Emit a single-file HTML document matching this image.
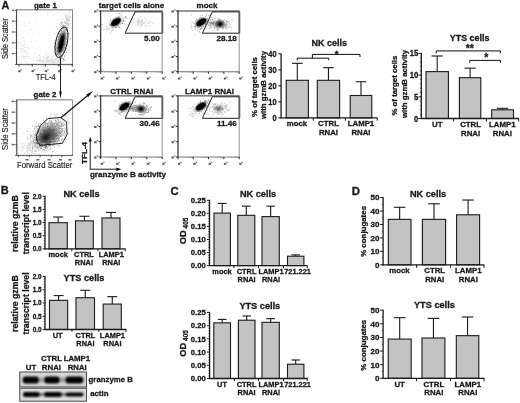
<!DOCTYPE html>
<html><head><meta charset="utf-8"><title>Figure</title>
<style>html,body{margin:0;padding:0;background:#fff;}svg{display:block;font-family:"Liberation Sans", sans-serif;}text{font-family:"Liberation Sans",sans-serif;}</style></head><body>
<svg width="520" height="403" viewBox="0 0 520 403">
<defs><radialGradient id="gb"><stop offset="0" stop-color="#000" stop-opacity="1"/><stop offset="0.45" stop-color="#111" stop-opacity="0.9"/><stop offset="0.8" stop-color="#333" stop-opacity="0.4"/><stop offset="1" stop-color="#555" stop-opacity="0"/></radialGradient><radialGradient id="gl"><stop offset="0" stop-color="#222" stop-opacity="0.75"/><stop offset="0.6" stop-color="#444" stop-opacity="0.35"/><stop offset="1" stop-color="#666" stop-opacity="0"/></radialGradient><filter id="bl" x="-20%" y="-20%" width="140%" height="140%"><feGaussianBlur stdDeviation="0.8"/></filter><filter id="bl5" x="-30%" y="-30%" width="160%" height="160%"><feGaussianBlur stdDeviation="0.7"/></filter><filter id="bl10" x="-30%" y="-30%" width="160%" height="160%"><feGaussianBlur stdDeviation="1.3"/></filter><filter id="soft" x="-5%" y="-5%" width="110%" height="110%"><feGaussianBlur stdDeviation="0.42"/></filter></defs>
<rect width="520" height="403" fill="#fff"/>
<g filter="url(#soft)">
<text transform="translate(1.4 9.2)" font-size="10.8" font-weight="bold" text-anchor="start" fill="#1a1a1a" stroke="#1a1a1a" stroke-width="0.3">A</text>
<text transform="translate(45.4 7.6)" font-size="7.9" font-weight="bold" text-anchor="middle" fill="#1a1a1a" stroke="#1a1a1a" stroke-width="0.3">gate 1</text>
<text transform="translate(8.3 38.7) rotate(-90) scale(0.87 1)" font-size="8.6" font-weight="normal" text-anchor="middle" fill="#1a1a1a" stroke="#1a1a1a" stroke-width="0.15">Side Scatter</text>
<text transform="translate(45.7 80.3) scale(0.82 1)" font-size="9.2" font-weight="normal" text-anchor="middle" fill="#1a1a1a" stroke="#1a1a1a" stroke-width="0.15">TFL-4</text>
<path d="M35.1 18.7h0.8v0.8h-0.8zM52.7 14.6h0.8v0.8h-0.8zM46.5 30.0h0.8v0.8h-0.8zM20.7 37.5h0.8v0.8h-0.8zM19.6 33.6h0.8v0.8h-0.8zM21.4 15.6h0.8v0.8h-0.8zM40.5 54.3h0.8v0.8h-0.8zM24.3 22.5h0.8v0.8h-0.8zM51.4 60.6h0.8v0.8h-0.8zM48.7 31.7h0.8v0.8h-0.8zM70.2 13.3h0.8v0.8h-0.8zM63.9 26.0h0.8v0.8h-0.8zM25.4 17.0h0.8v0.8h-0.8zM34.2 53.7h0.8v0.8h-0.8zM27.3 41.4h0.8v0.8h-0.8zM52.0 30.4h0.8v0.8h-0.8zM47.1 14.1h0.8v0.8h-0.8zM20.8 21.6h0.8v0.8h-0.8zM54.3 33.3h0.8v0.8h-0.8zM34.5 41.6h0.8v0.8h-0.8zM42.0 26.6h0.8v0.8h-0.8zM60.4 47.6h0.8v0.8h-0.8zM30.8 41.0h0.8v0.8h-0.8zM45.9 56.8h0.8v0.8h-0.8zM56.9 25.9h0.8v0.8h-0.8zM70.4 17.0h0.8v0.8h-0.8zM40.1 50.6h0.8v0.8h-0.8zM25.8 36.5h0.8v0.8h-0.8zM19.7 45.9h0.8v0.8h-0.8zM58.8 40.9h0.8v0.8h-0.8zM64.8 27.3h0.8v0.8h-0.8zM55.1 42.1h0.8v0.8h-0.8zM48.9 34.8h0.8v0.8h-0.8zM62.9 60.5h0.8v0.8h-0.8zM43.2 45.7h0.8v0.8h-0.8zM20.9 47.7h0.8v0.8h-0.8zM52.5 63.0h0.8v0.8h-0.8zM61.9 25.8h0.8v0.8h-0.8zM38.4 46.0h0.8v0.8h-0.8zM18.8 35.1h0.8v0.8h-0.8zM26.7 17.0h0.8v0.8h-0.8zM20.8 51.2h0.8v0.8h-0.8zM24.6 23.8h0.8v0.8h-0.8zM38.7 56.6h0.8v0.8h-0.8zM21.9 34.4h0.8v0.8h-0.8zM47.2 57.3h0.8v0.8h-0.8zM61.8 56.2h0.8v0.8h-0.8zM32.6 32.6h0.8v0.8h-0.8zM36.9 57.3h0.8v0.8h-0.8zM69.2 18.7h0.8v0.8h-0.8zM27.1 23.0h0.8v0.8h-0.8zM30.2 36.3h0.8v0.8h-0.8zM49.4 24.6h0.8v0.8h-0.8zM17.8 32.8h0.8v0.8h-0.8zM37.5 40.6h0.8v0.8h-0.8zM69.0 47.1h0.8v0.8h-0.8zM45.4 43.3h0.8v0.8h-0.8zM54.0 13.6h0.8v0.8h-0.8zM66.1 51.8h0.8v0.8h-0.8zM64.7 52.8h0.8v0.8h-0.8zM38.7 31.8h0.8v0.8h-0.8zM23.2 44.2h0.8v0.8h-0.8zM21.0 14.3h0.8v0.8h-0.8zM28.9 19.3h0.8v0.8h-0.8zM35.9 13.6h0.8v0.8h-0.8zM17.6 18.8h0.8v0.8h-0.8zM23.1 29.9h0.8v0.8h-0.8zM19.0 56.8h0.8v0.8h-0.8zM50.7 18.6h0.8v0.8h-0.8zM31.2 29.1h0.8v0.8h-0.8zM37.2 17.3h0.8v0.8h-0.8zM63.4 63.0h0.8v0.8h-0.8zM42.7 36.2h0.8v0.8h-0.8zM22.2 16.2h0.8v0.8h-0.8zM36.1 24.7h0.8v0.8h-0.8zM62.3 19.3h0.8v0.8h-0.8zM18.8 60.8h0.8v0.8h-0.8zM46.1 18.5h0.8v0.8h-0.8zM46.9 12.2h0.8v0.8h-0.8zM46.1 62.3h0.8v0.8h-0.8zM64.1 47.4h0.8v0.8h-0.8zM31.7 30.1h0.8v0.8h-0.8zM26.6 51.4h0.8v0.8h-0.8zM46.3 51.8h0.8v0.8h-0.8zM35.4 22.5h0.8v0.8h-0.8zM61.3 62.6h0.8v0.8h-0.8zM63.6 53.2h0.8v0.8h-0.8zM61.7 49.7h0.8v0.8h-0.8zM29.8 38.0h0.8v0.8h-0.8zM36.8 12.3h0.8v0.8h-0.8zM19.1 25.5h0.8v0.8h-0.8zM31.6 47.2h0.8v0.8h-0.8zM69.2 34.3h0.8v0.8h-0.8zM68.1 62.8h0.8v0.8h-0.8zM69.1 30.0h0.8v0.8h-0.8zM29.5 22.7h0.8v0.8h-0.8zM28.2 21.6h0.8v0.8h-0.8zM51.2 58.2h0.8v0.8h-0.8zM62.9 36.0h0.8v0.8h-0.8zM52.8 52.9h0.8v0.8h-0.8zM22.2 45.5h0.8v0.8h-0.8zM66.6 51.9h0.8v0.8h-0.8zM58.0 35.9h0.8v0.8h-0.8zM27.2 52.3h0.8v0.8h-0.8zM35.5 52.9h0.8v0.8h-0.8zM70.0 31.6h0.8v0.8h-0.8zM39.2 60.6h0.8v0.8h-0.8zM56.7 19.7h0.8v0.8h-0.8zM24.4 18.8h0.8v0.8h-0.8zM66.4 53.2h0.8v0.8h-0.8z" fill="#222" fill-opacity="0.13"/>
<path d="M26.3 62.4h0.9v0.9h-0.9zM27.1 47.4h0.9v0.9h-0.9zM21.6 58.2h0.9v0.9h-0.9zM23.8 50.1h0.9v0.9h-0.9zM27.1 46.6h0.9v0.9h-0.9zM17.8 45.5h0.9v0.9h-0.9zM18.9 56.4h0.9v0.9h-0.9zM24.3 43.5h0.9v0.9h-0.9zM23.5 56.5h0.9v0.9h-0.9zM23.7 60.9h0.9v0.9h-0.9zM23.3 58.4h0.9v0.9h-0.9zM27.2 63.5h0.9v0.9h-0.9zM21.8 56.9h0.9v0.9h-0.9zM18.8 39.2h0.9v0.9h-0.9zM18.6 58.6h0.9v0.9h-0.9zM20.4 48.9h0.9v0.9h-0.9zM23.0 48.7h0.9v0.9h-0.9zM22.0 51.1h0.9v0.9h-0.9zM28.0 49.4h0.9v0.9h-0.9zM24.8 58.0h0.9v0.9h-0.9zM23.0 37.7h0.9v0.9h-0.9zM22.1 58.7h0.9v0.9h-0.9zM19.4 43.6h0.9v0.9h-0.9zM26.0 56.1h0.9v0.9h-0.9zM23.5 56.2h0.9v0.9h-0.9zM23.9 38.4h0.9v0.9h-0.9zM19.6 43.2h0.9v0.9h-0.9zM25.8 43.9h0.9v0.9h-0.9zM21.2 42.1h0.9v0.9h-0.9zM19.7 47.9h0.9v0.9h-0.9zM20.6 52.3h0.9v0.9h-0.9zM17.6 52.0h0.9v0.9h-0.9zM21.9 31.5h0.9v0.9h-0.9zM25.3 46.5h0.9v0.9h-0.9zM17.9 41.1h0.9v0.9h-0.9zM24.2 44.9h0.9v0.9h-0.9zM25.4 55.7h0.9v0.9h-0.9zM25.2 51.9h0.9v0.9h-0.9zM26.8 54.9h0.9v0.9h-0.9zM24.6 30.2h0.9v0.9h-0.9zM25.7 60.8h0.9v0.9h-0.9zM22.8 44.8h0.9v0.9h-0.9zM28.4 33.2h0.9v0.9h-0.9zM21.2 55.2h0.9v0.9h-0.9zM28.2 47.9h0.9v0.9h-0.9zM24.9 57.1h0.9v0.9h-0.9zM21.2 48.2h0.9v0.9h-0.9zM24.2 56.4h0.9v0.9h-0.9zM23.4 47.2h0.9v0.9h-0.9zM21.0 45.8h0.9v0.9h-0.9zM25.7 49.9h0.9v0.9h-0.9zM21.4 41.4h0.9v0.9h-0.9zM30.2 59.3h0.9v0.9h-0.9zM25.1 25.7h0.9v0.9h-0.9zM25.1 53.3h0.9v0.9h-0.9zM27.7 52.8h0.9v0.9h-0.9zM23.3 53.7h0.9v0.9h-0.9zM18.6 58.3h0.9v0.9h-0.9zM24.3 42.7h0.9v0.9h-0.9zM20.0 43.0h0.9v0.9h-0.9zM24.2 50.7h0.9v0.9h-0.9zM22.5 40.2h0.9v0.9h-0.9zM28.8 58.3h0.9v0.9h-0.9zM20.5 36.9h0.9v0.9h-0.9zM27.8 57.9h0.9v0.9h-0.9zM28.1 56.3h0.9v0.9h-0.9zM21.3 51.3h0.9v0.9h-0.9zM18.1 42.3h0.9v0.9h-0.9zM23.4 53.7h0.9v0.9h-0.9zM21.7 47.9h0.9v0.9h-0.9zM24.6 52.4h0.9v0.9h-0.9zM25.1 50.9h0.9v0.9h-0.9zM22.7 56.1h0.9v0.9h-0.9zM23.6 41.6h0.9v0.9h-0.9zM21.9 49.0h0.9v0.9h-0.9zM23.2 50.4h0.9v0.9h-0.9zM23.5 50.6h0.9v0.9h-0.9zM23.2 37.7h0.9v0.9h-0.9zM24.6 58.5h0.9v0.9h-0.9zM24.6 47.3h0.9v0.9h-0.9zM24.6 40.3h0.9v0.9h-0.9zM18.8 49.5h0.9v0.9h-0.9zM21.2 55.7h0.9v0.9h-0.9zM20.8 25.3h0.9v0.9h-0.9zM20.9 63.2h0.9v0.9h-0.9zM22.5 36.7h0.9v0.9h-0.9zM21.6 53.7h0.9v0.9h-0.9zM24.7 50.6h0.9v0.9h-0.9z" fill="#222" fill-opacity="0.14"/>
<path d="M59.9 61.8h0.9v0.9h-0.9zM47.8 61.5h0.9v0.9h-0.9zM61.2 62.4h0.9v0.9h-0.9zM56.2 57.3h0.9v0.9h-0.9zM46.8 61.8h0.9v0.9h-0.9zM45.6 62.7h0.9v0.9h-0.9zM52.8 62.3h0.9v0.9h-0.9zM57.9 59.5h0.9v0.9h-0.9zM45.3 62.2h0.9v0.9h-0.9zM55.8 60.0h0.9v0.9h-0.9zM38.7 60.5h0.9v0.9h-0.9zM50.9 62.8h0.9v0.9h-0.9zM54.3 60.1h0.9v0.9h-0.9zM54.8 61.3h0.9v0.9h-0.9zM49.6 60.1h0.9v0.9h-0.9zM46.1 61.7h0.9v0.9h-0.9zM39.6 58.4h0.9v0.9h-0.9zM48.0 56.3h0.9v0.9h-0.9zM44.5 55.0h0.9v0.9h-0.9zM42.5 61.4h0.9v0.9h-0.9zM52.5 59.9h0.9v0.9h-0.9zM46.1 56.5h0.9v0.9h-0.9zM62.6 61.3h0.9v0.9h-0.9zM56.7 57.8h0.9v0.9h-0.9zM46.5 55.5h0.9v0.9h-0.9zM54.2 62.3h0.9v0.9h-0.9zM32.8 59.9h0.9v0.9h-0.9zM53.0 55.6h0.9v0.9h-0.9zM33.4 57.3h0.9v0.9h-0.9zM43.0 56.5h0.9v0.9h-0.9zM48.3 60.6h0.9v0.9h-0.9zM53.1 61.8h0.9v0.9h-0.9zM60.0 62.9h0.9v0.9h-0.9zM37.5 58.7h0.9v0.9h-0.9zM39.5 57.3h0.9v0.9h-0.9zM47.3 60.0h0.9v0.9h-0.9zM51.9 56.0h0.9v0.9h-0.9zM38.1 59.9h0.9v0.9h-0.9zM46.4 59.2h0.9v0.9h-0.9zM47.5 58.1h0.9v0.9h-0.9zM53.6 60.9h0.9v0.9h-0.9zM47.3 58.3h0.9v0.9h-0.9zM46.6 53.2h0.9v0.9h-0.9zM40.1 60.1h0.9v0.9h-0.9zM36.0 60.5h0.9v0.9h-0.9zM49.2 56.6h0.9v0.9h-0.9zM46.0 59.2h0.9v0.9h-0.9zM51.7 61.5h0.9v0.9h-0.9zM47.7 57.9h0.9v0.9h-0.9zM46.8 59.8h0.9v0.9h-0.9zM53.9 60.7h0.9v0.9h-0.9zM42.2 56.6h0.9v0.9h-0.9zM45.0 58.1h0.9v0.9h-0.9zM39.1 59.7h0.9v0.9h-0.9zM44.1 60.3h0.9v0.9h-0.9zM52.2 59.0h0.9v0.9h-0.9zM66.6 59.2h0.9v0.9h-0.9zM56.8 60.3h0.9v0.9h-0.9zM56.9 54.1h0.9v0.9h-0.9zM42.0 60.6h0.9v0.9h-0.9zM50.6 63.2h0.9v0.9h-0.9zM54.1 62.4h0.9v0.9h-0.9zM52.1 59.6h0.9v0.9h-0.9zM52.1 57.3h0.9v0.9h-0.9zM57.5 57.5h0.9v0.9h-0.9zM46.2 60.0h0.9v0.9h-0.9zM57.3 60.1h0.9v0.9h-0.9zM41.5 60.6h0.9v0.9h-0.9zM52.7 61.8h0.9v0.9h-0.9zM41.8 64.4h0.9v0.9h-0.9zM61.3 60.0h0.9v0.9h-0.9zM50.1 58.9h0.9v0.9h-0.9zM59.3 58.2h0.9v0.9h-0.9zM53.4 58.8h0.9v0.9h-0.9zM42.4 61.8h0.9v0.9h-0.9zM58.7 60.0h0.9v0.9h-0.9zM42.6 62.0h0.9v0.9h-0.9zM47.6 60.8h0.9v0.9h-0.9zM60.2 62.8h0.9v0.9h-0.9zM48.0 62.0h0.9v0.9h-0.9zM42.8 59.9h0.9v0.9h-0.9zM58.9 57.0h0.9v0.9h-0.9zM36.0 55.9h0.9v0.9h-0.9zM57.4 58.9h0.9v0.9h-0.9zM47.5 59.2h0.9v0.9h-0.9zM47.0 57.3h0.9v0.9h-0.9zM48.2 56.4h0.9v0.9h-0.9zM47.4 60.8h0.9v0.9h-0.9zM51.7 59.4h0.9v0.9h-0.9zM40.8 60.4h0.9v0.9h-0.9zM44.1 63.9h0.9v0.9h-0.9zM54.1 59.7h0.9v0.9h-0.9zM44.2 58.2h0.9v0.9h-0.9zM40.5 59.1h0.9v0.9h-0.9zM50.4 61.3h0.9v0.9h-0.9zM42.4 60.0h0.9v0.9h-0.9zM70.4 55.3h0.9v0.9h-0.9zM43.8 60.4h0.9v0.9h-0.9zM49.2 61.0h0.9v0.9h-0.9zM46.1 60.9h0.9v0.9h-0.9zM48.4 61.9h0.9v0.9h-0.9zM32.9 57.8h0.9v0.9h-0.9zM48.0 57.4h0.9v0.9h-0.9zM39.6 61.6h0.9v0.9h-0.9zM42.8 61.6h0.9v0.9h-0.9zM54.0 60.8h0.9v0.9h-0.9zM52.1 59.7h0.9v0.9h-0.9zM36.7 59.9h0.9v0.9h-0.9zM51.6 58.7h0.9v0.9h-0.9zM47.2 61.9h0.9v0.9h-0.9zM41.0 61.6h0.9v0.9h-0.9zM62.9 58.6h0.9v0.9h-0.9zM49.2 59.6h0.9v0.9h-0.9zM60.3 60.8h0.9v0.9h-0.9zM55.2 58.3h0.9v0.9h-0.9zM47.9 60.0h0.9v0.9h-0.9zM33.8 63.6h0.9v0.9h-0.9zM55.2 55.6h0.9v0.9h-0.9zM54.0 59.7h0.9v0.9h-0.9zM51.6 60.9h0.9v0.9h-0.9zM36.0 59.5h0.9v0.9h-0.9zM59.9 58.6h0.9v0.9h-0.9zM39.8 56.6h0.9v0.9h-0.9zM38.2 60.8h0.9v0.9h-0.9zM61.5 61.1h0.9v0.9h-0.9zM43.8 58.3h0.9v0.9h-0.9zM52.2 61.4h0.9v0.9h-0.9zM39.9 57.1h0.9v0.9h-0.9zM50.3 60.6h0.9v0.9h-0.9zM37.5 59.5h0.9v0.9h-0.9zM43.7 61.2h0.9v0.9h-0.9zM47.1 59.8h0.9v0.9h-0.9zM45.2 62.6h0.9v0.9h-0.9zM59.1 59.1h0.9v0.9h-0.9zM54.8 58.1h0.9v0.9h-0.9zM48.6 61.9h0.9v0.9h-0.9zM60.1 59.0h0.9v0.9h-0.9zM47.4 60.5h0.9v0.9h-0.9zM36.0 60.0h0.9v0.9h-0.9zM42.6 60.9h0.9v0.9h-0.9zM39.0 55.1h0.9v0.9h-0.9zM48.3 60.7h0.9v0.9h-0.9zM43.6 62.2h0.9v0.9h-0.9zM45.8 58.5h0.9v0.9h-0.9zM51.8 56.1h0.9v0.9h-0.9zM42.6 59.9h0.9v0.9h-0.9zM54.8 59.6h0.9v0.9h-0.9zM50.5 58.4h0.9v0.9h-0.9zM50.4 64.2h0.9v0.9h-0.9zM42.8 60.0h0.9v0.9h-0.9zM49.4 62.6h0.9v0.9h-0.9zM38.1 54.7h0.9v0.9h-0.9zM52.8 62.0h0.9v0.9h-0.9zM49.6 60.6h0.9v0.9h-0.9zM55.4 60.9h0.9v0.9h-0.9zM61.3 56.9h0.9v0.9h-0.9zM45.0 51.4h0.9v0.9h-0.9zM54.5 59.1h0.9v0.9h-0.9zM48.0 59.4h0.9v0.9h-0.9z" fill="#222" fill-opacity="0.14"/>
<path d="M66.3 15.2h0.9v0.9h-0.9zM63.6 26.7h0.9v0.9h-0.9zM66.0 22.5h0.9v0.9h-0.9zM64.2 29.1h0.9v0.9h-0.9zM67.3 21.1h0.9v0.9h-0.9zM67.7 21.1h0.9v0.9h-0.9zM61.2 32.9h0.9v0.9h-0.9zM68.5 14.7h0.9v0.9h-0.9zM67.8 25.2h0.9v0.9h-0.9zM60.1 33.9h0.9v0.9h-0.9zM65.3 29.1h0.9v0.9h-0.9zM66.7 20.9h0.9v0.9h-0.9zM61.1 28.9h0.9v0.9h-0.9zM66.5 19.8h0.9v0.9h-0.9zM66.6 22.8h0.9v0.9h-0.9zM68.0 19.4h0.9v0.9h-0.9zM64.0 27.1h0.9v0.9h-0.9zM69.5 19.7h0.9v0.9h-0.9zM63.2 34.4h0.9v0.9h-0.9zM64.1 27.6h0.9v0.9h-0.9zM69.6 23.0h0.9v0.9h-0.9zM69.8 17.0h0.9v0.9h-0.9zM66.6 21.5h0.9v0.9h-0.9zM64.5 30.9h0.9v0.9h-0.9zM72.2 17.8h0.9v0.9h-0.9zM64.0 25.6h0.9v0.9h-0.9zM62.9 25.4h0.9v0.9h-0.9zM67.7 20.1h0.9v0.9h-0.9zM69.6 10.1h0.9v0.9h-0.9zM70.1 10.2h0.9v0.9h-0.9zM65.4 17.3h0.9v0.9h-0.9zM63.8 28.6h0.9v0.9h-0.9zM66.8 18.9h0.9v0.9h-0.9zM64.7 34.6h0.9v0.9h-0.9zM65.4 24.9h0.9v0.9h-0.9zM68.2 24.6h0.9v0.9h-0.9zM59.3 41.0h0.9v0.9h-0.9zM65.3 25.3h0.9v0.9h-0.9zM67.0 27.7h0.9v0.9h-0.9zM67.1 13.6h0.9v0.9h-0.9zM64.6 30.1h0.9v0.9h-0.9zM65.3 13.5h0.9v0.9h-0.9zM66.1 18.5h0.9v0.9h-0.9zM68.1 16.7h0.9v0.9h-0.9zM64.7 18.5h0.9v0.9h-0.9zM66.9 16.8h0.9v0.9h-0.9zM64.8 27.9h0.9v0.9h-0.9zM65.8 35.9h0.9v0.9h-0.9zM65.0 18.4h0.9v0.9h-0.9zM57.6 35.8h0.9v0.9h-0.9zM64.5 21.4h0.9v0.9h-0.9zM69.3 11.6h0.9v0.9h-0.9zM67.0 22.0h0.9v0.9h-0.9zM61.6 23.5h0.9v0.9h-0.9zM67.4 24.0h0.9v0.9h-0.9zM66.3 25.7h0.9v0.9h-0.9zM69.2 20.8h0.9v0.9h-0.9zM68.5 19.2h0.9v0.9h-0.9zM68.9 15.9h0.9v0.9h-0.9zM63.0 35.5h0.9v0.9h-0.9zM67.2 21.0h0.9v0.9h-0.9zM64.8 15.3h0.9v0.9h-0.9zM64.9 29.5h0.9v0.9h-0.9zM66.1 26.3h0.9v0.9h-0.9zM63.8 32.6h0.9v0.9h-0.9zM66.0 17.5h0.9v0.9h-0.9zM67.8 22.9h0.9v0.9h-0.9zM66.3 17.4h0.9v0.9h-0.9zM64.5 26.8h0.9v0.9h-0.9zM68.7 12.7h0.9v0.9h-0.9zM66.6 23.6h0.9v0.9h-0.9zM62.6 27.6h0.9v0.9h-0.9zM65.9 19.2h0.9v0.9h-0.9zM65.6 32.7h0.9v0.9h-0.9zM63.8 25.1h0.9v0.9h-0.9zM60.4 39.8h0.9v0.9h-0.9zM63.0 31.2h0.9v0.9h-0.9zM63.3 28.1h0.9v0.9h-0.9zM64.3 25.7h0.9v0.9h-0.9zM66.9 16.7h0.9v0.9h-0.9zM70.5 23.6h0.9v0.9h-0.9zM61.1 28.0h0.9v0.9h-0.9zM60.5 30.3h0.9v0.9h-0.9zM64.5 22.9h0.9v0.9h-0.9zM68.5 23.5h0.9v0.9h-0.9zM67.4 28.3h0.9v0.9h-0.9zM62.9 28.4h0.9v0.9h-0.9zM66.0 27.3h0.9v0.9h-0.9zM61.6 18.6h0.9v0.9h-0.9zM66.8 28.1h0.9v0.9h-0.9zM65.6 25.9h0.9v0.9h-0.9zM65.2 22.1h0.9v0.9h-0.9zM68.6 18.9h0.9v0.9h-0.9zM69.7 16.3h0.9v0.9h-0.9zM67.4 18.0h0.9v0.9h-0.9zM67.4 16.7h0.9v0.9h-0.9zM60.8 29.9h0.9v0.9h-0.9zM67.5 17.8h0.9v0.9h-0.9zM64.9 29.9h0.9v0.9h-0.9zM64.1 20.7h0.9v0.9h-0.9zM66.3 26.4h0.9v0.9h-0.9zM68.2 25.1h0.9v0.9h-0.9zM66.5 19.8h0.9v0.9h-0.9zM67.2 18.8h0.9v0.9h-0.9zM65.0 15.8h0.9v0.9h-0.9zM65.7 16.9h0.9v0.9h-0.9zM62.5 26.5h0.9v0.9h-0.9zM62.1 26.6h0.9v0.9h-0.9zM63.3 24.3h0.9v0.9h-0.9zM68.6 24.2h0.9v0.9h-0.9zM64.3 22.1h0.9v0.9h-0.9zM64.4 23.0h0.9v0.9h-0.9zM64.9 22.4h0.9v0.9h-0.9zM66.4 28.3h0.9v0.9h-0.9zM67.0 27.0h0.9v0.9h-0.9zM65.4 21.7h0.9v0.9h-0.9zM65.9 19.4h0.9v0.9h-0.9zM65.3 21.7h0.9v0.9h-0.9zM63.9 21.4h0.9v0.9h-0.9zM67.4 20.9h0.9v0.9h-0.9zM63.9 43.2h0.9v0.9h-0.9zM60.4 21.9h0.9v0.9h-0.9zM67.6 19.9h0.9v0.9h-0.9zM67.2 25.3h0.9v0.9h-0.9zM67.0 17.4h0.9v0.9h-0.9zM68.1 18.5h0.9v0.9h-0.9zM67.3 18.1h0.9v0.9h-0.9zM61.2 20.8h0.9v0.9h-0.9zM65.2 28.0h0.9v0.9h-0.9zM64.2 21.4h0.9v0.9h-0.9zM67.1 23.4h0.9v0.9h-0.9zM65.5 38.2h0.9v0.9h-0.9zM65.4 34.4h0.9v0.9h-0.9zM66.7 28.8h0.9v0.9h-0.9zM65.8 16.1h0.9v0.9h-0.9z" fill="#222" fill-opacity="0.2"/>
<path d="M65.1 35.4h0.9v0.9h-0.9zM58.4 33.3h0.9v0.9h-0.9zM64.4 59.8h0.9v0.9h-0.9zM60.8 36.1h0.9v0.9h-0.9zM63.2 36.4h0.9v0.9h-0.9zM64.8 42.5h0.9v0.9h-0.9zM56.3 52.8h0.9v0.9h-0.9zM59.4 44.0h0.9v0.9h-0.9zM61.8 39.9h0.9v0.9h-0.9zM63.3 36.9h0.9v0.9h-0.9zM60.3 23.2h0.9v0.9h-0.9zM59.4 35.5h0.9v0.9h-0.9zM61.1 42.9h0.9v0.9h-0.9zM62.5 43.8h0.9v0.9h-0.9zM60.5 36.2h0.9v0.9h-0.9zM56.2 40.0h0.9v0.9h-0.9zM61.6 47.2h0.9v0.9h-0.9zM61.3 41.0h0.9v0.9h-0.9zM63.7 43.1h0.9v0.9h-0.9zM62.2 47.7h0.9v0.9h-0.9zM59.6 53.5h0.9v0.9h-0.9zM60.4 39.2h0.9v0.9h-0.9zM60.6 35.4h0.9v0.9h-0.9zM62.3 58.0h0.9v0.9h-0.9zM60.4 47.2h0.9v0.9h-0.9zM62.9 49.8h0.9v0.9h-0.9zM66.5 32.6h0.9v0.9h-0.9zM58.9 45.9h0.9v0.9h-0.9zM64.8 44.1h0.9v0.9h-0.9zM59.7 39.1h0.9v0.9h-0.9zM61.1 35.0h0.9v0.9h-0.9zM66.2 38.1h0.9v0.9h-0.9zM57.7 60.5h0.9v0.9h-0.9zM63.8 45.9h0.9v0.9h-0.9zM59.0 45.6h0.9v0.9h-0.9zM64.4 48.5h0.9v0.9h-0.9zM64.3 44.0h0.9v0.9h-0.9zM63.0 41.1h0.9v0.9h-0.9zM60.2 53.6h0.9v0.9h-0.9zM57.8 41.2h0.9v0.9h-0.9zM62.9 37.9h0.9v0.9h-0.9zM59.2 48.9h0.9v0.9h-0.9zM65.3 48.8h0.9v0.9h-0.9zM64.8 29.7h0.9v0.9h-0.9zM66.1 44.1h0.9v0.9h-0.9zM63.1 33.2h0.9v0.9h-0.9zM63.0 33.3h0.9v0.9h-0.9zM60.7 46.4h0.9v0.9h-0.9zM60.9 44.8h0.9v0.9h-0.9zM56.7 54.0h0.9v0.9h-0.9zM62.7 27.0h0.9v0.9h-0.9zM62.1 36.0h0.9v0.9h-0.9zM59.3 39.0h0.9v0.9h-0.9zM64.0 32.8h0.9v0.9h-0.9zM58.5 54.3h0.9v0.9h-0.9zM63.3 41.6h0.9v0.9h-0.9zM61.8 41.6h0.9v0.9h-0.9zM59.9 48.6h0.9v0.9h-0.9zM65.1 22.4h0.9v0.9h-0.9zM62.7 35.1h0.9v0.9h-0.9zM64.0 37.8h0.9v0.9h-0.9zM58.0 60.7h0.9v0.9h-0.9zM60.5 32.6h0.9v0.9h-0.9zM61.7 21.8h0.9v0.9h-0.9zM55.9 44.6h0.9v0.9h-0.9zM62.8 26.6h0.9v0.9h-0.9zM56.5 46.9h0.9v0.9h-0.9zM59.9 39.0h0.9v0.9h-0.9zM59.9 54.0h0.9v0.9h-0.9zM64.5 52.1h0.9v0.9h-0.9zM61.4 44.1h0.9v0.9h-0.9zM63.5 55.3h0.9v0.9h-0.9zM59.7 46.2h0.9v0.9h-0.9zM61.9 43.1h0.9v0.9h-0.9zM62.3 31.2h0.9v0.9h-0.9zM62.5 29.4h0.9v0.9h-0.9zM63.5 47.6h0.9v0.9h-0.9zM55.9 53.5h0.9v0.9h-0.9zM66.8 27.1h0.9v0.9h-0.9zM64.6 50.2h0.9v0.9h-0.9zM68.6 33.3h0.9v0.9h-0.9zM61.9 46.3h0.9v0.9h-0.9zM61.5 44.0h0.9v0.9h-0.9zM66.5 30.6h0.9v0.9h-0.9zM60.5 30.2h0.9v0.9h-0.9zM60.9 37.2h0.9v0.9h-0.9zM61.8 44.9h0.9v0.9h-0.9zM62.5 36.9h0.9v0.9h-0.9zM58.6 50.2h0.9v0.9h-0.9zM63.1 43.7h0.9v0.9h-0.9zM57.9 55.3h0.9v0.9h-0.9zM58.7 47.6h0.9v0.9h-0.9zM64.7 40.9h0.9v0.9h-0.9zM65.3 33.6h0.9v0.9h-0.9zM63.5 44.7h0.9v0.9h-0.9zM56.1 47.3h0.9v0.9h-0.9zM56.9 52.7h0.9v0.9h-0.9zM59.8 40.8h0.9v0.9h-0.9zM62.6 39.9h0.9v0.9h-0.9zM62.9 38.0h0.9v0.9h-0.9zM63.0 42.9h0.9v0.9h-0.9zM66.5 19.7h0.9v0.9h-0.9zM64.2 43.4h0.9v0.9h-0.9zM56.6 42.4h0.9v0.9h-0.9zM60.7 51.7h0.9v0.9h-0.9zM55.9 54.8h0.9v0.9h-0.9zM56.8 62.4h0.9v0.9h-0.9zM59.8 48.1h0.9v0.9h-0.9zM62.3 33.0h0.9v0.9h-0.9zM62.6 50.6h0.9v0.9h-0.9zM63.8 50.4h0.9v0.9h-0.9zM62.6 28.4h0.9v0.9h-0.9zM60.8 36.5h0.9v0.9h-0.9zM58.2 46.9h0.9v0.9h-0.9zM62.6 40.4h0.9v0.9h-0.9zM62.0 41.4h0.9v0.9h-0.9zM60.6 48.9h0.9v0.9h-0.9zM64.9 37.3h0.9v0.9h-0.9zM55.0 53.6h0.9v0.9h-0.9zM59.7 51.8h0.9v0.9h-0.9zM57.7 38.9h0.9v0.9h-0.9zM63.8 30.5h0.9v0.9h-0.9zM58.8 48.3h0.9v0.9h-0.9zM61.4 56.3h0.9v0.9h-0.9zM61.5 30.4h0.9v0.9h-0.9zM61.0 50.6h0.9v0.9h-0.9zM64.0 31.8h0.9v0.9h-0.9zM62.0 49.5h0.9v0.9h-0.9zM63.5 38.7h0.9v0.9h-0.9zM60.7 49.2h0.9v0.9h-0.9zM63.0 26.9h0.9v0.9h-0.9zM61.3 46.7h0.9v0.9h-0.9zM59.8 49.9h0.9v0.9h-0.9zM59.9 41.5h0.9v0.9h-0.9zM59.6 47.1h0.9v0.9h-0.9zM65.8 41.2h0.9v0.9h-0.9zM64.0 56.3h0.9v0.9h-0.9zM62.3 47.8h0.9v0.9h-0.9zM66.1 41.9h0.9v0.9h-0.9zM62.8 33.6h0.9v0.9h-0.9zM60.2 53.9h0.9v0.9h-0.9zM61.9 46.3h0.9v0.9h-0.9zM60.5 43.8h0.9v0.9h-0.9zM55.9 50.5h0.9v0.9h-0.9zM62.1 33.1h0.9v0.9h-0.9zM60.8 35.2h0.9v0.9h-0.9zM61.7 51.8h0.9v0.9h-0.9zM56.3 49.5h0.9v0.9h-0.9zM64.5 38.1h0.9v0.9h-0.9zM58.8 35.5h0.9v0.9h-0.9zM59.1 45.0h0.9v0.9h-0.9zM63.8 25.4h0.9v0.9h-0.9zM64.5 29.8h0.9v0.9h-0.9zM65.6 32.9h0.9v0.9h-0.9zM61.0 35.0h0.9v0.9h-0.9zM57.7 53.0h0.9v0.9h-0.9zM62.5 48.0h0.9v0.9h-0.9zM64.7 29.8h0.9v0.9h-0.9zM60.9 37.6h0.9v0.9h-0.9zM57.9 46.2h0.9v0.9h-0.9zM60.6 36.2h0.9v0.9h-0.9zM62.1 24.8h0.9v0.9h-0.9zM60.6 53.9h0.9v0.9h-0.9zM63.4 34.5h0.9v0.9h-0.9zM54.1 42.5h0.9v0.9h-0.9zM63.9 45.6h0.9v0.9h-0.9zM61.2 55.3h0.9v0.9h-0.9zM64.9 39.4h0.9v0.9h-0.9zM62.7 49.5h0.9v0.9h-0.9zM58.1 38.3h0.9v0.9h-0.9zM57.9 40.9h0.9v0.9h-0.9zM64.6 33.9h0.9v0.9h-0.9zM53.9 52.3h0.9v0.9h-0.9zM59.8 55.0h0.9v0.9h-0.9zM56.1 50.7h0.9v0.9h-0.9zM63.2 60.3h0.9v0.9h-0.9zM60.3 44.6h0.9v0.9h-0.9zM59.2 50.7h0.9v0.9h-0.9zM63.8 43.8h0.9v0.9h-0.9zM56.6 48.0h0.9v0.9h-0.9zM59.0 47.5h0.9v0.9h-0.9zM59.2 56.2h0.9v0.9h-0.9zM65.0 39.3h0.9v0.9h-0.9zM59.2 57.4h0.9v0.9h-0.9zM59.2 45.8h0.9v0.9h-0.9zM62.2 53.6h0.9v0.9h-0.9zM64.9 31.8h0.9v0.9h-0.9zM57.7 43.9h0.9v0.9h-0.9zM58.0 63.9h0.9v0.9h-0.9zM57.2 51.5h0.9v0.9h-0.9zM66.1 29.0h0.9v0.9h-0.9zM58.9 43.5h0.9v0.9h-0.9zM60.3 41.0h0.9v0.9h-0.9zM63.9 36.0h0.9v0.9h-0.9zM63.6 37.4h0.9v0.9h-0.9zM59.0 46.7h0.9v0.9h-0.9zM59.4 44.6h0.9v0.9h-0.9zM65.3 43.6h0.9v0.9h-0.9zM59.7 48.5h0.9v0.9h-0.9zM58.5 51.3h0.9v0.9h-0.9zM57.0 47.0h0.9v0.9h-0.9zM61.3 35.6h0.9v0.9h-0.9zM67.2 36.3h0.9v0.9h-0.9zM64.7 48.9h0.9v0.9h-0.9zM66.7 35.1h0.9v0.9h-0.9zM61.9 55.3h0.9v0.9h-0.9zM61.2 41.4h0.9v0.9h-0.9zM67.3 45.2h0.9v0.9h-0.9zM61.3 37.0h0.9v0.9h-0.9zM61.9 45.5h0.9v0.9h-0.9zM58.8 56.9h0.9v0.9h-0.9zM59.7 46.3h0.9v0.9h-0.9zM66.7 34.9h0.9v0.9h-0.9zM60.9 58.3h0.9v0.9h-0.9zM59.7 32.7h0.9v0.9h-0.9zM61.8 26.6h0.9v0.9h-0.9zM65.6 27.3h0.9v0.9h-0.9zM60.1 54.9h0.9v0.9h-0.9zM57.7 39.0h0.9v0.9h-0.9zM55.1 48.0h0.9v0.9h-0.9zM59.9 39.9h0.9v0.9h-0.9zM60.5 47.1h0.9v0.9h-0.9zM60.4 42.4h0.9v0.9h-0.9zM59.7 43.2h0.9v0.9h-0.9zM58.2 42.4h0.9v0.9h-0.9zM57.2 37.4h0.9v0.9h-0.9zM66.0 44.2h0.9v0.9h-0.9zM57.7 44.0h0.9v0.9h-0.9zM61.6 28.2h0.9v0.9h-0.9zM58.2 48.3h0.9v0.9h-0.9zM62.4 41.9h0.9v0.9h-0.9zM60.8 33.0h0.9v0.9h-0.9zM64.3 45.2h0.9v0.9h-0.9zM62.4 24.4h0.9v0.9h-0.9zM53.6 62.4h0.9v0.9h-0.9zM58.5 41.3h0.9v0.9h-0.9zM62.1 41.3h0.9v0.9h-0.9zM62.9 30.9h0.9v0.9h-0.9zM55.8 56.0h0.9v0.9h-0.9zM57.9 49.2h0.9v0.9h-0.9zM57.4 39.3h0.9v0.9h-0.9zM60.2 51.3h0.9v0.9h-0.9zM57.4 46.9h0.9v0.9h-0.9zM63.5 36.6h0.9v0.9h-0.9zM64.0 35.3h0.9v0.9h-0.9zM59.3 41.9h0.9v0.9h-0.9zM54.6 40.2h0.9v0.9h-0.9zM61.2 29.8h0.9v0.9h-0.9zM58.9 48.6h0.9v0.9h-0.9zM58.1 52.8h0.9v0.9h-0.9zM60.6 31.0h0.9v0.9h-0.9zM64.6 46.6h0.9v0.9h-0.9zM65.1 36.1h0.9v0.9h-0.9zM62.9 45.1h0.9v0.9h-0.9zM62.9 43.0h0.9v0.9h-0.9zM65.5 37.7h0.9v0.9h-0.9zM61.3 29.7h0.9v0.9h-0.9zM65.5 36.9h0.9v0.9h-0.9zM60.2 34.1h0.9v0.9h-0.9zM62.3 31.7h0.9v0.9h-0.9zM61.6 37.1h0.9v0.9h-0.9zM61.5 34.2h0.9v0.9h-0.9zM62.2 38.7h0.9v0.9h-0.9zM61.2 44.6h0.9v0.9h-0.9zM65.9 24.4h0.9v0.9h-0.9zM61.3 35.6h0.9v0.9h-0.9zM65.9 29.8h0.9v0.9h-0.9zM60.0 39.7h0.9v0.9h-0.9zM58.8 50.6h0.9v0.9h-0.9zM58.5 50.3h0.9v0.9h-0.9zM60.6 26.6h0.9v0.9h-0.9zM63.7 46.8h0.9v0.9h-0.9zM62.3 43.8h0.9v0.9h-0.9zM64.6 32.6h0.9v0.9h-0.9zM64.6 38.6h0.9v0.9h-0.9zM63.7 43.7h0.9v0.9h-0.9zM58.4 30.8h0.9v0.9h-0.9zM64.4 41.9h0.9v0.9h-0.9zM59.9 44.3h0.9v0.9h-0.9zM61.1 37.7h0.9v0.9h-0.9zM61.3 43.8h0.9v0.9h-0.9zM65.1 43.7h0.9v0.9h-0.9zM63.0 58.5h0.9v0.9h-0.9zM63.9 52.2h0.9v0.9h-0.9zM61.4 43.7h0.9v0.9h-0.9zM62.2 36.3h0.9v0.9h-0.9zM62.2 37.1h0.9v0.9h-0.9zM64.6 47.8h0.9v0.9h-0.9zM63.4 26.3h0.9v0.9h-0.9zM61.9 39.0h0.9v0.9h-0.9zM60.5 32.5h0.9v0.9h-0.9zM54.6 46.1h0.9v0.9h-0.9zM56.8 64.0h0.9v0.9h-0.9zM61.5 41.2h0.9v0.9h-0.9zM64.8 44.4h0.9v0.9h-0.9zM62.4 39.5h0.9v0.9h-0.9zM57.2 54.7h0.9v0.9h-0.9zM61.0 57.3h0.9v0.9h-0.9zM60.4 42.6h0.9v0.9h-0.9zM57.4 50.1h0.9v0.9h-0.9zM56.8 46.5h0.9v0.9h-0.9zM61.7 54.8h0.9v0.9h-0.9zM57.1 51.1h0.9v0.9h-0.9zM60.8 35.8h0.9v0.9h-0.9zM56.0 51.4h0.9v0.9h-0.9zM66.5 38.4h0.9v0.9h-0.9zM59.9 39.3h0.9v0.9h-0.9zM66.0 52.2h0.9v0.9h-0.9zM62.9 27.3h0.9v0.9h-0.9zM57.6 52.0h0.9v0.9h-0.9zM66.5 41.2h0.9v0.9h-0.9zM60.4 37.9h0.9v0.9h-0.9zM55.0 49.1h0.9v0.9h-0.9zM56.7 50.8h0.9v0.9h-0.9zM59.1 31.0h0.9v0.9h-0.9zM63.3 36.3h0.9v0.9h-0.9zM63.3 43.0h0.9v0.9h-0.9zM57.3 47.1h0.9v0.9h-0.9zM66.7 27.0h0.9v0.9h-0.9zM65.1 47.6h0.9v0.9h-0.9zM66.4 27.4h0.9v0.9h-0.9zM60.1 39.2h0.9v0.9h-0.9zM66.5 30.9h0.9v0.9h-0.9zM62.5 25.1h0.9v0.9h-0.9zM60.1 45.3h0.9v0.9h-0.9zM58.0 36.7h0.9v0.9h-0.9zM59.9 56.0h0.9v0.9h-0.9zM63.5 40.3h0.9v0.9h-0.9zM59.9 34.1h0.9v0.9h-0.9zM59.4 43.4h0.9v0.9h-0.9zM58.4 56.4h0.9v0.9h-0.9zM63.8 33.7h0.9v0.9h-0.9zM63.6 51.2h0.9v0.9h-0.9zM62.8 36.5h0.9v0.9h-0.9zM58.3 33.0h0.9v0.9h-0.9zM65.0 36.3h0.9v0.9h-0.9zM57.6 43.4h0.9v0.9h-0.9zM60.9 47.7h0.9v0.9h-0.9zM60.6 54.6h0.9v0.9h-0.9zM57.5 50.2h0.9v0.9h-0.9zM57.6 47.8h0.9v0.9h-0.9zM61.3 44.6h0.9v0.9h-0.9zM63.8 42.9h0.9v0.9h-0.9zM62.7 50.4h0.9v0.9h-0.9zM62.6 37.8h0.9v0.9h-0.9zM60.3 37.7h0.9v0.9h-0.9zM60.8 42.2h0.9v0.9h-0.9zM67.8 49.4h0.9v0.9h-0.9zM64.7 35.7h0.9v0.9h-0.9zM60.0 39.5h0.9v0.9h-0.9zM63.5 34.0h0.9v0.9h-0.9zM66.4 38.6h0.9v0.9h-0.9zM68.0 23.6h0.9v0.9h-0.9zM60.8 44.8h0.9v0.9h-0.9zM60.8 47.6h0.9v0.9h-0.9zM61.7 44.0h0.9v0.9h-0.9zM57.7 35.6h0.9v0.9h-0.9zM54.3 46.5h0.9v0.9h-0.9zM62.4 41.0h0.9v0.9h-0.9zM60.2 37.2h0.9v0.9h-0.9zM63.1 57.9h0.9v0.9h-0.9zM59.0 53.2h0.9v0.9h-0.9zM60.5 25.6h0.9v0.9h-0.9zM61.5 35.0h0.9v0.9h-0.9zM59.6 43.8h0.9v0.9h-0.9zM70.1 38.6h0.9v0.9h-0.9zM61.0 44.8h0.9v0.9h-0.9zM59.6 50.2h0.9v0.9h-0.9zM67.9 33.1h0.9v0.9h-0.9zM62.2 40.4h0.9v0.9h-0.9zM64.8 29.9h0.9v0.9h-0.9zM60.7 22.3h0.9v0.9h-0.9zM62.3 44.4h0.9v0.9h-0.9zM65.5 22.8h0.9v0.9h-0.9zM61.6 36.0h0.9v0.9h-0.9zM59.2 34.1h0.9v0.9h-0.9zM62.2 47.4h0.9v0.9h-0.9zM60.4 46.8h0.9v0.9h-0.9zM59.6 42.8h0.9v0.9h-0.9zM60.5 47.1h0.9v0.9h-0.9zM61.4 41.3h0.9v0.9h-0.9zM62.0 37.1h0.9v0.9h-0.9zM66.1 47.9h0.9v0.9h-0.9zM58.5 61.8h0.9v0.9h-0.9zM67.5 30.3h0.9v0.9h-0.9zM61.7 49.8h0.9v0.9h-0.9zM63.9 54.4h0.9v0.9h-0.9zM65.3 33.1h0.9v0.9h-0.9zM58.6 44.3h0.9v0.9h-0.9zM64.3 34.3h0.9v0.9h-0.9zM61.0 39.0h0.9v0.9h-0.9zM60.9 45.3h0.9v0.9h-0.9zM62.7 32.0h0.9v0.9h-0.9zM61.8 56.4h0.9v0.9h-0.9zM59.3 51.0h0.9v0.9h-0.9zM61.3 48.2h0.9v0.9h-0.9zM63.8 36.4h0.9v0.9h-0.9zM61.1 51.2h0.9v0.9h-0.9zM55.7 58.4h0.9v0.9h-0.9zM63.5 58.8h0.9v0.9h-0.9zM65.1 49.7h0.9v0.9h-0.9zM61.5 37.3h0.9v0.9h-0.9zM59.0 43.0h0.9v0.9h-0.9zM60.1 48.1h0.9v0.9h-0.9zM52.2 60.7h0.9v0.9h-0.9zM67.1 43.4h0.9v0.9h-0.9zM62.2 46.8h0.9v0.9h-0.9zM62.3 40.9h0.9v0.9h-0.9zM62.4 35.6h0.9v0.9h-0.9zM61.8 42.4h0.9v0.9h-0.9zM63.6 35.5h0.9v0.9h-0.9zM61.3 42.9h0.9v0.9h-0.9zM64.6 34.0h0.9v0.9h-0.9zM60.7 50.9h0.9v0.9h-0.9zM63.4 39.7h0.9v0.9h-0.9zM60.4 40.3h0.9v0.9h-0.9zM60.5 55.8h0.9v0.9h-0.9zM62.0 37.1h0.9v0.9h-0.9zM61.9 44.4h0.9v0.9h-0.9zM60.2 35.9h0.9v0.9h-0.9z" fill="#222" fill-opacity="0.4"/>
<ellipse cx="61.4" cy="42.6" rx="5.0" ry="15" fill="url(#gl)" fill-opacity="0.85" transform="rotate(12 61.4 42.6)"/>
<ellipse cx="61.3" cy="43.2" rx="2.6" ry="10.5" fill="#000" fill-opacity="0.9" filter="url(#bl10)" transform="rotate(12 61.3 43.2)"/>
<ellipse cx="61.2" cy="44.0" rx="1.7" ry="8.5" fill="#000" fill-opacity="1.0" filter="url(#bl5)" transform="rotate(12 61.2 44.0)"/>
<line x1="72.5" y1="9.8" x2="72.5" y2="64.4" stroke="#666" stroke-width="0.8"/>
<line x1="16.6" y1="9.8" x2="72.5" y2="9.8" stroke="#555" stroke-width="0.8"/>
<line x1="16.6" y1="9.4" x2="16.6" y2="64.80000000000001" stroke="#333" stroke-width="1.0"/>
<line x1="16.6" y1="64.4" x2="72.9" y2="64.4" stroke="#444" stroke-width="0.9"/>
<line x1="15.000000000000002" y1="10.4" x2="16.6" y2="10.4" stroke="#333" stroke-width="0.8"/>
<rect x="11.8" y="9.700000000000001" width="2.6" height="1.4" fill="#444" fill-opacity="0.8"/>
<line x1="15.600000000000001" y1="12.56" x2="16.6" y2="12.56" stroke="#555" stroke-width="0.4"/>
<line x1="15.600000000000001" y1="14.72" x2="16.6" y2="14.72" stroke="#555" stroke-width="0.4"/>
<line x1="15.600000000000001" y1="16.880000000000003" x2="16.6" y2="16.880000000000003" stroke="#555" stroke-width="0.4"/>
<line x1="15.600000000000001" y1="19.04" x2="16.6" y2="19.04" stroke="#555" stroke-width="0.4"/>
<line x1="15.000000000000002" y1="21.200000000000003" x2="16.6" y2="21.200000000000003" stroke="#333" stroke-width="0.8"/>
<rect x="11.8" y="20.500000000000004" width="2.6" height="1.4" fill="#444" fill-opacity="0.8"/>
<line x1="15.600000000000001" y1="23.360000000000003" x2="16.6" y2="23.360000000000003" stroke="#555" stroke-width="0.4"/>
<line x1="15.600000000000001" y1="25.520000000000003" x2="16.6" y2="25.520000000000003" stroke="#555" stroke-width="0.4"/>
<line x1="15.600000000000001" y1="27.680000000000003" x2="16.6" y2="27.680000000000003" stroke="#555" stroke-width="0.4"/>
<line x1="15.600000000000001" y1="29.840000000000003" x2="16.6" y2="29.840000000000003" stroke="#555" stroke-width="0.4"/>
<line x1="15.000000000000002" y1="32.0" x2="16.6" y2="32.0" stroke="#333" stroke-width="0.8"/>
<rect x="11.8" y="31.3" width="2.6" height="1.4" fill="#444" fill-opacity="0.8"/>
<line x1="15.600000000000001" y1="34.16" x2="16.6" y2="34.16" stroke="#555" stroke-width="0.4"/>
<line x1="15.600000000000001" y1="36.32" x2="16.6" y2="36.32" stroke="#555" stroke-width="0.4"/>
<line x1="15.600000000000001" y1="38.480000000000004" x2="16.6" y2="38.480000000000004" stroke="#555" stroke-width="0.4"/>
<line x1="15.600000000000001" y1="40.64" x2="16.6" y2="40.64" stroke="#555" stroke-width="0.4"/>
<line x1="15.000000000000002" y1="42.800000000000004" x2="16.6" y2="42.800000000000004" stroke="#333" stroke-width="0.8"/>
<rect x="11.8" y="42.1" width="2.6" height="1.4" fill="#444" fill-opacity="0.8"/>
<line x1="15.600000000000001" y1="44.96000000000001" x2="16.6" y2="44.96000000000001" stroke="#555" stroke-width="0.4"/>
<line x1="15.600000000000001" y1="47.120000000000005" x2="16.6" y2="47.120000000000005" stroke="#555" stroke-width="0.4"/>
<line x1="15.600000000000001" y1="49.28" x2="16.6" y2="49.28" stroke="#555" stroke-width="0.4"/>
<line x1="15.600000000000001" y1="51.440000000000005" x2="16.6" y2="51.440000000000005" stroke="#555" stroke-width="0.4"/>
<line x1="15.000000000000002" y1="53.6" x2="16.6" y2="53.6" stroke="#333" stroke-width="0.8"/>
<rect x="11.8" y="52.9" width="2.6" height="1.4" fill="#444" fill-opacity="0.8"/>
<line x1="15.600000000000001" y1="55.760000000000005" x2="16.6" y2="55.760000000000005" stroke="#555" stroke-width="0.4"/>
<line x1="15.600000000000001" y1="57.92" x2="16.6" y2="57.92" stroke="#555" stroke-width="0.4"/>
<line x1="15.600000000000001" y1="60.08" x2="16.6" y2="60.08" stroke="#555" stroke-width="0.4"/>
<line x1="15.600000000000001" y1="62.24" x2="16.6" y2="62.24" stroke="#555" stroke-width="0.4"/>
<line x1="15.000000000000002" y1="64.4" x2="16.6" y2="64.4" stroke="#333" stroke-width="0.8"/>
<line x1="19.0" y1="64.4" x2="19.0" y2="66.60000000000001" stroke="#1a1a1a" stroke-width="0.9"/>
<line x1="22.9975" y1="64.4" x2="22.9975" y2="65.4" stroke="#555" stroke-width="0.4"/>
<line x1="25.396" y1="64.4" x2="25.396" y2="65.4" stroke="#555" stroke-width="0.4"/>
<line x1="26.994999999999997" y1="64.4" x2="26.994999999999997" y2="65.4" stroke="#555" stroke-width="0.4"/>
<line x1="28.3275" y1="64.4" x2="28.3275" y2="65.4" stroke="#555" stroke-width="0.4"/>
<line x1="29.3935" y1="64.4" x2="29.3935" y2="65.4" stroke="#555" stroke-width="0.4"/>
<line x1="30.32625" y1="64.4" x2="30.32625" y2="65.4" stroke="#555" stroke-width="0.4"/>
<line x1="30.9925" y1="64.4" x2="30.9925" y2="65.4" stroke="#555" stroke-width="0.4"/>
<line x1="31.658749999999998" y1="64.4" x2="31.658749999999998" y2="65.4" stroke="#555" stroke-width="0.4"/>
<line x1="32.325" y1="64.4" x2="32.325" y2="66.60000000000001" stroke="#1a1a1a" stroke-width="0.9"/>
<line x1="36.322500000000005" y1="64.4" x2="36.322500000000005" y2="65.4" stroke="#555" stroke-width="0.4"/>
<line x1="38.721000000000004" y1="64.4" x2="38.721000000000004" y2="65.4" stroke="#555" stroke-width="0.4"/>
<line x1="40.32" y1="64.4" x2="40.32" y2="65.4" stroke="#555" stroke-width="0.4"/>
<line x1="41.6525" y1="64.4" x2="41.6525" y2="65.4" stroke="#555" stroke-width="0.4"/>
<line x1="42.718500000000006" y1="64.4" x2="42.718500000000006" y2="65.4" stroke="#555" stroke-width="0.4"/>
<line x1="43.651250000000005" y1="64.4" x2="43.651250000000005" y2="65.4" stroke="#555" stroke-width="0.4"/>
<line x1="44.3175" y1="64.4" x2="44.3175" y2="65.4" stroke="#555" stroke-width="0.4"/>
<line x1="44.98375" y1="64.4" x2="44.98375" y2="65.4" stroke="#555" stroke-width="0.4"/>
<line x1="45.65" y1="64.4" x2="45.65" y2="66.60000000000001" stroke="#1a1a1a" stroke-width="0.9"/>
<line x1="49.6475" y1="64.4" x2="49.6475" y2="65.4" stroke="#555" stroke-width="0.4"/>
<line x1="52.046" y1="64.4" x2="52.046" y2="65.4" stroke="#555" stroke-width="0.4"/>
<line x1="53.644999999999996" y1="64.4" x2="53.644999999999996" y2="65.4" stroke="#555" stroke-width="0.4"/>
<line x1="54.9775" y1="64.4" x2="54.9775" y2="65.4" stroke="#555" stroke-width="0.4"/>
<line x1="56.043499999999995" y1="64.4" x2="56.043499999999995" y2="65.4" stroke="#555" stroke-width="0.4"/>
<line x1="56.97625" y1="64.4" x2="56.97625" y2="65.4" stroke="#555" stroke-width="0.4"/>
<line x1="57.6425" y1="64.4" x2="57.6425" y2="65.4" stroke="#555" stroke-width="0.4"/>
<line x1="58.308749999999996" y1="64.4" x2="58.308749999999996" y2="65.4" stroke="#555" stroke-width="0.4"/>
<line x1="58.974999999999994" y1="64.4" x2="58.974999999999994" y2="66.60000000000001" stroke="#1a1a1a" stroke-width="0.9"/>
<line x1="62.9725" y1="64.4" x2="62.9725" y2="65.4" stroke="#555" stroke-width="0.4"/>
<line x1="65.371" y1="64.4" x2="65.371" y2="65.4" stroke="#555" stroke-width="0.4"/>
<line x1="66.97" y1="64.4" x2="66.97" y2="65.4" stroke="#555" stroke-width="0.4"/>
<line x1="68.3025" y1="64.4" x2="68.3025" y2="65.4" stroke="#555" stroke-width="0.4"/>
<line x1="69.3685" y1="64.4" x2="69.3685" y2="65.4" stroke="#555" stroke-width="0.4"/>
<line x1="70.30125" y1="64.4" x2="70.30125" y2="65.4" stroke="#555" stroke-width="0.4"/>
<line x1="70.9675" y1="64.4" x2="70.9675" y2="65.4" stroke="#555" stroke-width="0.4"/>
<line x1="71.63374999999999" y1="64.4" x2="71.63374999999999" y2="65.4" stroke="#555" stroke-width="0.4"/>
<line x1="72.3" y1="64.4" x2="72.3" y2="66.60000000000001" stroke="#1a1a1a" stroke-width="0.9"/>
<rect x="18.2" y="70.2" width="2.4" height="2.0" fill="#333" fill-opacity="0.8"/>
<rect x="20.7" y="69.10000000000001" width="1.2" height="1.3" fill="#333" fill-opacity="0.7"/>
<rect x="31.525" y="70.2" width="2.4" height="2.0" fill="#333" fill-opacity="0.8"/>
<rect x="34.025" y="69.10000000000001" width="1.2" height="1.3" fill="#333" fill-opacity="0.7"/>
<rect x="44.849999999999994" y="70.2" width="2.4" height="2.0" fill="#333" fill-opacity="0.8"/>
<rect x="47.349999999999994" y="69.10000000000001" width="1.2" height="1.3" fill="#333" fill-opacity="0.7"/>
<rect x="58.175" y="70.2" width="2.4" height="2.0" fill="#333" fill-opacity="0.8"/>
<rect x="60.675" y="69.10000000000001" width="1.2" height="1.3" fill="#333" fill-opacity="0.7"/>
<rect x="71.5" y="70.2" width="2.4" height="2.0" fill="#333" fill-opacity="0.8"/>
<rect x="74.0" y="69.10000000000001" width="1.2" height="1.3" fill="#333" fill-opacity="0.7"/>
<ellipse cx="61.5" cy="42.3" rx="5.8" ry="15.6" fill="none" stroke="#111" stroke-width="0.9" transform="rotate(12 61.5 42.3)"/>
<line x1="60.5" y1="57.5" x2="60.5" y2="94" stroke="#1a1a1a" stroke-width="1.0"/>
<path d="M60.5 98.6 L59.2 91.4 L61.8 91.4 Z" fill="#111"/>
<text transform="translate(45.0 97.3)" font-size="7.9" font-weight="bold" text-anchor="middle" fill="#1a1a1a" stroke="#1a1a1a" stroke-width="0.3">gate 2</text>
<text transform="translate(8.1 129.0) rotate(-90) scale(0.855 1)" font-size="9.0" font-weight="normal" text-anchor="middle" fill="#1a1a1a" stroke="#1a1a1a" stroke-width="0.15">Side Scatter</text>
<text transform="translate(44.6 168.2) scale(0.83 1)" font-size="9.4" font-weight="normal" text-anchor="middle" fill="#1a1a1a" stroke="#1a1a1a" stroke-width="0.15">Forward Scatter</text>
<path d="M30.1 130.9h0.8v0.8h-0.8zM45.2 145.7h0.8v0.8h-0.8zM54.2 142.1h0.8v0.8h-0.8zM26.9 126.7h0.8v0.8h-0.8zM50.6 136.9h0.8v0.8h-0.8zM50.1 126.4h0.8v0.8h-0.8zM54.1 134.7h0.8v0.8h-0.8zM55.5 150.4h0.8v0.8h-0.8zM39.9 125.3h0.8v0.8h-0.8zM58.6 138.9h0.8v0.8h-0.8zM56.9 132.7h0.8v0.8h-0.8zM26.1 149.4h0.8v0.8h-0.8zM34.2 129.6h0.8v0.8h-0.8zM34.4 142.4h0.8v0.8h-0.8zM18.0 140.2h0.8v0.8h-0.8zM37.8 140.1h0.8v0.8h-0.8zM23.2 146.0h0.8v0.8h-0.8zM54.4 150.4h0.8v0.8h-0.8zM32.2 145.9h0.8v0.8h-0.8zM34.9 147.0h0.8v0.8h-0.8zM20.5 150.6h0.8v0.8h-0.8zM60.5 139.4h0.8v0.8h-0.8zM40.8 140.5h0.8v0.8h-0.8zM41.9 125.4h0.8v0.8h-0.8zM61.1 131.4h0.8v0.8h-0.8zM26.0 127.8h0.8v0.8h-0.8zM29.0 149.0h0.8v0.8h-0.8zM19.1 127.7h0.8v0.8h-0.8zM49.1 130.6h0.8v0.8h-0.8zM18.6 142.5h0.8v0.8h-0.8zM43.6 140.3h0.8v0.8h-0.8zM49.3 127.8h0.8v0.8h-0.8zM56.8 146.0h0.8v0.8h-0.8zM19.8 128.4h0.8v0.8h-0.8zM39.9 139.6h0.8v0.8h-0.8zM30.3 128.4h0.8v0.8h-0.8zM36.0 128.9h0.8v0.8h-0.8zM44.3 150.3h0.8v0.8h-0.8zM24.4 141.8h0.8v0.8h-0.8zM51.2 129.7h0.8v0.8h-0.8zM54.8 152.6h0.8v0.8h-0.8zM35.2 137.2h0.8v0.8h-0.8zM55.4 140.4h0.8v0.8h-0.8zM35.5 152.7h0.8v0.8h-0.8zM52.6 134.8h0.8v0.8h-0.8zM28.6 134.7h0.8v0.8h-0.8zM37.3 153.8h0.8v0.8h-0.8zM53.8 151.8h0.8v0.8h-0.8zM54.3 149.9h0.8v0.8h-0.8zM20.2 140.1h0.8v0.8h-0.8z" fill="#222" fill-opacity="0.13"/>
<path d="M51.5 130.9h0.9v0.9h-0.9zM38.3 146.6h0.9v0.9h-0.9zM29.7 142.3h0.9v0.9h-0.9zM33.1 143.7h0.9v0.9h-0.9zM29.0 148.8h0.9v0.9h-0.9zM40.2 140.6h0.9v0.9h-0.9zM48.0 134.3h0.9v0.9h-0.9zM44.6 135.0h0.9v0.9h-0.9zM37.5 131.8h0.9v0.9h-0.9zM37.1 141.0h0.9v0.9h-0.9zM31.0 142.1h0.9v0.9h-0.9zM31.9 141.1h0.9v0.9h-0.9zM18.4 149.1h0.9v0.9h-0.9zM30.8 142.7h0.9v0.9h-0.9zM27.8 146.3h0.9v0.9h-0.9zM41.3 138.3h0.9v0.9h-0.9zM35.3 149.9h0.9v0.9h-0.9zM45.3 142.2h0.9v0.9h-0.9zM43.9 136.5h0.9v0.9h-0.9zM37.4 147.4h0.9v0.9h-0.9zM31.6 144.3h0.9v0.9h-0.9zM39.6 142.4h0.9v0.9h-0.9zM36.1 147.5h0.9v0.9h-0.9zM36.2 146.1h0.9v0.9h-0.9zM45.4 140.7h0.9v0.9h-0.9zM39.0 134.9h0.9v0.9h-0.9zM24.9 145.4h0.9v0.9h-0.9zM42.8 146.5h0.9v0.9h-0.9zM27.5 148.7h0.9v0.9h-0.9zM28.0 143.1h0.9v0.9h-0.9zM35.4 146.4h0.9v0.9h-0.9zM40.1 146.3h0.9v0.9h-0.9zM30.6 150.0h0.9v0.9h-0.9zM43.1 139.0h0.9v0.9h-0.9zM38.3 138.3h0.9v0.9h-0.9zM27.0 145.3h0.9v0.9h-0.9zM35.9 151.0h0.9v0.9h-0.9zM38.2 142.9h0.9v0.9h-0.9zM39.9 136.4h0.9v0.9h-0.9zM43.6 140.3h0.9v0.9h-0.9zM26.0 151.1h0.9v0.9h-0.9zM41.1 142.0h0.9v0.9h-0.9zM46.9 134.4h0.9v0.9h-0.9zM41.4 143.4h0.9v0.9h-0.9zM31.9 150.9h0.9v0.9h-0.9zM22.4 143.3h0.9v0.9h-0.9zM37.5 136.1h0.9v0.9h-0.9zM31.6 136.5h0.9v0.9h-0.9zM34.1 137.7h0.9v0.9h-0.9zM35.2 135.1h0.9v0.9h-0.9zM38.8 139.6h0.9v0.9h-0.9zM36.3 142.0h0.9v0.9h-0.9zM34.1 136.7h0.9v0.9h-0.9zM16.9 153.1h0.9v0.9h-0.9zM28.0 144.5h0.9v0.9h-0.9zM34.9 132.9h0.9v0.9h-0.9zM29.0 143.2h0.9v0.9h-0.9zM28.8 148.1h0.9v0.9h-0.9zM33.2 139.8h0.9v0.9h-0.9zM30.4 149.7h0.9v0.9h-0.9zM32.3 147.5h0.9v0.9h-0.9zM35.3 133.2h0.9v0.9h-0.9zM27.9 146.9h0.9v0.9h-0.9zM40.2 144.2h0.9v0.9h-0.9zM44.2 143.3h0.9v0.9h-0.9zM32.8 143.2h0.9v0.9h-0.9zM40.9 137.7h0.9v0.9h-0.9zM40.5 131.9h0.9v0.9h-0.9zM40.5 139.2h0.9v0.9h-0.9zM23.4 154.4h0.9v0.9h-0.9zM38.4 141.3h0.9v0.9h-0.9zM27.0 145.0h0.9v0.9h-0.9zM45.5 133.1h0.9v0.9h-0.9zM26.8 146.9h0.9v0.9h-0.9zM31.1 140.5h0.9v0.9h-0.9zM32.0 150.1h0.9v0.9h-0.9zM29.6 140.4h0.9v0.9h-0.9zM43.1 141.5h0.9v0.9h-0.9zM29.8 149.7h0.9v0.9h-0.9zM20.3 146.3h0.9v0.9h-0.9zM43.8 136.9h0.9v0.9h-0.9zM27.4 149.8h0.9v0.9h-0.9zM42.8 138.7h0.9v0.9h-0.9zM21.8 148.5h0.9v0.9h-0.9zM40.8 143.8h0.9v0.9h-0.9zM49.3 134.0h0.9v0.9h-0.9zM32.3 144.3h0.9v0.9h-0.9zM43.0 133.9h0.9v0.9h-0.9zM39.8 126.3h0.9v0.9h-0.9zM40.5 136.6h0.9v0.9h-0.9zM40.9 143.3h0.9v0.9h-0.9zM27.0 147.0h0.9v0.9h-0.9zM39.1 143.8h0.9v0.9h-0.9zM26.9 142.4h0.9v0.9h-0.9zM34.1 142.4h0.9v0.9h-0.9zM26.9 152.3h0.9v0.9h-0.9zM35.1 150.3h0.9v0.9h-0.9zM42.4 139.1h0.9v0.9h-0.9zM39.0 135.1h0.9v0.9h-0.9zM32.3 141.6h0.9v0.9h-0.9zM26.6 147.7h0.9v0.9h-0.9zM38.0 148.8h0.9v0.9h-0.9zM28.1 144.4h0.9v0.9h-0.9zM40.0 142.4h0.9v0.9h-0.9zM35.2 140.5h0.9v0.9h-0.9zM40.5 141.9h0.9v0.9h-0.9zM21.7 149.0h0.9v0.9h-0.9zM23.2 143.4h0.9v0.9h-0.9zM37.2 142.1h0.9v0.9h-0.9zM35.0 138.6h0.9v0.9h-0.9zM32.5 139.7h0.9v0.9h-0.9zM40.3 143.7h0.9v0.9h-0.9zM51.8 140.3h0.9v0.9h-0.9zM29.0 144.0h0.9v0.9h-0.9zM29.7 147.5h0.9v0.9h-0.9zM52.3 137.2h0.9v0.9h-0.9zM16.9 146.5h0.9v0.9h-0.9zM27.5 149.8h0.9v0.9h-0.9zM36.7 143.7h0.9v0.9h-0.9zM47.5 132.0h0.9v0.9h-0.9zM33.9 153.7h0.9v0.9h-0.9zM36.9 138.0h0.9v0.9h-0.9zM17.6 144.7h0.9v0.9h-0.9zM17.9 152.7h0.9v0.9h-0.9zM38.5 146.2h0.9v0.9h-0.9zM33.5 140.3h0.9v0.9h-0.9zM34.6 153.0h0.9v0.9h-0.9zM23.2 150.4h0.9v0.9h-0.9zM37.5 144.8h0.9v0.9h-0.9zM34.1 146.1h0.9v0.9h-0.9zM41.8 138.6h0.9v0.9h-0.9zM32.2 143.6h0.9v0.9h-0.9zM28.4 145.6h0.9v0.9h-0.9zM34.2 144.6h0.9v0.9h-0.9zM48.8 142.2h0.9v0.9h-0.9zM34.0 146.7h0.9v0.9h-0.9zM39.8 144.3h0.9v0.9h-0.9zM36.7 143.5h0.9v0.9h-0.9zM30.8 141.3h0.9v0.9h-0.9zM45.3 144.1h0.9v0.9h-0.9zM41.9 141.5h0.9v0.9h-0.9zM37.0 139.6h0.9v0.9h-0.9zM24.1 152.4h0.9v0.9h-0.9zM36.3 139.5h0.9v0.9h-0.9zM31.6 151.5h0.9v0.9h-0.9zM45.9 149.3h0.9v0.9h-0.9zM30.6 145.3h0.9v0.9h-0.9zM32.6 145.2h0.9v0.9h-0.9zM32.8 140.4h0.9v0.9h-0.9zM42.3 135.0h0.9v0.9h-0.9zM33.4 146.8h0.9v0.9h-0.9zM31.1 143.0h0.9v0.9h-0.9zM37.9 139.6h0.9v0.9h-0.9zM26.5 147.2h0.9v0.9h-0.9zM38.0 150.1h0.9v0.9h-0.9zM29.9 150.8h0.9v0.9h-0.9zM29.4 144.3h0.9v0.9h-0.9zM34.1 144.9h0.9v0.9h-0.9zM46.2 145.9h0.9v0.9h-0.9zM34.1 150.3h0.9v0.9h-0.9zM45.2 141.7h0.9v0.9h-0.9zM32.3 149.2h0.9v0.9h-0.9zM36.0 144.3h0.9v0.9h-0.9zM35.4 146.2h0.9v0.9h-0.9zM46.8 142.4h0.9v0.9h-0.9zM36.6 147.3h0.9v0.9h-0.9zM44.8 132.9h0.9v0.9h-0.9zM44.1 131.2h0.9v0.9h-0.9zM41.3 142.6h0.9v0.9h-0.9zM47.7 137.6h0.9v0.9h-0.9zM30.7 141.3h0.9v0.9h-0.9zM28.3 150.6h0.9v0.9h-0.9zM32.7 140.6h0.9v0.9h-0.9zM38.3 137.3h0.9v0.9h-0.9zM31.8 142.5h0.9v0.9h-0.9zM51.5 141.5h0.9v0.9h-0.9zM31.4 136.9h0.9v0.9h-0.9zM38.2 141.7h0.9v0.9h-0.9zM39.8 143.3h0.9v0.9h-0.9zM35.6 147.5h0.9v0.9h-0.9zM42.7 139.9h0.9v0.9h-0.9zM31.9 142.3h0.9v0.9h-0.9zM38.8 135.3h0.9v0.9h-0.9zM33.2 140.2h0.9v0.9h-0.9zM26.9 150.6h0.9v0.9h-0.9zM35.9 142.7h0.9v0.9h-0.9zM39.3 133.0h0.9v0.9h-0.9zM36.1 143.9h0.9v0.9h-0.9zM39.9 134.8h0.9v0.9h-0.9zM41.8 140.4h0.9v0.9h-0.9zM48.6 141.5h0.9v0.9h-0.9zM44.7 148.7h0.9v0.9h-0.9zM35.1 140.8h0.9v0.9h-0.9zM31.4 140.2h0.9v0.9h-0.9zM31.7 135.2h0.9v0.9h-0.9zM36.3 144.5h0.9v0.9h-0.9zM42.6 137.1h0.9v0.9h-0.9zM45.0 134.3h0.9v0.9h-0.9zM30.9 135.6h0.9v0.9h-0.9zM28.6 142.5h0.9v0.9h-0.9zM48.0 138.6h0.9v0.9h-0.9zM29.1 149.0h0.9v0.9h-0.9zM39.0 139.7h0.9v0.9h-0.9zM35.5 141.2h0.9v0.9h-0.9zM28.3 137.8h0.9v0.9h-0.9zM38.0 147.8h0.9v0.9h-0.9zM45.8 135.7h0.9v0.9h-0.9zM30.1 144.7h0.9v0.9h-0.9zM43.3 140.3h0.9v0.9h-0.9zM32.5 146.2h0.9v0.9h-0.9zM35.6 145.3h0.9v0.9h-0.9zM29.9 138.5h0.9v0.9h-0.9zM38.0 145.2h0.9v0.9h-0.9zM27.7 146.5h0.9v0.9h-0.9zM41.6 137.6h0.9v0.9h-0.9zM35.5 152.9h0.9v0.9h-0.9zM44.2 143.2h0.9v0.9h-0.9zM32.6 152.5h0.9v0.9h-0.9zM22.9 147.1h0.9v0.9h-0.9zM44.2 144.7h0.9v0.9h-0.9zM27.9 143.6h0.9v0.9h-0.9zM33.4 134.3h0.9v0.9h-0.9zM41.8 142.1h0.9v0.9h-0.9zM33.9 146.3h0.9v0.9h-0.9zM42.3 140.6h0.9v0.9h-0.9zM43.0 146.2h0.9v0.9h-0.9zM32.9 145.0h0.9v0.9h-0.9zM34.4 148.5h0.9v0.9h-0.9zM34.0 145.9h0.9v0.9h-0.9zM37.1 142.2h0.9v0.9h-0.9zM48.2 135.4h0.9v0.9h-0.9zM48.0 140.1h0.9v0.9h-0.9zM45.2 136.7h0.9v0.9h-0.9zM44.3 141.7h0.9v0.9h-0.9zM32.1 146.0h0.9v0.9h-0.9zM35.0 142.9h0.9v0.9h-0.9zM43.9 134.6h0.9v0.9h-0.9zM20.2 142.5h0.9v0.9h-0.9zM31.4 141.8h0.9v0.9h-0.9zM37.3 144.6h0.9v0.9h-0.9zM49.3 136.8h0.9v0.9h-0.9zM37.8 137.9h0.9v0.9h-0.9zM43.0 145.4h0.9v0.9h-0.9zM41.6 129.8h0.9v0.9h-0.9zM45.7 145.0h0.9v0.9h-0.9zM38.8 133.6h0.9v0.9h-0.9zM35.0 145.9h0.9v0.9h-0.9zM37.3 137.8h0.9v0.9h-0.9zM31.6 149.7h0.9v0.9h-0.9zM29.4 153.2h0.9v0.9h-0.9zM36.8 143.6h0.9v0.9h-0.9zM25.2 145.5h0.9v0.9h-0.9zM37.9 134.2h0.9v0.9h-0.9zM48.0 129.0h0.9v0.9h-0.9zM27.3 147.5h0.9v0.9h-0.9zM41.0 143.4h0.9v0.9h-0.9zM32.9 143.2h0.9v0.9h-0.9zM33.1 141.2h0.9v0.9h-0.9zM38.1 142.1h0.9v0.9h-0.9zM32.0 145.9h0.9v0.9h-0.9zM35.7 142.3h0.9v0.9h-0.9zM40.4 131.6h0.9v0.9h-0.9zM35.6 137.5h0.9v0.9h-0.9zM36.8 149.4h0.9v0.9h-0.9zM28.0 146.4h0.9v0.9h-0.9zM33.7 148.4h0.9v0.9h-0.9zM25.5 140.0h0.9v0.9h-0.9zM38.9 139.1h0.9v0.9h-0.9zM36.0 147.8h0.9v0.9h-0.9zM28.9 144.6h0.9v0.9h-0.9zM37.9 143.5h0.9v0.9h-0.9zM34.4 148.4h0.9v0.9h-0.9zM51.2 132.2h0.9v0.9h-0.9zM45.0 127.2h0.9v0.9h-0.9zM45.4 135.7h0.9v0.9h-0.9zM36.3 140.7h0.9v0.9h-0.9zM28.8 140.1h0.9v0.9h-0.9zM35.9 149.0h0.9v0.9h-0.9zM43.4 136.7h0.9v0.9h-0.9zM30.8 141.9h0.9v0.9h-0.9zM31.1 154.0h0.9v0.9h-0.9zM41.0 140.3h0.9v0.9h-0.9zM30.4 140.5h0.9v0.9h-0.9zM47.0 140.3h0.9v0.9h-0.9zM31.2 150.0h0.9v0.9h-0.9zM29.4 149.3h0.9v0.9h-0.9zM28.3 144.7h0.9v0.9h-0.9zM40.4 142.2h0.9v0.9h-0.9zM41.5 135.4h0.9v0.9h-0.9zM50.1 141.4h0.9v0.9h-0.9zM36.9 144.3h0.9v0.9h-0.9zM30.1 145.0h0.9v0.9h-0.9zM26.7 148.0h0.9v0.9h-0.9zM40.2 146.8h0.9v0.9h-0.9zM44.5 141.9h0.9v0.9h-0.9zM32.9 143.1h0.9v0.9h-0.9zM34.0 144.7h0.9v0.9h-0.9zM23.8 153.0h0.9v0.9h-0.9zM23.7 146.7h0.9v0.9h-0.9zM35.1 140.5h0.9v0.9h-0.9zM47.7 135.6h0.9v0.9h-0.9zM49.7 140.8h0.9v0.9h-0.9zM33.3 146.0h0.9v0.9h-0.9zM44.6 136.2h0.9v0.9h-0.9zM35.5 140.0h0.9v0.9h-0.9zM35.7 140.9h0.9v0.9h-0.9zM38.7 146.0h0.9v0.9h-0.9zM46.3 137.6h0.9v0.9h-0.9zM39.2 145.0h0.9v0.9h-0.9zM31.7 139.6h0.9v0.9h-0.9zM42.0 134.6h0.9v0.9h-0.9zM40.7 135.2h0.9v0.9h-0.9zM46.9 131.4h0.9v0.9h-0.9zM45.2 144.9h0.9v0.9h-0.9zM32.2 151.9h0.9v0.9h-0.9zM26.5 139.0h0.9v0.9h-0.9zM42.6 142.3h0.9v0.9h-0.9zM29.3 133.7h0.9v0.9h-0.9zM35.0 141.6h0.9v0.9h-0.9zM32.7 142.9h0.9v0.9h-0.9zM22.0 147.4h0.9v0.9h-0.9zM52.1 141.3h0.9v0.9h-0.9zM31.9 141.2h0.9v0.9h-0.9zM41.0 145.0h0.9v0.9h-0.9zM38.8 135.2h0.9v0.9h-0.9zM37.5 142.4h0.9v0.9h-0.9zM48.8 141.4h0.9v0.9h-0.9zM42.3 145.1h0.9v0.9h-0.9zM36.4 149.9h0.9v0.9h-0.9zM33.8 145.7h0.9v0.9h-0.9zM40.7 135.4h0.9v0.9h-0.9zM27.3 138.6h0.9v0.9h-0.9zM37.1 141.6h0.9v0.9h-0.9zM34.7 145.7h0.9v0.9h-0.9zM20.8 150.7h0.9v0.9h-0.9zM36.1 141.2h0.9v0.9h-0.9zM45.3 146.0h0.9v0.9h-0.9zM30.9 140.7h0.9v0.9h-0.9zM31.9 145.2h0.9v0.9h-0.9zM38.4 136.9h0.9v0.9h-0.9zM41.0 134.7h0.9v0.9h-0.9zM42.8 140.9h0.9v0.9h-0.9zM43.8 148.9h0.9v0.9h-0.9zM33.8 142.9h0.9v0.9h-0.9zM41.2 143.9h0.9v0.9h-0.9zM27.0 148.8h0.9v0.9h-0.9zM32.0 147.8h0.9v0.9h-0.9zM45.9 137.3h0.9v0.9h-0.9zM35.6 143.6h0.9v0.9h-0.9zM40.4 140.9h0.9v0.9h-0.9zM31.7 141.3h0.9v0.9h-0.9zM37.2 147.8h0.9v0.9h-0.9zM38.1 148.0h0.9v0.9h-0.9zM37.9 141.4h0.9v0.9h-0.9zM22.7 146.5h0.9v0.9h-0.9zM42.3 132.7h0.9v0.9h-0.9zM26.6 142.2h0.9v0.9h-0.9zM33.4 147.1h0.9v0.9h-0.9zM36.1 132.5h0.9v0.9h-0.9zM45.2 134.5h0.9v0.9h-0.9zM35.2 151.1h0.9v0.9h-0.9zM32.8 138.1h0.9v0.9h-0.9zM29.9 142.2h0.9v0.9h-0.9zM28.1 145.2h0.9v0.9h-0.9zM43.0 140.4h0.9v0.9h-0.9zM29.2 146.8h0.9v0.9h-0.9zM37.8 145.3h0.9v0.9h-0.9zM34.6 145.5h0.9v0.9h-0.9zM51.3 134.6h0.9v0.9h-0.9zM28.9 148.0h0.9v0.9h-0.9zM29.5 144.2h0.9v0.9h-0.9zM38.0 143.0h0.9v0.9h-0.9zM35.7 146.8h0.9v0.9h-0.9zM31.9 138.3h0.9v0.9h-0.9zM41.5 137.7h0.9v0.9h-0.9zM43.3 135.3h0.9v0.9h-0.9zM40.8 141.5h0.9v0.9h-0.9zM30.9 152.2h0.9v0.9h-0.9zM24.4 153.4h0.9v0.9h-0.9zM44.8 140.1h0.9v0.9h-0.9zM39.8 138.0h0.9v0.9h-0.9zM36.4 143.4h0.9v0.9h-0.9zM40.5 143.5h0.9v0.9h-0.9zM33.1 140.6h0.9v0.9h-0.9zM32.8 146.3h0.9v0.9h-0.9zM21.5 144.2h0.9v0.9h-0.9zM31.9 142.0h0.9v0.9h-0.9zM28.5 133.5h0.9v0.9h-0.9zM33.0 142.9h0.9v0.9h-0.9zM37.5 132.0h0.9v0.9h-0.9zM34.8 145.5h0.9v0.9h-0.9zM42.0 145.1h0.9v0.9h-0.9zM41.4 134.4h0.9v0.9h-0.9zM39.9 138.7h0.9v0.9h-0.9zM33.4 151.5h0.9v0.9h-0.9zM29.7 141.7h0.9v0.9h-0.9zM31.3 140.9h0.9v0.9h-0.9zM44.0 140.0h0.9v0.9h-0.9zM46.9 138.6h0.9v0.9h-0.9zM33.8 148.9h0.9v0.9h-0.9zM30.3 143.3h0.9v0.9h-0.9zM34.9 143.3h0.9v0.9h-0.9zM43.3 135.5h0.9v0.9h-0.9zM38.5 141.0h0.9v0.9h-0.9zM24.7 143.3h0.9v0.9h-0.9zM35.3 144.9h0.9v0.9h-0.9zM39.3 143.1h0.9v0.9h-0.9zM35.4 140.6h0.9v0.9h-0.9zM37.0 137.0h0.9v0.9h-0.9z" fill="#222" fill-opacity="0.18"/>
<path d="M39.9 137.3h0.9v0.9h-0.9zM38.9 136.8h0.9v0.9h-0.9zM42.8 133.9h0.9v0.9h-0.9zM46.2 130.0h0.9v0.9h-0.9zM41.3 127.7h0.9v0.9h-0.9zM47.1 128.9h0.9v0.9h-0.9zM42.9 119.5h0.9v0.9h-0.9zM44.8 137.6h0.9v0.9h-0.9zM33.4 141.6h0.9v0.9h-0.9zM49.7 133.4h0.9v0.9h-0.9zM40.7 140.3h0.9v0.9h-0.9zM46.8 128.5h0.9v0.9h-0.9zM53.0 130.1h0.9v0.9h-0.9zM47.6 131.3h0.9v0.9h-0.9zM52.3 131.5h0.9v0.9h-0.9zM56.8 130.7h0.9v0.9h-0.9zM44.5 134.8h0.9v0.9h-0.9zM53.1 128.0h0.9v0.9h-0.9zM52.6 134.0h0.9v0.9h-0.9zM40.9 124.0h0.9v0.9h-0.9zM50.2 133.7h0.9v0.9h-0.9zM47.4 129.5h0.9v0.9h-0.9zM55.5 127.8h0.9v0.9h-0.9zM43.0 132.7h0.9v0.9h-0.9zM47.7 127.2h0.9v0.9h-0.9zM48.8 146.0h0.9v0.9h-0.9zM59.6 132.5h0.9v0.9h-0.9zM58.6 130.3h0.9v0.9h-0.9zM42.4 145.3h0.9v0.9h-0.9zM57.6 130.4h0.9v0.9h-0.9zM40.9 146.6h0.9v0.9h-0.9zM55.4 125.7h0.9v0.9h-0.9zM51.8 136.1h0.9v0.9h-0.9zM51.5 138.4h0.9v0.9h-0.9zM51.3 136.0h0.9v0.9h-0.9zM44.9 126.6h0.9v0.9h-0.9zM52.3 151.0h0.9v0.9h-0.9zM54.3 137.8h0.9v0.9h-0.9zM60.6 136.1h0.9v0.9h-0.9zM50.3 128.5h0.9v0.9h-0.9zM43.2 124.9h0.9v0.9h-0.9zM50.4 138.0h0.9v0.9h-0.9zM36.6 142.9h0.9v0.9h-0.9zM57.6 135.7h0.9v0.9h-0.9zM41.4 134.2h0.9v0.9h-0.9zM34.7 136.5h0.9v0.9h-0.9zM58.1 140.1h0.9v0.9h-0.9zM46.1 143.9h0.9v0.9h-0.9zM49.9 129.4h0.9v0.9h-0.9zM54.3 113.5h0.9v0.9h-0.9zM49.0 134.5h0.9v0.9h-0.9zM66.8 132.4h0.9v0.9h-0.9zM62.6 124.7h0.9v0.9h-0.9zM58.7 135.2h0.9v0.9h-0.9zM52.9 132.8h0.9v0.9h-0.9zM46.5 132.3h0.9v0.9h-0.9zM47.3 146.7h0.9v0.9h-0.9zM40.0 126.1h0.9v0.9h-0.9zM50.3 132.1h0.9v0.9h-0.9zM55.2 140.4h0.9v0.9h-0.9zM47.4 132.6h0.9v0.9h-0.9zM44.3 136.2h0.9v0.9h-0.9zM46.8 136.0h0.9v0.9h-0.9zM68.5 122.3h0.9v0.9h-0.9zM49.4 145.1h0.9v0.9h-0.9zM56.4 133.3h0.9v0.9h-0.9zM55.5 133.9h0.9v0.9h-0.9zM57.0 136.7h0.9v0.9h-0.9zM58.8 135.1h0.9v0.9h-0.9zM45.8 135.3h0.9v0.9h-0.9zM47.3 140.4h0.9v0.9h-0.9zM52.4 127.9h0.9v0.9h-0.9zM60.1 142.3h0.9v0.9h-0.9zM52.8 123.4h0.9v0.9h-0.9zM50.1 136.4h0.9v0.9h-0.9zM49.7 135.1h0.9v0.9h-0.9zM56.8 129.9h0.9v0.9h-0.9zM44.4 140.9h0.9v0.9h-0.9zM48.6 134.2h0.9v0.9h-0.9zM41.3 129.6h0.9v0.9h-0.9zM40.3 136.8h0.9v0.9h-0.9zM34.4 125.9h0.9v0.9h-0.9zM52.2 123.6h0.9v0.9h-0.9zM46.1 138.6h0.9v0.9h-0.9zM38.4 148.9h0.9v0.9h-0.9zM46.2 139.3h0.9v0.9h-0.9zM46.8 136.6h0.9v0.9h-0.9zM49.4 132.9h0.9v0.9h-0.9zM33.6 134.4h0.9v0.9h-0.9zM52.7 139.6h0.9v0.9h-0.9zM47.1 137.8h0.9v0.9h-0.9zM51.2 134.7h0.9v0.9h-0.9zM50.3 122.8h0.9v0.9h-0.9zM49.9 131.4h0.9v0.9h-0.9zM44.4 130.9h0.9v0.9h-0.9zM41.1 132.0h0.9v0.9h-0.9zM49.7 148.7h0.9v0.9h-0.9zM58.9 126.4h0.9v0.9h-0.9zM50.3 126.0h0.9v0.9h-0.9zM26.8 136.7h0.9v0.9h-0.9zM53.9 139.0h0.9v0.9h-0.9zM45.6 129.1h0.9v0.9h-0.9zM44.4 130.0h0.9v0.9h-0.9zM39.8 138.0h0.9v0.9h-0.9zM44.0 131.4h0.9v0.9h-0.9zM40.8 132.9h0.9v0.9h-0.9zM54.3 138.4h0.9v0.9h-0.9zM54.2 143.9h0.9v0.9h-0.9zM40.0 141.1h0.9v0.9h-0.9zM41.4 137.3h0.9v0.9h-0.9zM51.1 135.3h0.9v0.9h-0.9zM53.9 126.3h0.9v0.9h-0.9zM40.8 137.5h0.9v0.9h-0.9zM48.5 129.1h0.9v0.9h-0.9zM59.1 137.0h0.9v0.9h-0.9zM41.4 140.7h0.9v0.9h-0.9zM49.1 120.8h0.9v0.9h-0.9zM49.4 131.5h0.9v0.9h-0.9zM44.2 144.8h0.9v0.9h-0.9zM48.7 130.3h0.9v0.9h-0.9zM53.4 134.3h0.9v0.9h-0.9zM55.1 132.7h0.9v0.9h-0.9zM47.7 126.5h0.9v0.9h-0.9zM46.7 135.6h0.9v0.9h-0.9zM38.7 153.8h0.9v0.9h-0.9zM43.4 130.3h0.9v0.9h-0.9zM38.7 141.8h0.9v0.9h-0.9zM47.3 130.6h0.9v0.9h-0.9zM43.7 131.1h0.9v0.9h-0.9zM44.0 135.9h0.9v0.9h-0.9zM47.0 138.9h0.9v0.9h-0.9zM48.3 134.5h0.9v0.9h-0.9zM55.0 137.2h0.9v0.9h-0.9zM53.1 131.8h0.9v0.9h-0.9zM45.4 130.5h0.9v0.9h-0.9zM48.8 137.7h0.9v0.9h-0.9zM49.0 130.7h0.9v0.9h-0.9zM36.3 132.1h0.9v0.9h-0.9zM53.8 136.5h0.9v0.9h-0.9zM46.9 125.8h0.9v0.9h-0.9zM48.2 135.1h0.9v0.9h-0.9zM44.4 138.5h0.9v0.9h-0.9zM45.1 130.5h0.9v0.9h-0.9zM43.8 141.9h0.9v0.9h-0.9zM48.3 128.0h0.9v0.9h-0.9zM45.4 141.3h0.9v0.9h-0.9zM51.4 129.6h0.9v0.9h-0.9zM57.4 125.6h0.9v0.9h-0.9zM45.8 142.3h0.9v0.9h-0.9zM48.7 135.6h0.9v0.9h-0.9zM46.1 128.8h0.9v0.9h-0.9zM41.2 137.3h0.9v0.9h-0.9zM54.2 123.2h0.9v0.9h-0.9zM57.5 128.7h0.9v0.9h-0.9zM43.0 139.0h0.9v0.9h-0.9zM49.5 127.1h0.9v0.9h-0.9zM37.2 143.5h0.9v0.9h-0.9zM43.5 139.7h0.9v0.9h-0.9zM37.0 140.5h0.9v0.9h-0.9zM39.6 130.2h0.9v0.9h-0.9zM47.9 135.0h0.9v0.9h-0.9zM42.0 130.4h0.9v0.9h-0.9zM44.9 124.9h0.9v0.9h-0.9zM53.4 133.3h0.9v0.9h-0.9zM61.4 130.3h0.9v0.9h-0.9zM51.7 133.0h0.9v0.9h-0.9zM45.0 127.4h0.9v0.9h-0.9zM59.0 129.6h0.9v0.9h-0.9zM43.7 129.5h0.9v0.9h-0.9zM59.2 129.6h0.9v0.9h-0.9zM43.8 141.0h0.9v0.9h-0.9zM60.0 125.5h0.9v0.9h-0.9zM49.9 129.9h0.9v0.9h-0.9zM48.2 140.5h0.9v0.9h-0.9zM67.4 121.3h0.9v0.9h-0.9zM50.4 137.2h0.9v0.9h-0.9zM49.2 137.7h0.9v0.9h-0.9zM50.7 125.5h0.9v0.9h-0.9zM42.2 137.3h0.9v0.9h-0.9zM54.6 131.1h0.9v0.9h-0.9zM52.1 122.3h0.9v0.9h-0.9zM49.9 128.6h0.9v0.9h-0.9zM50.3 134.3h0.9v0.9h-0.9zM42.4 136.2h0.9v0.9h-0.9zM42.7 139.2h0.9v0.9h-0.9zM42.3 134.6h0.9v0.9h-0.9zM48.2 129.6h0.9v0.9h-0.9zM53.7 125.9h0.9v0.9h-0.9zM54.7 131.1h0.9v0.9h-0.9zM42.0 136.5h0.9v0.9h-0.9zM42.8 135.1h0.9v0.9h-0.9zM52.6 142.3h0.9v0.9h-0.9zM51.0 141.8h0.9v0.9h-0.9zM47.6 125.8h0.9v0.9h-0.9zM37.1 145.6h0.9v0.9h-0.9zM39.1 144.5h0.9v0.9h-0.9zM56.0 130.8h0.9v0.9h-0.9zM46.8 133.1h0.9v0.9h-0.9zM49.4 130.9h0.9v0.9h-0.9zM44.5 133.9h0.9v0.9h-0.9zM53.9 125.9h0.9v0.9h-0.9zM47.6 126.8h0.9v0.9h-0.9zM40.5 130.3h0.9v0.9h-0.9zM49.6 137.0h0.9v0.9h-0.9zM49.2 129.9h0.9v0.9h-0.9zM51.4 129.3h0.9v0.9h-0.9zM51.8 133.0h0.9v0.9h-0.9zM44.7 120.4h0.9v0.9h-0.9zM43.4 141.9h0.9v0.9h-0.9zM54.8 143.4h0.9v0.9h-0.9zM45.8 131.9h0.9v0.9h-0.9zM59.3 129.7h0.9v0.9h-0.9zM61.5 127.8h0.9v0.9h-0.9zM49.7 137.2h0.9v0.9h-0.9zM42.8 134.6h0.9v0.9h-0.9zM44.9 134.6h0.9v0.9h-0.9zM52.0 128.1h0.9v0.9h-0.9zM49.2 129.8h0.9v0.9h-0.9zM45.9 117.9h0.9v0.9h-0.9zM48.1 134.9h0.9v0.9h-0.9zM45.4 142.0h0.9v0.9h-0.9zM53.9 137.9h0.9v0.9h-0.9zM56.4 132.2h0.9v0.9h-0.9zM44.7 129.2h0.9v0.9h-0.9zM46.1 132.2h0.9v0.9h-0.9zM48.9 130.3h0.9v0.9h-0.9zM62.1 114.1h0.9v0.9h-0.9zM54.3 126.5h0.9v0.9h-0.9zM50.1 138.3h0.9v0.9h-0.9zM45.2 128.1h0.9v0.9h-0.9zM50.7 130.8h0.9v0.9h-0.9zM37.2 142.5h0.9v0.9h-0.9zM40.4 134.4h0.9v0.9h-0.9zM52.5 132.6h0.9v0.9h-0.9zM53.5 143.8h0.9v0.9h-0.9zM49.5 129.0h0.9v0.9h-0.9zM49.8 131.8h0.9v0.9h-0.9zM31.2 135.4h0.9v0.9h-0.9zM46.7 147.8h0.9v0.9h-0.9zM46.9 132.9h0.9v0.9h-0.9zM48.4 139.8h0.9v0.9h-0.9zM54.0 140.5h0.9v0.9h-0.9zM58.3 137.2h0.9v0.9h-0.9zM49.2 135.4h0.9v0.9h-0.9zM45.8 134.3h0.9v0.9h-0.9zM36.9 137.8h0.9v0.9h-0.9zM41.3 134.3h0.9v0.9h-0.9zM56.7 129.5h0.9v0.9h-0.9zM58.5 132.1h0.9v0.9h-0.9zM57.2 133.9h0.9v0.9h-0.9zM47.6 139.2h0.9v0.9h-0.9zM45.3 132.3h0.9v0.9h-0.9zM62.2 137.8h0.9v0.9h-0.9zM48.1 144.7h0.9v0.9h-0.9zM51.2 126.3h0.9v0.9h-0.9zM51.5 133.8h0.9v0.9h-0.9zM50.0 130.3h0.9v0.9h-0.9zM41.3 138.6h0.9v0.9h-0.9zM56.2 133.2h0.9v0.9h-0.9zM55.9 135.4h0.9v0.9h-0.9zM42.8 137.1h0.9v0.9h-0.9zM53.7 136.2h0.9v0.9h-0.9zM51.2 134.9h0.9v0.9h-0.9zM55.8 141.8h0.9v0.9h-0.9zM35.9 142.0h0.9v0.9h-0.9zM64.1 124.3h0.9v0.9h-0.9zM38.4 141.2h0.9v0.9h-0.9zM38.4 136.2h0.9v0.9h-0.9zM55.2 139.8h0.9v0.9h-0.9zM53.5 134.3h0.9v0.9h-0.9zM55.4 130.1h0.9v0.9h-0.9zM43.5 136.3h0.9v0.9h-0.9zM50.0 130.8h0.9v0.9h-0.9zM43.8 134.4h0.9v0.9h-0.9zM37.0 134.9h0.9v0.9h-0.9zM47.2 132.1h0.9v0.9h-0.9zM53.1 139.2h0.9v0.9h-0.9zM50.5 132.0h0.9v0.9h-0.9zM38.7 133.4h0.9v0.9h-0.9zM48.4 128.0h0.9v0.9h-0.9zM48.2 127.0h0.9v0.9h-0.9zM49.4 132.4h0.9v0.9h-0.9zM53.5 127.6h0.9v0.9h-0.9zM47.3 135.9h0.9v0.9h-0.9zM54.1 140.3h0.9v0.9h-0.9zM45.7 132.0h0.9v0.9h-0.9zM48.3 136.6h0.9v0.9h-0.9zM52.2 135.3h0.9v0.9h-0.9zM47.9 149.5h0.9v0.9h-0.9zM59.5 125.8h0.9v0.9h-0.9zM42.1 138.8h0.9v0.9h-0.9zM44.7 122.1h0.9v0.9h-0.9zM44.5 126.9h0.9v0.9h-0.9zM55.5 137.4h0.9v0.9h-0.9zM50.5 122.7h0.9v0.9h-0.9zM59.6 131.6h0.9v0.9h-0.9zM48.2 136.9h0.9v0.9h-0.9zM56.7 125.8h0.9v0.9h-0.9zM47.1 131.0h0.9v0.9h-0.9zM49.3 119.4h0.9v0.9h-0.9zM54.3 123.4h0.9v0.9h-0.9zM49.5 122.6h0.9v0.9h-0.9zM41.5 134.5h0.9v0.9h-0.9zM48.9 123.0h0.9v0.9h-0.9zM50.5 128.2h0.9v0.9h-0.9zM55.2 127.0h0.9v0.9h-0.9zM51.2 130.6h0.9v0.9h-0.9zM58.3 124.5h0.9v0.9h-0.9zM54.5 141.9h0.9v0.9h-0.9zM51.3 135.9h0.9v0.9h-0.9zM45.1 137.1h0.9v0.9h-0.9zM35.8 142.9h0.9v0.9h-0.9zM40.6 129.5h0.9v0.9h-0.9zM43.8 143.9h0.9v0.9h-0.9zM46.9 125.1h0.9v0.9h-0.9zM57.4 123.0h0.9v0.9h-0.9zM47.4 135.8h0.9v0.9h-0.9zM37.4 130.9h0.9v0.9h-0.9zM47.9 141.4h0.9v0.9h-0.9zM49.8 122.7h0.9v0.9h-0.9zM56.0 128.6h0.9v0.9h-0.9zM51.9 131.5h0.9v0.9h-0.9zM48.3 127.3h0.9v0.9h-0.9zM41.4 133.9h0.9v0.9h-0.9zM48.5 137.4h0.9v0.9h-0.9zM46.3 145.0h0.9v0.9h-0.9zM43.4 133.3h0.9v0.9h-0.9zM54.2 132.3h0.9v0.9h-0.9zM43.7 130.1h0.9v0.9h-0.9zM38.2 130.5h0.9v0.9h-0.9zM58.7 133.3h0.9v0.9h-0.9zM61.2 127.9h0.9v0.9h-0.9zM53.0 135.2h0.9v0.9h-0.9zM53.6 128.4h0.9v0.9h-0.9zM57.2 141.1h0.9v0.9h-0.9zM34.7 134.1h0.9v0.9h-0.9zM45.3 140.4h0.9v0.9h-0.9zM54.8 127.1h0.9v0.9h-0.9zM52.6 130.4h0.9v0.9h-0.9zM49.0 129.8h0.9v0.9h-0.9zM48.6 133.4h0.9v0.9h-0.9zM62.0 138.3h0.9v0.9h-0.9zM39.7 142.9h0.9v0.9h-0.9zM51.6 137.5h0.9v0.9h-0.9zM57.3 132.4h0.9v0.9h-0.9zM50.8 126.0h0.9v0.9h-0.9zM43.7 147.3h0.9v0.9h-0.9zM53.1 124.4h0.9v0.9h-0.9zM58.3 131.0h0.9v0.9h-0.9zM37.0 147.0h0.9v0.9h-0.9zM46.4 142.3h0.9v0.9h-0.9zM42.6 132.9h0.9v0.9h-0.9zM39.1 138.6h0.9v0.9h-0.9zM52.8 126.3h0.9v0.9h-0.9zM44.2 150.0h0.9v0.9h-0.9zM61.7 128.8h0.9v0.9h-0.9zM42.1 130.3h0.9v0.9h-0.9zM40.8 142.3h0.9v0.9h-0.9zM53.3 123.5h0.9v0.9h-0.9zM48.0 132.1h0.9v0.9h-0.9zM48.8 136.5h0.9v0.9h-0.9zM59.2 122.1h0.9v0.9h-0.9zM57.0 134.6h0.9v0.9h-0.9zM46.7 133.8h0.9v0.9h-0.9zM44.1 143.3h0.9v0.9h-0.9zM43.8 132.6h0.9v0.9h-0.9zM46.7 129.3h0.9v0.9h-0.9zM41.8 136.2h0.9v0.9h-0.9zM56.9 126.4h0.9v0.9h-0.9zM47.6 124.9h0.9v0.9h-0.9zM42.7 149.0h0.9v0.9h-0.9zM41.9 128.3h0.9v0.9h-0.9zM50.0 136.3h0.9v0.9h-0.9zM36.0 136.5h0.9v0.9h-0.9zM47.6 128.3h0.9v0.9h-0.9zM56.3 134.2h0.9v0.9h-0.9zM50.1 129.7h0.9v0.9h-0.9zM46.7 130.8h0.9v0.9h-0.9zM49.0 135.2h0.9v0.9h-0.9zM49.9 138.7h0.9v0.9h-0.9zM62.5 120.5h0.9v0.9h-0.9zM53.2 135.5h0.9v0.9h-0.9zM51.9 129.7h0.9v0.9h-0.9zM48.9 139.6h0.9v0.9h-0.9zM54.0 133.0h0.9v0.9h-0.9zM45.9 139.3h0.9v0.9h-0.9zM52.9 129.3h0.9v0.9h-0.9zM59.0 140.0h0.9v0.9h-0.9zM39.5 143.5h0.9v0.9h-0.9zM37.9 132.2h0.9v0.9h-0.9zM49.0 136.6h0.9v0.9h-0.9zM45.7 128.1h0.9v0.9h-0.9zM38.7 136.7h0.9v0.9h-0.9zM46.4 129.7h0.9v0.9h-0.9zM45.1 146.9h0.9v0.9h-0.9zM43.4 136.0h0.9v0.9h-0.9zM43.8 133.0h0.9v0.9h-0.9zM48.2 131.9h0.9v0.9h-0.9zM49.0 125.7h0.9v0.9h-0.9zM45.8 147.7h0.9v0.9h-0.9zM50.6 136.9h0.9v0.9h-0.9zM57.4 130.9h0.9v0.9h-0.9zM44.4 126.4h0.9v0.9h-0.9zM42.2 144.0h0.9v0.9h-0.9zM54.5 133.0h0.9v0.9h-0.9zM32.7 130.8h0.9v0.9h-0.9zM39.1 132.5h0.9v0.9h-0.9zM46.7 128.2h0.9v0.9h-0.9zM56.3 124.2h0.9v0.9h-0.9zM48.0 139.3h0.9v0.9h-0.9zM48.1 128.1h0.9v0.9h-0.9zM59.3 138.3h0.9v0.9h-0.9zM40.8 137.2h0.9v0.9h-0.9zM36.7 129.3h0.9v0.9h-0.9zM54.6 133.8h0.9v0.9h-0.9zM55.8 131.2h0.9v0.9h-0.9zM36.8 141.3h0.9v0.9h-0.9zM41.4 130.9h0.9v0.9h-0.9zM44.5 141.1h0.9v0.9h-0.9zM52.9 143.0h0.9v0.9h-0.9zM45.9 123.1h0.9v0.9h-0.9zM57.8 135.1h0.9v0.9h-0.9zM45.4 127.9h0.9v0.9h-0.9zM55.4 120.4h0.9v0.9h-0.9zM42.7 125.4h0.9v0.9h-0.9zM36.3 131.0h0.9v0.9h-0.9zM58.8 134.0h0.9v0.9h-0.9zM42.4 129.1h0.9v0.9h-0.9zM49.6 135.2h0.9v0.9h-0.9zM36.3 134.5h0.9v0.9h-0.9zM50.3 136.8h0.9v0.9h-0.9zM50.6 134.9h0.9v0.9h-0.9zM34.0 127.6h0.9v0.9h-0.9zM47.9 128.0h0.9v0.9h-0.9zM46.9 132.2h0.9v0.9h-0.9zM49.4 128.0h0.9v0.9h-0.9zM57.5 127.6h0.9v0.9h-0.9zM53.8 133.9h0.9v0.9h-0.9zM56.2 130.8h0.9v0.9h-0.9zM36.5 137.7h0.9v0.9h-0.9zM61.3 127.8h0.9v0.9h-0.9zM53.5 133.0h0.9v0.9h-0.9zM43.0 133.0h0.9v0.9h-0.9zM48.4 141.0h0.9v0.9h-0.9zM56.3 139.6h0.9v0.9h-0.9zM57.4 139.5h0.9v0.9h-0.9zM48.0 126.3h0.9v0.9h-0.9zM60.2 127.7h0.9v0.9h-0.9zM56.6 129.4h0.9v0.9h-0.9zM47.3 135.4h0.9v0.9h-0.9zM38.5 132.7h0.9v0.9h-0.9zM41.9 134.6h0.9v0.9h-0.9zM40.4 138.4h0.9v0.9h-0.9zM56.7 140.9h0.9v0.9h-0.9zM59.7 125.5h0.9v0.9h-0.9zM53.4 128.7h0.9v0.9h-0.9zM51.0 131.5h0.9v0.9h-0.9zM45.8 135.8h0.9v0.9h-0.9zM41.2 141.3h0.9v0.9h-0.9zM43.8 129.7h0.9v0.9h-0.9zM48.3 137.2h0.9v0.9h-0.9zM46.1 138.2h0.9v0.9h-0.9zM56.9 137.8h0.9v0.9h-0.9zM41.9 137.3h0.9v0.9h-0.9zM56.4 137.8h0.9v0.9h-0.9zM52.6 135.5h0.9v0.9h-0.9zM38.2 136.8h0.9v0.9h-0.9zM57.9 125.2h0.9v0.9h-0.9zM59.6 121.2h0.9v0.9h-0.9zM42.3 127.4h0.9v0.9h-0.9zM53.4 131.8h0.9v0.9h-0.9zM61.4 125.7h0.9v0.9h-0.9zM43.1 128.1h0.9v0.9h-0.9zM51.2 137.8h0.9v0.9h-0.9zM57.0 135.6h0.9v0.9h-0.9zM53.9 129.5h0.9v0.9h-0.9zM53.0 131.6h0.9v0.9h-0.9zM45.9 146.3h0.9v0.9h-0.9zM47.9 127.1h0.9v0.9h-0.9zM52.0 133.0h0.9v0.9h-0.9zM59.2 135.5h0.9v0.9h-0.9zM32.1 148.3h0.9v0.9h-0.9zM55.2 122.8h0.9v0.9h-0.9zM38.4 142.2h0.9v0.9h-0.9zM51.9 133.5h0.9v0.9h-0.9zM40.7 135.8h0.9v0.9h-0.9zM52.2 135.8h0.9v0.9h-0.9zM62.9 125.5h0.9v0.9h-0.9zM38.0 125.4h0.9v0.9h-0.9zM54.9 128.3h0.9v0.9h-0.9zM45.2 129.4h0.9v0.9h-0.9zM47.8 122.3h0.9v0.9h-0.9zM49.8 133.4h0.9v0.9h-0.9zM54.6 137.8h0.9v0.9h-0.9zM48.5 134.1h0.9v0.9h-0.9zM49.3 122.9h0.9v0.9h-0.9zM47.2 134.8h0.9v0.9h-0.9zM52.2 125.8h0.9v0.9h-0.9zM54.8 131.7h0.9v0.9h-0.9zM35.3 132.9h0.9v0.9h-0.9zM40.5 139.9h0.9v0.9h-0.9zM52.2 135.6h0.9v0.9h-0.9zM52.1 127.5h0.9v0.9h-0.9zM57.8 132.5h0.9v0.9h-0.9zM53.1 133.5h0.9v0.9h-0.9zM42.1 140.2h0.9v0.9h-0.9zM38.9 132.3h0.9v0.9h-0.9zM47.1 135.4h0.9v0.9h-0.9zM47.5 132.1h0.9v0.9h-0.9zM43.3 138.3h0.9v0.9h-0.9zM40.0 130.1h0.9v0.9h-0.9zM53.8 139.4h0.9v0.9h-0.9zM43.1 130.3h0.9v0.9h-0.9zM62.4 135.1h0.9v0.9h-0.9zM46.4 133.6h0.9v0.9h-0.9zM59.0 145.5h0.9v0.9h-0.9zM52.6 137.2h0.9v0.9h-0.9zM46.0 123.4h0.9v0.9h-0.9zM38.4 132.4h0.9v0.9h-0.9zM51.8 132.0h0.9v0.9h-0.9zM58.9 124.7h0.9v0.9h-0.9zM50.9 132.4h0.9v0.9h-0.9zM56.7 143.0h0.9v0.9h-0.9zM55.0 138.6h0.9v0.9h-0.9zM54.8 125.2h0.9v0.9h-0.9zM51.8 128.8h0.9v0.9h-0.9zM49.9 133.5h0.9v0.9h-0.9zM47.5 131.1h0.9v0.9h-0.9zM57.5 125.6h0.9v0.9h-0.9zM58.2 137.8h0.9v0.9h-0.9zM55.7 135.3h0.9v0.9h-0.9zM60.6 132.4h0.9v0.9h-0.9zM54.9 119.8h0.9v0.9h-0.9zM60.8 125.3h0.9v0.9h-0.9zM36.2 137.7h0.9v0.9h-0.9zM40.2 139.0h0.9v0.9h-0.9zM36.7 135.0h0.9v0.9h-0.9zM51.1 132.8h0.9v0.9h-0.9zM43.2 135.6h0.9v0.9h-0.9zM48.4 134.0h0.9v0.9h-0.9zM48.1 132.3h0.9v0.9h-0.9zM49.3 122.5h0.9v0.9h-0.9zM46.2 136.0h0.9v0.9h-0.9zM44.7 132.5h0.9v0.9h-0.9zM46.8 136.1h0.9v0.9h-0.9zM55.8 127.3h0.9v0.9h-0.9zM48.3 136.0h0.9v0.9h-0.9zM41.4 125.7h0.9v0.9h-0.9zM49.3 130.5h0.9v0.9h-0.9zM47.2 138.5h0.9v0.9h-0.9zM47.3 130.6h0.9v0.9h-0.9zM30.3 134.7h0.9v0.9h-0.9zM48.5 132.7h0.9v0.9h-0.9zM52.2 132.5h0.9v0.9h-0.9zM42.0 129.7h0.9v0.9h-0.9zM41.7 137.3h0.9v0.9h-0.9zM44.1 141.5h0.9v0.9h-0.9zM35.2 130.9h0.9v0.9h-0.9zM42.2 126.2h0.9v0.9h-0.9zM55.7 122.1h0.9v0.9h-0.9zM47.7 132.4h0.9v0.9h-0.9zM38.4 128.9h0.9v0.9h-0.9zM40.1 144.9h0.9v0.9h-0.9zM61.6 138.7h0.9v0.9h-0.9zM41.6 141.9h0.9v0.9h-0.9zM51.3 137.1h0.9v0.9h-0.9zM47.9 138.7h0.9v0.9h-0.9zM56.1 132.3h0.9v0.9h-0.9zM57.1 126.5h0.9v0.9h-0.9zM56.1 123.7h0.9v0.9h-0.9zM50.6 114.1h0.9v0.9h-0.9zM46.4 129.7h0.9v0.9h-0.9zM52.0 137.9h0.9v0.9h-0.9zM53.5 130.7h0.9v0.9h-0.9zM54.7 119.6h0.9v0.9h-0.9zM48.4 143.4h0.9v0.9h-0.9zM44.5 122.7h0.9v0.9h-0.9zM47.3 126.6h0.9v0.9h-0.9zM61.3 132.2h0.9v0.9h-0.9zM49.4 141.4h0.9v0.9h-0.9zM46.5 140.9h0.9v0.9h-0.9zM51.9 130.3h0.9v0.9h-0.9zM39.3 138.0h0.9v0.9h-0.9zM33.1 140.4h0.9v0.9h-0.9zM41.2 146.4h0.9v0.9h-0.9zM35.5 126.5h0.9v0.9h-0.9zM53.5 132.5h0.9v0.9h-0.9zM52.2 144.9h0.9v0.9h-0.9zM53.7 130.4h0.9v0.9h-0.9zM35.8 122.8h0.9v0.9h-0.9zM54.7 135.6h0.9v0.9h-0.9zM40.9 129.5h0.9v0.9h-0.9zM43.4 126.0h0.9v0.9h-0.9zM51.2 136.7h0.9v0.9h-0.9zM58.8 128.2h0.9v0.9h-0.9zM52.3 135.8h0.9v0.9h-0.9zM56.4 126.0h0.9v0.9h-0.9zM38.9 134.9h0.9v0.9h-0.9zM38.4 134.6h0.9v0.9h-0.9zM49.1 135.3h0.9v0.9h-0.9zM50.0 133.0h0.9v0.9h-0.9zM47.9 136.7h0.9v0.9h-0.9zM56.5 133.0h0.9v0.9h-0.9zM57.1 125.8h0.9v0.9h-0.9zM52.4 141.9h0.9v0.9h-0.9zM51.3 134.3h0.9v0.9h-0.9zM49.7 139.0h0.9v0.9h-0.9zM43.3 130.5h0.9v0.9h-0.9zM47.1 131.6h0.9v0.9h-0.9zM52.7 128.1h0.9v0.9h-0.9zM48.9 131.8h0.9v0.9h-0.9zM49.0 129.1h0.9v0.9h-0.9zM51.2 122.3h0.9v0.9h-0.9zM44.3 131.8h0.9v0.9h-0.9zM52.9 130.8h0.9v0.9h-0.9zM50.8 129.8h0.9v0.9h-0.9zM41.0 131.3h0.9v0.9h-0.9zM45.1 132.3h0.9v0.9h-0.9zM51.6 133.7h0.9v0.9h-0.9zM54.4 128.7h0.9v0.9h-0.9zM41.0 131.7h0.9v0.9h-0.9zM50.3 134.7h0.9v0.9h-0.9zM61.3 126.0h0.9v0.9h-0.9zM65.2 134.3h0.9v0.9h-0.9zM46.1 143.1h0.9v0.9h-0.9zM59.8 134.5h0.9v0.9h-0.9zM51.7 137.6h0.9v0.9h-0.9zM45.6 135.0h0.9v0.9h-0.9zM54.4 141.2h0.9v0.9h-0.9zM50.4 138.5h0.9v0.9h-0.9zM47.0 129.9h0.9v0.9h-0.9zM52.3 135.2h0.9v0.9h-0.9zM46.4 139.1h0.9v0.9h-0.9zM41.8 132.4h0.9v0.9h-0.9zM49.4 131.3h0.9v0.9h-0.9zM37.8 130.1h0.9v0.9h-0.9zM49.7 134.3h0.9v0.9h-0.9zM46.6 136.1h0.9v0.9h-0.9zM40.7 141.4h0.9v0.9h-0.9zM52.2 132.8h0.9v0.9h-0.9zM45.3 136.2h0.9v0.9h-0.9zM52.9 137.5h0.9v0.9h-0.9zM51.3 133.3h0.9v0.9h-0.9zM47.0 140.2h0.9v0.9h-0.9zM54.5 126.2h0.9v0.9h-0.9zM53.6 132.0h0.9v0.9h-0.9zM44.6 127.8h0.9v0.9h-0.9zM53.8 117.6h0.9v0.9h-0.9zM49.5 130.4h0.9v0.9h-0.9zM54.5 126.6h0.9v0.9h-0.9zM50.9 135.9h0.9v0.9h-0.9zM50.0 129.1h0.9v0.9h-0.9zM54.2 132.2h0.9v0.9h-0.9zM53.3 126.9h0.9v0.9h-0.9zM47.3 131.8h0.9v0.9h-0.9zM44.5 137.9h0.9v0.9h-0.9zM55.6 137.9h0.9v0.9h-0.9zM48.0 136.4h0.9v0.9h-0.9zM55.4 128.0h0.9v0.9h-0.9zM49.6 133.6h0.9v0.9h-0.9zM41.6 131.8h0.9v0.9h-0.9zM56.1 129.4h0.9v0.9h-0.9zM44.6 128.1h0.9v0.9h-0.9zM53.1 138.0h0.9v0.9h-0.9zM39.1 134.1h0.9v0.9h-0.9zM59.9 135.0h0.9v0.9h-0.9zM56.6 124.4h0.9v0.9h-0.9zM50.2 127.5h0.9v0.9h-0.9zM50.9 129.5h0.9v0.9h-0.9zM54.1 138.4h0.9v0.9h-0.9zM50.1 130.8h0.9v0.9h-0.9zM49.9 134.2h0.9v0.9h-0.9zM46.3 136.3h0.9v0.9h-0.9zM57.2 137.7h0.9v0.9h-0.9zM32.7 136.6h0.9v0.9h-0.9zM43.9 142.3h0.9v0.9h-0.9zM64.2 124.0h0.9v0.9h-0.9zM53.0 137.8h0.9v0.9h-0.9zM33.4 142.6h0.9v0.9h-0.9zM30.3 146.9h0.9v0.9h-0.9zM44.2 133.3h0.9v0.9h-0.9zM49.1 129.3h0.9v0.9h-0.9zM55.5 128.7h0.9v0.9h-0.9zM58.8 143.0h0.9v0.9h-0.9zM48.9 139.3h0.9v0.9h-0.9zM47.6 142.3h0.9v0.9h-0.9zM55.1 129.9h0.9v0.9h-0.9zM59.7 136.3h0.9v0.9h-0.9zM57.2 127.6h0.9v0.9h-0.9zM51.8 138.4h0.9v0.9h-0.9zM38.1 136.7h0.9v0.9h-0.9zM53.5 133.8h0.9v0.9h-0.9zM65.4 133.4h0.9v0.9h-0.9zM52.1 133.9h0.9v0.9h-0.9zM40.3 137.9h0.9v0.9h-0.9zM49.7 131.2h0.9v0.9h-0.9zM51.0 135.7h0.9v0.9h-0.9zM41.3 134.7h0.9v0.9h-0.9zM41.5 145.7h0.9v0.9h-0.9zM37.3 130.2h0.9v0.9h-0.9zM52.8 129.2h0.9v0.9h-0.9zM53.5 127.7h0.9v0.9h-0.9zM63.8 127.7h0.9v0.9h-0.9zM50.1 133.2h0.9v0.9h-0.9zM50.0 137.7h0.9v0.9h-0.9zM59.6 123.2h0.9v0.9h-0.9zM44.0 140.4h0.9v0.9h-0.9zM50.7 122.3h0.9v0.9h-0.9zM41.6 131.8h0.9v0.9h-0.9zM53.7 133.2h0.9v0.9h-0.9zM41.0 131.4h0.9v0.9h-0.9zM46.7 121.4h0.9v0.9h-0.9zM52.2 130.0h0.9v0.9h-0.9zM63.4 129.8h0.9v0.9h-0.9zM44.5 134.5h0.9v0.9h-0.9zM44.9 131.2h0.9v0.9h-0.9zM52.2 137.2h0.9v0.9h-0.9zM39.0 138.5h0.9v0.9h-0.9zM60.0 130.4h0.9v0.9h-0.9zM41.5 133.1h0.9v0.9h-0.9zM38.8 129.8h0.9v0.9h-0.9zM55.9 128.9h0.9v0.9h-0.9zM40.3 129.9h0.9v0.9h-0.9zM45.0 132.6h0.9v0.9h-0.9zM57.8 124.2h0.9v0.9h-0.9zM52.7 137.5h0.9v0.9h-0.9zM52.3 129.8h0.9v0.9h-0.9zM39.9 148.4h0.9v0.9h-0.9zM51.1 128.9h0.9v0.9h-0.9zM45.4 129.5h0.9v0.9h-0.9zM38.9 130.5h0.9v0.9h-0.9zM53.4 133.5h0.9v0.9h-0.9zM52.2 136.0h0.9v0.9h-0.9zM52.4 131.6h0.9v0.9h-0.9zM45.3 139.5h0.9v0.9h-0.9zM57.8 131.2h0.9v0.9h-0.9zM54.9 126.1h0.9v0.9h-0.9zM46.7 142.8h0.9v0.9h-0.9zM46.0 136.8h0.9v0.9h-0.9zM47.7 134.2h0.9v0.9h-0.9zM45.6 132.1h0.9v0.9h-0.9zM43.8 149.0h0.9v0.9h-0.9zM44.3 124.0h0.9v0.9h-0.9zM40.0 132.1h0.9v0.9h-0.9zM36.7 125.2h0.9v0.9h-0.9zM57.2 138.1h0.9v0.9h-0.9zM49.6 137.6h0.9v0.9h-0.9zM48.7 125.4h0.9v0.9h-0.9zM51.1 120.9h0.9v0.9h-0.9zM44.3 134.1h0.9v0.9h-0.9zM56.7 128.7h0.9v0.9h-0.9zM45.7 130.3h0.9v0.9h-0.9zM49.5 133.1h0.9v0.9h-0.9zM57.3 136.4h0.9v0.9h-0.9zM53.3 130.4h0.9v0.9h-0.9zM52.7 140.9h0.9v0.9h-0.9zM50.0 132.4h0.9v0.9h-0.9zM64.2 132.8h0.9v0.9h-0.9zM51.9 130.5h0.9v0.9h-0.9zM48.2 140.6h0.9v0.9h-0.9zM49.0 139.3h0.9v0.9h-0.9zM44.4 137.0h0.9v0.9h-0.9zM51.6 132.3h0.9v0.9h-0.9zM51.3 134.0h0.9v0.9h-0.9zM38.8 133.1h0.9v0.9h-0.9zM53.3 141.8h0.9v0.9h-0.9zM45.3 129.8h0.9v0.9h-0.9zM45.0 136.1h0.9v0.9h-0.9zM54.2 126.0h0.9v0.9h-0.9zM52.7 131.8h0.9v0.9h-0.9zM43.9 130.6h0.9v0.9h-0.9zM45.7 130.8h0.9v0.9h-0.9zM46.8 123.4h0.9v0.9h-0.9zM57.8 132.0h0.9v0.9h-0.9zM56.7 137.5h0.9v0.9h-0.9zM47.3 123.4h0.9v0.9h-0.9zM50.5 135.0h0.9v0.9h-0.9zM41.4 131.2h0.9v0.9h-0.9zM52.9 133.8h0.9v0.9h-0.9zM45.5 134.0h0.9v0.9h-0.9zM44.1 132.9h0.9v0.9h-0.9zM51.7 138.2h0.9v0.9h-0.9zM38.2 138.4h0.9v0.9h-0.9zM59.4 128.1h0.9v0.9h-0.9zM52.2 136.3h0.9v0.9h-0.9zM39.2 132.1h0.9v0.9h-0.9zM34.6 133.7h0.9v0.9h-0.9zM52.8 136.0h0.9v0.9h-0.9zM44.3 132.0h0.9v0.9h-0.9zM53.0 134.3h0.9v0.9h-0.9zM44.7 124.0h0.9v0.9h-0.9zM38.0 124.5h0.9v0.9h-0.9zM47.7 128.6h0.9v0.9h-0.9zM49.4 142.5h0.9v0.9h-0.9zM58.1 130.0h0.9v0.9h-0.9zM51.0 132.9h0.9v0.9h-0.9zM45.2 135.5h0.9v0.9h-0.9zM57.6 121.7h0.9v0.9h-0.9zM45.3 136.7h0.9v0.9h-0.9zM56.6 133.3h0.9v0.9h-0.9zM42.7 136.7h0.9v0.9h-0.9zM43.6 129.0h0.9v0.9h-0.9zM47.8 130.9h0.9v0.9h-0.9zM55.6 131.4h0.9v0.9h-0.9zM44.4 136.8h0.9v0.9h-0.9zM44.8 132.0h0.9v0.9h-0.9zM49.1 139.9h0.9v0.9h-0.9zM41.3 127.5h0.9v0.9h-0.9zM46.6 139.9h0.9v0.9h-0.9zM58.5 120.0h0.9v0.9h-0.9zM45.7 133.3h0.9v0.9h-0.9zM41.6 140.8h0.9v0.9h-0.9zM49.3 134.7h0.9v0.9h-0.9zM61.3 123.0h0.9v0.9h-0.9zM56.0 133.7h0.9v0.9h-0.9zM43.3 133.3h0.9v0.9h-0.9zM60.2 130.1h0.9v0.9h-0.9zM46.4 128.0h0.9v0.9h-0.9zM55.6 132.0h0.9v0.9h-0.9zM66.2 130.8h0.9v0.9h-0.9zM54.4 131.2h0.9v0.9h-0.9zM47.5 130.7h0.9v0.9h-0.9zM51.4 133.1h0.9v0.9h-0.9zM55.9 135.4h0.9v0.9h-0.9zM49.0 129.7h0.9v0.9h-0.9zM58.2 136.7h0.9v0.9h-0.9zM45.1 138.5h0.9v0.9h-0.9zM53.6 133.4h0.9v0.9h-0.9zM51.5 130.9h0.9v0.9h-0.9zM53.2 141.0h0.9v0.9h-0.9zM54.9 120.2h0.9v0.9h-0.9zM35.0 145.5h0.9v0.9h-0.9zM43.3 133.8h0.9v0.9h-0.9zM40.4 141.3h0.9v0.9h-0.9zM46.9 131.2h0.9v0.9h-0.9zM61.3 140.2h0.9v0.9h-0.9zM61.0 132.4h0.9v0.9h-0.9zM48.3 137.8h0.9v0.9h-0.9zM52.0 138.5h0.9v0.9h-0.9zM52.2 130.8h0.9v0.9h-0.9zM50.0 127.9h0.9v0.9h-0.9zM58.0 136.6h0.9v0.9h-0.9zM48.3 137.2h0.9v0.9h-0.9zM41.7 144.1h0.9v0.9h-0.9zM51.0 125.3h0.9v0.9h-0.9zM59.5 126.7h0.9v0.9h-0.9zM34.5 134.4h0.9v0.9h-0.9zM53.2 128.6h0.9v0.9h-0.9zM50.8 122.1h0.9v0.9h-0.9zM51.1 137.9h0.9v0.9h-0.9zM46.8 139.0h0.9v0.9h-0.9zM47.7 136.2h0.9v0.9h-0.9zM57.3 141.7h0.9v0.9h-0.9zM43.8 141.7h0.9v0.9h-0.9zM53.3 123.1h0.9v0.9h-0.9zM56.1 143.0h0.9v0.9h-0.9zM46.2 116.2h0.9v0.9h-0.9zM42.3 126.9h0.9v0.9h-0.9zM48.5 128.9h0.9v0.9h-0.9zM43.0 132.0h0.9v0.9h-0.9zM49.2 130.1h0.9v0.9h-0.9zM42.8 136.0h0.9v0.9h-0.9zM48.7 127.9h0.9v0.9h-0.9zM50.5 121.6h0.9v0.9h-0.9zM50.1 130.0h0.9v0.9h-0.9zM56.2 124.1h0.9v0.9h-0.9zM40.9 130.2h0.9v0.9h-0.9zM62.4 127.9h0.9v0.9h-0.9zM41.4 136.2h0.9v0.9h-0.9zM47.6 143.8h0.9v0.9h-0.9zM45.2 122.8h0.9v0.9h-0.9zM52.8 136.4h0.9v0.9h-0.9zM50.2 135.3h0.9v0.9h-0.9zM48.8 134.7h0.9v0.9h-0.9zM48.0 129.4h0.9v0.9h-0.9zM51.4 132.6h0.9v0.9h-0.9zM46.5 130.5h0.9v0.9h-0.9zM43.5 138.5h0.9v0.9h-0.9zM46.5 119.5h0.9v0.9h-0.9zM49.6 141.3h0.9v0.9h-0.9zM52.1 126.5h0.9v0.9h-0.9zM53.9 123.5h0.9v0.9h-0.9zM49.9 144.9h0.9v0.9h-0.9zM45.6 134.1h0.9v0.9h-0.9zM36.0 135.6h0.9v0.9h-0.9zM41.4 137.5h0.9v0.9h-0.9zM41.1 145.4h0.9v0.9h-0.9zM44.9 132.1h0.9v0.9h-0.9zM47.2 139.1h0.9v0.9h-0.9zM56.7 125.3h0.9v0.9h-0.9zM63.2 133.7h0.9v0.9h-0.9zM57.7 129.1h0.9v0.9h-0.9zM42.0 142.3h0.9v0.9h-0.9zM46.9 135.8h0.9v0.9h-0.9zM36.8 139.7h0.9v0.9h-0.9zM47.4 128.3h0.9v0.9h-0.9zM55.5 139.4h0.9v0.9h-0.9zM48.1 129.4h0.9v0.9h-0.9zM56.6 114.3h0.9v0.9h-0.9zM44.5 138.8h0.9v0.9h-0.9zM38.5 125.8h0.9v0.9h-0.9zM52.8 135.8h0.9v0.9h-0.9zM48.4 142.9h0.9v0.9h-0.9zM55.3 136.4h0.9v0.9h-0.9zM39.7 139.5h0.9v0.9h-0.9zM64.3 135.5h0.9v0.9h-0.9zM56.6 127.9h0.9v0.9h-0.9zM48.0 129.8h0.9v0.9h-0.9zM53.3 125.8h0.9v0.9h-0.9zM43.4 123.8h0.9v0.9h-0.9zM45.1 147.2h0.9v0.9h-0.9zM49.8 134.0h0.9v0.9h-0.9zM35.6 142.1h0.9v0.9h-0.9zM56.7 118.4h0.9v0.9h-0.9zM34.2 142.3h0.9v0.9h-0.9zM45.0 134.6h0.9v0.9h-0.9zM37.3 132.5h0.9v0.9h-0.9zM43.3 141.1h0.9v0.9h-0.9zM51.0 137.1h0.9v0.9h-0.9zM44.1 140.3h0.9v0.9h-0.9zM46.4 135.5h0.9v0.9h-0.9zM54.5 129.6h0.9v0.9h-0.9zM41.7 127.5h0.9v0.9h-0.9zM51.5 136.5h0.9v0.9h-0.9zM44.8 135.6h0.9v0.9h-0.9zM34.3 134.7h0.9v0.9h-0.9zM55.1 137.3h0.9v0.9h-0.9zM42.0 127.3h0.9v0.9h-0.9zM41.9 128.0h0.9v0.9h-0.9zM52.9 142.8h0.9v0.9h-0.9zM50.1 131.4h0.9v0.9h-0.9zM53.9 127.4h0.9v0.9h-0.9zM51.4 132.8h0.9v0.9h-0.9zM47.1 125.1h0.9v0.9h-0.9zM55.7 134.2h0.9v0.9h-0.9zM27.0 130.8h0.9v0.9h-0.9zM47.9 143.5h0.9v0.9h-0.9zM51.0 136.2h0.9v0.9h-0.9zM54.8 134.9h0.9v0.9h-0.9zM43.2 133.4h0.9v0.9h-0.9zM52.9 134.4h0.9v0.9h-0.9zM53.3 132.4h0.9v0.9h-0.9zM49.2 140.1h0.9v0.9h-0.9zM54.8 136.0h0.9v0.9h-0.9zM36.6 148.2h0.9v0.9h-0.9zM34.8 144.2h0.9v0.9h-0.9zM45.2 136.6h0.9v0.9h-0.9zM45.0 133.9h0.9v0.9h-0.9zM51.0 134.0h0.9v0.9h-0.9zM36.4 125.5h0.9v0.9h-0.9zM45.7 138.9h0.9v0.9h-0.9zM45.0 138.7h0.9v0.9h-0.9zM43.7 130.7h0.9v0.9h-0.9zM60.8 135.8h0.9v0.9h-0.9zM48.0 133.5h0.9v0.9h-0.9zM50.6 123.5h0.9v0.9h-0.9zM47.0 141.9h0.9v0.9h-0.9zM52.7 127.4h0.9v0.9h-0.9zM45.2 138.0h0.9v0.9h-0.9zM38.8 136.9h0.9v0.9h-0.9zM40.0 123.4h0.9v0.9h-0.9zM54.7 134.2h0.9v0.9h-0.9zM50.9 122.6h0.9v0.9h-0.9zM38.6 135.0h0.9v0.9h-0.9zM47.1 147.7h0.9v0.9h-0.9zM42.0 136.0h0.9v0.9h-0.9zM51.4 134.5h0.9v0.9h-0.9zM54.3 122.5h0.9v0.9h-0.9zM54.6 130.3h0.9v0.9h-0.9zM42.2 138.8h0.9v0.9h-0.9zM45.2 146.3h0.9v0.9h-0.9zM47.4 140.8h0.9v0.9h-0.9zM54.8 125.2h0.9v0.9h-0.9zM43.8 137.6h0.9v0.9h-0.9zM45.2 141.6h0.9v0.9h-0.9zM47.6 129.2h0.9v0.9h-0.9zM46.8 139.4h0.9v0.9h-0.9zM45.1 146.8h0.9v0.9h-0.9zM43.4 135.7h0.9v0.9h-0.9zM48.1 144.3h0.9v0.9h-0.9zM57.7 135.6h0.9v0.9h-0.9zM53.0 131.0h0.9v0.9h-0.9zM61.1 129.2h0.9v0.9h-0.9zM53.2 134.0h0.9v0.9h-0.9zM54.1 131.5h0.9v0.9h-0.9zM42.9 126.9h0.9v0.9h-0.9zM57.4 119.0h0.9v0.9h-0.9zM33.5 139.1h0.9v0.9h-0.9zM64.3 130.7h0.9v0.9h-0.9zM45.9 137.0h0.9v0.9h-0.9zM42.6 124.6h0.9v0.9h-0.9zM47.7 136.0h0.9v0.9h-0.9zM52.3 123.1h0.9v0.9h-0.9zM30.3 135.7h0.9v0.9h-0.9zM51.1 132.3h0.9v0.9h-0.9zM50.2 133.3h0.9v0.9h-0.9zM42.4 128.8h0.9v0.9h-0.9zM52.7 133.1h0.9v0.9h-0.9zM56.1 136.4h0.9v0.9h-0.9zM34.1 128.1h0.9v0.9h-0.9zM44.4 150.3h0.9v0.9h-0.9zM44.4 138.9h0.9v0.9h-0.9zM50.9 136.6h0.9v0.9h-0.9zM66.8 117.6h0.9v0.9h-0.9zM45.9 131.3h0.9v0.9h-0.9zM51.9 134.6h0.9v0.9h-0.9zM46.9 143.2h0.9v0.9h-0.9zM57.2 130.5h0.9v0.9h-0.9zM47.4 132.7h0.9v0.9h-0.9zM40.8 143.1h0.9v0.9h-0.9zM41.3 135.1h0.9v0.9h-0.9zM52.1 125.0h0.9v0.9h-0.9zM48.2 139.3h0.9v0.9h-0.9zM58.0 122.5h0.9v0.9h-0.9zM53.5 125.8h0.9v0.9h-0.9zM52.6 133.8h0.9v0.9h-0.9zM45.0 142.6h0.9v0.9h-0.9zM59.9 126.0h0.9v0.9h-0.9zM46.9 126.9h0.9v0.9h-0.9zM59.9 126.1h0.9v0.9h-0.9zM43.3 142.0h0.9v0.9h-0.9zM37.8 136.3h0.9v0.9h-0.9zM40.0 148.3h0.9v0.9h-0.9zM60.4 121.2h0.9v0.9h-0.9zM43.0 133.5h0.9v0.9h-0.9zM47.0 138.1h0.9v0.9h-0.9zM54.6 122.7h0.9v0.9h-0.9zM46.0 123.4h0.9v0.9h-0.9zM57.8 126.5h0.9v0.9h-0.9zM49.2 143.0h0.9v0.9h-0.9zM52.3 139.8h0.9v0.9h-0.9zM60.4 136.2h0.9v0.9h-0.9zM44.1 136.9h0.9v0.9h-0.9zM50.5 130.9h0.9v0.9h-0.9zM55.9 123.8h0.9v0.9h-0.9zM59.1 135.2h0.9v0.9h-0.9zM33.9 137.1h0.9v0.9h-0.9zM41.6 134.6h0.9v0.9h-0.9zM50.7 130.9h0.9v0.9h-0.9zM47.9 130.9h0.9v0.9h-0.9zM49.8 135.8h0.9v0.9h-0.9zM51.0 126.7h0.9v0.9h-0.9zM45.8 130.4h0.9v0.9h-0.9zM43.3 127.6h0.9v0.9h-0.9zM56.7 132.3h0.9v0.9h-0.9zM46.0 130.8h0.9v0.9h-0.9zM44.0 132.2h0.9v0.9h-0.9zM44.4 147.0h0.9v0.9h-0.9zM65.1 114.1h0.9v0.9h-0.9zM43.4 140.8h0.9v0.9h-0.9zM47.7 123.8h0.9v0.9h-0.9zM38.7 143.7h0.9v0.9h-0.9zM41.0 148.0h0.9v0.9h-0.9zM46.0 135.8h0.9v0.9h-0.9zM47.1 130.8h0.9v0.9h-0.9zM47.0 132.6h0.9v0.9h-0.9zM56.1 127.7h0.9v0.9h-0.9zM47.0 131.1h0.9v0.9h-0.9zM42.7 132.7h0.9v0.9h-0.9zM54.5 141.4h0.9v0.9h-0.9zM56.3 129.7h0.9v0.9h-0.9zM62.1 130.8h0.9v0.9h-0.9zM49.6 131.7h0.9v0.9h-0.9zM42.9 139.0h0.9v0.9h-0.9zM42.0 127.6h0.9v0.9h-0.9zM46.9 147.3h0.9v0.9h-0.9zM51.6 134.6h0.9v0.9h-0.9zM48.6 130.4h0.9v0.9h-0.9zM54.9 136.2h0.9v0.9h-0.9zM48.5 136.9h0.9v0.9h-0.9zM53.6 126.9h0.9v0.9h-0.9zM47.6 129.3h0.9v0.9h-0.9zM51.4 129.1h0.9v0.9h-0.9zM53.5 125.1h0.9v0.9h-0.9zM58.2 124.9h0.9v0.9h-0.9zM40.9 132.8h0.9v0.9h-0.9zM50.2 126.7h0.9v0.9h-0.9zM63.7 131.5h0.9v0.9h-0.9zM47.6 124.8h0.9v0.9h-0.9zM46.4 130.2h0.9v0.9h-0.9zM39.0 142.8h0.9v0.9h-0.9zM60.6 121.7h0.9v0.9h-0.9zM57.7 135.6h0.9v0.9h-0.9zM41.9 135.8h0.9v0.9h-0.9zM51.9 134.3h0.9v0.9h-0.9zM42.5 139.1h0.9v0.9h-0.9zM51.0 138.0h0.9v0.9h-0.9zM37.3 137.5h0.9v0.9h-0.9zM44.8 134.0h0.9v0.9h-0.9zM51.3 127.5h0.9v0.9h-0.9zM63.4 118.7h0.9v0.9h-0.9zM57.0 134.3h0.9v0.9h-0.9zM54.1 128.4h0.9v0.9h-0.9zM43.0 135.6h0.9v0.9h-0.9zM53.2 131.1h0.9v0.9h-0.9zM54.1 133.4h0.9v0.9h-0.9zM40.6 132.8h0.9v0.9h-0.9zM56.1 125.1h0.9v0.9h-0.9zM44.8 148.2h0.9v0.9h-0.9zM40.9 132.6h0.9v0.9h-0.9zM51.3 124.2h0.9v0.9h-0.9zM46.7 141.6h0.9v0.9h-0.9zM51.4 147.9h0.9v0.9h-0.9zM57.6 144.9h0.9v0.9h-0.9zM49.8 133.0h0.9v0.9h-0.9zM44.2 135.0h0.9v0.9h-0.9zM45.7 135.3h0.9v0.9h-0.9zM49.6 124.4h0.9v0.9h-0.9zM36.8 127.8h0.9v0.9h-0.9zM57.8 126.7h0.9v0.9h-0.9zM48.5 133.1h0.9v0.9h-0.9zM55.9 130.5h0.9v0.9h-0.9zM53.5 129.0h0.9v0.9h-0.9zM47.9 133.6h0.9v0.9h-0.9zM40.7 145.9h0.9v0.9h-0.9zM36.1 135.5h0.9v0.9h-0.9zM53.1 130.7h0.9v0.9h-0.9zM59.0 137.5h0.9v0.9h-0.9zM64.4 131.7h0.9v0.9h-0.9zM53.7 143.4h0.9v0.9h-0.9zM43.2 136.6h0.9v0.9h-0.9zM54.2 128.2h0.9v0.9h-0.9zM47.0 132.2h0.9v0.9h-0.9zM49.6 116.6h0.9v0.9h-0.9zM59.8 132.7h0.9v0.9h-0.9zM50.1 136.1h0.9v0.9h-0.9zM46.3 142.3h0.9v0.9h-0.9zM64.7 116.4h0.9v0.9h-0.9zM57.2 127.2h0.9v0.9h-0.9zM45.3 132.5h0.9v0.9h-0.9zM43.8 128.5h0.9v0.9h-0.9zM45.6 146.4h0.9v0.9h-0.9zM50.4 135.8h0.9v0.9h-0.9zM52.1 134.1h0.9v0.9h-0.9zM36.6 135.4h0.9v0.9h-0.9zM55.7 135.1h0.9v0.9h-0.9zM40.0 135.5h0.9v0.9h-0.9zM44.3 140.7h0.9v0.9h-0.9zM51.0 132.0h0.9v0.9h-0.9zM45.9 137.5h0.9v0.9h-0.9zM46.7 129.9h0.9v0.9h-0.9zM48.8 128.9h0.9v0.9h-0.9zM56.5 132.1h0.9v0.9h-0.9zM46.4 138.8h0.9v0.9h-0.9zM47.1 129.9h0.9v0.9h-0.9zM38.1 129.7h0.9v0.9h-0.9zM43.0 139.6h0.9v0.9h-0.9zM54.3 125.5h0.9v0.9h-0.9zM50.8 134.2h0.9v0.9h-0.9zM54.9 132.0h0.9v0.9h-0.9zM58.6 131.6h0.9v0.9h-0.9zM45.4 138.3h0.9v0.9h-0.9zM33.9 142.3h0.9v0.9h-0.9zM50.7 135.8h0.9v0.9h-0.9zM49.5 138.3h0.9v0.9h-0.9zM54.3 124.0h0.9v0.9h-0.9zM46.3 136.7h0.9v0.9h-0.9zM52.2 131.9h0.9v0.9h-0.9zM50.3 124.6h0.9v0.9h-0.9zM57.1 135.3h0.9v0.9h-0.9zM56.9 130.6h0.9v0.9h-0.9zM48.6 136.1h0.9v0.9h-0.9zM43.5 126.5h0.9v0.9h-0.9zM45.0 135.6h0.9v0.9h-0.9zM42.8 131.3h0.9v0.9h-0.9zM46.3 132.6h0.9v0.9h-0.9zM49.1 132.8h0.9v0.9h-0.9zM52.9 137.0h0.9v0.9h-0.9zM50.9 134.5h0.9v0.9h-0.9zM32.3 125.3h0.9v0.9h-0.9zM48.4 138.0h0.9v0.9h-0.9zM44.8 131.9h0.9v0.9h-0.9zM43.9 142.5h0.9v0.9h-0.9zM46.3 136.6h0.9v0.9h-0.9zM57.3 131.0h0.9v0.9h-0.9zM62.1 123.3h0.9v0.9h-0.9zM56.8 132.4h0.9v0.9h-0.9zM44.9 136.2h0.9v0.9h-0.9zM42.2 131.1h0.9v0.9h-0.9zM48.3 128.6h0.9v0.9h-0.9zM56.8 123.0h0.9v0.9h-0.9zM45.8 136.0h0.9v0.9h-0.9zM45.8 135.7h0.9v0.9h-0.9zM40.8 129.5h0.9v0.9h-0.9zM30.1 137.6h0.9v0.9h-0.9zM59.4 128.9h0.9v0.9h-0.9zM48.3 130.6h0.9v0.9h-0.9zM48.8 135.2h0.9v0.9h-0.9zM37.9 135.5h0.9v0.9h-0.9zM47.2 142.6h0.9v0.9h-0.9zM45.9 142.9h0.9v0.9h-0.9zM54.3 147.4h0.9v0.9h-0.9zM48.4 133.8h0.9v0.9h-0.9zM59.7 131.6h0.9v0.9h-0.9zM51.3 124.6h0.9v0.9h-0.9zM60.9 136.0h0.9v0.9h-0.9zM46.7 131.6h0.9v0.9h-0.9zM45.2 142.4h0.9v0.9h-0.9zM50.6 132.1h0.9v0.9h-0.9zM46.2 145.7h0.9v0.9h-0.9zM54.1 129.6h0.9v0.9h-0.9zM54.9 122.9h0.9v0.9h-0.9zM51.1 125.2h0.9v0.9h-0.9zM56.6 126.2h0.9v0.9h-0.9zM55.0 126.3h0.9v0.9h-0.9zM54.7 136.7h0.9v0.9h-0.9zM43.6 137.5h0.9v0.9h-0.9zM46.3 140.6h0.9v0.9h-0.9zM44.0 134.2h0.9v0.9h-0.9zM51.1 139.3h0.9v0.9h-0.9zM42.4 137.5h0.9v0.9h-0.9zM45.1 132.2h0.9v0.9h-0.9zM43.5 135.9h0.9v0.9h-0.9zM45.3 125.6h0.9v0.9h-0.9zM46.6 127.0h0.9v0.9h-0.9zM55.8 143.4h0.9v0.9h-0.9zM42.7 137.0h0.9v0.9h-0.9zM50.2 138.7h0.9v0.9h-0.9zM40.5 127.3h0.9v0.9h-0.9zM39.5 140.8h0.9v0.9h-0.9zM53.6 137.0h0.9v0.9h-0.9zM47.6 138.5h0.9v0.9h-0.9zM46.2 143.5h0.9v0.9h-0.9zM46.3 130.6h0.9v0.9h-0.9zM55.2 140.3h0.9v0.9h-0.9zM39.8 131.3h0.9v0.9h-0.9zM39.1 132.4h0.9v0.9h-0.9zM49.6 135.1h0.9v0.9h-0.9zM48.4 134.9h0.9v0.9h-0.9zM55.2 127.1h0.9v0.9h-0.9zM34.2 128.3h0.9v0.9h-0.9zM48.2 129.3h0.9v0.9h-0.9zM48.5 136.2h0.9v0.9h-0.9zM46.8 124.4h0.9v0.9h-0.9zM43.2 137.6h0.9v0.9h-0.9zM51.4 139.0h0.9v0.9h-0.9zM39.4 126.2h0.9v0.9h-0.9zM51.0 121.1h0.9v0.9h-0.9zM44.1 139.1h0.9v0.9h-0.9zM49.9 148.8h0.9v0.9h-0.9zM51.9 134.7h0.9v0.9h-0.9zM52.9 145.0h0.9v0.9h-0.9zM49.9 127.8h0.9v0.9h-0.9zM51.3 120.5h0.9v0.9h-0.9zM46.1 137.0h0.9v0.9h-0.9zM46.7 128.4h0.9v0.9h-0.9zM62.9 133.3h0.9v0.9h-0.9zM44.2 138.9h0.9v0.9h-0.9zM43.6 134.0h0.9v0.9h-0.9zM55.2 129.7h0.9v0.9h-0.9zM48.5 134.2h0.9v0.9h-0.9zM45.4 143.6h0.9v0.9h-0.9zM48.2 142.3h0.9v0.9h-0.9zM44.6 133.2h0.9v0.9h-0.9zM58.5 127.9h0.9v0.9h-0.9zM43.3 133.6h0.9v0.9h-0.9zM58.2 139.1h0.9v0.9h-0.9zM51.3 129.0h0.9v0.9h-0.9zM39.9 135.0h0.9v0.9h-0.9zM48.8 134.9h0.9v0.9h-0.9zM48.7 141.7h0.9v0.9h-0.9zM40.8 134.1h0.9v0.9h-0.9zM53.3 133.4h0.9v0.9h-0.9zM49.4 139.2h0.9v0.9h-0.9zM45.2 146.5h0.9v0.9h-0.9zM68.1 132.9h0.9v0.9h-0.9zM55.5 141.6h0.9v0.9h-0.9zM53.2 139.0h0.9v0.9h-0.9zM48.2 135.0h0.9v0.9h-0.9zM46.7 123.3h0.9v0.9h-0.9zM52.8 141.8h0.9v0.9h-0.9zM32.1 147.2h0.9v0.9h-0.9zM55.4 130.9h0.9v0.9h-0.9zM54.2 138.7h0.9v0.9h-0.9zM45.1 123.5h0.9v0.9h-0.9zM42.1 135.9h0.9v0.9h-0.9zM48.3 130.7h0.9v0.9h-0.9zM53.2 141.2h0.9v0.9h-0.9zM34.4 150.7h0.9v0.9h-0.9zM56.4 132.1h0.9v0.9h-0.9zM49.1 133.5h0.9v0.9h-0.9zM51.8 132.9h0.9v0.9h-0.9zM46.8 139.8h0.9v0.9h-0.9zM43.6 136.6h0.9v0.9h-0.9zM43.1 129.7h0.9v0.9h-0.9zM52.3 130.5h0.9v0.9h-0.9zM41.5 137.8h0.9v0.9h-0.9zM44.8 145.4h0.9v0.9h-0.9zM58.0 140.0h0.9v0.9h-0.9zM47.5 138.8h0.9v0.9h-0.9zM40.3 133.5h0.9v0.9h-0.9zM49.5 135.5h0.9v0.9h-0.9zM53.6 128.3h0.9v0.9h-0.9zM58.5 133.0h0.9v0.9h-0.9zM42.9 136.2h0.9v0.9h-0.9zM48.4 144.7h0.9v0.9h-0.9zM48.1 139.5h0.9v0.9h-0.9zM53.6 128.4h0.9v0.9h-0.9zM46.9 136.9h0.9v0.9h-0.9zM40.2 130.9h0.9v0.9h-0.9zM43.9 138.8h0.9v0.9h-0.9zM55.3 140.3h0.9v0.9h-0.9zM39.2 143.1h0.9v0.9h-0.9zM45.3 143.2h0.9v0.9h-0.9zM53.4 131.0h0.9v0.9h-0.9zM56.6 125.5h0.9v0.9h-0.9zM42.4 130.8h0.9v0.9h-0.9zM45.2 136.5h0.9v0.9h-0.9zM56.8 136.2h0.9v0.9h-0.9zM45.0 131.2h0.9v0.9h-0.9zM45.5 132.8h0.9v0.9h-0.9zM44.7 133.5h0.9v0.9h-0.9zM43.3 136.7h0.9v0.9h-0.9zM45.2 134.7h0.9v0.9h-0.9zM40.8 139.7h0.9v0.9h-0.9zM54.2 133.8h0.9v0.9h-0.9zM42.0 130.5h0.9v0.9h-0.9zM37.4 133.5h0.9v0.9h-0.9zM44.0 134.6h0.9v0.9h-0.9zM40.1 143.6h0.9v0.9h-0.9zM37.4 136.7h0.9v0.9h-0.9zM46.9 140.0h0.9v0.9h-0.9zM58.9 124.1h0.9v0.9h-0.9zM46.0 132.7h0.9v0.9h-0.9zM47.1 133.4h0.9v0.9h-0.9zM60.5 118.3h0.9v0.9h-0.9zM45.8 130.3h0.9v0.9h-0.9zM49.4 129.5h0.9v0.9h-0.9zM49.0 126.1h0.9v0.9h-0.9zM62.2 125.5h0.9v0.9h-0.9zM40.2 143.7h0.9v0.9h-0.9zM42.5 130.2h0.9v0.9h-0.9zM49.9 129.2h0.9v0.9h-0.9zM51.6 127.8h0.9v0.9h-0.9zM54.7 130.2h0.9v0.9h-0.9zM51.4 132.5h0.9v0.9h-0.9zM45.5 133.2h0.9v0.9h-0.9zM53.7 134.6h0.9v0.9h-0.9zM53.1 144.8h0.9v0.9h-0.9zM55.6 121.3h0.9v0.9h-0.9zM55.2 128.5h0.9v0.9h-0.9zM47.8 128.9h0.9v0.9h-0.9zM56.3 122.9h0.9v0.9h-0.9zM46.1 130.5h0.9v0.9h-0.9zM64.2 130.8h0.9v0.9h-0.9zM39.5 136.8h0.9v0.9h-0.9zM49.7 129.9h0.9v0.9h-0.9zM43.4 130.0h0.9v0.9h-0.9zM47.0 127.5h0.9v0.9h-0.9zM61.0 140.4h0.9v0.9h-0.9zM51.8 141.9h0.9v0.9h-0.9zM49.0 128.8h0.9v0.9h-0.9zM43.8 130.5h0.9v0.9h-0.9zM51.6 135.9h0.9v0.9h-0.9zM53.6 128.2h0.9v0.9h-0.9zM41.4 137.9h0.9v0.9h-0.9zM59.7 127.6h0.9v0.9h-0.9zM42.2 124.5h0.9v0.9h-0.9zM47.8 137.5h0.9v0.9h-0.9zM47.2 143.1h0.9v0.9h-0.9zM42.8 131.8h0.9v0.9h-0.9zM45.0 135.3h0.9v0.9h-0.9zM53.1 126.7h0.9v0.9h-0.9zM37.8 140.3h0.9v0.9h-0.9zM56.6 137.9h0.9v0.9h-0.9zM46.5 144.4h0.9v0.9h-0.9zM54.2 132.5h0.9v0.9h-0.9zM41.6 132.6h0.9v0.9h-0.9zM45.9 141.3h0.9v0.9h-0.9zM53.3 137.1h0.9v0.9h-0.9zM59.8 125.9h0.9v0.9h-0.9zM54.3 141.9h0.9v0.9h-0.9zM39.6 136.7h0.9v0.9h-0.9zM45.5 133.2h0.9v0.9h-0.9zM47.2 129.1h0.9v0.9h-0.9zM51.7 122.6h0.9v0.9h-0.9zM38.9 129.3h0.9v0.9h-0.9zM42.1 141.6h0.9v0.9h-0.9zM52.0 129.9h0.9v0.9h-0.9zM55.7 132.5h0.9v0.9h-0.9zM45.2 135.5h0.9v0.9h-0.9zM57.0 140.6h0.9v0.9h-0.9zM47.3 136.7h0.9v0.9h-0.9zM55.7 136.4h0.9v0.9h-0.9zM54.6 136.3h0.9v0.9h-0.9zM41.6 136.5h0.9v0.9h-0.9zM37.0 141.1h0.9v0.9h-0.9zM63.5 124.8h0.9v0.9h-0.9zM50.1 134.1h0.9v0.9h-0.9zM45.7 126.9h0.9v0.9h-0.9zM44.1 135.4h0.9v0.9h-0.9zM47.3 128.9h0.9v0.9h-0.9zM46.0 130.6h0.9v0.9h-0.9zM38.9 135.9h0.9v0.9h-0.9zM46.5 140.3h0.9v0.9h-0.9zM58.6 130.3h0.9v0.9h-0.9zM45.9 131.8h0.9v0.9h-0.9zM37.8 137.5h0.9v0.9h-0.9zM61.7 131.9h0.9v0.9h-0.9zM49.4 131.3h0.9v0.9h-0.9zM50.1 135.2h0.9v0.9h-0.9zM50.1 135.2h0.9v0.9h-0.9zM44.3 136.7h0.9v0.9h-0.9zM49.9 139.5h0.9v0.9h-0.9zM45.2 144.1h0.9v0.9h-0.9zM46.8 131.5h0.9v0.9h-0.9zM49.3 133.8h0.9v0.9h-0.9zM48.7 136.1h0.9v0.9h-0.9zM40.3 128.3h0.9v0.9h-0.9zM52.9 130.4h0.9v0.9h-0.9zM60.0 128.2h0.9v0.9h-0.9zM40.5 146.9h0.9v0.9h-0.9zM46.3 138.5h0.9v0.9h-0.9zM65.4 129.0h0.9v0.9h-0.9zM42.0 137.4h0.9v0.9h-0.9zM41.2 142.8h0.9v0.9h-0.9zM49.1 126.6h0.9v0.9h-0.9zM54.3 135.5h0.9v0.9h-0.9zM51.7 127.1h0.9v0.9h-0.9zM41.3 131.3h0.9v0.9h-0.9zM42.0 140.0h0.9v0.9h-0.9zM52.9 138.8h0.9v0.9h-0.9zM49.5 130.8h0.9v0.9h-0.9zM44.9 145.9h0.9v0.9h-0.9zM49.7 132.5h0.9v0.9h-0.9zM39.7 132.9h0.9v0.9h-0.9zM49.7 126.5h0.9v0.9h-0.9zM54.2 133.7h0.9v0.9h-0.9zM41.7 127.9h0.9v0.9h-0.9zM55.5 137.7h0.9v0.9h-0.9zM40.1 131.2h0.9v0.9h-0.9zM55.8 129.5h0.9v0.9h-0.9zM48.7 141.2h0.9v0.9h-0.9zM48.5 136.4h0.9v0.9h-0.9zM44.2 131.7h0.9v0.9h-0.9zM47.6 128.7h0.9v0.9h-0.9zM36.6 138.3h0.9v0.9h-0.9zM59.5 133.0h0.9v0.9h-0.9zM64.8 128.7h0.9v0.9h-0.9zM59.2 127.8h0.9v0.9h-0.9zM47.6 137.1h0.9v0.9h-0.9zM45.3 140.4h0.9v0.9h-0.9zM46.9 136.3h0.9v0.9h-0.9zM43.3 136.3h0.9v0.9h-0.9zM54.1 128.4h0.9v0.9h-0.9zM45.6 137.3h0.9v0.9h-0.9zM53.6 128.9h0.9v0.9h-0.9zM37.2 131.4h0.9v0.9h-0.9zM44.0 143.4h0.9v0.9h-0.9zM49.7 135.8h0.9v0.9h-0.9zM56.1 130.2h0.9v0.9h-0.9zM50.2 129.2h0.9v0.9h-0.9zM41.0 142.7h0.9v0.9h-0.9zM50.0 136.2h0.9v0.9h-0.9zM42.0 137.1h0.9v0.9h-0.9zM58.4 121.5h0.9v0.9h-0.9zM53.3 138.6h0.9v0.9h-0.9zM47.8 134.8h0.9v0.9h-0.9zM38.4 145.4h0.9v0.9h-0.9zM50.0 140.7h0.9v0.9h-0.9zM47.2 132.1h0.9v0.9h-0.9zM50.7 130.5h0.9v0.9h-0.9zM50.3 142.1h0.9v0.9h-0.9zM55.0 129.8h0.9v0.9h-0.9zM56.1 133.6h0.9v0.9h-0.9zM52.5 131.2h0.9v0.9h-0.9zM50.5 134.8h0.9v0.9h-0.9zM53.3 132.6h0.9v0.9h-0.9zM45.3 135.3h0.9v0.9h-0.9zM48.7 127.3h0.9v0.9h-0.9zM51.0 136.6h0.9v0.9h-0.9zM49.0 131.4h0.9v0.9h-0.9zM47.3 131.4h0.9v0.9h-0.9zM53.6 127.7h0.9v0.9h-0.9zM35.3 135.0h0.9v0.9h-0.9zM51.2 133.0h0.9v0.9h-0.9zM42.2 129.7h0.9v0.9h-0.9zM45.5 130.4h0.9v0.9h-0.9zM44.9 136.0h0.9v0.9h-0.9zM45.2 137.8h0.9v0.9h-0.9zM43.1 134.4h0.9v0.9h-0.9zM51.8 140.5h0.9v0.9h-0.9zM61.0 131.0h0.9v0.9h-0.9zM44.5 136.4h0.9v0.9h-0.9zM56.7 133.1h0.9v0.9h-0.9zM38.9 139.8h0.9v0.9h-0.9zM46.6 139.6h0.9v0.9h-0.9zM51.1 128.5h0.9v0.9h-0.9zM60.8 123.4h0.9v0.9h-0.9zM63.0 122.7h0.9v0.9h-0.9zM53.9 141.8h0.9v0.9h-0.9zM44.3 133.5h0.9v0.9h-0.9zM57.6 127.2h0.9v0.9h-0.9zM48.0 126.0h0.9v0.9h-0.9zM62.4 130.2h0.9v0.9h-0.9zM53.0 134.9h0.9v0.9h-0.9zM44.5 133.4h0.9v0.9h-0.9zM40.5 141.4h0.9v0.9h-0.9zM58.7 132.0h0.9v0.9h-0.9zM56.4 132.6h0.9v0.9h-0.9zM39.5 131.6h0.9v0.9h-0.9zM53.2 131.5h0.9v0.9h-0.9zM53.9 128.2h0.9v0.9h-0.9zM44.9 138.9h0.9v0.9h-0.9zM40.7 128.7h0.9v0.9h-0.9zM42.7 132.1h0.9v0.9h-0.9zM40.6 135.6h0.9v0.9h-0.9zM61.4 139.5h0.9v0.9h-0.9zM58.0 124.5h0.9v0.9h-0.9zM55.5 128.4h0.9v0.9h-0.9zM49.3 128.9h0.9v0.9h-0.9zM43.5 126.5h0.9v0.9h-0.9zM57.3 122.8h0.9v0.9h-0.9zM50.6 128.5h0.9v0.9h-0.9zM47.0 127.3h0.9v0.9h-0.9zM49.3 138.8h0.9v0.9h-0.9zM46.8 122.7h0.9v0.9h-0.9zM50.1 124.3h0.9v0.9h-0.9zM52.1 134.4h0.9v0.9h-0.9zM44.1 134.7h0.9v0.9h-0.9zM48.5 136.1h0.9v0.9h-0.9zM58.3 135.4h0.9v0.9h-0.9zM56.6 140.5h0.9v0.9h-0.9zM48.4 144.8h0.9v0.9h-0.9zM49.5 137.7h0.9v0.9h-0.9zM48.3 134.2h0.9v0.9h-0.9zM44.5 138.8h0.9v0.9h-0.9zM61.4 125.7h0.9v0.9h-0.9zM48.7 133.5h0.9v0.9h-0.9zM52.5 129.6h0.9v0.9h-0.9zM49.5 134.3h0.9v0.9h-0.9zM59.4 132.1h0.9v0.9h-0.9zM40.7 135.0h0.9v0.9h-0.9zM51.4 136.9h0.9v0.9h-0.9zM54.0 128.5h0.9v0.9h-0.9zM61.1 124.0h0.9v0.9h-0.9zM61.4 133.7h0.9v0.9h-0.9zM59.0 127.7h0.9v0.9h-0.9zM47.9 124.5h0.9v0.9h-0.9zM36.4 138.1h0.9v0.9h-0.9zM56.2 134.9h0.9v0.9h-0.9zM51.2 138.2h0.9v0.9h-0.9zM56.7 137.5h0.9v0.9h-0.9zM36.9 136.4h0.9v0.9h-0.9zM40.1 132.9h0.9v0.9h-0.9zM56.0 122.7h0.9v0.9h-0.9zM42.7 135.1h0.9v0.9h-0.9zM52.8 127.8h0.9v0.9h-0.9zM54.8 132.7h0.9v0.9h-0.9zM38.2 126.0h0.9v0.9h-0.9zM39.8 131.8h0.9v0.9h-0.9zM56.6 123.6h0.9v0.9h-0.9zM43.5 139.3h0.9v0.9h-0.9zM46.5 129.2h0.9v0.9h-0.9zM58.0 132.8h0.9v0.9h-0.9zM48.3 129.0h0.9v0.9h-0.9zM37.7 128.3h0.9v0.9h-0.9zM52.3 133.5h0.9v0.9h-0.9zM43.4 137.2h0.9v0.9h-0.9zM65.2 115.2h0.9v0.9h-0.9zM40.4 142.9h0.9v0.9h-0.9zM44.9 133.0h0.9v0.9h-0.9zM52.2 130.3h0.9v0.9h-0.9zM56.3 131.5h0.9v0.9h-0.9zM56.1 129.1h0.9v0.9h-0.9zM39.9 147.9h0.9v0.9h-0.9zM41.7 144.7h0.9v0.9h-0.9zM46.3 126.4h0.9v0.9h-0.9zM51.8 136.8h0.9v0.9h-0.9zM42.8 137.7h0.9v0.9h-0.9zM41.5 132.1h0.9v0.9h-0.9zM48.8 141.3h0.9v0.9h-0.9zM52.9 130.4h0.9v0.9h-0.9zM48.7 134.2h0.9v0.9h-0.9zM51.1 133.0h0.9v0.9h-0.9zM41.2 144.3h0.9v0.9h-0.9zM36.2 125.8h0.9v0.9h-0.9zM49.6 125.4h0.9v0.9h-0.9zM47.7 133.5h0.9v0.9h-0.9zM46.8 138.0h0.9v0.9h-0.9zM46.4 133.3h0.9v0.9h-0.9zM42.3 136.1h0.9v0.9h-0.9zM42.7 137.8h0.9v0.9h-0.9zM59.7 132.2h0.9v0.9h-0.9zM47.5 125.8h0.9v0.9h-0.9zM57.7 133.1h0.9v0.9h-0.9zM54.7 115.4h0.9v0.9h-0.9zM48.0 131.9h0.9v0.9h-0.9zM52.2 124.3h0.9v0.9h-0.9zM53.3 144.7h0.9v0.9h-0.9zM49.0 120.8h0.9v0.9h-0.9zM52.9 139.1h0.9v0.9h-0.9zM46.9 138.4h0.9v0.9h-0.9zM45.2 126.7h0.9v0.9h-0.9zM48.4 140.7h0.9v0.9h-0.9zM54.2 125.9h0.9v0.9h-0.9zM53.5 125.7h0.9v0.9h-0.9zM50.2 132.2h0.9v0.9h-0.9zM42.3 139.8h0.9v0.9h-0.9zM38.5 123.3h0.9v0.9h-0.9zM41.4 133.1h0.9v0.9h-0.9zM41.0 132.6h0.9v0.9h-0.9zM37.6 125.8h0.9v0.9h-0.9zM54.4 130.0h0.9v0.9h-0.9zM49.6 131.2h0.9v0.9h-0.9zM48.4 132.0h0.9v0.9h-0.9zM37.9 131.4h0.9v0.9h-0.9zM52.2 137.3h0.9v0.9h-0.9zM54.9 139.2h0.9v0.9h-0.9zM39.9 137.8h0.9v0.9h-0.9zM48.7 141.1h0.9v0.9h-0.9zM57.5 124.1h0.9v0.9h-0.9zM52.5 129.3h0.9v0.9h-0.9zM42.5 137.0h0.9v0.9h-0.9zM47.1 144.2h0.9v0.9h-0.9zM55.8 136.0h0.9v0.9h-0.9zM43.9 121.5h0.9v0.9h-0.9zM53.9 130.4h0.9v0.9h-0.9zM34.8 143.6h0.9v0.9h-0.9zM59.9 136.4h0.9v0.9h-0.9zM45.0 140.9h0.9v0.9h-0.9zM50.3 131.2h0.9v0.9h-0.9zM48.7 136.7h0.9v0.9h-0.9zM54.2 133.8h0.9v0.9h-0.9zM42.5 129.4h0.9v0.9h-0.9zM60.5 133.4h0.9v0.9h-0.9zM45.3 135.5h0.9v0.9h-0.9zM48.5 122.5h0.9v0.9h-0.9zM58.9 141.6h0.9v0.9h-0.9zM48.4 129.2h0.9v0.9h-0.9zM61.1 125.0h0.9v0.9h-0.9zM48.8 130.6h0.9v0.9h-0.9zM44.7 124.9h0.9v0.9h-0.9zM36.8 132.3h0.9v0.9h-0.9zM54.0 129.2h0.9v0.9h-0.9zM49.8 119.9h0.9v0.9h-0.9zM49.5 142.0h0.9v0.9h-0.9zM38.6 128.6h0.9v0.9h-0.9zM43.3 134.9h0.9v0.9h-0.9zM52.5 138.9h0.9v0.9h-0.9zM61.3 134.5h0.9v0.9h-0.9zM50.8 128.8h0.9v0.9h-0.9zM41.5 129.0h0.9v0.9h-0.9zM60.1 133.4h0.9v0.9h-0.9zM46.7 129.1h0.9v0.9h-0.9zM54.3 132.6h0.9v0.9h-0.9zM46.3 127.7h0.9v0.9h-0.9zM48.6 129.9h0.9v0.9h-0.9zM55.0 132.8h0.9v0.9h-0.9zM50.2 129.7h0.9v0.9h-0.9zM60.2 130.4h0.9v0.9h-0.9zM58.9 131.7h0.9v0.9h-0.9zM53.9 132.3h0.9v0.9h-0.9zM37.1 129.9h0.9v0.9h-0.9zM45.0 139.8h0.9v0.9h-0.9zM54.8 130.3h0.9v0.9h-0.9zM54.7 140.8h0.9v0.9h-0.9zM41.2 127.3h0.9v0.9h-0.9zM38.6 138.3h0.9v0.9h-0.9zM55.2 133.6h0.9v0.9h-0.9zM49.9 137.7h0.9v0.9h-0.9zM46.4 130.4h0.9v0.9h-0.9zM48.7 138.1h0.9v0.9h-0.9zM51.2 124.6h0.9v0.9h-0.9zM43.2 137.9h0.9v0.9h-0.9zM58.1 119.6h0.9v0.9h-0.9zM42.5 140.2h0.9v0.9h-0.9zM50.1 128.6h0.9v0.9h-0.9zM50.1 135.5h0.9v0.9h-0.9zM38.3 140.4h0.9v0.9h-0.9zM55.1 134.8h0.9v0.9h-0.9zM55.6 128.2h0.9v0.9h-0.9zM44.1 144.9h0.9v0.9h-0.9zM51.6 127.4h0.9v0.9h-0.9zM58.0 133.5h0.9v0.9h-0.9zM41.1 123.8h0.9v0.9h-0.9zM43.8 132.0h0.9v0.9h-0.9zM43.6 136.4h0.9v0.9h-0.9zM43.5 139.4h0.9v0.9h-0.9zM56.6 120.5h0.9v0.9h-0.9zM53.5 126.8h0.9v0.9h-0.9zM51.7 130.5h0.9v0.9h-0.9zM54.4 125.0h0.9v0.9h-0.9zM50.9 127.0h0.9v0.9h-0.9zM50.1 132.3h0.9v0.9h-0.9zM50.7 122.1h0.9v0.9h-0.9zM44.8 144.8h0.9v0.9h-0.9zM56.1 139.0h0.9v0.9h-0.9zM43.3 138.4h0.9v0.9h-0.9zM57.6 138.4h0.9v0.9h-0.9zM47.2 131.6h0.9v0.9h-0.9zM52.8 129.9h0.9v0.9h-0.9zM46.6 139.6h0.9v0.9h-0.9zM34.5 136.8h0.9v0.9h-0.9zM55.5 125.6h0.9v0.9h-0.9zM48.0 136.2h0.9v0.9h-0.9zM57.1 131.0h0.9v0.9h-0.9zM41.4 134.8h0.9v0.9h-0.9zM54.7 128.5h0.9v0.9h-0.9zM47.6 139.6h0.9v0.9h-0.9z" fill="#222" fill-opacity="0.42"/>
<path d="M54.1 140.2h0.9v0.9h-0.9zM41.3 137.6h0.9v0.9h-0.9zM44.5 139.6h0.9v0.9h-0.9zM46.6 141.1h0.9v0.9h-0.9zM38.9 145.8h0.9v0.9h-0.9zM43.5 137.8h0.9v0.9h-0.9zM48.5 136.2h0.9v0.9h-0.9zM45.5 143.4h0.9v0.9h-0.9zM47.2 134.3h0.9v0.9h-0.9zM44.9 133.5h0.9v0.9h-0.9zM41.5 139.0h0.9v0.9h-0.9zM47.6 136.4h0.9v0.9h-0.9zM41.0 135.1h0.9v0.9h-0.9zM43.5 145.2h0.9v0.9h-0.9zM46.0 134.0h0.9v0.9h-0.9zM51.2 135.7h0.9v0.9h-0.9zM43.7 136.3h0.9v0.9h-0.9zM50.7 135.2h0.9v0.9h-0.9zM52.4 134.2h0.9v0.9h-0.9zM43.1 136.7h0.9v0.9h-0.9zM44.3 139.3h0.9v0.9h-0.9zM48.2 138.0h0.9v0.9h-0.9zM45.8 133.1h0.9v0.9h-0.9zM43.8 134.9h0.9v0.9h-0.9zM45.4 132.3h0.9v0.9h-0.9zM42.7 136.0h0.9v0.9h-0.9zM43.6 137.7h0.9v0.9h-0.9zM50.8 132.8h0.9v0.9h-0.9zM40.8 139.5h0.9v0.9h-0.9zM49.7 136.8h0.9v0.9h-0.9zM50.7 141.8h0.9v0.9h-0.9zM50.1 134.7h0.9v0.9h-0.9zM47.8 130.6h0.9v0.9h-0.9zM44.0 135.1h0.9v0.9h-0.9zM49.8 140.9h0.9v0.9h-0.9zM47.5 142.4h0.9v0.9h-0.9zM45.4 143.2h0.9v0.9h-0.9zM38.9 138.6h0.9v0.9h-0.9zM49.4 134.4h0.9v0.9h-0.9zM46.7 136.6h0.9v0.9h-0.9zM46.5 136.1h0.9v0.9h-0.9zM42.4 138.5h0.9v0.9h-0.9zM44.9 134.3h0.9v0.9h-0.9zM51.0 140.7h0.9v0.9h-0.9zM39.7 139.3h0.9v0.9h-0.9zM45.3 137.7h0.9v0.9h-0.9zM45.2 134.8h0.9v0.9h-0.9zM46.1 137.1h0.9v0.9h-0.9zM48.7 141.3h0.9v0.9h-0.9zM43.9 132.7h0.9v0.9h-0.9zM42.0 142.2h0.9v0.9h-0.9zM43.9 136.1h0.9v0.9h-0.9zM41.1 139.3h0.9v0.9h-0.9zM44.6 135.4h0.9v0.9h-0.9zM46.6 140.2h0.9v0.9h-0.9zM49.9 136.7h0.9v0.9h-0.9zM43.1 133.7h0.9v0.9h-0.9zM51.6 139.2h0.9v0.9h-0.9zM52.6 137.2h0.9v0.9h-0.9zM47.8 137.4h0.9v0.9h-0.9zM48.5 140.4h0.9v0.9h-0.9zM49.2 143.4h0.9v0.9h-0.9zM48.2 134.3h0.9v0.9h-0.9zM43.2 132.7h0.9v0.9h-0.9zM43.2 137.9h0.9v0.9h-0.9zM52.9 129.2h0.9v0.9h-0.9zM49.4 135.1h0.9v0.9h-0.9zM46.4 139.4h0.9v0.9h-0.9zM41.2 144.1h0.9v0.9h-0.9zM53.3 133.3h0.9v0.9h-0.9zM46.3 137.6h0.9v0.9h-0.9zM47.5 134.2h0.9v0.9h-0.9zM47.5 138.1h0.9v0.9h-0.9zM45.7 138.9h0.9v0.9h-0.9zM48.6 138.2h0.9v0.9h-0.9zM41.9 137.8h0.9v0.9h-0.9zM47.0 141.2h0.9v0.9h-0.9zM44.0 132.0h0.9v0.9h-0.9zM45.5 145.2h0.9v0.9h-0.9zM45.0 132.7h0.9v0.9h-0.9zM43.4 139.5h0.9v0.9h-0.9zM54.0 138.1h0.9v0.9h-0.9zM44.4 137.0h0.9v0.9h-0.9zM50.9 129.9h0.9v0.9h-0.9zM52.1 134.3h0.9v0.9h-0.9zM48.9 140.2h0.9v0.9h-0.9zM46.3 133.6h0.9v0.9h-0.9zM41.1 140.6h0.9v0.9h-0.9zM50.4 139.5h0.9v0.9h-0.9zM39.9 146.6h0.9v0.9h-0.9zM51.1 139.7h0.9v0.9h-0.9zM49.3 135.7h0.9v0.9h-0.9zM48.4 137.1h0.9v0.9h-0.9zM43.9 138.1h0.9v0.9h-0.9zM45.8 135.5h0.9v0.9h-0.9zM38.6 136.5h0.9v0.9h-0.9zM48.9 137.2h0.9v0.9h-0.9zM44.4 133.6h0.9v0.9h-0.9zM48.3 134.0h0.9v0.9h-0.9zM42.1 146.0h0.9v0.9h-0.9zM45.3 146.5h0.9v0.9h-0.9zM47.2 134.6h0.9v0.9h-0.9zM37.0 140.5h0.9v0.9h-0.9zM53.7 137.3h0.9v0.9h-0.9zM43.9 131.8h0.9v0.9h-0.9zM44.4 137.1h0.9v0.9h-0.9zM47.5 135.6h0.9v0.9h-0.9zM44.4 131.8h0.9v0.9h-0.9zM46.7 142.4h0.9v0.9h-0.9zM43.0 142.8h0.9v0.9h-0.9zM55.2 133.4h0.9v0.9h-0.9zM43.8 143.6h0.9v0.9h-0.9zM40.6 142.2h0.9v0.9h-0.9zM47.1 141.3h0.9v0.9h-0.9zM50.5 134.8h0.9v0.9h-0.9zM54.0 135.5h0.9v0.9h-0.9zM42.8 135.5h0.9v0.9h-0.9zM53.7 130.2h0.9v0.9h-0.9zM47.4 135.7h0.9v0.9h-0.9zM41.6 133.7h0.9v0.9h-0.9zM45.5 137.0h0.9v0.9h-0.9zM48.6 133.4h0.9v0.9h-0.9zM39.0 137.7h0.9v0.9h-0.9zM46.5 137.8h0.9v0.9h-0.9zM47.9 134.3h0.9v0.9h-0.9zM48.3 136.1h0.9v0.9h-0.9zM51.8 133.0h0.9v0.9h-0.9zM47.7 138.2h0.9v0.9h-0.9zM48.6 131.7h0.9v0.9h-0.9zM44.1 137.3h0.9v0.9h-0.9zM41.4 145.4h0.9v0.9h-0.9zM49.9 134.6h0.9v0.9h-0.9zM59.9 132.7h0.9v0.9h-0.9zM55.9 136.6h0.9v0.9h-0.9zM46.6 131.1h0.9v0.9h-0.9zM52.1 134.6h0.9v0.9h-0.9zM42.3 139.9h0.9v0.9h-0.9zM50.6 137.9h0.9v0.9h-0.9zM45.8 135.2h0.9v0.9h-0.9zM47.4 133.2h0.9v0.9h-0.9zM47.4 139.2h0.9v0.9h-0.9zM42.0 141.3h0.9v0.9h-0.9zM37.9 139.0h0.9v0.9h-0.9zM41.9 139.6h0.9v0.9h-0.9zM48.5 135.2h0.9v0.9h-0.9zM49.5 135.2h0.9v0.9h-0.9zM46.4 138.8h0.9v0.9h-0.9zM45.6 137.9h0.9v0.9h-0.9zM48.7 133.1h0.9v0.9h-0.9zM48.0 131.4h0.9v0.9h-0.9zM42.3 132.8h0.9v0.9h-0.9zM47.4 142.5h0.9v0.9h-0.9zM49.8 139.6h0.9v0.9h-0.9zM39.4 137.7h0.9v0.9h-0.9zM49.3 138.2h0.9v0.9h-0.9zM45.9 130.5h0.9v0.9h-0.9zM47.8 135.6h0.9v0.9h-0.9zM47.5 138.0h0.9v0.9h-0.9zM42.1 133.1h0.9v0.9h-0.9zM39.9 135.6h0.9v0.9h-0.9zM41.5 139.7h0.9v0.9h-0.9zM49.3 132.1h0.9v0.9h-0.9zM41.5 135.7h0.9v0.9h-0.9zM40.5 141.2h0.9v0.9h-0.9zM44.1 137.5h0.9v0.9h-0.9zM43.9 140.5h0.9v0.9h-0.9zM43.2 141.3h0.9v0.9h-0.9zM45.4 140.7h0.9v0.9h-0.9zM44.0 140.2h0.9v0.9h-0.9zM47.5 135.8h0.9v0.9h-0.9zM52.0 133.7h0.9v0.9h-0.9zM44.5 140.9h0.9v0.9h-0.9zM42.4 137.4h0.9v0.9h-0.9zM46.6 137.5h0.9v0.9h-0.9zM48.7 128.3h0.9v0.9h-0.9zM47.4 140.7h0.9v0.9h-0.9zM46.3 138.2h0.9v0.9h-0.9zM49.1 130.1h0.9v0.9h-0.9zM47.8 139.0h0.9v0.9h-0.9zM41.0 133.6h0.9v0.9h-0.9zM43.2 139.8h0.9v0.9h-0.9zM50.3 141.6h0.9v0.9h-0.9zM47.8 129.7h0.9v0.9h-0.9zM51.4 137.1h0.9v0.9h-0.9zM51.4 132.8h0.9v0.9h-0.9zM44.6 138.7h0.9v0.9h-0.9zM52.6 135.1h0.9v0.9h-0.9zM53.4 135.2h0.9v0.9h-0.9zM42.3 135.6h0.9v0.9h-0.9zM49.6 128.6h0.9v0.9h-0.9zM44.4 136.9h0.9v0.9h-0.9zM42.1 137.6h0.9v0.9h-0.9zM50.6 143.4h0.9v0.9h-0.9zM45.0 135.7h0.9v0.9h-0.9zM48.4 139.3h0.9v0.9h-0.9zM42.7 137.8h0.9v0.9h-0.9zM41.6 142.9h0.9v0.9h-0.9zM51.3 139.5h0.9v0.9h-0.9zM46.2 145.7h0.9v0.9h-0.9zM48.6 134.2h0.9v0.9h-0.9zM44.3 137.1h0.9v0.9h-0.9zM43.5 141.9h0.9v0.9h-0.9zM42.8 136.4h0.9v0.9h-0.9zM48.2 136.1h0.9v0.9h-0.9zM43.8 137.7h0.9v0.9h-0.9zM47.0 141.8h0.9v0.9h-0.9zM48.2 132.7h0.9v0.9h-0.9zM48.6 140.8h0.9v0.9h-0.9zM48.5 142.5h0.9v0.9h-0.9zM48.9 137.8h0.9v0.9h-0.9zM40.8 144.1h0.9v0.9h-0.9zM48.4 137.8h0.9v0.9h-0.9zM48.8 137.3h0.9v0.9h-0.9zM46.2 140.6h0.9v0.9h-0.9zM44.5 134.0h0.9v0.9h-0.9zM43.1 139.8h0.9v0.9h-0.9zM43.2 130.2h0.9v0.9h-0.9zM41.2 144.6h0.9v0.9h-0.9zM51.5 144.8h0.9v0.9h-0.9zM40.6 139.9h0.9v0.9h-0.9zM45.2 139.9h0.9v0.9h-0.9zM54.0 138.1h0.9v0.9h-0.9zM45.1 142.7h0.9v0.9h-0.9zM42.7 140.7h0.9v0.9h-0.9zM47.9 138.3h0.9v0.9h-0.9zM46.0 142.5h0.9v0.9h-0.9zM45.9 137.1h0.9v0.9h-0.9zM43.3 134.7h0.9v0.9h-0.9zM49.3 136.2h0.9v0.9h-0.9zM51.2 141.0h0.9v0.9h-0.9zM42.7 138.2h0.9v0.9h-0.9zM47.8 139.3h0.9v0.9h-0.9zM47.3 140.0h0.9v0.9h-0.9zM44.5 131.2h0.9v0.9h-0.9zM40.1 133.1h0.9v0.9h-0.9zM44.5 136.5h0.9v0.9h-0.9zM48.5 136.1h0.9v0.9h-0.9zM48.3 140.6h0.9v0.9h-0.9zM45.9 132.3h0.9v0.9h-0.9zM44.5 139.5h0.9v0.9h-0.9zM51.6 132.5h0.9v0.9h-0.9zM46.1 138.1h0.9v0.9h-0.9zM48.7 134.9h0.9v0.9h-0.9zM46.4 135.2h0.9v0.9h-0.9zM42.9 136.1h0.9v0.9h-0.9zM47.4 134.0h0.9v0.9h-0.9zM48.8 136.8h0.9v0.9h-0.9zM44.5 127.4h0.9v0.9h-0.9zM40.7 135.9h0.9v0.9h-0.9zM47.1 139.6h0.9v0.9h-0.9zM57.7 135.3h0.9v0.9h-0.9zM51.5 134.9h0.9v0.9h-0.9zM45.9 139.4h0.9v0.9h-0.9zM40.6 144.6h0.9v0.9h-0.9zM47.4 138.7h0.9v0.9h-0.9zM40.7 136.4h0.9v0.9h-0.9zM43.9 138.4h0.9v0.9h-0.9zM46.7 135.2h0.9v0.9h-0.9zM48.7 138.0h0.9v0.9h-0.9zM42.1 139.4h0.9v0.9h-0.9zM39.9 139.1h0.9v0.9h-0.9zM47.9 133.0h0.9v0.9h-0.9zM53.5 134.1h0.9v0.9h-0.9zM49.4 135.2h0.9v0.9h-0.9zM51.2 138.0h0.9v0.9h-0.9zM45.6 135.3h0.9v0.9h-0.9zM47.9 143.5h0.9v0.9h-0.9zM44.7 136.2h0.9v0.9h-0.9zM40.7 134.0h0.9v0.9h-0.9zM45.1 139.0h0.9v0.9h-0.9zM43.1 136.1h0.9v0.9h-0.9zM48.4 137.3h0.9v0.9h-0.9zM45.3 138.9h0.9v0.9h-0.9zM44.5 141.6h0.9v0.9h-0.9zM42.2 138.4h0.9v0.9h-0.9zM45.9 135.5h0.9v0.9h-0.9zM46.2 145.4h0.9v0.9h-0.9zM48.1 128.7h0.9v0.9h-0.9zM44.2 133.3h0.9v0.9h-0.9zM44.8 132.7h0.9v0.9h-0.9zM49.2 137.1h0.9v0.9h-0.9zM54.2 136.3h0.9v0.9h-0.9zM46.4 140.6h0.9v0.9h-0.9zM44.4 137.8h0.9v0.9h-0.9zM41.2 133.3h0.9v0.9h-0.9zM44.4 130.1h0.9v0.9h-0.9zM46.4 139.0h0.9v0.9h-0.9zM43.6 132.4h0.9v0.9h-0.9zM45.3 140.4h0.9v0.9h-0.9zM52.9 138.8h0.9v0.9h-0.9zM40.9 142.5h0.9v0.9h-0.9zM46.0 140.2h0.9v0.9h-0.9zM40.2 140.5h0.9v0.9h-0.9zM47.4 133.6h0.9v0.9h-0.9zM43.1 135.2h0.9v0.9h-0.9zM47.5 130.8h0.9v0.9h-0.9zM42.5 138.2h0.9v0.9h-0.9zM49.1 143.5h0.9v0.9h-0.9zM45.6 134.1h0.9v0.9h-0.9zM48.8 136.6h0.9v0.9h-0.9zM47.0 136.2h0.9v0.9h-0.9zM45.6 132.7h0.9v0.9h-0.9zM41.3 138.6h0.9v0.9h-0.9zM43.8 141.5h0.9v0.9h-0.9zM55.1 135.9h0.9v0.9h-0.9zM48.3 136.9h0.9v0.9h-0.9zM41.5 135.0h0.9v0.9h-0.9zM45.3 131.7h0.9v0.9h-0.9zM47.0 135.9h0.9v0.9h-0.9zM48.8 135.4h0.9v0.9h-0.9zM45.5 135.2h0.9v0.9h-0.9zM39.7 140.1h0.9v0.9h-0.9zM50.5 138.2h0.9v0.9h-0.9zM49.0 131.1h0.9v0.9h-0.9zM44.3 141.1h0.9v0.9h-0.9zM49.5 145.1h0.9v0.9h-0.9zM44.4 132.1h0.9v0.9h-0.9zM47.3 142.6h0.9v0.9h-0.9zM40.3 141.6h0.9v0.9h-0.9zM44.5 144.6h0.9v0.9h-0.9zM42.8 135.2h0.9v0.9h-0.9zM39.1 139.0h0.9v0.9h-0.9zM36.7 141.6h0.9v0.9h-0.9zM53.8 132.2h0.9v0.9h-0.9zM43.1 134.4h0.9v0.9h-0.9zM46.5 134.9h0.9v0.9h-0.9zM45.9 142.7h0.9v0.9h-0.9zM46.0 133.6h0.9v0.9h-0.9zM51.1 133.4h0.9v0.9h-0.9zM48.2 136.2h0.9v0.9h-0.9zM51.3 135.9h0.9v0.9h-0.9zM46.4 139.8h0.9v0.9h-0.9zM45.1 138.3h0.9v0.9h-0.9zM49.8 130.3h0.9v0.9h-0.9zM41.9 138.3h0.9v0.9h-0.9zM46.9 141.7h0.9v0.9h-0.9zM45.1 147.0h0.9v0.9h-0.9zM50.7 132.1h0.9v0.9h-0.9zM46.2 135.6h0.9v0.9h-0.9zM49.7 137.3h0.9v0.9h-0.9zM50.2 137.3h0.9v0.9h-0.9zM52.4 132.1h0.9v0.9h-0.9zM48.2 134.9h0.9v0.9h-0.9zM46.7 137.5h0.9v0.9h-0.9zM46.7 138.1h0.9v0.9h-0.9zM43.0 138.6h0.9v0.9h-0.9zM42.0 135.2h0.9v0.9h-0.9zM42.9 137.3h0.9v0.9h-0.9zM42.8 133.1h0.9v0.9h-0.9zM43.2 134.5h0.9v0.9h-0.9zM43.8 139.4h0.9v0.9h-0.9zM50.5 135.2h0.9v0.9h-0.9zM43.7 136.9h0.9v0.9h-0.9zM47.7 129.4h0.9v0.9h-0.9zM47.3 130.2h0.9v0.9h-0.9zM44.1 138.6h0.9v0.9h-0.9zM48.6 142.1h0.9v0.9h-0.9zM47.8 135.7h0.9v0.9h-0.9zM49.5 134.9h0.9v0.9h-0.9zM45.6 141.9h0.9v0.9h-0.9zM53.7 137.0h0.9v0.9h-0.9zM45.8 144.9h0.9v0.9h-0.9zM46.2 140.1h0.9v0.9h-0.9zM54.7 140.7h0.9v0.9h-0.9zM38.8 138.0h0.9v0.9h-0.9zM51.1 135.6h0.9v0.9h-0.9zM39.7 129.7h0.9v0.9h-0.9zM47.3 135.5h0.9v0.9h-0.9zM42.4 150.4h0.9v0.9h-0.9zM36.7 141.3h0.9v0.9h-0.9zM46.6 137.7h0.9v0.9h-0.9zM48.3 134.5h0.9v0.9h-0.9zM42.5 138.1h0.9v0.9h-0.9zM37.0 138.8h0.9v0.9h-0.9zM51.6 130.5h0.9v0.9h-0.9zM49.5 142.4h0.9v0.9h-0.9zM50.0 134.9h0.9v0.9h-0.9zM48.2 134.6h0.9v0.9h-0.9zM45.0 141.8h0.9v0.9h-0.9zM49.7 141.1h0.9v0.9h-0.9zM44.6 136.6h0.9v0.9h-0.9zM47.0 135.7h0.9v0.9h-0.9zM43.5 135.3h0.9v0.9h-0.9zM47.7 137.3h0.9v0.9h-0.9zM52.4 132.7h0.9v0.9h-0.9zM41.1 142.4h0.9v0.9h-0.9zM53.1 130.5h0.9v0.9h-0.9zM43.2 138.4h0.9v0.9h-0.9zM35.9 142.7h0.9v0.9h-0.9zM42.7 133.3h0.9v0.9h-0.9zM46.5 133.3h0.9v0.9h-0.9zM38.6 139.3h0.9v0.9h-0.9zM52.0 140.8h0.9v0.9h-0.9zM50.8 134.6h0.9v0.9h-0.9zM44.0 137.5h0.9v0.9h-0.9zM48.5 133.3h0.9v0.9h-0.9zM49.4 138.7h0.9v0.9h-0.9zM42.0 137.5h0.9v0.9h-0.9zM47.7 136.0h0.9v0.9h-0.9zM44.8 135.8h0.9v0.9h-0.9zM49.5 142.2h0.9v0.9h-0.9zM47.8 129.4h0.9v0.9h-0.9zM46.5 137.1h0.9v0.9h-0.9zM43.7 133.1h0.9v0.9h-0.9zM46.0 137.7h0.9v0.9h-0.9zM44.5 139.4h0.9v0.9h-0.9zM35.1 138.5h0.9v0.9h-0.9zM47.3 137.8h0.9v0.9h-0.9zM44.8 136.1h0.9v0.9h-0.9zM48.9 139.5h0.9v0.9h-0.9zM49.1 134.7h0.9v0.9h-0.9zM46.6 141.0h0.9v0.9h-0.9zM49.7 138.2h0.9v0.9h-0.9zM43.6 135.3h0.9v0.9h-0.9zM45.7 134.8h0.9v0.9h-0.9zM51.7 136.7h0.9v0.9h-0.9zM40.0 143.9h0.9v0.9h-0.9zM52.7 136.8h0.9v0.9h-0.9zM43.0 135.7h0.9v0.9h-0.9zM51.4 137.5h0.9v0.9h-0.9zM44.2 133.7h0.9v0.9h-0.9zM41.5 141.3h0.9v0.9h-0.9zM42.1 137.1h0.9v0.9h-0.9zM49.7 138.8h0.9v0.9h-0.9zM37.9 140.0h0.9v0.9h-0.9zM50.5 133.9h0.9v0.9h-0.9zM46.2 139.6h0.9v0.9h-0.9zM40.0 136.3h0.9v0.9h-0.9zM49.2 141.2h0.9v0.9h-0.9zM49.6 134.6h0.9v0.9h-0.9zM48.9 133.5h0.9v0.9h-0.9zM39.0 135.1h0.9v0.9h-0.9zM48.8 138.8h0.9v0.9h-0.9zM47.4 136.0h0.9v0.9h-0.9zM46.9 140.9h0.9v0.9h-0.9zM43.3 133.2h0.9v0.9h-0.9zM49.6 132.0h0.9v0.9h-0.9zM47.5 136.1h0.9v0.9h-0.9zM50.3 135.2h0.9v0.9h-0.9zM50.8 134.7h0.9v0.9h-0.9zM43.7 136.7h0.9v0.9h-0.9zM46.9 133.2h0.9v0.9h-0.9zM48.9 134.2h0.9v0.9h-0.9zM41.4 136.8h0.9v0.9h-0.9zM49.0 142.2h0.9v0.9h-0.9zM48.9 135.3h0.9v0.9h-0.9zM46.7 144.3h0.9v0.9h-0.9zM45.3 137.6h0.9v0.9h-0.9zM47.3 141.7h0.9v0.9h-0.9zM45.9 135.3h0.9v0.9h-0.9zM45.0 133.8h0.9v0.9h-0.9zM42.3 139.0h0.9v0.9h-0.9zM38.6 146.9h0.9v0.9h-0.9zM50.9 129.3h0.9v0.9h-0.9zM42.8 133.0h0.9v0.9h-0.9zM47.2 137.2h0.9v0.9h-0.9zM46.2 131.6h0.9v0.9h-0.9zM42.9 136.6h0.9v0.9h-0.9zM49.7 143.9h0.9v0.9h-0.9zM45.4 137.4h0.9v0.9h-0.9zM46.0 140.4h0.9v0.9h-0.9zM57.1 134.2h0.9v0.9h-0.9zM49.4 130.5h0.9v0.9h-0.9zM49.9 134.6h0.9v0.9h-0.9zM52.5 137.0h0.9v0.9h-0.9zM45.3 130.9h0.9v0.9h-0.9zM45.7 135.3h0.9v0.9h-0.9zM47.8 136.1h0.9v0.9h-0.9zM46.8 130.1h0.9v0.9h-0.9zM43.5 138.5h0.9v0.9h-0.9zM46.5 135.1h0.9v0.9h-0.9zM46.2 137.2h0.9v0.9h-0.9zM49.6 134.2h0.9v0.9h-0.9zM43.6 131.4h0.9v0.9h-0.9zM34.5 139.1h0.9v0.9h-0.9zM43.1 129.8h0.9v0.9h-0.9zM47.4 135.8h0.9v0.9h-0.9zM44.8 135.0h0.9v0.9h-0.9zM46.3 140.3h0.9v0.9h-0.9zM47.4 136.1h0.9v0.9h-0.9zM44.9 138.7h0.9v0.9h-0.9zM50.2 134.2h0.9v0.9h-0.9zM42.7 134.6h0.9v0.9h-0.9zM44.8 134.2h0.9v0.9h-0.9zM42.9 142.8h0.9v0.9h-0.9zM40.2 132.8h0.9v0.9h-0.9zM47.2 143.8h0.9v0.9h-0.9zM43.3 133.6h0.9v0.9h-0.9zM43.8 141.6h0.9v0.9h-0.9zM48.0 136.6h0.9v0.9h-0.9zM46.4 138.8h0.9v0.9h-0.9zM52.4 134.8h0.9v0.9h-0.9zM43.0 133.5h0.9v0.9h-0.9zM50.7 140.3h0.9v0.9h-0.9zM46.0 132.0h0.9v0.9h-0.9zM49.3 140.2h0.9v0.9h-0.9zM45.0 139.8h0.9v0.9h-0.9zM53.4 138.7h0.9v0.9h-0.9zM37.5 135.9h0.9v0.9h-0.9zM48.8 138.1h0.9v0.9h-0.9zM45.0 137.8h0.9v0.9h-0.9zM47.1 141.3h0.9v0.9h-0.9zM39.1 142.9h0.9v0.9h-0.9zM40.6 138.1h0.9v0.9h-0.9zM39.3 138.1h0.9v0.9h-0.9zM46.2 137.1h0.9v0.9h-0.9zM51.9 132.2h0.9v0.9h-0.9zM48.0 137.2h0.9v0.9h-0.9zM49.8 140.4h0.9v0.9h-0.9zM47.0 137.1h0.9v0.9h-0.9zM45.8 137.3h0.9v0.9h-0.9zM47.9 139.9h0.9v0.9h-0.9zM46.4 137.1h0.9v0.9h-0.9zM47.5 139.2h0.9v0.9h-0.9zM46.4 140.7h0.9v0.9h-0.9zM45.6 140.3h0.9v0.9h-0.9zM53.2 133.2h0.9v0.9h-0.9zM43.7 133.9h0.9v0.9h-0.9zM48.8 135.3h0.9v0.9h-0.9zM48.1 133.1h0.9v0.9h-0.9zM51.4 140.8h0.9v0.9h-0.9zM47.0 135.2h0.9v0.9h-0.9zM41.7 140.0h0.9v0.9h-0.9zM49.6 137.1h0.9v0.9h-0.9zM40.4 136.8h0.9v0.9h-0.9zM40.9 136.5h0.9v0.9h-0.9zM45.8 138.4h0.9v0.9h-0.9zM53.1 133.0h0.9v0.9h-0.9zM48.0 129.0h0.9v0.9h-0.9zM53.0 135.6h0.9v0.9h-0.9zM49.3 138.3h0.9v0.9h-0.9zM51.9 140.9h0.9v0.9h-0.9zM45.7 130.3h0.9v0.9h-0.9zM43.3 145.5h0.9v0.9h-0.9zM48.4 140.9h0.9v0.9h-0.9zM43.8 136.0h0.9v0.9h-0.9zM45.6 138.7h0.9v0.9h-0.9zM45.7 134.8h0.9v0.9h-0.9zM49.2 137.5h0.9v0.9h-0.9zM41.0 136.1h0.9v0.9h-0.9zM38.9 140.7h0.9v0.9h-0.9zM44.9 135.0h0.9v0.9h-0.9zM43.9 138.0h0.9v0.9h-0.9zM47.4 138.5h0.9v0.9h-0.9zM49.9 136.3h0.9v0.9h-0.9zM48.2 131.7h0.9v0.9h-0.9zM49.0 136.6h0.9v0.9h-0.9zM41.3 137.6h0.9v0.9h-0.9zM47.9 136.2h0.9v0.9h-0.9zM40.8 138.4h0.9v0.9h-0.9zM53.0 135.8h0.9v0.9h-0.9zM49.0 140.5h0.9v0.9h-0.9zM42.8 138.7h0.9v0.9h-0.9zM48.8 133.8h0.9v0.9h-0.9zM43.5 141.2h0.9v0.9h-0.9zM46.9 126.2h0.9v0.9h-0.9zM44.4 133.2h0.9v0.9h-0.9zM42.5 133.8h0.9v0.9h-0.9zM53.8 129.0h0.9v0.9h-0.9zM45.0 134.9h0.9v0.9h-0.9zM41.9 138.1h0.9v0.9h-0.9zM50.2 141.4h0.9v0.9h-0.9zM50.2 140.7h0.9v0.9h-0.9zM42.7 139.7h0.9v0.9h-0.9zM41.7 133.7h0.9v0.9h-0.9zM58.5 127.6h0.9v0.9h-0.9zM45.6 134.3h0.9v0.9h-0.9zM42.3 135.5h0.9v0.9h-0.9zM48.9 133.5h0.9v0.9h-0.9zM46.0 137.8h0.9v0.9h-0.9zM42.4 140.5h0.9v0.9h-0.9zM46.5 138.6h0.9v0.9h-0.9zM45.0 138.0h0.9v0.9h-0.9zM49.8 138.5h0.9v0.9h-0.9zM45.7 141.3h0.9v0.9h-0.9zM42.5 138.8h0.9v0.9h-0.9zM46.9 137.1h0.9v0.9h-0.9zM35.8 140.1h0.9v0.9h-0.9zM47.3 140.0h0.9v0.9h-0.9zM46.7 142.8h0.9v0.9h-0.9zM40.2 141.4h0.9v0.9h-0.9zM48.1 135.8h0.9v0.9h-0.9zM48.9 139.0h0.9v0.9h-0.9zM44.6 140.5h0.9v0.9h-0.9zM49.4 133.9h0.9v0.9h-0.9zM36.0 139.1h0.9v0.9h-0.9zM41.3 136.1h0.9v0.9h-0.9zM46.1 133.8h0.9v0.9h-0.9zM55.8 132.8h0.9v0.9h-0.9zM41.2 139.3h0.9v0.9h-0.9zM52.7 135.3h0.9v0.9h-0.9zM44.7 142.3h0.9v0.9h-0.9zM48.8 144.3h0.9v0.9h-0.9zM45.4 139.9h0.9v0.9h-0.9zM47.3 134.4h0.9v0.9h-0.9zM47.9 140.6h0.9v0.9h-0.9zM47.8 135.7h0.9v0.9h-0.9zM51.0 140.8h0.9v0.9h-0.9zM50.3 136.1h0.9v0.9h-0.9zM44.4 131.9h0.9v0.9h-0.9zM45.7 135.3h0.9v0.9h-0.9zM47.6 133.6h0.9v0.9h-0.9zM45.7 133.0h0.9v0.9h-0.9zM47.9 132.9h0.9v0.9h-0.9zM47.2 138.7h0.9v0.9h-0.9zM45.1 137.8h0.9v0.9h-0.9zM53.2 139.4h0.9v0.9h-0.9zM38.3 138.7h0.9v0.9h-0.9zM50.3 138.0h0.9v0.9h-0.9zM44.8 138.4h0.9v0.9h-0.9zM49.9 143.8h0.9v0.9h-0.9zM43.3 134.2h0.9v0.9h-0.9zM38.5 137.1h0.9v0.9h-0.9zM49.9 132.9h0.9v0.9h-0.9zM54.1 134.2h0.9v0.9h-0.9zM48.7 137.9h0.9v0.9h-0.9zM50.7 137.7h0.9v0.9h-0.9zM41.8 137.7h0.9v0.9h-0.9zM44.5 138.6h0.9v0.9h-0.9zM43.0 134.2h0.9v0.9h-0.9zM47.2 143.6h0.9v0.9h-0.9zM51.8 129.7h0.9v0.9h-0.9zM47.4 136.0h0.9v0.9h-0.9zM44.7 141.0h0.9v0.9h-0.9zM49.1 141.8h0.9v0.9h-0.9zM47.2 135.1h0.9v0.9h-0.9zM36.9 142.9h0.9v0.9h-0.9zM47.8 133.0h0.9v0.9h-0.9zM50.5 136.8h0.9v0.9h-0.9zM39.8 140.6h0.9v0.9h-0.9zM48.7 138.3h0.9v0.9h-0.9zM46.7 136.6h0.9v0.9h-0.9zM44.5 137.0h0.9v0.9h-0.9zM44.2 134.0h0.9v0.9h-0.9zM47.8 134.6h0.9v0.9h-0.9zM47.0 134.4h0.9v0.9h-0.9zM47.8 136.4h0.9v0.9h-0.9zM50.1 136.2h0.9v0.9h-0.9zM49.1 134.4h0.9v0.9h-0.9zM45.5 136.4h0.9v0.9h-0.9zM41.7 139.6h0.9v0.9h-0.9zM51.4 136.6h0.9v0.9h-0.9zM43.9 139.8h0.9v0.9h-0.9zM46.2 131.5h0.9v0.9h-0.9zM48.0 137.1h0.9v0.9h-0.9zM49.3 136.0h0.9v0.9h-0.9zM36.4 135.5h0.9v0.9h-0.9zM52.2 131.3h0.9v0.9h-0.9zM53.0 137.5h0.9v0.9h-0.9zM44.3 133.6h0.9v0.9h-0.9zM50.8 133.7h0.9v0.9h-0.9zM48.9 137.1h0.9v0.9h-0.9zM51.4 137.6h0.9v0.9h-0.9zM38.7 136.4h0.9v0.9h-0.9zM46.7 136.7h0.9v0.9h-0.9zM48.6 134.8h0.9v0.9h-0.9zM49.4 143.0h0.9v0.9h-0.9zM53.1 137.0h0.9v0.9h-0.9zM48.3 132.4h0.9v0.9h-0.9zM45.8 137.0h0.9v0.9h-0.9zM40.8 137.2h0.9v0.9h-0.9zM44.5 133.3h0.9v0.9h-0.9zM49.0 137.0h0.9v0.9h-0.9zM44.8 136.6h0.9v0.9h-0.9zM49.2 136.9h0.9v0.9h-0.9zM45.1 132.8h0.9v0.9h-0.9zM44.5 146.5h0.9v0.9h-0.9zM43.3 137.5h0.9v0.9h-0.9zM38.4 139.1h0.9v0.9h-0.9zM45.2 140.9h0.9v0.9h-0.9zM34.5 139.3h0.9v0.9h-0.9zM43.9 136.6h0.9v0.9h-0.9zM42.7 137.6h0.9v0.9h-0.9zM41.3 141.4h0.9v0.9h-0.9zM50.6 134.6h0.9v0.9h-0.9zM46.8 141.7h0.9v0.9h-0.9zM45.9 133.0h0.9v0.9h-0.9zM43.1 136.7h0.9v0.9h-0.9zM48.3 140.5h0.9v0.9h-0.9zM43.5 138.2h0.9v0.9h-0.9zM44.3 133.4h0.9v0.9h-0.9zM45.7 139.8h0.9v0.9h-0.9zM46.5 129.2h0.9v0.9h-0.9zM48.1 134.5h0.9v0.9h-0.9zM51.8 135.7h0.9v0.9h-0.9zM53.5 133.2h0.9v0.9h-0.9zM43.3 135.6h0.9v0.9h-0.9zM42.3 141.9h0.9v0.9h-0.9zM49.5 138.1h0.9v0.9h-0.9zM44.6 132.1h0.9v0.9h-0.9zM44.4 137.3h0.9v0.9h-0.9zM48.2 138.7h0.9v0.9h-0.9zM51.6 134.5h0.9v0.9h-0.9zM37.2 139.0h0.9v0.9h-0.9zM37.4 139.9h0.9v0.9h-0.9zM42.5 140.5h0.9v0.9h-0.9zM47.5 140.6h0.9v0.9h-0.9zM49.0 133.2h0.9v0.9h-0.9zM49.5 134.8h0.9v0.9h-0.9zM50.3 139.6h0.9v0.9h-0.9zM42.1 139.5h0.9v0.9h-0.9zM50.0 131.3h0.9v0.9h-0.9zM47.2 136.9h0.9v0.9h-0.9zM42.3 134.4h0.9v0.9h-0.9zM42.0 135.9h0.9v0.9h-0.9zM50.4 135.2h0.9v0.9h-0.9zM46.4 132.1h0.9v0.9h-0.9zM48.2 136.2h0.9v0.9h-0.9zM48.4 132.6h0.9v0.9h-0.9zM51.6 138.9h0.9v0.9h-0.9zM50.6 130.2h0.9v0.9h-0.9zM39.6 135.6h0.9v0.9h-0.9zM50.6 136.4h0.9v0.9h-0.9zM45.7 133.8h0.9v0.9h-0.9zM53.5 138.5h0.9v0.9h-0.9zM45.9 136.8h0.9v0.9h-0.9zM51.2 135.6h0.9v0.9h-0.9zM50.0 132.7h0.9v0.9h-0.9zM46.7 135.3h0.9v0.9h-0.9zM43.7 137.5h0.9v0.9h-0.9zM46.2 139.1h0.9v0.9h-0.9zM45.3 137.9h0.9v0.9h-0.9zM41.1 135.5h0.9v0.9h-0.9zM49.2 130.9h0.9v0.9h-0.9zM54.2 135.3h0.9v0.9h-0.9zM37.2 140.6h0.9v0.9h-0.9zM44.8 138.0h0.9v0.9h-0.9zM44.5 135.8h0.9v0.9h-0.9zM50.3 133.7h0.9v0.9h-0.9zM48.2 132.9h0.9v0.9h-0.9zM46.3 142.3h0.9v0.9h-0.9zM43.2 134.6h0.9v0.9h-0.9zM47.6 140.3h0.9v0.9h-0.9zM44.3 135.4h0.9v0.9h-0.9zM50.2 138.2h0.9v0.9h-0.9zM44.9 136.6h0.9v0.9h-0.9zM50.0 145.3h0.9v0.9h-0.9zM48.8 142.2h0.9v0.9h-0.9zM46.5 138.5h0.9v0.9h-0.9zM39.6 142.3h0.9v0.9h-0.9zM45.8 136.0h0.9v0.9h-0.9zM42.2 134.2h0.9v0.9h-0.9zM41.4 140.9h0.9v0.9h-0.9zM43.8 138.2h0.9v0.9h-0.9zM44.6 136.0h0.9v0.9h-0.9zM47.2 143.8h0.9v0.9h-0.9zM41.5 138.2h0.9v0.9h-0.9zM43.0 134.5h0.9v0.9h-0.9zM44.5 141.6h0.9v0.9h-0.9zM49.6 135.2h0.9v0.9h-0.9zM58.9 131.7h0.9v0.9h-0.9zM48.9 131.9h0.9v0.9h-0.9zM53.1 139.1h0.9v0.9h-0.9zM48.3 142.8h0.9v0.9h-0.9zM41.3 135.8h0.9v0.9h-0.9zM44.5 134.9h0.9v0.9h-0.9zM46.3 132.5h0.9v0.9h-0.9zM42.8 131.4h0.9v0.9h-0.9zM48.1 140.0h0.9v0.9h-0.9zM45.9 138.5h0.9v0.9h-0.9zM47.9 131.4h0.9v0.9h-0.9zM42.0 140.2h0.9v0.9h-0.9zM46.7 135.6h0.9v0.9h-0.9zM45.2 142.6h0.9v0.9h-0.9zM41.7 139.0h0.9v0.9h-0.9zM47.4 139.1h0.9v0.9h-0.9zM43.1 135.8h0.9v0.9h-0.9zM51.5 130.0h0.9v0.9h-0.9zM48.7 134.7h0.9v0.9h-0.9zM44.5 138.0h0.9v0.9h-0.9zM45.9 138.4h0.9v0.9h-0.9zM37.5 142.9h0.9v0.9h-0.9zM44.6 134.2h0.9v0.9h-0.9zM49.3 144.3h0.9v0.9h-0.9zM53.7 134.4h0.9v0.9h-0.9zM46.4 135.6h0.9v0.9h-0.9zM50.1 132.5h0.9v0.9h-0.9zM44.7 140.8h0.9v0.9h-0.9zM41.4 137.1h0.9v0.9h-0.9zM48.2 129.2h0.9v0.9h-0.9zM46.2 137.5h0.9v0.9h-0.9zM44.4 132.4h0.9v0.9h-0.9zM44.8 136.6h0.9v0.9h-0.9zM54.7 135.2h0.9v0.9h-0.9zM45.3 141.2h0.9v0.9h-0.9zM48.2 135.2h0.9v0.9h-0.9zM44.9 136.8h0.9v0.9h-0.9zM39.8 138.9h0.9v0.9h-0.9zM52.1 138.8h0.9v0.9h-0.9zM51.9 131.6h0.9v0.9h-0.9zM43.8 129.0h0.9v0.9h-0.9zM42.9 134.2h0.9v0.9h-0.9zM45.9 130.5h0.9v0.9h-0.9zM40.6 136.4h0.9v0.9h-0.9zM49.1 138.4h0.9v0.9h-0.9zM46.4 144.1h0.9v0.9h-0.9zM45.2 134.3h0.9v0.9h-0.9zM47.4 136.1h0.9v0.9h-0.9zM49.7 136.0h0.9v0.9h-0.9zM55.9 135.1h0.9v0.9h-0.9zM45.5 140.6h0.9v0.9h-0.9zM46.9 132.5h0.9v0.9h-0.9zM42.1 136.5h0.9v0.9h-0.9zM39.0 144.5h0.9v0.9h-0.9zM47.8 140.9h0.9v0.9h-0.9zM44.4 138.5h0.9v0.9h-0.9zM50.5 137.9h0.9v0.9h-0.9zM45.4 133.4h0.9v0.9h-0.9zM55.4 134.2h0.9v0.9h-0.9zM53.9 138.2h0.9v0.9h-0.9zM51.8 134.8h0.9v0.9h-0.9zM49.0 137.6h0.9v0.9h-0.9zM42.6 142.7h0.9v0.9h-0.9zM43.7 140.4h0.9v0.9h-0.9zM44.1 141.3h0.9v0.9h-0.9zM49.2 144.9h0.9v0.9h-0.9zM47.8 137.9h0.9v0.9h-0.9zM42.6 138.3h0.9v0.9h-0.9zM45.5 136.3h0.9v0.9h-0.9zM43.1 135.6h0.9v0.9h-0.9zM48.1 134.2h0.9v0.9h-0.9zM44.1 139.9h0.9v0.9h-0.9zM43.1 138.4h0.9v0.9h-0.9zM42.7 135.7h0.9v0.9h-0.9zM43.9 135.3h0.9v0.9h-0.9zM42.6 140.9h0.9v0.9h-0.9zM42.5 133.7h0.9v0.9h-0.9zM45.2 138.4h0.9v0.9h-0.9zM48.4 137.0h0.9v0.9h-0.9zM48.2 138.0h0.9v0.9h-0.9zM43.0 136.0h0.9v0.9h-0.9zM47.6 134.4h0.9v0.9h-0.9zM47.5 138.7h0.9v0.9h-0.9zM51.7 138.1h0.9v0.9h-0.9zM43.2 137.6h0.9v0.9h-0.9zM45.4 131.8h0.9v0.9h-0.9zM43.1 141.6h0.9v0.9h-0.9zM42.4 135.9h0.9v0.9h-0.9zM50.0 136.6h0.9v0.9h-0.9zM48.7 133.9h0.9v0.9h-0.9zM44.6 136.7h0.9v0.9h-0.9zM43.4 130.7h0.9v0.9h-0.9zM45.2 140.5h0.9v0.9h-0.9zM43.4 138.6h0.9v0.9h-0.9zM47.6 138.1h0.9v0.9h-0.9zM42.5 135.0h0.9v0.9h-0.9zM53.4 129.2h0.9v0.9h-0.9zM48.8 128.2h0.9v0.9h-0.9zM46.2 136.2h0.9v0.9h-0.9zM56.5 138.1h0.9v0.9h-0.9zM47.7 131.9h0.9v0.9h-0.9zM42.1 136.8h0.9v0.9h-0.9zM45.0 138.9h0.9v0.9h-0.9zM43.1 138.1h0.9v0.9h-0.9zM53.9 137.5h0.9v0.9h-0.9zM38.1 138.7h0.9v0.9h-0.9zM47.4 141.4h0.9v0.9h-0.9zM48.7 143.0h0.9v0.9h-0.9zM50.2 140.0h0.9v0.9h-0.9zM42.7 138.1h0.9v0.9h-0.9zM50.8 136.2h0.9v0.9h-0.9zM39.4 140.6h0.9v0.9h-0.9zM48.0 138.3h0.9v0.9h-0.9zM47.3 143.2h0.9v0.9h-0.9zM49.5 140.6h0.9v0.9h-0.9zM47.8 136.3h0.9v0.9h-0.9zM43.0 134.5h0.9v0.9h-0.9zM50.6 137.0h0.9v0.9h-0.9zM48.7 133.8h0.9v0.9h-0.9zM42.1 138.3h0.9v0.9h-0.9zM45.1 137.7h0.9v0.9h-0.9zM47.9 132.2h0.9v0.9h-0.9zM45.9 140.0h0.9v0.9h-0.9zM53.4 140.9h0.9v0.9h-0.9zM46.5 133.4h0.9v0.9h-0.9zM41.2 137.2h0.9v0.9h-0.9zM47.0 137.5h0.9v0.9h-0.9zM44.9 135.5h0.9v0.9h-0.9zM45.5 137.2h0.9v0.9h-0.9zM48.4 135.8h0.9v0.9h-0.9zM41.3 135.7h0.9v0.9h-0.9zM51.1 133.3h0.9v0.9h-0.9zM45.6 137.3h0.9v0.9h-0.9zM49.5 133.5h0.9v0.9h-0.9zM46.4 135.9h0.9v0.9h-0.9zM46.3 132.9h0.9v0.9h-0.9zM48.9 139.3h0.9v0.9h-0.9zM51.4 135.9h0.9v0.9h-0.9zM50.2 140.6h0.9v0.9h-0.9zM51.3 139.1h0.9v0.9h-0.9zM40.1 136.8h0.9v0.9h-0.9zM48.5 134.4h0.9v0.9h-0.9zM43.0 135.4h0.9v0.9h-0.9zM49.1 130.3h0.9v0.9h-0.9zM44.0 132.9h0.9v0.9h-0.9zM49.8 143.5h0.9v0.9h-0.9zM53.6 130.0h0.9v0.9h-0.9zM45.8 143.8h0.9v0.9h-0.9zM40.0 134.1h0.9v0.9h-0.9zM45.4 133.2h0.9v0.9h-0.9z" fill="#222" fill-opacity="0.5"/>
<ellipse cx="48.5" cy="134.0" rx="12.5" ry="9.5" fill="url(#gl)" fill-opacity="0.65" transform="rotate(-35 48.5 134.0)"/>
<ellipse cx="46.2" cy="137" rx="7.5" ry="5.8" fill="url(#gl)" fill-opacity="0.8" transform="rotate(-35 46.2 137)"/>
<ellipse cx="45.8" cy="137.6" rx="3.6" ry="2.8" fill="#000" fill-opacity="0.55" filter="url(#bl10)" transform="rotate(-35 45.8 137.6)"/>
<line x1="72.6" y1="99.8" x2="72.6" y2="155.4" stroke="#777" stroke-width="0.8"/>
<line x1="16.8" y1="99.8" x2="72.6" y2="99.8" stroke="#555" stroke-width="0.8"/>
<line x1="16.8" y1="99.39999999999999" x2="16.8" y2="155.8" stroke="#333" stroke-width="1.0"/>
<line x1="16.8" y1="155.4" x2="73.0" y2="155.4" stroke="#444" stroke-width="0.9"/>
<line x1="15.200000000000001" y1="101.39999999999999" x2="16.8" y2="101.39999999999999" stroke="#333" stroke-width="0.8"/>
<rect x="11.600000000000001" y="100.69999999999999" width="3.0" height="1.4" fill="#444" fill-opacity="0.8"/>
<line x1="15.8" y1="103.55999999999999" x2="16.8" y2="103.55999999999999" stroke="#555" stroke-width="0.4"/>
<line x1="15.8" y1="105.72" x2="16.8" y2="105.72" stroke="#555" stroke-width="0.4"/>
<line x1="15.8" y1="107.88" x2="16.8" y2="107.88" stroke="#555" stroke-width="0.4"/>
<line x1="15.8" y1="110.03999999999999" x2="16.8" y2="110.03999999999999" stroke="#555" stroke-width="0.4"/>
<line x1="15.200000000000001" y1="112.19999999999999" x2="16.8" y2="112.19999999999999" stroke="#333" stroke-width="0.8"/>
<rect x="11.600000000000001" y="111.49999999999999" width="3.0" height="1.4" fill="#444" fill-opacity="0.8"/>
<line x1="15.8" y1="114.35999999999999" x2="16.8" y2="114.35999999999999" stroke="#555" stroke-width="0.4"/>
<line x1="15.8" y1="116.51999999999998" x2="16.8" y2="116.51999999999998" stroke="#555" stroke-width="0.4"/>
<line x1="15.8" y1="118.67999999999999" x2="16.8" y2="118.67999999999999" stroke="#555" stroke-width="0.4"/>
<line x1="15.8" y1="120.83999999999999" x2="16.8" y2="120.83999999999999" stroke="#555" stroke-width="0.4"/>
<line x1="15.200000000000001" y1="123.0" x2="16.8" y2="123.0" stroke="#333" stroke-width="0.8"/>
<rect x="11.600000000000001" y="122.3" width="3.0" height="1.4" fill="#444" fill-opacity="0.8"/>
<line x1="15.8" y1="125.16" x2="16.8" y2="125.16" stroke="#555" stroke-width="0.4"/>
<line x1="15.8" y1="127.32" x2="16.8" y2="127.32" stroke="#555" stroke-width="0.4"/>
<line x1="15.8" y1="129.48" x2="16.8" y2="129.48" stroke="#555" stroke-width="0.4"/>
<line x1="15.8" y1="131.64" x2="16.8" y2="131.64" stroke="#555" stroke-width="0.4"/>
<line x1="15.200000000000001" y1="133.8" x2="16.8" y2="133.8" stroke="#333" stroke-width="0.8"/>
<rect x="11.600000000000001" y="133.10000000000002" width="3.0" height="1.4" fill="#444" fill-opacity="0.8"/>
<line x1="15.8" y1="135.96" x2="16.8" y2="135.96" stroke="#555" stroke-width="0.4"/>
<line x1="15.8" y1="138.12" x2="16.8" y2="138.12" stroke="#555" stroke-width="0.4"/>
<line x1="15.8" y1="140.28" x2="16.8" y2="140.28" stroke="#555" stroke-width="0.4"/>
<line x1="15.8" y1="142.44" x2="16.8" y2="142.44" stroke="#555" stroke-width="0.4"/>
<line x1="15.200000000000001" y1="144.6" x2="16.8" y2="144.6" stroke="#333" stroke-width="0.8"/>
<rect x="11.600000000000001" y="143.9" width="3.0" height="1.4" fill="#444" fill-opacity="0.8"/>
<line x1="15.8" y1="146.76" x2="16.8" y2="146.76" stroke="#555" stroke-width="0.4"/>
<line x1="15.8" y1="148.92" x2="16.8" y2="148.92" stroke="#555" stroke-width="0.4"/>
<line x1="15.8" y1="151.07999999999998" x2="16.8" y2="151.07999999999998" stroke="#555" stroke-width="0.4"/>
<line x1="15.8" y1="153.24" x2="16.8" y2="153.24" stroke="#555" stroke-width="0.4"/>
<line x1="15.200000000000001" y1="155.39999999999998" x2="16.8" y2="155.39999999999998" stroke="#333" stroke-width="0.8"/>
<line x1="18.4" y1="155.4" x2="18.4" y2="157.20000000000002" stroke="#333" stroke-width="0.8"/>
<line x1="20.58" y1="155.4" x2="20.58" y2="156.4" stroke="#555" stroke-width="0.4"/>
<line x1="22.759999999999998" y1="155.4" x2="22.759999999999998" y2="156.4" stroke="#555" stroke-width="0.4"/>
<line x1="24.939999999999998" y1="155.4" x2="24.939999999999998" y2="156.4" stroke="#555" stroke-width="0.4"/>
<line x1="27.119999999999997" y1="155.4" x2="27.119999999999997" y2="156.4" stroke="#555" stroke-width="0.4"/>
<line x1="29.299999999999997" y1="155.4" x2="29.299999999999997" y2="157.20000000000002" stroke="#333" stroke-width="0.8"/>
<line x1="31.48" y1="155.4" x2="31.48" y2="156.4" stroke="#555" stroke-width="0.4"/>
<line x1="33.66" y1="155.4" x2="33.66" y2="156.4" stroke="#555" stroke-width="0.4"/>
<line x1="35.84" y1="155.4" x2="35.84" y2="156.4" stroke="#555" stroke-width="0.4"/>
<line x1="38.019999999999996" y1="155.4" x2="38.019999999999996" y2="156.4" stroke="#555" stroke-width="0.4"/>
<line x1="40.2" y1="155.4" x2="40.2" y2="157.20000000000002" stroke="#333" stroke-width="0.8"/>
<line x1="42.379999999999995" y1="155.4" x2="42.379999999999995" y2="156.4" stroke="#555" stroke-width="0.4"/>
<line x1="44.56" y1="155.4" x2="44.56" y2="156.4" stroke="#555" stroke-width="0.4"/>
<line x1="46.74" y1="155.4" x2="46.74" y2="156.4" stroke="#555" stroke-width="0.4"/>
<line x1="48.92" y1="155.4" x2="48.92" y2="156.4" stroke="#555" stroke-width="0.4"/>
<line x1="51.1" y1="155.4" x2="51.1" y2="157.20000000000002" stroke="#333" stroke-width="0.8"/>
<line x1="53.28" y1="155.4" x2="53.28" y2="156.4" stroke="#555" stroke-width="0.4"/>
<line x1="55.46" y1="155.4" x2="55.46" y2="156.4" stroke="#555" stroke-width="0.4"/>
<line x1="57.64" y1="155.4" x2="57.64" y2="156.4" stroke="#555" stroke-width="0.4"/>
<line x1="59.82" y1="155.4" x2="59.82" y2="156.4" stroke="#555" stroke-width="0.4"/>
<line x1="62.0" y1="155.4" x2="62.0" y2="157.20000000000002" stroke="#333" stroke-width="0.8"/>
<line x1="64.18" y1="155.4" x2="64.18" y2="156.4" stroke="#555" stroke-width="0.4"/>
<line x1="66.36" y1="155.4" x2="66.36" y2="156.4" stroke="#555" stroke-width="0.4"/>
<line x1="68.53999999999999" y1="155.4" x2="68.53999999999999" y2="156.4" stroke="#555" stroke-width="0.4"/>
<line x1="70.72" y1="155.4" x2="70.72" y2="156.4" stroke="#555" stroke-width="0.4"/>
<rect x="25.4" y="159.0" width="3.2" height="1.5" fill="#444" fill-opacity="0.8"/>
<rect x="36.199999999999996" y="159.0" width="3.2" height="1.5" fill="#444" fill-opacity="0.8"/>
<rect x="47.5" y="159.0" width="3.2" height="1.5" fill="#444" fill-opacity="0.8"/>
<rect x="58.8" y="159.0" width="3.2" height="1.5" fill="#444" fill-opacity="0.8"/>
<rect x="68.30000000000001" y="159.0" width="3.2" height="1.5" fill="#444" fill-opacity="0.8"/>
<path d="M60.3 117.4 L66.5 121.7 L67.1 134.7 L62.2 143.4 L39.9 145.3 L36.8 140.3 L36.4 135.4 L40.5 125.4 L47.9 118.6 Z" fill="none" stroke="#111" stroke-width="0.9"/>
<line x1="60.6" y1="118.0" x2="89.5" y2="94.0" stroke="#1a1a1a" stroke-width="1.35"/>
<path d="M93.0 91.1 L86.3 94.6 L88.3 97.0 Z" fill="#111"/>
<path d="M112.3 27.7h0.9v0.9h-0.9zM112.0 21.7h0.9v0.9h-0.9zM116.3 21.2h0.9v0.9h-0.9zM120.1 19.4h0.9v0.9h-0.9zM123.1 20.3h0.9v0.9h-0.9zM123.8 19.8h0.9v0.9h-0.9zM116.9 22.8h0.9v0.9h-0.9zM114.0 18.9h0.9v0.9h-0.9zM112.7 26.3h0.9v0.9h-0.9zM106.5 26.1h0.9v0.9h-0.9zM111.3 25.0h0.9v0.9h-0.9zM112.6 25.0h0.9v0.9h-0.9zM114.6 21.5h0.9v0.9h-0.9zM110.0 19.8h0.9v0.9h-0.9zM114.5 19.3h0.9v0.9h-0.9zM115.4 23.4h0.9v0.9h-0.9zM120.6 20.8h0.9v0.9h-0.9zM119.4 15.6h0.9v0.9h-0.9zM120.4 23.3h0.9v0.9h-0.9zM115.9 18.9h0.9v0.9h-0.9zM116.7 20.0h0.9v0.9h-0.9zM115.1 25.6h0.9v0.9h-0.9zM113.9 20.3h0.9v0.9h-0.9zM116.1 27.4h0.9v0.9h-0.9zM113.8 25.3h0.9v0.9h-0.9zM118.1 23.8h0.9v0.9h-0.9zM113.7 20.8h0.9v0.9h-0.9zM112.3 21.6h0.9v0.9h-0.9zM125.4 16.0h0.9v0.9h-0.9zM116.5 25.2h0.9v0.9h-0.9zM118.1 20.0h0.9v0.9h-0.9zM118.5 21.0h0.9v0.9h-0.9zM122.1 22.4h0.9v0.9h-0.9zM114.8 22.7h0.9v0.9h-0.9zM116.9 24.8h0.9v0.9h-0.9zM118.4 22.5h0.9v0.9h-0.9zM118.3 18.6h0.9v0.9h-0.9zM118.2 24.3h0.9v0.9h-0.9zM120.3 21.3h0.9v0.9h-0.9zM114.5 22.0h0.9v0.9h-0.9zM112.6 23.5h0.9v0.9h-0.9zM113.9 19.4h0.9v0.9h-0.9zM119.1 17.7h0.9v0.9h-0.9zM117.6 22.5h0.9v0.9h-0.9zM111.6 19.8h0.9v0.9h-0.9zM119.9 20.4h0.9v0.9h-0.9zM116.6 24.7h0.9v0.9h-0.9zM117.9 18.0h0.9v0.9h-0.9zM113.4 18.8h0.9v0.9h-0.9zM116.9 25.3h0.9v0.9h-0.9zM114.1 25.6h0.9v0.9h-0.9zM110.2 25.1h0.9v0.9h-0.9zM121.6 23.0h0.9v0.9h-0.9zM118.6 22.3h0.9v0.9h-0.9zM118.9 13.1h0.9v0.9h-0.9zM112.4 29.7h0.9v0.9h-0.9zM125.5 17.1h0.9v0.9h-0.9zM116.5 22.3h0.9v0.9h-0.9zM115.3 20.7h0.9v0.9h-0.9zM115.7 21.8h0.9v0.9h-0.9zM119.2 21.6h0.9v0.9h-0.9zM120.2 20.7h0.9v0.9h-0.9zM114.4 27.0h0.9v0.9h-0.9zM106.7 28.7h0.9v0.9h-0.9zM116.4 20.1h0.9v0.9h-0.9zM121.2 15.3h0.9v0.9h-0.9zM111.2 23.8h0.9v0.9h-0.9zM118.5 22.5h0.9v0.9h-0.9zM117.2 23.0h0.9v0.9h-0.9zM112.7 22.5h0.9v0.9h-0.9zM114.7 19.1h0.9v0.9h-0.9zM116.1 20.8h0.9v0.9h-0.9zM117.1 18.4h0.9v0.9h-0.9zM113.4 22.2h0.9v0.9h-0.9zM113.4 20.9h0.9v0.9h-0.9zM113.3 20.0h0.9v0.9h-0.9zM118.7 22.0h0.9v0.9h-0.9zM115.7 21.6h0.9v0.9h-0.9zM111.6 22.3h0.9v0.9h-0.9zM114.0 20.8h0.9v0.9h-0.9zM112.0 25.1h0.9v0.9h-0.9zM115.4 21.2h0.9v0.9h-0.9zM113.0 23.8h0.9v0.9h-0.9zM113.0 22.8h0.9v0.9h-0.9zM117.6 22.9h0.9v0.9h-0.9zM117.8 19.0h0.9v0.9h-0.9zM118.7 16.8h0.9v0.9h-0.9zM117.1 24.9h0.9v0.9h-0.9zM124.5 16.5h0.9v0.9h-0.9zM114.2 22.1h0.9v0.9h-0.9zM111.5 24.6h0.9v0.9h-0.9zM113.5 21.5h0.9v0.9h-0.9zM119.2 17.6h0.9v0.9h-0.9zM123.0 19.5h0.9v0.9h-0.9zM117.4 19.3h0.9v0.9h-0.9zM111.6 19.4h0.9v0.9h-0.9zM116.6 20.8h0.9v0.9h-0.9zM116.4 19.7h0.9v0.9h-0.9zM115.7 17.9h0.9v0.9h-0.9zM108.9 28.1h0.9v0.9h-0.9zM115.6 13.4h0.9v0.9h-0.9zM120.0 18.2h0.9v0.9h-0.9zM113.4 19.4h0.9v0.9h-0.9zM113.4 25.7h0.9v0.9h-0.9zM113.3 23.7h0.9v0.9h-0.9zM118.0 26.1h0.9v0.9h-0.9zM117.4 17.3h0.9v0.9h-0.9zM112.8 20.9h0.9v0.9h-0.9zM110.2 24.0h0.9v0.9h-0.9zM119.9 19.4h0.9v0.9h-0.9zM118.1 20.1h0.9v0.9h-0.9zM114.6 23.1h0.9v0.9h-0.9zM118.2 25.8h0.9v0.9h-0.9zM122.8 18.4h0.9v0.9h-0.9zM115.5 16.7h0.9v0.9h-0.9zM118.7 26.8h0.9v0.9h-0.9zM114.2 25.4h0.9v0.9h-0.9zM119.7 18.3h0.9v0.9h-0.9zM114.6 21.6h0.9v0.9h-0.9zM118.8 20.1h0.9v0.9h-0.9zM122.8 20.6h0.9v0.9h-0.9zM119.3 27.0h0.9v0.9h-0.9zM114.1 21.5h0.9v0.9h-0.9zM114.0 20.9h0.9v0.9h-0.9zM114.4 22.8h0.9v0.9h-0.9zM117.0 16.8h0.9v0.9h-0.9zM110.0 23.8h0.9v0.9h-0.9zM115.5 23.6h0.9v0.9h-0.9zM115.2 26.7h0.9v0.9h-0.9zM113.8 22.8h0.9v0.9h-0.9zM117.7 24.1h0.9v0.9h-0.9zM117.0 21.3h0.9v0.9h-0.9zM114.3 23.6h0.9v0.9h-0.9zM116.9 20.3h0.9v0.9h-0.9zM113.5 18.5h0.9v0.9h-0.9zM115.6 25.5h0.9v0.9h-0.9zM120.8 18.4h0.9v0.9h-0.9zM110.8 30.7h0.9v0.9h-0.9zM118.7 27.3h0.9v0.9h-0.9zM115.8 24.9h0.9v0.9h-0.9zM115.6 26.1h0.9v0.9h-0.9zM118.6 17.2h0.9v0.9h-0.9zM124.2 24.4h0.9v0.9h-0.9zM113.6 20.2h0.9v0.9h-0.9zM116.4 20.5h0.9v0.9h-0.9zM109.3 23.5h0.9v0.9h-0.9zM114.8 18.5h0.9v0.9h-0.9zM120.3 20.2h0.9v0.9h-0.9zM117.2 25.1h0.9v0.9h-0.9zM113.6 25.5h0.9v0.9h-0.9zM110.8 24.6h0.9v0.9h-0.9zM117.5 19.4h0.9v0.9h-0.9zM116.4 23.5h0.9v0.9h-0.9zM123.0 20.8h0.9v0.9h-0.9zM117.2 20.4h0.9v0.9h-0.9zM113.1 28.7h0.9v0.9h-0.9zM119.7 13.3h0.9v0.9h-0.9zM118.9 19.8h0.9v0.9h-0.9zM118.8 20.9h0.9v0.9h-0.9zM115.3 22.4h0.9v0.9h-0.9zM117.3 24.3h0.9v0.9h-0.9zM114.3 21.6h0.9v0.9h-0.9zM119.1 21.6h0.9v0.9h-0.9zM117.8 21.5h0.9v0.9h-0.9zM122.6 20.6h0.9v0.9h-0.9zM116.4 21.1h0.9v0.9h-0.9zM115.8 16.8h0.9v0.9h-0.9zM113.2 21.9h0.9v0.9h-0.9zM116.0 20.8h0.9v0.9h-0.9zM125.5 17.5h0.9v0.9h-0.9z" fill="#222" fill-opacity="0.4"/>
<path d="M121.4 27.9h0.9v0.9h-0.9zM114.3 22.1h0.9v0.9h-0.9zM122.9 20.9h0.9v0.9h-0.9zM122.1 23.1h0.9v0.9h-0.9zM111.8 22.4h0.9v0.9h-0.9zM111.4 25.8h0.9v0.9h-0.9zM118.1 16.5h0.9v0.9h-0.9zM109.6 21.1h0.9v0.9h-0.9zM126.8 18.2h0.9v0.9h-0.9zM113.7 18.8h0.9v0.9h-0.9zM108.4 24.8h0.9v0.9h-0.9zM112.7 19.3h0.9v0.9h-0.9zM116.1 27.2h0.9v0.9h-0.9zM115.2 23.2h0.9v0.9h-0.9zM103.6 29.6h0.9v0.9h-0.9zM112.9 21.5h0.9v0.9h-0.9zM107.7 27.7h0.9v0.9h-0.9zM108.6 25.0h0.9v0.9h-0.9zM106.5 28.3h0.9v0.9h-0.9zM118.0 17.4h0.9v0.9h-0.9zM113.7 17.6h0.9v0.9h-0.9zM119.0 22.4h0.9v0.9h-0.9zM114.7 26.8h0.9v0.9h-0.9zM110.5 26.2h0.9v0.9h-0.9zM123.6 17.0h0.9v0.9h-0.9zM111.4 30.2h0.9v0.9h-0.9zM117.2 20.3h0.9v0.9h-0.9zM102.0 24.1h0.9v0.9h-0.9zM110.0 32.5h0.9v0.9h-0.9zM114.8 19.5h0.9v0.9h-0.9zM123.7 23.0h0.9v0.9h-0.9zM111.5 27.3h0.9v0.9h-0.9zM107.2 29.8h0.9v0.9h-0.9zM121.6 12.6h0.9v0.9h-0.9zM114.0 21.0h0.9v0.9h-0.9zM114.6 23.5h0.9v0.9h-0.9zM118.1 24.5h0.9v0.9h-0.9zM119.6 24.1h0.9v0.9h-0.9zM122.3 22.5h0.9v0.9h-0.9zM112.3 26.5h0.9v0.9h-0.9z" fill="#222" fill-opacity="0.3"/>
<path d="M137.7 19.9h0.9v0.9h-0.9zM152.3 23.3h0.9v0.9h-0.9zM140.3 16.2h0.9v0.9h-0.9zM138.6 24.7h0.9v0.9h-0.9zM138.8 20.8h0.9v0.9h-0.9zM149.3 21.5h0.9v0.9h-0.9zM138.0 22.1h0.9v0.9h-0.9zM138.6 25.5h0.9v0.9h-0.9zM143.6 22.2h0.9v0.9h-0.9zM137.8 21.7h0.9v0.9h-0.9zM150.6 21.5h0.9v0.9h-0.9zM144.1 17.8h0.9v0.9h-0.9zM142.1 24.4h0.9v0.9h-0.9zM148.0 23.3h0.9v0.9h-0.9zM143.7 23.3h0.9v0.9h-0.9zM146.7 28.4h0.9v0.9h-0.9zM141.3 20.0h0.9v0.9h-0.9zM143.8 22.1h0.9v0.9h-0.9zM144.0 24.7h0.9v0.9h-0.9zM141.0 21.1h0.9v0.9h-0.9zM142.0 18.8h0.9v0.9h-0.9zM141.8 19.8h0.9v0.9h-0.9zM142.9 22.8h0.9v0.9h-0.9zM138.7 18.9h0.9v0.9h-0.9zM140.4 20.4h0.9v0.9h-0.9zM139.2 24.4h0.9v0.9h-0.9zM146.0 18.6h0.9v0.9h-0.9zM145.9 26.4h0.9v0.9h-0.9zM147.1 23.2h0.9v0.9h-0.9zM139.5 27.5h0.9v0.9h-0.9zM138.1 17.9h0.9v0.9h-0.9zM140.6 23.2h0.9v0.9h-0.9zM133.6 18.8h0.9v0.9h-0.9zM152.4 22.7h0.9v0.9h-0.9zM144.9 20.7h0.9v0.9h-0.9zM130.6 21.9h0.9v0.9h-0.9zM148.4 20.4h0.9v0.9h-0.9zM128.9 21.9h0.9v0.9h-0.9zM138.3 22.4h0.9v0.9h-0.9zM133.6 21.5h0.9v0.9h-0.9zM136.7 25.0h0.9v0.9h-0.9zM141.0 25.0h0.9v0.9h-0.9zM139.8 16.2h0.9v0.9h-0.9zM127.9 24.0h0.9v0.9h-0.9zM145.5 25.0h0.9v0.9h-0.9zM139.6 17.2h0.9v0.9h-0.9zM137.0 23.6h0.9v0.9h-0.9zM148.6 21.4h0.9v0.9h-0.9zM136.6 20.1h0.9v0.9h-0.9zM146.4 24.9h0.9v0.9h-0.9zM128.7 26.0h0.9v0.9h-0.9zM134.3 18.1h0.9v0.9h-0.9zM130.2 20.3h0.9v0.9h-0.9zM154.5 29.9h0.9v0.9h-0.9zM132.3 20.4h0.9v0.9h-0.9zM141.1 23.6h0.9v0.9h-0.9zM137.1 17.8h0.9v0.9h-0.9zM137.5 20.4h0.9v0.9h-0.9zM128.9 22.8h0.9v0.9h-0.9zM131.0 17.3h0.9v0.9h-0.9zM149.5 25.2h0.9v0.9h-0.9zM149.1 22.7h0.9v0.9h-0.9zM137.5 22.1h0.9v0.9h-0.9zM131.6 24.6h0.9v0.9h-0.9zM141.8 21.5h0.9v0.9h-0.9zM128.4 22.1h0.9v0.9h-0.9zM150.2 26.6h0.9v0.9h-0.9zM145.5 21.4h0.9v0.9h-0.9zM140.9 24.0h0.9v0.9h-0.9zM141.3 25.5h0.9v0.9h-0.9z" fill="#222" fill-opacity="0.2"/>
<ellipse cx="115.9" cy="22.0" rx="8.4" ry="5.0" fill="url(#gl)" fill-opacity="0.9" transform="rotate(-33 115.9 22.0)"/>
<ellipse cx="140" cy="22.4" rx="7" ry="3.5" fill="url(#gl)" fill-opacity="0.16" transform="rotate(0 140 22.4)"/>
<ellipse cx="115.9" cy="22.0" rx="5.6" ry="3.0" fill="#000" fill-opacity="1.0" filter="url(#bl5)" transform="rotate(-33 115.9 22.0)"/>
<ellipse cx="115.9" cy="22.0" rx="4.4" ry="2.3" fill="#000" fill-opacity="1.0" filter="url(#bl5)" transform="rotate(-33 115.9 22.0)"/>
<line x1="162.2" y1="11.0" x2="162.2" y2="71.7" stroke="#777" stroke-width="0.8"/>
<line x1="100.7" y1="71.7" x2="162.6" y2="71.7" stroke="#666" stroke-width="0.8"/>
<line x1="100.7" y1="10.5" x2="100.7" y2="72.10000000000001" stroke="#222" stroke-width="1.1"/>
<line x1="100.2" y1="11.0" x2="162.6" y2="11.0" stroke="#333" stroke-width="1.0"/>
<line x1="98.5" y1="11.0" x2="100.7" y2="11.0" stroke="#1a1a1a" stroke-width="0.9"/>
<line x1="99.7" y1="21.622500000000002" x2="100.7" y2="21.622500000000002" stroke="#555" stroke-width="0.4"/>
<line x1="99.7" y1="18.891000000000002" x2="100.7" y2="18.891000000000002" stroke="#555" stroke-width="0.4"/>
<line x1="99.7" y1="17.07" x2="100.7" y2="17.07" stroke="#555" stroke-width="0.4"/>
<line x1="99.7" y1="15.552500000000002" x2="100.7" y2="15.552500000000002" stroke="#555" stroke-width="0.4"/>
<line x1="99.7" y1="14.3385" x2="100.7" y2="14.3385" stroke="#555" stroke-width="0.4"/>
<line x1="99.7" y1="13.276250000000001" x2="100.7" y2="13.276250000000001" stroke="#555" stroke-width="0.4"/>
<line x1="99.7" y1="12.5175" x2="100.7" y2="12.5175" stroke="#555" stroke-width="0.4"/>
<line x1="99.7" y1="11.758750000000001" x2="100.7" y2="11.758750000000001" stroke="#555" stroke-width="0.4"/>
<line x1="98.5" y1="26.175" x2="100.7" y2="26.175" stroke="#1a1a1a" stroke-width="0.9"/>
<line x1="99.7" y1="36.7975" x2="100.7" y2="36.7975" stroke="#555" stroke-width="0.4"/>
<line x1="99.7" y1="34.066" x2="100.7" y2="34.066" stroke="#555" stroke-width="0.4"/>
<line x1="99.7" y1="32.245000000000005" x2="100.7" y2="32.245000000000005" stroke="#555" stroke-width="0.4"/>
<line x1="99.7" y1="30.727500000000003" x2="100.7" y2="30.727500000000003" stroke="#555" stroke-width="0.4"/>
<line x1="99.7" y1="29.5135" x2="100.7" y2="29.5135" stroke="#555" stroke-width="0.4"/>
<line x1="99.7" y1="28.45125" x2="100.7" y2="28.45125" stroke="#555" stroke-width="0.4"/>
<line x1="99.7" y1="27.6925" x2="100.7" y2="27.6925" stroke="#555" stroke-width="0.4"/>
<line x1="99.7" y1="26.93375" x2="100.7" y2="26.93375" stroke="#555" stroke-width="0.4"/>
<line x1="98.5" y1="41.35" x2="100.7" y2="41.35" stroke="#1a1a1a" stroke-width="0.9"/>
<line x1="99.7" y1="51.972500000000004" x2="100.7" y2="51.972500000000004" stroke="#555" stroke-width="0.4"/>
<line x1="99.7" y1="49.241" x2="100.7" y2="49.241" stroke="#555" stroke-width="0.4"/>
<line x1="99.7" y1="47.42" x2="100.7" y2="47.42" stroke="#555" stroke-width="0.4"/>
<line x1="99.7" y1="45.9025" x2="100.7" y2="45.9025" stroke="#555" stroke-width="0.4"/>
<line x1="99.7" y1="44.688500000000005" x2="100.7" y2="44.688500000000005" stroke="#555" stroke-width="0.4"/>
<line x1="99.7" y1="43.62625" x2="100.7" y2="43.62625" stroke="#555" stroke-width="0.4"/>
<line x1="99.7" y1="42.8675" x2="100.7" y2="42.8675" stroke="#555" stroke-width="0.4"/>
<line x1="99.7" y1="42.10875" x2="100.7" y2="42.10875" stroke="#555" stroke-width="0.4"/>
<line x1="98.5" y1="56.525000000000006" x2="100.7" y2="56.525000000000006" stroke="#1a1a1a" stroke-width="0.9"/>
<line x1="99.7" y1="67.14750000000001" x2="100.7" y2="67.14750000000001" stroke="#555" stroke-width="0.4"/>
<line x1="99.7" y1="64.41600000000001" x2="100.7" y2="64.41600000000001" stroke="#555" stroke-width="0.4"/>
<line x1="99.7" y1="62.595000000000006" x2="100.7" y2="62.595000000000006" stroke="#555" stroke-width="0.4"/>
<line x1="99.7" y1="61.07750000000001" x2="100.7" y2="61.07750000000001" stroke="#555" stroke-width="0.4"/>
<line x1="99.7" y1="59.8635" x2="100.7" y2="59.8635" stroke="#555" stroke-width="0.4"/>
<line x1="99.7" y1="58.80125" x2="100.7" y2="58.80125" stroke="#555" stroke-width="0.4"/>
<line x1="99.7" y1="58.042500000000004" x2="100.7" y2="58.042500000000004" stroke="#555" stroke-width="0.4"/>
<line x1="99.7" y1="57.283750000000005" x2="100.7" y2="57.283750000000005" stroke="#555" stroke-width="0.4"/>
<line x1="98.5" y1="71.7" x2="100.7" y2="71.7" stroke="#1a1a1a" stroke-width="0.9"/>
<line x1="100.7" y1="71.7" x2="100.7" y2="73.9" stroke="#1a1a1a" stroke-width="0.9"/>
<line x1="105.3125" y1="71.7" x2="105.3125" y2="72.7" stroke="#555" stroke-width="0.4"/>
<line x1="108.08" y1="71.7" x2="108.08" y2="72.7" stroke="#555" stroke-width="0.4"/>
<line x1="109.925" y1="71.7" x2="109.925" y2="72.7" stroke="#555" stroke-width="0.4"/>
<line x1="111.4625" y1="71.7" x2="111.4625" y2="72.7" stroke="#555" stroke-width="0.4"/>
<line x1="112.6925" y1="71.7" x2="112.6925" y2="72.7" stroke="#555" stroke-width="0.4"/>
<line x1="113.76875" y1="71.7" x2="113.76875" y2="72.7" stroke="#555" stroke-width="0.4"/>
<line x1="114.5375" y1="71.7" x2="114.5375" y2="72.7" stroke="#555" stroke-width="0.4"/>
<line x1="115.30625" y1="71.7" x2="115.30625" y2="72.7" stroke="#555" stroke-width="0.4"/>
<line x1="116.075" y1="71.7" x2="116.075" y2="73.9" stroke="#1a1a1a" stroke-width="0.9"/>
<line x1="120.6875" y1="71.7" x2="120.6875" y2="72.7" stroke="#555" stroke-width="0.4"/>
<line x1="123.455" y1="71.7" x2="123.455" y2="72.7" stroke="#555" stroke-width="0.4"/>
<line x1="125.3" y1="71.7" x2="125.3" y2="72.7" stroke="#555" stroke-width="0.4"/>
<line x1="126.8375" y1="71.7" x2="126.8375" y2="72.7" stroke="#555" stroke-width="0.4"/>
<line x1="128.0675" y1="71.7" x2="128.0675" y2="72.7" stroke="#555" stroke-width="0.4"/>
<line x1="129.14375" y1="71.7" x2="129.14375" y2="72.7" stroke="#555" stroke-width="0.4"/>
<line x1="129.9125" y1="71.7" x2="129.9125" y2="72.7" stroke="#555" stroke-width="0.4"/>
<line x1="130.68125" y1="71.7" x2="130.68125" y2="72.7" stroke="#555" stroke-width="0.4"/>
<line x1="131.45" y1="71.7" x2="131.45" y2="73.9" stroke="#1a1a1a" stroke-width="0.9"/>
<line x1="136.0625" y1="71.7" x2="136.0625" y2="72.7" stroke="#555" stroke-width="0.4"/>
<line x1="138.82999999999998" y1="71.7" x2="138.82999999999998" y2="72.7" stroke="#555" stroke-width="0.4"/>
<line x1="140.67499999999998" y1="71.7" x2="140.67499999999998" y2="72.7" stroke="#555" stroke-width="0.4"/>
<line x1="142.21249999999998" y1="71.7" x2="142.21249999999998" y2="72.7" stroke="#555" stroke-width="0.4"/>
<line x1="143.4425" y1="71.7" x2="143.4425" y2="72.7" stroke="#555" stroke-width="0.4"/>
<line x1="144.51874999999998" y1="71.7" x2="144.51874999999998" y2="72.7" stroke="#555" stroke-width="0.4"/>
<line x1="145.2875" y1="71.7" x2="145.2875" y2="72.7" stroke="#555" stroke-width="0.4"/>
<line x1="146.05624999999998" y1="71.7" x2="146.05624999999998" y2="72.7" stroke="#555" stroke-width="0.4"/>
<line x1="146.825" y1="71.7" x2="146.825" y2="73.9" stroke="#1a1a1a" stroke-width="0.9"/>
<line x1="151.4375" y1="71.7" x2="151.4375" y2="72.7" stroke="#555" stroke-width="0.4"/>
<line x1="154.20499999999998" y1="71.7" x2="154.20499999999998" y2="72.7" stroke="#555" stroke-width="0.4"/>
<line x1="156.04999999999998" y1="71.7" x2="156.04999999999998" y2="72.7" stroke="#555" stroke-width="0.4"/>
<line x1="157.58749999999998" y1="71.7" x2="157.58749999999998" y2="72.7" stroke="#555" stroke-width="0.4"/>
<line x1="158.8175" y1="71.7" x2="158.8175" y2="72.7" stroke="#555" stroke-width="0.4"/>
<line x1="159.89374999999998" y1="71.7" x2="159.89374999999998" y2="72.7" stroke="#555" stroke-width="0.4"/>
<line x1="160.6625" y1="71.7" x2="160.6625" y2="72.7" stroke="#555" stroke-width="0.4"/>
<line x1="161.43124999999998" y1="71.7" x2="161.43124999999998" y2="72.7" stroke="#555" stroke-width="0.4"/>
<line x1="162.2" y1="71.7" x2="162.2" y2="73.9" stroke="#1a1a1a" stroke-width="0.9"/>
<rect x="94.10000000000001" y="10.5" width="2.5" height="2.0" fill="#333" fill-opacity="0.8"/>
<rect x="96.8" y="9.3" width="1.3" height="1.3" fill="#333" fill-opacity="0.7"/>
<rect x="94.10000000000001" y="25.675" width="2.5" height="2.0" fill="#333" fill-opacity="0.8"/>
<rect x="96.8" y="24.475" width="1.3" height="1.3" fill="#333" fill-opacity="0.7"/>
<rect x="94.10000000000001" y="40.85" width="2.5" height="2.0" fill="#333" fill-opacity="0.8"/>
<rect x="96.8" y="39.65" width="1.3" height="1.3" fill="#333" fill-opacity="0.7"/>
<rect x="94.10000000000001" y="56.025000000000006" width="2.5" height="2.0" fill="#333" fill-opacity="0.8"/>
<rect x="96.8" y="54.825" width="1.3" height="1.3" fill="#333" fill-opacity="0.7"/>
<rect x="94.10000000000001" y="71.2" width="2.5" height="2.0" fill="#333" fill-opacity="0.8"/>
<rect x="96.8" y="70.0" width="1.3" height="1.3" fill="#333" fill-opacity="0.7"/>
<rect x="100.7" y="77.5" width="2.4" height="2.0" fill="#333" fill-opacity="0.8"/>
<rect x="103.2" y="76.4" width="1.2" height="1.3" fill="#333" fill-opacity="0.7"/>
<rect x="116.075" y="77.5" width="2.4" height="2.0" fill="#333" fill-opacity="0.8"/>
<rect x="118.575" y="76.4" width="1.2" height="1.3" fill="#333" fill-opacity="0.7"/>
<rect x="131.45" y="77.5" width="2.4" height="2.0" fill="#333" fill-opacity="0.8"/>
<rect x="133.95" y="76.4" width="1.2" height="1.3" fill="#333" fill-opacity="0.7"/>
<rect x="146.825" y="77.5" width="2.4" height="2.0" fill="#333" fill-opacity="0.8"/>
<rect x="149.325" y="76.4" width="1.2" height="1.3" fill="#333" fill-opacity="0.7"/>
<rect x="162.2" y="77.5" width="2.4" height="2.0" fill="#333" fill-opacity="0.8"/>
<rect x="164.7" y="76.4" width="1.2" height="1.3" fill="#333" fill-opacity="0.7"/>
<path d="M135.0 11.9 L162.2 11.9 L162.2 33.2 L125.1 33.2 Z" fill="none" stroke="#222" stroke-width="1.0"/>
<line x1="162.79999999999998" y1="11.9" x2="162.79999999999998" y2="33.199999999999996" stroke="#666" stroke-width="1.0"/>
<text transform="translate(131.5 8.2)" font-size="8.0" font-weight="bold" text-anchor="middle" fill="#1a1a1a" stroke="#1a1a1a" stroke-width="0.3">target cells alone</text>
<text transform="translate(159.79999999999998 40.8)" font-size="8.1" font-weight="bold" text-anchor="end" fill="#1a1a1a" stroke="#1a1a1a" stroke-width="0.3">5.00</text>
<path d="M195.9 19.3h0.9v0.9h-0.9zM191.6 26.2h0.9v0.9h-0.9zM197.3 26.7h0.9v0.9h-0.9zM205.0 19.6h0.9v0.9h-0.9zM203.2 21.0h0.9v0.9h-0.9zM201.2 20.8h0.9v0.9h-0.9zM201.4 25.4h0.9v0.9h-0.9zM200.3 22.7h0.9v0.9h-0.9zM206.7 21.2h0.9v0.9h-0.9zM200.2 23.6h0.9v0.9h-0.9zM197.9 24.8h0.9v0.9h-0.9zM202.3 21.4h0.9v0.9h-0.9zM202.3 22.5h0.9v0.9h-0.9zM191.4 26.6h0.9v0.9h-0.9zM200.9 21.0h0.9v0.9h-0.9zM197.6 24.0h0.9v0.9h-0.9zM206.5 17.9h0.9v0.9h-0.9zM198.3 22.8h0.9v0.9h-0.9zM197.7 25.9h0.9v0.9h-0.9zM199.0 26.3h0.9v0.9h-0.9zM205.2 21.1h0.9v0.9h-0.9zM204.7 19.5h0.9v0.9h-0.9zM195.0 26.2h0.9v0.9h-0.9zM201.4 17.7h0.9v0.9h-0.9zM198.4 27.2h0.9v0.9h-0.9zM204.6 23.7h0.9v0.9h-0.9zM203.7 20.7h0.9v0.9h-0.9zM203.9 22.8h0.9v0.9h-0.9zM200.9 21.8h0.9v0.9h-0.9zM201.9 20.8h0.9v0.9h-0.9zM208.6 14.9h0.9v0.9h-0.9zM194.3 23.3h0.9v0.9h-0.9zM204.4 18.9h0.9v0.9h-0.9zM201.5 21.4h0.9v0.9h-0.9zM200.3 18.7h0.9v0.9h-0.9zM200.8 20.9h0.9v0.9h-0.9zM205.9 20.8h0.9v0.9h-0.9zM195.6 23.3h0.9v0.9h-0.9zM204.8 23.1h0.9v0.9h-0.9zM203.7 20.0h0.9v0.9h-0.9zM202.0 15.0h0.9v0.9h-0.9zM198.1 21.6h0.9v0.9h-0.9zM198.4 25.7h0.9v0.9h-0.9zM202.6 22.1h0.9v0.9h-0.9zM201.6 23.7h0.9v0.9h-0.9zM203.2 19.2h0.9v0.9h-0.9zM203.3 18.1h0.9v0.9h-0.9zM205.7 15.4h0.9v0.9h-0.9zM198.8 20.8h0.9v0.9h-0.9zM203.1 24.6h0.9v0.9h-0.9zM201.0 27.4h0.9v0.9h-0.9zM206.7 19.5h0.9v0.9h-0.9zM200.4 25.3h0.9v0.9h-0.9zM190.2 27.5h0.9v0.9h-0.9zM204.6 19.8h0.9v0.9h-0.9zM209.0 14.9h0.9v0.9h-0.9zM196.3 24.9h0.9v0.9h-0.9zM205.5 24.1h0.9v0.9h-0.9zM195.3 26.7h0.9v0.9h-0.9zM204.8 17.8h0.9v0.9h-0.9zM198.0 20.9h0.9v0.9h-0.9zM205.0 21.9h0.9v0.9h-0.9zM203.6 21.2h0.9v0.9h-0.9zM204.6 19.6h0.9v0.9h-0.9zM204.9 22.0h0.9v0.9h-0.9zM206.5 20.0h0.9v0.9h-0.9zM202.5 23.3h0.9v0.9h-0.9zM193.5 22.5h0.9v0.9h-0.9zM207.1 18.5h0.9v0.9h-0.9zM196.8 23.6h0.9v0.9h-0.9zM200.8 22.7h0.9v0.9h-0.9zM199.9 25.9h0.9v0.9h-0.9zM199.0 31.7h0.9v0.9h-0.9zM199.6 28.0h0.9v0.9h-0.9zM201.4 17.3h0.9v0.9h-0.9zM197.0 25.2h0.9v0.9h-0.9zM201.6 20.7h0.9v0.9h-0.9zM201.5 22.5h0.9v0.9h-0.9zM197.3 25.0h0.9v0.9h-0.9zM208.4 15.4h0.9v0.9h-0.9zM198.6 25.9h0.9v0.9h-0.9zM207.4 20.9h0.9v0.9h-0.9zM198.9 23.6h0.9v0.9h-0.9zM201.7 21.3h0.9v0.9h-0.9zM204.1 23.3h0.9v0.9h-0.9zM203.2 20.8h0.9v0.9h-0.9zM202.9 26.1h0.9v0.9h-0.9zM199.6 29.1h0.9v0.9h-0.9zM204.0 20.6h0.9v0.9h-0.9zM201.1 27.5h0.9v0.9h-0.9zM206.8 21.0h0.9v0.9h-0.9zM206.2 13.6h0.9v0.9h-0.9zM201.2 21.3h0.9v0.9h-0.9zM198.8 24.1h0.9v0.9h-0.9zM203.9 21.9h0.9v0.9h-0.9zM199.0 19.9h0.9v0.9h-0.9zM204.0 22.0h0.9v0.9h-0.9zM210.0 18.8h0.9v0.9h-0.9zM199.8 19.9h0.9v0.9h-0.9zM210.0 14.2h0.9v0.9h-0.9zM202.9 23.1h0.9v0.9h-0.9zM204.8 23.5h0.9v0.9h-0.9zM196.6 23.3h0.9v0.9h-0.9zM200.2 19.3h0.9v0.9h-0.9zM200.9 26.4h0.9v0.9h-0.9zM202.2 21.2h0.9v0.9h-0.9zM199.3 23.7h0.9v0.9h-0.9zM199.7 20.1h0.9v0.9h-0.9zM202.4 17.7h0.9v0.9h-0.9zM205.4 18.4h0.9v0.9h-0.9zM191.0 24.7h0.9v0.9h-0.9zM201.1 19.8h0.9v0.9h-0.9zM209.6 20.4h0.9v0.9h-0.9zM210.0 18.8h0.9v0.9h-0.9zM205.3 17.7h0.9v0.9h-0.9zM205.3 18.1h0.9v0.9h-0.9zM199.2 19.6h0.9v0.9h-0.9zM202.0 22.8h0.9v0.9h-0.9zM199.5 20.2h0.9v0.9h-0.9zM205.7 21.7h0.9v0.9h-0.9zM202.0 23.9h0.9v0.9h-0.9zM203.5 17.8h0.9v0.9h-0.9zM198.6 18.6h0.9v0.9h-0.9zM198.1 25.6h0.9v0.9h-0.9zM198.6 25.1h0.9v0.9h-0.9zM199.8 17.2h0.9v0.9h-0.9zM201.5 26.3h0.9v0.9h-0.9zM201.5 22.4h0.9v0.9h-0.9zM196.6 20.8h0.9v0.9h-0.9zM199.4 31.7h0.9v0.9h-0.9zM199.4 20.9h0.9v0.9h-0.9zM199.0 18.1h0.9v0.9h-0.9zM208.6 22.1h0.9v0.9h-0.9zM199.0 24.7h0.9v0.9h-0.9zM199.2 26.1h0.9v0.9h-0.9zM198.0 24.0h0.9v0.9h-0.9zM206.7 20.0h0.9v0.9h-0.9zM198.0 20.0h0.9v0.9h-0.9zM197.1 28.5h0.9v0.9h-0.9zM203.2 21.0h0.9v0.9h-0.9zM206.0 19.4h0.9v0.9h-0.9zM198.5 23.8h0.9v0.9h-0.9zM200.9 22.4h0.9v0.9h-0.9zM211.0 17.1h0.9v0.9h-0.9zM201.9 21.0h0.9v0.9h-0.9zM197.4 21.9h0.9v0.9h-0.9zM193.8 25.9h0.9v0.9h-0.9zM193.2 22.3h0.9v0.9h-0.9zM195.1 20.5h0.9v0.9h-0.9zM207.9 21.2h0.9v0.9h-0.9zM200.5 28.6h0.9v0.9h-0.9zM200.2 15.5h0.9v0.9h-0.9zM200.0 20.1h0.9v0.9h-0.9zM194.6 26.0h0.9v0.9h-0.9zM206.0 20.2h0.9v0.9h-0.9zM195.0 24.5h0.9v0.9h-0.9zM200.0 26.3h0.9v0.9h-0.9zM199.6 20.5h0.9v0.9h-0.9zM195.3 20.5h0.9v0.9h-0.9zM199.4 26.0h0.9v0.9h-0.9zM194.6 27.3h0.9v0.9h-0.9zM201.9 24.1h0.9v0.9h-0.9zM198.3 26.8h0.9v0.9h-0.9zM210.0 22.8h0.9v0.9h-0.9zM195.3 26.2h0.9v0.9h-0.9zM200.6 22.9h0.9v0.9h-0.9zM198.8 26.3h0.9v0.9h-0.9zM211.8 19.3h0.9v0.9h-0.9zM197.0 23.4h0.9v0.9h-0.9zM204.1 20.6h0.9v0.9h-0.9z" fill="#222" fill-opacity="0.4"/>
<path d="M198.6 29.5h0.9v0.9h-0.9zM205.1 24.2h0.9v0.9h-0.9zM201.8 27.5h0.9v0.9h-0.9zM195.5 21.7h0.9v0.9h-0.9zM197.4 19.2h0.9v0.9h-0.9zM208.4 20.7h0.9v0.9h-0.9zM191.5 29.9h0.9v0.9h-0.9zM204.1 19.0h0.9v0.9h-0.9zM201.3 20.0h0.9v0.9h-0.9zM199.7 23.2h0.9v0.9h-0.9zM200.9 18.6h0.9v0.9h-0.9zM194.8 28.3h0.9v0.9h-0.9zM198.5 26.5h0.9v0.9h-0.9zM194.9 21.2h0.9v0.9h-0.9zM204.7 21.2h0.9v0.9h-0.9zM203.5 19.5h0.9v0.9h-0.9zM200.8 28.2h0.9v0.9h-0.9zM194.6 34.4h0.9v0.9h-0.9zM202.9 21.1h0.9v0.9h-0.9zM201.9 24.6h0.9v0.9h-0.9zM196.6 26.8h0.9v0.9h-0.9zM191.4 21.3h0.9v0.9h-0.9zM201.5 22.7h0.9v0.9h-0.9zM204.8 22.4h0.9v0.9h-0.9zM205.6 22.9h0.9v0.9h-0.9zM196.9 30.6h0.9v0.9h-0.9zM213.5 11.7h0.9v0.9h-0.9zM194.8 29.8h0.9v0.9h-0.9zM207.2 22.7h0.9v0.9h-0.9zM205.8 13.5h0.9v0.9h-0.9zM203.2 23.1h0.9v0.9h-0.9zM205.2 16.0h0.9v0.9h-0.9zM199.6 22.0h0.9v0.9h-0.9zM199.1 23.4h0.9v0.9h-0.9zM195.9 18.6h0.9v0.9h-0.9zM200.2 23.5h0.9v0.9h-0.9zM191.1 14.3h0.9v0.9h-0.9zM195.2 23.9h0.9v0.9h-0.9zM198.7 31.0h0.9v0.9h-0.9zM204.8 19.2h0.9v0.9h-0.9z" fill="#222" fill-opacity="0.3"/>
<path d="M222.4 32.3h0.9v0.9h-0.9zM216.2 25.2h0.9v0.9h-0.9zM217.7 27.7h0.9v0.9h-0.9zM224.4 23.7h0.9v0.9h-0.9zM222.4 22.0h0.9v0.9h-0.9zM213.8 26.1h0.9v0.9h-0.9zM226.4 23.2h0.9v0.9h-0.9zM217.9 19.5h0.9v0.9h-0.9zM228.4 21.0h0.9v0.9h-0.9zM216.2 23.5h0.9v0.9h-0.9zM224.8 24.1h0.9v0.9h-0.9zM219.9 24.1h0.9v0.9h-0.9zM223.3 23.9h0.9v0.9h-0.9zM220.6 23.8h0.9v0.9h-0.9zM215.7 27.4h0.9v0.9h-0.9zM217.3 20.7h0.9v0.9h-0.9zM218.3 24.1h0.9v0.9h-0.9zM223.2 20.3h0.9v0.9h-0.9zM215.0 24.4h0.9v0.9h-0.9zM221.5 21.2h0.9v0.9h-0.9zM215.6 24.4h0.9v0.9h-0.9zM219.4 19.9h0.9v0.9h-0.9zM216.6 27.7h0.9v0.9h-0.9zM215.9 26.6h0.9v0.9h-0.9zM214.0 27.7h0.9v0.9h-0.9zM226.3 22.4h0.9v0.9h-0.9zM217.3 25.6h0.9v0.9h-0.9zM215.1 25.4h0.9v0.9h-0.9zM224.8 24.7h0.9v0.9h-0.9zM221.3 23.6h0.9v0.9h-0.9zM223.9 21.9h0.9v0.9h-0.9zM226.2 23.9h0.9v0.9h-0.9zM218.7 19.9h0.9v0.9h-0.9zM218.3 24.6h0.9v0.9h-0.9zM224.9 19.9h0.9v0.9h-0.9zM219.5 22.3h0.9v0.9h-0.9zM215.3 24.0h0.9v0.9h-0.9zM217.0 26.2h0.9v0.9h-0.9zM209.4 25.9h0.9v0.9h-0.9zM212.5 19.1h0.9v0.9h-0.9zM222.0 23.1h0.9v0.9h-0.9zM220.5 21.6h0.9v0.9h-0.9zM215.9 22.2h0.9v0.9h-0.9zM219.8 21.9h0.9v0.9h-0.9zM218.4 21.8h0.9v0.9h-0.9zM220.9 21.1h0.9v0.9h-0.9zM211.8 17.4h0.9v0.9h-0.9zM219.9 24.2h0.9v0.9h-0.9zM223.8 22.1h0.9v0.9h-0.9zM215.5 20.3h0.9v0.9h-0.9zM223.0 22.4h0.9v0.9h-0.9zM223.9 23.8h0.9v0.9h-0.9zM218.9 19.3h0.9v0.9h-0.9zM217.4 26.0h0.9v0.9h-0.9zM217.6 25.7h0.9v0.9h-0.9zM213.6 26.5h0.9v0.9h-0.9zM230.9 26.8h0.9v0.9h-0.9zM221.3 20.9h0.9v0.9h-0.9zM217.9 22.4h0.9v0.9h-0.9zM220.7 18.9h0.9v0.9h-0.9zM216.6 26.0h0.9v0.9h-0.9zM220.6 25.9h0.9v0.9h-0.9zM223.3 21.1h0.9v0.9h-0.9zM214.7 25.2h0.9v0.9h-0.9zM220.1 24.2h0.9v0.9h-0.9zM216.8 26.6h0.9v0.9h-0.9zM221.9 26.9h0.9v0.9h-0.9zM218.6 25.7h0.9v0.9h-0.9zM219.8 21.6h0.9v0.9h-0.9zM219.7 19.8h0.9v0.9h-0.9zM219.3 24.4h0.9v0.9h-0.9zM222.7 21.4h0.9v0.9h-0.9zM214.8 22.2h0.9v0.9h-0.9zM211.9 22.4h0.9v0.9h-0.9zM230.2 24.4h0.9v0.9h-0.9zM217.0 22.3h0.9v0.9h-0.9zM226.9 21.1h0.9v0.9h-0.9zM219.6 23.8h0.9v0.9h-0.9zM217.1 22.2h0.9v0.9h-0.9zM213.4 21.9h0.9v0.9h-0.9zM225.1 27.6h0.9v0.9h-0.9zM218.9 25.8h0.9v0.9h-0.9zM221.8 24.3h0.9v0.9h-0.9zM219.5 27.0h0.9v0.9h-0.9zM222.2 23.4h0.9v0.9h-0.9zM219.1 26.3h0.9v0.9h-0.9zM217.7 22.2h0.9v0.9h-0.9zM218.9 22.8h0.9v0.9h-0.9zM224.9 24.9h0.9v0.9h-0.9zM219.7 22.7h0.9v0.9h-0.9zM225.5 25.1h0.9v0.9h-0.9zM228.1 26.3h0.9v0.9h-0.9zM219.2 22.6h0.9v0.9h-0.9zM218.9 24.5h0.9v0.9h-0.9zM223.1 25.2h0.9v0.9h-0.9zM226.1 20.2h0.9v0.9h-0.9zM220.1 20.4h0.9v0.9h-0.9zM216.0 22.5h0.9v0.9h-0.9zM217.5 21.6h0.9v0.9h-0.9zM214.1 26.9h0.9v0.9h-0.9zM218.7 26.4h0.9v0.9h-0.9zM215.7 18.2h0.9v0.9h-0.9zM217.7 26.2h0.9v0.9h-0.9zM217.8 25.0h0.9v0.9h-0.9zM215.8 27.5h0.9v0.9h-0.9zM221.7 26.6h0.9v0.9h-0.9zM218.9 27.2h0.9v0.9h-0.9zM220.3 22.8h0.9v0.9h-0.9zM217.5 24.1h0.9v0.9h-0.9zM216.4 21.0h0.9v0.9h-0.9zM220.5 25.8h0.9v0.9h-0.9zM218.9 26.1h0.9v0.9h-0.9zM226.2 20.8h0.9v0.9h-0.9zM221.0 21.6h0.9v0.9h-0.9zM217.5 24.4h0.9v0.9h-0.9zM210.7 25.5h0.9v0.9h-0.9zM223.3 25.4h0.9v0.9h-0.9zM222.5 28.5h0.9v0.9h-0.9zM218.6 26.7h0.9v0.9h-0.9zM225.7 25.2h0.9v0.9h-0.9zM213.0 23.6h0.9v0.9h-0.9zM218.9 19.9h0.9v0.9h-0.9zM219.8 25.9h0.9v0.9h-0.9zM219.0 23.5h0.9v0.9h-0.9zM225.7 22.5h0.9v0.9h-0.9zM216.3 24.1h0.9v0.9h-0.9zM224.4 25.5h0.9v0.9h-0.9zM220.3 22.8h0.9v0.9h-0.9zM224.8 26.2h0.9v0.9h-0.9zM213.2 24.8h0.9v0.9h-0.9zM210.6 27.7h0.9v0.9h-0.9zM222.4 22.4h0.9v0.9h-0.9zM215.0 23.2h0.9v0.9h-0.9zM213.1 25.4h0.9v0.9h-0.9zM218.0 19.6h0.9v0.9h-0.9zM219.9 27.0h0.9v0.9h-0.9zM215.0 23.1h0.9v0.9h-0.9zM227.1 24.5h0.9v0.9h-0.9zM217.8 24.5h0.9v0.9h-0.9zM223.0 21.5h0.9v0.9h-0.9zM219.6 19.9h0.9v0.9h-0.9zM213.8 20.1h0.9v0.9h-0.9zM223.3 24.8h0.9v0.9h-0.9zM222.9 27.0h0.9v0.9h-0.9zM220.2 24.6h0.9v0.9h-0.9zM221.6 25.2h0.9v0.9h-0.9zM215.8 23.3h0.9v0.9h-0.9zM219.4 24.1h0.9v0.9h-0.9zM217.1 23.7h0.9v0.9h-0.9zM221.1 24.5h0.9v0.9h-0.9zM222.3 26.1h0.9v0.9h-0.9zM222.2 26.4h0.9v0.9h-0.9zM223.3 27.5h0.9v0.9h-0.9zM222.5 22.4h0.9v0.9h-0.9zM229.1 26.8h0.9v0.9h-0.9zM224.9 25.8h0.9v0.9h-0.9zM220.2 21.1h0.9v0.9h-0.9zM221.7 23.1h0.9v0.9h-0.9zM218.4 18.6h0.9v0.9h-0.9zM226.1 21.1h0.9v0.9h-0.9zM215.7 25.2h0.9v0.9h-0.9zM222.2 22.0h0.9v0.9h-0.9zM220.0 24.6h0.9v0.9h-0.9zM220.6 25.3h0.9v0.9h-0.9zM223.0 23.1h0.9v0.9h-0.9zM213.7 29.4h0.9v0.9h-0.9zM218.5 21.5h0.9v0.9h-0.9zM222.9 25.5h0.9v0.9h-0.9zM217.6 29.9h0.9v0.9h-0.9zM210.8 27.2h0.9v0.9h-0.9zM219.8 24.8h0.9v0.9h-0.9zM221.2 23.4h0.9v0.9h-0.9zM221.2 20.7h0.9v0.9h-0.9zM218.4 28.6h0.9v0.9h-0.9zM209.9 27.1h0.9v0.9h-0.9zM211.3 21.9h0.9v0.9h-0.9zM223.4 23.0h0.9v0.9h-0.9zM217.7 20.2h0.9v0.9h-0.9zM219.5 23.6h0.9v0.9h-0.9zM217.5 20.1h0.9v0.9h-0.9zM220.6 25.0h0.9v0.9h-0.9zM224.5 25.3h0.9v0.9h-0.9zM225.9 27.0h0.9v0.9h-0.9zM208.9 28.2h0.9v0.9h-0.9zM219.6 21.4h0.9v0.9h-0.9zM221.7 26.4h0.9v0.9h-0.9zM213.9 20.9h0.9v0.9h-0.9zM222.7 22.6h0.9v0.9h-0.9zM225.7 24.5h0.9v0.9h-0.9zM217.8 20.7h0.9v0.9h-0.9zM222.3 19.7h0.9v0.9h-0.9zM214.9 20.7h0.9v0.9h-0.9zM226.7 28.3h0.9v0.9h-0.9zM219.1 23.0h0.9v0.9h-0.9zM222.7 27.1h0.9v0.9h-0.9zM216.8 29.5h0.9v0.9h-0.9zM219.2 26.8h0.9v0.9h-0.9zM210.7 23.9h0.9v0.9h-0.9zM217.3 29.0h0.9v0.9h-0.9zM219.2 20.8h0.9v0.9h-0.9zM227.6 22.3h0.9v0.9h-0.9zM220.0 20.9h0.9v0.9h-0.9zM222.6 24.5h0.9v0.9h-0.9zM218.9 23.0h0.9v0.9h-0.9zM217.8 22.2h0.9v0.9h-0.9zM214.5 27.0h0.9v0.9h-0.9zM223.5 20.5h0.9v0.9h-0.9zM215.4 25.0h0.9v0.9h-0.9zM228.9 23.5h0.9v0.9h-0.9zM218.8 23.4h0.9v0.9h-0.9zM221.0 23.6h0.9v0.9h-0.9zM224.2 26.5h0.9v0.9h-0.9zM222.2 27.9h0.9v0.9h-0.9zM219.1 22.6h0.9v0.9h-0.9zM231.7 19.2h0.9v0.9h-0.9zM213.9 18.1h0.9v0.9h-0.9zM221.4 21.3h0.9v0.9h-0.9zM224.2 18.7h0.9v0.9h-0.9zM219.5 23.0h0.9v0.9h-0.9zM215.8 26.8h0.9v0.9h-0.9zM218.4 25.1h0.9v0.9h-0.9zM217.9 24.4h0.9v0.9h-0.9zM218.2 24.2h0.9v0.9h-0.9zM219.6 22.3h0.9v0.9h-0.9zM221.7 23.5h0.9v0.9h-0.9zM216.2 21.4h0.9v0.9h-0.9zM221.7 27.3h0.9v0.9h-0.9zM214.9 22.9h0.9v0.9h-0.9zM221.8 26.6h0.9v0.9h-0.9zM222.8 21.0h0.9v0.9h-0.9zM220.1 26.3h0.9v0.9h-0.9zM220.9 23.4h0.9v0.9h-0.9zM215.4 24.4h0.9v0.9h-0.9zM219.7 24.1h0.9v0.9h-0.9zM225.9 27.0h0.9v0.9h-0.9zM216.9 24.6h0.9v0.9h-0.9zM218.8 24.2h0.9v0.9h-0.9zM226.4 26.3h0.9v0.9h-0.9zM220.2 22.3h0.9v0.9h-0.9zM219.4 24.9h0.9v0.9h-0.9z" fill="#222" fill-opacity="0.4"/>
<path d="M210.2 25.0h0.9v0.9h-0.9zM212.1 21.3h0.9v0.9h-0.9zM219.2 18.5h0.9v0.9h-0.9zM211.0 23.0h0.9v0.9h-0.9zM215.5 25.0h0.9v0.9h-0.9zM217.1 25.7h0.9v0.9h-0.9zM213.1 23.4h0.9v0.9h-0.9zM215.6 23.2h0.9v0.9h-0.9zM207.6 22.5h0.9v0.9h-0.9zM214.3 24.2h0.9v0.9h-0.9zM208.1 25.1h0.9v0.9h-0.9zM213.1 20.8h0.9v0.9h-0.9zM213.6 24.8h0.9v0.9h-0.9zM213.9 22.7h0.9v0.9h-0.9zM209.2 25.0h0.9v0.9h-0.9zM212.8 23.2h0.9v0.9h-0.9zM210.6 21.5h0.9v0.9h-0.9zM205.4 22.6h0.9v0.9h-0.9zM215.9 24.4h0.9v0.9h-0.9zM209.6 25.7h0.9v0.9h-0.9zM211.2 21.6h0.9v0.9h-0.9zM215.4 25.4h0.9v0.9h-0.9zM210.6 21.2h0.9v0.9h-0.9zM211.8 19.3h0.9v0.9h-0.9zM212.2 25.6h0.9v0.9h-0.9zM213.0 22.0h0.9v0.9h-0.9zM214.5 22.4h0.9v0.9h-0.9zM216.4 22.6h0.9v0.9h-0.9zM219.2 22.6h0.9v0.9h-0.9zM212.7 21.7h0.9v0.9h-0.9zM207.5 23.8h0.9v0.9h-0.9zM213.2 21.6h0.9v0.9h-0.9zM214.0 22.5h0.9v0.9h-0.9zM210.1 23.1h0.9v0.9h-0.9zM213.4 24.4h0.9v0.9h-0.9zM216.3 23.8h0.9v0.9h-0.9zM209.4 22.1h0.9v0.9h-0.9zM213.3 21.3h0.9v0.9h-0.9zM211.4 22.6h0.9v0.9h-0.9zM211.7 23.5h0.9v0.9h-0.9zM215.7 25.8h0.9v0.9h-0.9zM215.1 24.8h0.9v0.9h-0.9zM208.2 24.9h0.9v0.9h-0.9zM216.6 21.0h0.9v0.9h-0.9zM220.9 22.3h0.9v0.9h-0.9zM203.6 26.0h0.9v0.9h-0.9zM212.2 21.9h0.9v0.9h-0.9zM210.0 24.9h0.9v0.9h-0.9zM212.9 22.6h0.9v0.9h-0.9zM216.0 21.7h0.9v0.9h-0.9zM209.0 22.3h0.9v0.9h-0.9zM209.4 24.3h0.9v0.9h-0.9zM211.2 21.5h0.9v0.9h-0.9zM210.4 20.0h0.9v0.9h-0.9zM212.6 23.4h0.9v0.9h-0.9zM214.1 22.8h0.9v0.9h-0.9zM213.4 21.7h0.9v0.9h-0.9zM212.1 23.4h0.9v0.9h-0.9zM207.7 24.1h0.9v0.9h-0.9zM212.5 23.3h0.9v0.9h-0.9z" fill="#222" fill-opacity="0.3"/>
<ellipse cx="201.2" cy="22.2" rx="8.4" ry="5.0" fill="url(#gl)" fill-opacity="0.9" transform="rotate(-33 201.2 22.2)"/>
<ellipse cx="220" cy="24" rx="7.0" ry="5.0" fill="url(#gl)" fill-opacity="0.75" transform="rotate(0 220 24)"/>
<ellipse cx="212" cy="23.4" rx="5" ry="2.4" fill="url(#gl)" fill-opacity="0.4" transform="rotate(0 212 23.4)"/>
<ellipse cx="201.2" cy="22.2" rx="5.6" ry="3.0" fill="#000" fill-opacity="1.0" filter="url(#bl5)" transform="rotate(-33 201.2 22.2)"/>
<ellipse cx="201.2" cy="22.2" rx="4.4" ry="2.3" fill="#000" fill-opacity="1.0" filter="url(#bl5)" transform="rotate(-33 201.2 22.2)"/>
<ellipse cx="220" cy="24" rx="3.0" ry="2.5" fill="#000" fill-opacity="0.8" filter="url(#bl10)" transform="rotate(0 220 24)"/>
<ellipse cx="220" cy="24" rx="1.8" ry="1.6" fill="#000" fill-opacity="0.6" filter="url(#bl5)" transform="rotate(0 220 24)"/>
<line x1="239.2" y1="11.0" x2="239.2" y2="71.7" stroke="#777" stroke-width="0.8"/>
<line x1="178.0" y1="71.7" x2="239.6" y2="71.7" stroke="#666" stroke-width="0.8"/>
<line x1="178.0" y1="10.5" x2="178.0" y2="72.10000000000001" stroke="#222" stroke-width="1.1"/>
<line x1="177.5" y1="11.0" x2="239.6" y2="11.0" stroke="#333" stroke-width="1.0"/>
<line x1="175.8" y1="11.0" x2="178.0" y2="11.0" stroke="#1a1a1a" stroke-width="0.9"/>
<line x1="177.0" y1="21.622500000000002" x2="178.0" y2="21.622500000000002" stroke="#555" stroke-width="0.4"/>
<line x1="177.0" y1="18.891000000000002" x2="178.0" y2="18.891000000000002" stroke="#555" stroke-width="0.4"/>
<line x1="177.0" y1="17.07" x2="178.0" y2="17.07" stroke="#555" stroke-width="0.4"/>
<line x1="177.0" y1="15.552500000000002" x2="178.0" y2="15.552500000000002" stroke="#555" stroke-width="0.4"/>
<line x1="177.0" y1="14.3385" x2="178.0" y2="14.3385" stroke="#555" stroke-width="0.4"/>
<line x1="177.0" y1="13.276250000000001" x2="178.0" y2="13.276250000000001" stroke="#555" stroke-width="0.4"/>
<line x1="177.0" y1="12.5175" x2="178.0" y2="12.5175" stroke="#555" stroke-width="0.4"/>
<line x1="177.0" y1="11.758750000000001" x2="178.0" y2="11.758750000000001" stroke="#555" stroke-width="0.4"/>
<line x1="175.8" y1="26.175" x2="178.0" y2="26.175" stroke="#1a1a1a" stroke-width="0.9"/>
<line x1="177.0" y1="36.7975" x2="178.0" y2="36.7975" stroke="#555" stroke-width="0.4"/>
<line x1="177.0" y1="34.066" x2="178.0" y2="34.066" stroke="#555" stroke-width="0.4"/>
<line x1="177.0" y1="32.245000000000005" x2="178.0" y2="32.245000000000005" stroke="#555" stroke-width="0.4"/>
<line x1="177.0" y1="30.727500000000003" x2="178.0" y2="30.727500000000003" stroke="#555" stroke-width="0.4"/>
<line x1="177.0" y1="29.5135" x2="178.0" y2="29.5135" stroke="#555" stroke-width="0.4"/>
<line x1="177.0" y1="28.45125" x2="178.0" y2="28.45125" stroke="#555" stroke-width="0.4"/>
<line x1="177.0" y1="27.6925" x2="178.0" y2="27.6925" stroke="#555" stroke-width="0.4"/>
<line x1="177.0" y1="26.93375" x2="178.0" y2="26.93375" stroke="#555" stroke-width="0.4"/>
<line x1="175.8" y1="41.35" x2="178.0" y2="41.35" stroke="#1a1a1a" stroke-width="0.9"/>
<line x1="177.0" y1="51.972500000000004" x2="178.0" y2="51.972500000000004" stroke="#555" stroke-width="0.4"/>
<line x1="177.0" y1="49.241" x2="178.0" y2="49.241" stroke="#555" stroke-width="0.4"/>
<line x1="177.0" y1="47.42" x2="178.0" y2="47.42" stroke="#555" stroke-width="0.4"/>
<line x1="177.0" y1="45.9025" x2="178.0" y2="45.9025" stroke="#555" stroke-width="0.4"/>
<line x1="177.0" y1="44.688500000000005" x2="178.0" y2="44.688500000000005" stroke="#555" stroke-width="0.4"/>
<line x1="177.0" y1="43.62625" x2="178.0" y2="43.62625" stroke="#555" stroke-width="0.4"/>
<line x1="177.0" y1="42.8675" x2="178.0" y2="42.8675" stroke="#555" stroke-width="0.4"/>
<line x1="177.0" y1="42.10875" x2="178.0" y2="42.10875" stroke="#555" stroke-width="0.4"/>
<line x1="175.8" y1="56.525000000000006" x2="178.0" y2="56.525000000000006" stroke="#1a1a1a" stroke-width="0.9"/>
<line x1="177.0" y1="67.14750000000001" x2="178.0" y2="67.14750000000001" stroke="#555" stroke-width="0.4"/>
<line x1="177.0" y1="64.41600000000001" x2="178.0" y2="64.41600000000001" stroke="#555" stroke-width="0.4"/>
<line x1="177.0" y1="62.595000000000006" x2="178.0" y2="62.595000000000006" stroke="#555" stroke-width="0.4"/>
<line x1="177.0" y1="61.07750000000001" x2="178.0" y2="61.07750000000001" stroke="#555" stroke-width="0.4"/>
<line x1="177.0" y1="59.8635" x2="178.0" y2="59.8635" stroke="#555" stroke-width="0.4"/>
<line x1="177.0" y1="58.80125" x2="178.0" y2="58.80125" stroke="#555" stroke-width="0.4"/>
<line x1="177.0" y1="58.042500000000004" x2="178.0" y2="58.042500000000004" stroke="#555" stroke-width="0.4"/>
<line x1="177.0" y1="57.283750000000005" x2="178.0" y2="57.283750000000005" stroke="#555" stroke-width="0.4"/>
<line x1="175.8" y1="71.7" x2="178.0" y2="71.7" stroke="#1a1a1a" stroke-width="0.9"/>
<line x1="178.0" y1="71.7" x2="178.0" y2="73.9" stroke="#1a1a1a" stroke-width="0.9"/>
<line x1="182.59" y1="71.7" x2="182.59" y2="72.7" stroke="#555" stroke-width="0.4"/>
<line x1="185.344" y1="71.7" x2="185.344" y2="72.7" stroke="#555" stroke-width="0.4"/>
<line x1="187.18" y1="71.7" x2="187.18" y2="72.7" stroke="#555" stroke-width="0.4"/>
<line x1="188.71" y1="71.7" x2="188.71" y2="72.7" stroke="#555" stroke-width="0.4"/>
<line x1="189.934" y1="71.7" x2="189.934" y2="72.7" stroke="#555" stroke-width="0.4"/>
<line x1="191.005" y1="71.7" x2="191.005" y2="72.7" stroke="#555" stroke-width="0.4"/>
<line x1="191.77" y1="71.7" x2="191.77" y2="72.7" stroke="#555" stroke-width="0.4"/>
<line x1="192.535" y1="71.7" x2="192.535" y2="72.7" stroke="#555" stroke-width="0.4"/>
<line x1="193.3" y1="71.7" x2="193.3" y2="73.9" stroke="#1a1a1a" stroke-width="0.9"/>
<line x1="197.89000000000001" y1="71.7" x2="197.89000000000001" y2="72.7" stroke="#555" stroke-width="0.4"/>
<line x1="200.644" y1="71.7" x2="200.644" y2="72.7" stroke="#555" stroke-width="0.4"/>
<line x1="202.48000000000002" y1="71.7" x2="202.48000000000002" y2="72.7" stroke="#555" stroke-width="0.4"/>
<line x1="204.01000000000002" y1="71.7" x2="204.01000000000002" y2="72.7" stroke="#555" stroke-width="0.4"/>
<line x1="205.234" y1="71.7" x2="205.234" y2="72.7" stroke="#555" stroke-width="0.4"/>
<line x1="206.305" y1="71.7" x2="206.305" y2="72.7" stroke="#555" stroke-width="0.4"/>
<line x1="207.07000000000002" y1="71.7" x2="207.07000000000002" y2="72.7" stroke="#555" stroke-width="0.4"/>
<line x1="207.835" y1="71.7" x2="207.835" y2="72.7" stroke="#555" stroke-width="0.4"/>
<line x1="208.6" y1="71.7" x2="208.6" y2="73.9" stroke="#1a1a1a" stroke-width="0.9"/>
<line x1="213.19" y1="71.7" x2="213.19" y2="72.7" stroke="#555" stroke-width="0.4"/>
<line x1="215.944" y1="71.7" x2="215.944" y2="72.7" stroke="#555" stroke-width="0.4"/>
<line x1="217.78" y1="71.7" x2="217.78" y2="72.7" stroke="#555" stroke-width="0.4"/>
<line x1="219.31" y1="71.7" x2="219.31" y2="72.7" stroke="#555" stroke-width="0.4"/>
<line x1="220.534" y1="71.7" x2="220.534" y2="72.7" stroke="#555" stroke-width="0.4"/>
<line x1="221.605" y1="71.7" x2="221.605" y2="72.7" stroke="#555" stroke-width="0.4"/>
<line x1="222.37" y1="71.7" x2="222.37" y2="72.7" stroke="#555" stroke-width="0.4"/>
<line x1="223.135" y1="71.7" x2="223.135" y2="72.7" stroke="#555" stroke-width="0.4"/>
<line x1="223.89999999999998" y1="71.7" x2="223.89999999999998" y2="73.9" stroke="#1a1a1a" stroke-width="0.9"/>
<line x1="228.48999999999998" y1="71.7" x2="228.48999999999998" y2="72.7" stroke="#555" stroke-width="0.4"/>
<line x1="231.24399999999997" y1="71.7" x2="231.24399999999997" y2="72.7" stroke="#555" stroke-width="0.4"/>
<line x1="233.07999999999998" y1="71.7" x2="233.07999999999998" y2="72.7" stroke="#555" stroke-width="0.4"/>
<line x1="234.60999999999999" y1="71.7" x2="234.60999999999999" y2="72.7" stroke="#555" stroke-width="0.4"/>
<line x1="235.83399999999997" y1="71.7" x2="235.83399999999997" y2="72.7" stroke="#555" stroke-width="0.4"/>
<line x1="236.90499999999997" y1="71.7" x2="236.90499999999997" y2="72.7" stroke="#555" stroke-width="0.4"/>
<line x1="237.67" y1="71.7" x2="237.67" y2="72.7" stroke="#555" stroke-width="0.4"/>
<line x1="238.43499999999997" y1="71.7" x2="238.43499999999997" y2="72.7" stroke="#555" stroke-width="0.4"/>
<line x1="239.2" y1="71.7" x2="239.2" y2="73.9" stroke="#1a1a1a" stroke-width="0.9"/>
<rect x="171.4" y="10.5" width="2.5" height="2.0" fill="#333" fill-opacity="0.8"/>
<rect x="174.1" y="9.3" width="1.3" height="1.3" fill="#333" fill-opacity="0.7"/>
<rect x="171.4" y="25.675" width="2.5" height="2.0" fill="#333" fill-opacity="0.8"/>
<rect x="174.1" y="24.475" width="1.3" height="1.3" fill="#333" fill-opacity="0.7"/>
<rect x="171.4" y="40.85" width="2.5" height="2.0" fill="#333" fill-opacity="0.8"/>
<rect x="174.1" y="39.65" width="1.3" height="1.3" fill="#333" fill-opacity="0.7"/>
<rect x="171.4" y="56.025000000000006" width="2.5" height="2.0" fill="#333" fill-opacity="0.8"/>
<rect x="174.1" y="54.825" width="1.3" height="1.3" fill="#333" fill-opacity="0.7"/>
<rect x="171.4" y="71.2" width="2.5" height="2.0" fill="#333" fill-opacity="0.8"/>
<rect x="174.1" y="70.0" width="1.3" height="1.3" fill="#333" fill-opacity="0.7"/>
<rect x="178.0" y="77.5" width="2.4" height="2.0" fill="#333" fill-opacity="0.8"/>
<rect x="180.5" y="76.4" width="1.2" height="1.3" fill="#333" fill-opacity="0.7"/>
<rect x="193.3" y="77.5" width="2.4" height="2.0" fill="#333" fill-opacity="0.8"/>
<rect x="195.8" y="76.4" width="1.2" height="1.3" fill="#333" fill-opacity="0.7"/>
<rect x="208.6" y="77.5" width="2.4" height="2.0" fill="#333" fill-opacity="0.8"/>
<rect x="211.1" y="76.4" width="1.2" height="1.3" fill="#333" fill-opacity="0.7"/>
<rect x="223.89999999999998" y="77.5" width="2.4" height="2.0" fill="#333" fill-opacity="0.8"/>
<rect x="226.39999999999998" y="76.4" width="1.2" height="1.3" fill="#333" fill-opacity="0.7"/>
<rect x="239.2" y="77.5" width="2.4" height="2.0" fill="#333" fill-opacity="0.8"/>
<rect x="241.7" y="76.4" width="1.2" height="1.3" fill="#333" fill-opacity="0.7"/>
<path d="M212.3 11.9 L239.2 11.9 L239.2 33.2 L202.4 33.2 Z" fill="none" stroke="#222" stroke-width="1.0"/>
<line x1="239.79999999999998" y1="11.9" x2="239.79999999999998" y2="33.199999999999996" stroke="#666" stroke-width="1.0"/>
<text transform="translate(207 8.2)" font-size="8.0" font-weight="bold" text-anchor="middle" fill="#1a1a1a" stroke="#1a1a1a" stroke-width="0.3">mock</text>
<text transform="translate(236.79999999999998 41.2)" font-size="8.1" font-weight="bold" text-anchor="end" fill="#1a1a1a" stroke="#1a1a1a" stroke-width="0.3">28.18</text>
<path d="M125.4 111.7h0.9v0.9h-0.9zM123.4 105.0h0.9v0.9h-0.9zM122.1 109.8h0.9v0.9h-0.9zM122.6 105.5h0.9v0.9h-0.9zM123.0 110.2h0.9v0.9h-0.9zM126.1 108.4h0.9v0.9h-0.9zM122.7 104.2h0.9v0.9h-0.9zM128.0 105.0h0.9v0.9h-0.9zM121.6 107.5h0.9v0.9h-0.9zM122.0 110.6h0.9v0.9h-0.9zM123.5 108.5h0.9v0.9h-0.9zM125.0 105.3h0.9v0.9h-0.9zM125.4 105.1h0.9v0.9h-0.9zM119.5 108.6h0.9v0.9h-0.9zM121.1 110.9h0.9v0.9h-0.9zM126.0 103.7h0.9v0.9h-0.9zM127.0 105.4h0.9v0.9h-0.9zM126.7 102.2h0.9v0.9h-0.9zM123.1 104.5h0.9v0.9h-0.9zM123.8 110.9h0.9v0.9h-0.9zM115.8 109.7h0.9v0.9h-0.9zM127.2 106.8h0.9v0.9h-0.9zM118.8 104.4h0.9v0.9h-0.9zM118.6 111.5h0.9v0.9h-0.9zM129.6 105.6h0.9v0.9h-0.9zM123.6 111.0h0.9v0.9h-0.9zM124.5 108.2h0.9v0.9h-0.9zM125.9 110.1h0.9v0.9h-0.9zM119.6 103.5h0.9v0.9h-0.9zM123.5 107.7h0.9v0.9h-0.9zM124.4 104.4h0.9v0.9h-0.9zM122.0 104.8h0.9v0.9h-0.9zM123.7 107.3h0.9v0.9h-0.9zM127.5 109.2h0.9v0.9h-0.9zM117.8 112.5h0.9v0.9h-0.9zM124.4 103.1h0.9v0.9h-0.9zM124.6 106.3h0.9v0.9h-0.9zM121.7 110.4h0.9v0.9h-0.9zM132.2 103.1h0.9v0.9h-0.9zM128.7 106.7h0.9v0.9h-0.9zM125.2 108.7h0.9v0.9h-0.9zM121.7 108.9h0.9v0.9h-0.9zM128.7 107.3h0.9v0.9h-0.9zM123.0 106.6h0.9v0.9h-0.9zM126.0 105.2h0.9v0.9h-0.9zM126.0 107.7h0.9v0.9h-0.9zM122.8 110.1h0.9v0.9h-0.9zM125.4 105.0h0.9v0.9h-0.9zM119.0 108.4h0.9v0.9h-0.9zM125.5 108.5h0.9v0.9h-0.9zM118.2 112.8h0.9v0.9h-0.9zM123.6 103.8h0.9v0.9h-0.9zM128.0 105.2h0.9v0.9h-0.9zM124.7 103.5h0.9v0.9h-0.9zM121.6 111.0h0.9v0.9h-0.9zM130.0 103.7h0.9v0.9h-0.9zM123.1 106.1h0.9v0.9h-0.9zM119.5 112.7h0.9v0.9h-0.9zM125.7 109.2h0.9v0.9h-0.9zM123.2 110.4h0.9v0.9h-0.9zM122.6 109.4h0.9v0.9h-0.9zM128.4 101.7h0.9v0.9h-0.9zM127.7 104.2h0.9v0.9h-0.9zM121.3 109.2h0.9v0.9h-0.9zM125.8 103.5h0.9v0.9h-0.9zM122.7 106.0h0.9v0.9h-0.9zM121.3 108.0h0.9v0.9h-0.9zM126.7 103.5h0.9v0.9h-0.9zM128.4 102.7h0.9v0.9h-0.9zM123.4 110.3h0.9v0.9h-0.9zM128.6 101.8h0.9v0.9h-0.9zM124.9 102.8h0.9v0.9h-0.9zM122.4 106.8h0.9v0.9h-0.9zM125.3 102.3h0.9v0.9h-0.9zM121.6 106.4h0.9v0.9h-0.9zM123.1 103.8h0.9v0.9h-0.9zM123.4 115.3h0.9v0.9h-0.9zM123.1 103.0h0.9v0.9h-0.9zM125.6 101.9h0.9v0.9h-0.9zM119.9 114.4h0.9v0.9h-0.9zM127.8 101.8h0.9v0.9h-0.9zM121.1 110.1h0.9v0.9h-0.9zM132.5 102.7h0.9v0.9h-0.9zM125.2 102.6h0.9v0.9h-0.9zM118.5 111.6h0.9v0.9h-0.9zM128.2 104.3h0.9v0.9h-0.9zM126.2 109.2h0.9v0.9h-0.9zM122.8 110.7h0.9v0.9h-0.9zM126.5 103.2h0.9v0.9h-0.9zM125.0 106.4h0.9v0.9h-0.9zM125.2 103.2h0.9v0.9h-0.9zM123.7 107.2h0.9v0.9h-0.9zM124.5 106.5h0.9v0.9h-0.9zM125.0 105.5h0.9v0.9h-0.9zM124.0 109.7h0.9v0.9h-0.9zM121.7 107.5h0.9v0.9h-0.9zM119.7 106.4h0.9v0.9h-0.9zM125.9 105.3h0.9v0.9h-0.9zM124.5 107.7h0.9v0.9h-0.9zM124.7 108.3h0.9v0.9h-0.9zM131.3 102.8h0.9v0.9h-0.9zM125.7 110.4h0.9v0.9h-0.9zM124.7 101.5h0.9v0.9h-0.9zM129.4 103.6h0.9v0.9h-0.9zM125.9 102.2h0.9v0.9h-0.9zM120.5 107.3h0.9v0.9h-0.9zM124.9 103.0h0.9v0.9h-0.9zM123.1 110.1h0.9v0.9h-0.9zM122.3 108.3h0.9v0.9h-0.9zM118.9 105.4h0.9v0.9h-0.9zM123.9 106.5h0.9v0.9h-0.9zM120.6 111.9h0.9v0.9h-0.9zM128.5 106.2h0.9v0.9h-0.9zM121.0 105.5h0.9v0.9h-0.9zM124.3 107.0h0.9v0.9h-0.9zM123.0 105.8h0.9v0.9h-0.9zM119.9 107.5h0.9v0.9h-0.9zM123.4 105.8h0.9v0.9h-0.9zM130.0 101.9h0.9v0.9h-0.9zM125.4 104.5h0.9v0.9h-0.9zM122.4 105.1h0.9v0.9h-0.9zM120.7 104.8h0.9v0.9h-0.9zM118.8 114.2h0.9v0.9h-0.9zM121.2 109.9h0.9v0.9h-0.9zM123.2 105.7h0.9v0.9h-0.9zM126.2 103.6h0.9v0.9h-0.9zM125.5 104.7h0.9v0.9h-0.9zM129.1 106.0h0.9v0.9h-0.9zM126.1 108.5h0.9v0.9h-0.9zM128.3 108.3h0.9v0.9h-0.9zM121.9 103.8h0.9v0.9h-0.9zM125.5 106.4h0.9v0.9h-0.9zM122.8 107.0h0.9v0.9h-0.9zM121.8 104.7h0.9v0.9h-0.9zM129.5 100.8h0.9v0.9h-0.9zM118.5 106.0h0.9v0.9h-0.9zM121.3 108.5h0.9v0.9h-0.9zM130.4 104.1h0.9v0.9h-0.9zM120.2 105.9h0.9v0.9h-0.9zM120.3 109.1h0.9v0.9h-0.9zM126.8 103.5h0.9v0.9h-0.9zM132.7 106.4h0.9v0.9h-0.9zM122.1 101.9h0.9v0.9h-0.9zM128.1 103.7h0.9v0.9h-0.9zM128.1 106.8h0.9v0.9h-0.9zM120.9 109.1h0.9v0.9h-0.9zM124.0 104.6h0.9v0.9h-0.9zM126.7 104.6h0.9v0.9h-0.9zM125.4 111.1h0.9v0.9h-0.9zM127.2 109.3h0.9v0.9h-0.9zM125.2 108.9h0.9v0.9h-0.9zM121.9 108.6h0.9v0.9h-0.9zM125.3 99.7h0.9v0.9h-0.9zM125.9 104.7h0.9v0.9h-0.9zM128.5 104.2h0.9v0.9h-0.9zM122.4 104.2h0.9v0.9h-0.9zM133.8 97.9h0.9v0.9h-0.9zM122.3 105.9h0.9v0.9h-0.9zM123.6 107.7h0.9v0.9h-0.9zM121.0 111.8h0.9v0.9h-0.9zM124.3 108.3h0.9v0.9h-0.9zM116.2 110.6h0.9v0.9h-0.9zM122.8 106.5h0.9v0.9h-0.9zM122.4 108.7h0.9v0.9h-0.9zM124.5 103.6h0.9v0.9h-0.9zM118.4 112.7h0.9v0.9h-0.9zM124.7 109.4h0.9v0.9h-0.9zM127.3 104.2h0.9v0.9h-0.9zM118.8 109.3h0.9v0.9h-0.9zM123.4 110.7h0.9v0.9h-0.9z" fill="#222" fill-opacity="0.4"/>
<path d="M116.3 116.2h0.9v0.9h-0.9zM114.2 111.4h0.9v0.9h-0.9zM114.6 110.6h0.9v0.9h-0.9zM121.8 110.1h0.9v0.9h-0.9zM121.6 111.6h0.9v0.9h-0.9zM132.9 101.7h0.9v0.9h-0.9zM117.0 111.1h0.9v0.9h-0.9zM122.1 106.9h0.9v0.9h-0.9zM131.6 106.7h0.9v0.9h-0.9zM134.9 101.8h0.9v0.9h-0.9zM109.1 116.7h0.9v0.9h-0.9zM125.3 102.8h0.9v0.9h-0.9zM122.0 112.2h0.9v0.9h-0.9zM121.9 103.8h0.9v0.9h-0.9zM114.3 100.9h0.9v0.9h-0.9zM121.0 104.1h0.9v0.9h-0.9zM120.8 104.3h0.9v0.9h-0.9zM117.5 109.4h0.9v0.9h-0.9zM116.1 110.2h0.9v0.9h-0.9zM130.5 106.0h0.9v0.9h-0.9zM126.4 104.1h0.9v0.9h-0.9zM122.5 104.9h0.9v0.9h-0.9zM120.8 105.9h0.9v0.9h-0.9zM113.8 109.9h0.9v0.9h-0.9zM134.2 101.7h0.9v0.9h-0.9zM119.2 109.9h0.9v0.9h-0.9zM123.4 112.6h0.9v0.9h-0.9zM122.0 105.8h0.9v0.9h-0.9zM127.5 106.0h0.9v0.9h-0.9zM118.3 107.8h0.9v0.9h-0.9zM120.9 102.4h0.9v0.9h-0.9zM120.5 113.6h0.9v0.9h-0.9zM130.0 107.6h0.9v0.9h-0.9zM119.9 107.4h0.9v0.9h-0.9zM121.0 107.1h0.9v0.9h-0.9zM129.6 102.3h0.9v0.9h-0.9zM129.1 100.7h0.9v0.9h-0.9zM128.5 110.8h0.9v0.9h-0.9zM118.2 108.3h0.9v0.9h-0.9z" fill="#222" fill-opacity="0.3"/>
<path d="M138.7 104.7h0.9v0.9h-0.9zM139.8 107.1h0.9v0.9h-0.9zM149.3 107.5h0.9v0.9h-0.9zM132.8 111.0h0.9v0.9h-0.9zM144.6 108.6h0.9v0.9h-0.9zM142.1 110.4h0.9v0.9h-0.9zM138.8 108.8h0.9v0.9h-0.9zM141.5 112.7h0.9v0.9h-0.9zM146.3 109.1h0.9v0.9h-0.9zM135.9 110.9h0.9v0.9h-0.9zM140.8 111.5h0.9v0.9h-0.9zM141.2 109.1h0.9v0.9h-0.9zM143.5 106.9h0.9v0.9h-0.9zM138.5 114.3h0.9v0.9h-0.9zM137.7 111.0h0.9v0.9h-0.9zM143.5 110.7h0.9v0.9h-0.9zM146.2 105.4h0.9v0.9h-0.9zM144.6 103.7h0.9v0.9h-0.9zM141.2 109.5h0.9v0.9h-0.9zM144.9 111.3h0.9v0.9h-0.9zM137.4 108.0h0.9v0.9h-0.9zM140.4 107.0h0.9v0.9h-0.9zM137.8 107.1h0.9v0.9h-0.9zM145.3 112.0h0.9v0.9h-0.9zM143.8 112.8h0.9v0.9h-0.9zM141.3 106.0h0.9v0.9h-0.9zM138.5 109.2h0.9v0.9h-0.9zM144.9 111.7h0.9v0.9h-0.9zM137.5 111.0h0.9v0.9h-0.9zM138.9 110.2h0.9v0.9h-0.9zM144.4 112.3h0.9v0.9h-0.9zM139.0 109.3h0.9v0.9h-0.9zM142.6 107.7h0.9v0.9h-0.9zM141.3 110.1h0.9v0.9h-0.9zM134.7 107.1h0.9v0.9h-0.9zM149.7 109.8h0.9v0.9h-0.9zM138.8 104.2h0.9v0.9h-0.9zM137.3 110.0h0.9v0.9h-0.9zM143.5 109.8h0.9v0.9h-0.9zM143.2 107.2h0.9v0.9h-0.9zM147.0 105.9h0.9v0.9h-0.9zM142.9 108.0h0.9v0.9h-0.9zM134.5 110.9h0.9v0.9h-0.9zM139.9 110.4h0.9v0.9h-0.9zM145.8 109.1h0.9v0.9h-0.9zM138.4 108.2h0.9v0.9h-0.9zM140.7 112.2h0.9v0.9h-0.9zM144.2 112.6h0.9v0.9h-0.9zM143.8 106.8h0.9v0.9h-0.9zM144.5 111.1h0.9v0.9h-0.9zM140.5 109.8h0.9v0.9h-0.9zM139.7 105.6h0.9v0.9h-0.9zM140.6 110.6h0.9v0.9h-0.9zM139.6 103.2h0.9v0.9h-0.9zM137.9 111.4h0.9v0.9h-0.9zM141.8 111.4h0.9v0.9h-0.9zM138.1 107.7h0.9v0.9h-0.9zM137.1 106.8h0.9v0.9h-0.9zM142.9 109.0h0.9v0.9h-0.9zM139.1 109.4h0.9v0.9h-0.9zM136.0 107.7h0.9v0.9h-0.9zM135.3 105.0h0.9v0.9h-0.9zM135.8 106.0h0.9v0.9h-0.9zM146.9 112.1h0.9v0.9h-0.9zM145.7 107.3h0.9v0.9h-0.9zM143.3 105.9h0.9v0.9h-0.9zM138.9 109.3h0.9v0.9h-0.9zM134.9 109.2h0.9v0.9h-0.9zM143.3 103.6h0.9v0.9h-0.9zM131.7 108.0h0.9v0.9h-0.9zM140.5 109.0h0.9v0.9h-0.9zM136.6 110.1h0.9v0.9h-0.9zM141.4 106.9h0.9v0.9h-0.9zM147.2 109.3h0.9v0.9h-0.9zM143.8 113.3h0.9v0.9h-0.9zM139.1 108.2h0.9v0.9h-0.9zM134.3 108.1h0.9v0.9h-0.9zM142.6 114.9h0.9v0.9h-0.9zM143.1 109.2h0.9v0.9h-0.9zM136.1 106.6h0.9v0.9h-0.9zM133.9 105.3h0.9v0.9h-0.9zM141.4 109.4h0.9v0.9h-0.9zM137.5 108.2h0.9v0.9h-0.9zM137.9 110.2h0.9v0.9h-0.9zM143.4 107.3h0.9v0.9h-0.9zM139.2 105.7h0.9v0.9h-0.9zM139.2 114.1h0.9v0.9h-0.9zM140.9 110.8h0.9v0.9h-0.9zM143.1 112.3h0.9v0.9h-0.9zM139.7 106.5h0.9v0.9h-0.9zM144.9 111.0h0.9v0.9h-0.9zM138.4 111.4h0.9v0.9h-0.9zM140.9 108.6h0.9v0.9h-0.9zM147.9 110.0h0.9v0.9h-0.9zM142.1 107.9h0.9v0.9h-0.9zM141.7 111.3h0.9v0.9h-0.9zM142.7 106.8h0.9v0.9h-0.9zM142.6 108.4h0.9v0.9h-0.9zM142.1 108.2h0.9v0.9h-0.9zM132.6 104.7h0.9v0.9h-0.9zM139.5 103.3h0.9v0.9h-0.9zM135.2 113.7h0.9v0.9h-0.9zM143.6 107.6h0.9v0.9h-0.9zM142.2 103.2h0.9v0.9h-0.9zM141.9 111.1h0.9v0.9h-0.9zM141.7 105.5h0.9v0.9h-0.9zM144.6 107.4h0.9v0.9h-0.9zM138.8 109.2h0.9v0.9h-0.9zM139.8 113.7h0.9v0.9h-0.9zM140.4 114.0h0.9v0.9h-0.9zM142.7 105.6h0.9v0.9h-0.9zM140.9 108.8h0.9v0.9h-0.9zM146.4 111.9h0.9v0.9h-0.9zM150.7 107.1h0.9v0.9h-0.9zM139.3 114.5h0.9v0.9h-0.9zM137.5 109.6h0.9v0.9h-0.9zM147.1 106.2h0.9v0.9h-0.9zM139.6 106.9h0.9v0.9h-0.9zM142.9 109.7h0.9v0.9h-0.9zM140.8 110.3h0.9v0.9h-0.9zM137.9 107.8h0.9v0.9h-0.9zM142.7 113.7h0.9v0.9h-0.9zM140.8 108.8h0.9v0.9h-0.9zM145.9 108.9h0.9v0.9h-0.9zM145.9 109.3h0.9v0.9h-0.9zM145.3 109.2h0.9v0.9h-0.9zM137.4 106.6h0.9v0.9h-0.9zM142.6 113.4h0.9v0.9h-0.9zM148.0 107.9h0.9v0.9h-0.9zM150.5 105.9h0.9v0.9h-0.9zM137.7 111.0h0.9v0.9h-0.9zM135.1 111.0h0.9v0.9h-0.9zM142.4 110.3h0.9v0.9h-0.9zM136.3 109.6h0.9v0.9h-0.9zM144.5 108.6h0.9v0.9h-0.9zM144.9 108.8h0.9v0.9h-0.9zM142.3 107.9h0.9v0.9h-0.9zM135.8 108.3h0.9v0.9h-0.9zM142.8 106.8h0.9v0.9h-0.9zM133.5 104.8h0.9v0.9h-0.9zM146.0 108.1h0.9v0.9h-0.9zM138.0 111.8h0.9v0.9h-0.9zM140.3 105.0h0.9v0.9h-0.9zM139.3 106.5h0.9v0.9h-0.9zM140.2 106.4h0.9v0.9h-0.9zM141.2 109.8h0.9v0.9h-0.9zM138.8 108.2h0.9v0.9h-0.9zM140.3 110.8h0.9v0.9h-0.9zM138.2 110.6h0.9v0.9h-0.9zM145.7 108.2h0.9v0.9h-0.9zM137.2 107.9h0.9v0.9h-0.9zM134.2 107.3h0.9v0.9h-0.9zM136.4 108.3h0.9v0.9h-0.9zM139.5 110.0h0.9v0.9h-0.9zM141.4 109.8h0.9v0.9h-0.9zM140.8 109.4h0.9v0.9h-0.9zM136.6 110.3h0.9v0.9h-0.9zM145.9 111.5h0.9v0.9h-0.9zM135.8 109.7h0.9v0.9h-0.9zM134.7 110.6h0.9v0.9h-0.9zM140.2 107.6h0.9v0.9h-0.9zM138.1 108.1h0.9v0.9h-0.9zM140.9 106.3h0.9v0.9h-0.9zM141.2 109.3h0.9v0.9h-0.9zM143.0 108.6h0.9v0.9h-0.9zM140.9 114.5h0.9v0.9h-0.9zM144.8 109.5h0.9v0.9h-0.9zM135.6 110.2h0.9v0.9h-0.9zM143.1 102.1h0.9v0.9h-0.9zM140.3 109.7h0.9v0.9h-0.9zM141.1 108.9h0.9v0.9h-0.9zM140.4 112.2h0.9v0.9h-0.9zM142.4 108.0h0.9v0.9h-0.9zM140.1 113.9h0.9v0.9h-0.9zM137.6 107.4h0.9v0.9h-0.9zM142.2 109.1h0.9v0.9h-0.9zM142.1 112.1h0.9v0.9h-0.9zM145.3 109.8h0.9v0.9h-0.9zM141.1 108.5h0.9v0.9h-0.9zM140.1 111.2h0.9v0.9h-0.9zM136.1 106.1h0.9v0.9h-0.9zM139.2 106.3h0.9v0.9h-0.9zM138.1 111.7h0.9v0.9h-0.9zM132.3 110.1h0.9v0.9h-0.9zM135.9 108.1h0.9v0.9h-0.9zM138.7 106.2h0.9v0.9h-0.9zM135.2 108.9h0.9v0.9h-0.9zM129.6 103.4h0.9v0.9h-0.9zM139.5 111.4h0.9v0.9h-0.9zM148.1 108.0h0.9v0.9h-0.9zM137.9 108.0h0.9v0.9h-0.9zM142.8 111.0h0.9v0.9h-0.9zM137.3 109.9h0.9v0.9h-0.9zM140.8 111.6h0.9v0.9h-0.9zM139.4 108.2h0.9v0.9h-0.9zM137.7 105.4h0.9v0.9h-0.9zM142.0 110.5h0.9v0.9h-0.9zM145.3 109.4h0.9v0.9h-0.9zM139.2 106.4h0.9v0.9h-0.9zM136.5 106.9h0.9v0.9h-0.9zM142.2 108.9h0.9v0.9h-0.9zM132.1 108.4h0.9v0.9h-0.9zM139.8 106.1h0.9v0.9h-0.9zM140.9 110.0h0.9v0.9h-0.9zM137.0 105.3h0.9v0.9h-0.9zM139.7 109.4h0.9v0.9h-0.9zM140.0 112.6h0.9v0.9h-0.9zM141.5 106.2h0.9v0.9h-0.9zM143.9 107.1h0.9v0.9h-0.9zM143.6 108.9h0.9v0.9h-0.9zM145.7 106.2h0.9v0.9h-0.9zM143.7 109.8h0.9v0.9h-0.9zM137.5 110.5h0.9v0.9h-0.9zM149.7 109.6h0.9v0.9h-0.9zM138.0 108.3h0.9v0.9h-0.9zM146.0 109.3h0.9v0.9h-0.9zM146.7 107.1h0.9v0.9h-0.9zM146.0 104.8h0.9v0.9h-0.9zM140.3 108.0h0.9v0.9h-0.9zM139.1 111.8h0.9v0.9h-0.9zM138.6 109.6h0.9v0.9h-0.9zM148.1 110.8h0.9v0.9h-0.9zM139.4 106.9h0.9v0.9h-0.9zM133.2 109.6h0.9v0.9h-0.9zM144.4 111.5h0.9v0.9h-0.9zM141.9 114.1h0.9v0.9h-0.9zM144.0 102.9h0.9v0.9h-0.9zM137.6 110.7h0.9v0.9h-0.9zM139.4 110.8h0.9v0.9h-0.9zM150.9 106.8h0.9v0.9h-0.9zM149.5 108.5h0.9v0.9h-0.9zM135.3 108.9h0.9v0.9h-0.9zM144.5 107.2h0.9v0.9h-0.9zM147.1 106.5h0.9v0.9h-0.9zM140.2 111.0h0.9v0.9h-0.9zM140.1 107.3h0.9v0.9h-0.9zM140.9 110.3h0.9v0.9h-0.9zM147.7 112.1h0.9v0.9h-0.9zM148.2 108.6h0.9v0.9h-0.9zM134.5 108.6h0.9v0.9h-0.9z" fill="#222" fill-opacity="0.4"/>
<path d="M131.5 106.3h0.9v0.9h-0.9zM131.2 107.8h0.9v0.9h-0.9zM133.2 109.4h0.9v0.9h-0.9zM129.8 109.7h0.9v0.9h-0.9zM133.1 109.1h0.9v0.9h-0.9zM137.3 105.9h0.9v0.9h-0.9zM138.5 106.8h0.9v0.9h-0.9zM134.4 109.6h0.9v0.9h-0.9zM136.2 105.4h0.9v0.9h-0.9zM133.5 109.7h0.9v0.9h-0.9zM132.6 107.8h0.9v0.9h-0.9zM133.2 110.5h0.9v0.9h-0.9zM131.1 106.4h0.9v0.9h-0.9zM129.1 107.1h0.9v0.9h-0.9zM132.2 108.5h0.9v0.9h-0.9zM132.7 105.1h0.9v0.9h-0.9zM127.5 109.0h0.9v0.9h-0.9zM135.5 105.7h0.9v0.9h-0.9zM136.3 104.0h0.9v0.9h-0.9zM141.1 108.8h0.9v0.9h-0.9zM127.2 108.7h0.9v0.9h-0.9zM132.9 107.2h0.9v0.9h-0.9zM131.7 107.5h0.9v0.9h-0.9zM132.6 106.5h0.9v0.9h-0.9zM131.0 108.8h0.9v0.9h-0.9zM134.8 105.8h0.9v0.9h-0.9zM131.3 110.4h0.9v0.9h-0.9zM135.5 110.5h0.9v0.9h-0.9zM128.3 106.2h0.9v0.9h-0.9zM125.4 104.8h0.9v0.9h-0.9zM131.7 106.2h0.9v0.9h-0.9zM129.2 106.8h0.9v0.9h-0.9zM132.3 109.2h0.9v0.9h-0.9zM135.0 105.1h0.9v0.9h-0.9zM138.2 107.4h0.9v0.9h-0.9zM129.5 107.9h0.9v0.9h-0.9zM131.6 105.7h0.9v0.9h-0.9zM138.4 107.0h0.9v0.9h-0.9zM130.9 108.8h0.9v0.9h-0.9zM138.9 108.7h0.9v0.9h-0.9zM129.8 108.6h0.9v0.9h-0.9zM136.9 108.5h0.9v0.9h-0.9zM135.3 107.1h0.9v0.9h-0.9zM132.8 105.2h0.9v0.9h-0.9zM130.5 106.1h0.9v0.9h-0.9zM133.0 110.3h0.9v0.9h-0.9zM125.1 105.8h0.9v0.9h-0.9zM129.7 107.8h0.9v0.9h-0.9zM137.1 106.7h0.9v0.9h-0.9zM130.2 109.8h0.9v0.9h-0.9zM134.3 108.7h0.9v0.9h-0.9zM135.9 106.7h0.9v0.9h-0.9zM133.8 106.8h0.9v0.9h-0.9zM130.5 108.1h0.9v0.9h-0.9zM134.5 105.9h0.9v0.9h-0.9zM130.3 108.9h0.9v0.9h-0.9zM133.6 109.0h0.9v0.9h-0.9zM131.9 106.6h0.9v0.9h-0.9zM135.7 108.9h0.9v0.9h-0.9zM123.0 109.3h0.9v0.9h-0.9z" fill="#222" fill-opacity="0.3"/>
<ellipse cx="124.4" cy="106.5" rx="8.4" ry="5.0" fill="url(#gl)" fill-opacity="0.9" transform="rotate(-33 124.4 106.5)"/>
<ellipse cx="141.0" cy="108.7" rx="7.0" ry="5.0" fill="url(#gl)" fill-opacity="0.75" transform="rotate(0 141.0 108.7)"/>
<ellipse cx="133.0" cy="108.10000000000001" rx="5" ry="2.4" fill="url(#gl)" fill-opacity="0.4" transform="rotate(0 133.0 108.10000000000001)"/>
<ellipse cx="124.4" cy="106.5" rx="5.6" ry="3.0" fill="#000" fill-opacity="1.0" filter="url(#bl5)" transform="rotate(-33 124.4 106.5)"/>
<ellipse cx="124.4" cy="106.5" rx="4.4" ry="2.3" fill="#000" fill-opacity="1.0" filter="url(#bl5)" transform="rotate(-33 124.4 106.5)"/>
<ellipse cx="141.0" cy="108.7" rx="3.0" ry="2.5" fill="#000" fill-opacity="0.8" filter="url(#bl10)" transform="rotate(0 141.0 108.7)"/>
<ellipse cx="141.0" cy="108.7" rx="1.8" ry="1.6" fill="#000" fill-opacity="0.6" filter="url(#bl5)" transform="rotate(0 141.0 108.7)"/>
<line x1="162.2" y1="95.9" x2="162.2" y2="157.0" stroke="#777" stroke-width="0.8"/>
<line x1="100.7" y1="157.0" x2="162.6" y2="157.0" stroke="#666" stroke-width="0.8"/>
<line x1="100.7" y1="95.4" x2="100.7" y2="157.4" stroke="#222" stroke-width="1.1"/>
<line x1="100.2" y1="95.9" x2="162.6" y2="95.9" stroke="#333" stroke-width="1.0"/>
<line x1="98.5" y1="95.9" x2="100.7" y2="95.9" stroke="#1a1a1a" stroke-width="0.9"/>
<line x1="99.7" y1="106.5925" x2="100.7" y2="106.5925" stroke="#555" stroke-width="0.4"/>
<line x1="99.7" y1="103.843" x2="100.7" y2="103.843" stroke="#555" stroke-width="0.4"/>
<line x1="99.7" y1="102.01" x2="100.7" y2="102.01" stroke="#555" stroke-width="0.4"/>
<line x1="99.7" y1="100.4825" x2="100.7" y2="100.4825" stroke="#555" stroke-width="0.4"/>
<line x1="99.7" y1="99.26050000000001" x2="100.7" y2="99.26050000000001" stroke="#555" stroke-width="0.4"/>
<line x1="99.7" y1="98.19125000000001" x2="100.7" y2="98.19125000000001" stroke="#555" stroke-width="0.4"/>
<line x1="99.7" y1="97.42750000000001" x2="100.7" y2="97.42750000000001" stroke="#555" stroke-width="0.4"/>
<line x1="99.7" y1="96.66375000000001" x2="100.7" y2="96.66375000000001" stroke="#555" stroke-width="0.4"/>
<line x1="98.5" y1="111.17500000000001" x2="100.7" y2="111.17500000000001" stroke="#1a1a1a" stroke-width="0.9"/>
<line x1="99.7" y1="121.8675" x2="100.7" y2="121.8675" stroke="#555" stroke-width="0.4"/>
<line x1="99.7" y1="119.11800000000001" x2="100.7" y2="119.11800000000001" stroke="#555" stroke-width="0.4"/>
<line x1="99.7" y1="117.28500000000001" x2="100.7" y2="117.28500000000001" stroke="#555" stroke-width="0.4"/>
<line x1="99.7" y1="115.75750000000001" x2="100.7" y2="115.75750000000001" stroke="#555" stroke-width="0.4"/>
<line x1="99.7" y1="114.53550000000001" x2="100.7" y2="114.53550000000001" stroke="#555" stroke-width="0.4"/>
<line x1="99.7" y1="113.46625000000002" x2="100.7" y2="113.46625000000002" stroke="#555" stroke-width="0.4"/>
<line x1="99.7" y1="112.70250000000001" x2="100.7" y2="112.70250000000001" stroke="#555" stroke-width="0.4"/>
<line x1="99.7" y1="111.93875000000001" x2="100.7" y2="111.93875000000001" stroke="#555" stroke-width="0.4"/>
<line x1="98.5" y1="126.45" x2="100.7" y2="126.45" stroke="#1a1a1a" stroke-width="0.9"/>
<line x1="99.7" y1="137.1425" x2="100.7" y2="137.1425" stroke="#555" stroke-width="0.4"/>
<line x1="99.7" y1="134.393" x2="100.7" y2="134.393" stroke="#555" stroke-width="0.4"/>
<line x1="99.7" y1="132.56" x2="100.7" y2="132.56" stroke="#555" stroke-width="0.4"/>
<line x1="99.7" y1="131.0325" x2="100.7" y2="131.0325" stroke="#555" stroke-width="0.4"/>
<line x1="99.7" y1="129.8105" x2="100.7" y2="129.8105" stroke="#555" stroke-width="0.4"/>
<line x1="99.7" y1="128.74125" x2="100.7" y2="128.74125" stroke="#555" stroke-width="0.4"/>
<line x1="99.7" y1="127.9775" x2="100.7" y2="127.9775" stroke="#555" stroke-width="0.4"/>
<line x1="99.7" y1="127.21375" x2="100.7" y2="127.21375" stroke="#555" stroke-width="0.4"/>
<line x1="98.5" y1="141.725" x2="100.7" y2="141.725" stroke="#1a1a1a" stroke-width="0.9"/>
<line x1="99.7" y1="152.4175" x2="100.7" y2="152.4175" stroke="#555" stroke-width="0.4"/>
<line x1="99.7" y1="149.668" x2="100.7" y2="149.668" stroke="#555" stroke-width="0.4"/>
<line x1="99.7" y1="147.83499999999998" x2="100.7" y2="147.83499999999998" stroke="#555" stroke-width="0.4"/>
<line x1="99.7" y1="146.3075" x2="100.7" y2="146.3075" stroke="#555" stroke-width="0.4"/>
<line x1="99.7" y1="145.0855" x2="100.7" y2="145.0855" stroke="#555" stroke-width="0.4"/>
<line x1="99.7" y1="144.01624999999999" x2="100.7" y2="144.01624999999999" stroke="#555" stroke-width="0.4"/>
<line x1="99.7" y1="143.2525" x2="100.7" y2="143.2525" stroke="#555" stroke-width="0.4"/>
<line x1="99.7" y1="142.48874999999998" x2="100.7" y2="142.48874999999998" stroke="#555" stroke-width="0.4"/>
<line x1="98.5" y1="157.0" x2="100.7" y2="157.0" stroke="#1a1a1a" stroke-width="0.9"/>
<line x1="100.7" y1="157.0" x2="100.7" y2="159.2" stroke="#1a1a1a" stroke-width="0.9"/>
<line x1="105.3125" y1="157.0" x2="105.3125" y2="158.0" stroke="#555" stroke-width="0.4"/>
<line x1="108.08" y1="157.0" x2="108.08" y2="158.0" stroke="#555" stroke-width="0.4"/>
<line x1="109.925" y1="157.0" x2="109.925" y2="158.0" stroke="#555" stroke-width="0.4"/>
<line x1="111.4625" y1="157.0" x2="111.4625" y2="158.0" stroke="#555" stroke-width="0.4"/>
<line x1="112.6925" y1="157.0" x2="112.6925" y2="158.0" stroke="#555" stroke-width="0.4"/>
<line x1="113.76875" y1="157.0" x2="113.76875" y2="158.0" stroke="#555" stroke-width="0.4"/>
<line x1="114.5375" y1="157.0" x2="114.5375" y2="158.0" stroke="#555" stroke-width="0.4"/>
<line x1="115.30625" y1="157.0" x2="115.30625" y2="158.0" stroke="#555" stroke-width="0.4"/>
<line x1="116.075" y1="157.0" x2="116.075" y2="159.2" stroke="#1a1a1a" stroke-width="0.9"/>
<line x1="120.6875" y1="157.0" x2="120.6875" y2="158.0" stroke="#555" stroke-width="0.4"/>
<line x1="123.455" y1="157.0" x2="123.455" y2="158.0" stroke="#555" stroke-width="0.4"/>
<line x1="125.3" y1="157.0" x2="125.3" y2="158.0" stroke="#555" stroke-width="0.4"/>
<line x1="126.8375" y1="157.0" x2="126.8375" y2="158.0" stroke="#555" stroke-width="0.4"/>
<line x1="128.0675" y1="157.0" x2="128.0675" y2="158.0" stroke="#555" stroke-width="0.4"/>
<line x1="129.14375" y1="157.0" x2="129.14375" y2="158.0" stroke="#555" stroke-width="0.4"/>
<line x1="129.9125" y1="157.0" x2="129.9125" y2="158.0" stroke="#555" stroke-width="0.4"/>
<line x1="130.68125" y1="157.0" x2="130.68125" y2="158.0" stroke="#555" stroke-width="0.4"/>
<line x1="131.45" y1="157.0" x2="131.45" y2="159.2" stroke="#1a1a1a" stroke-width="0.9"/>
<line x1="136.0625" y1="157.0" x2="136.0625" y2="158.0" stroke="#555" stroke-width="0.4"/>
<line x1="138.82999999999998" y1="157.0" x2="138.82999999999998" y2="158.0" stroke="#555" stroke-width="0.4"/>
<line x1="140.67499999999998" y1="157.0" x2="140.67499999999998" y2="158.0" stroke="#555" stroke-width="0.4"/>
<line x1="142.21249999999998" y1="157.0" x2="142.21249999999998" y2="158.0" stroke="#555" stroke-width="0.4"/>
<line x1="143.4425" y1="157.0" x2="143.4425" y2="158.0" stroke="#555" stroke-width="0.4"/>
<line x1="144.51874999999998" y1="157.0" x2="144.51874999999998" y2="158.0" stroke="#555" stroke-width="0.4"/>
<line x1="145.2875" y1="157.0" x2="145.2875" y2="158.0" stroke="#555" stroke-width="0.4"/>
<line x1="146.05624999999998" y1="157.0" x2="146.05624999999998" y2="158.0" stroke="#555" stroke-width="0.4"/>
<line x1="146.825" y1="157.0" x2="146.825" y2="159.2" stroke="#1a1a1a" stroke-width="0.9"/>
<line x1="151.4375" y1="157.0" x2="151.4375" y2="158.0" stroke="#555" stroke-width="0.4"/>
<line x1="154.20499999999998" y1="157.0" x2="154.20499999999998" y2="158.0" stroke="#555" stroke-width="0.4"/>
<line x1="156.04999999999998" y1="157.0" x2="156.04999999999998" y2="158.0" stroke="#555" stroke-width="0.4"/>
<line x1="157.58749999999998" y1="157.0" x2="157.58749999999998" y2="158.0" stroke="#555" stroke-width="0.4"/>
<line x1="158.8175" y1="157.0" x2="158.8175" y2="158.0" stroke="#555" stroke-width="0.4"/>
<line x1="159.89374999999998" y1="157.0" x2="159.89374999999998" y2="158.0" stroke="#555" stroke-width="0.4"/>
<line x1="160.6625" y1="157.0" x2="160.6625" y2="158.0" stroke="#555" stroke-width="0.4"/>
<line x1="161.43124999999998" y1="157.0" x2="161.43124999999998" y2="158.0" stroke="#555" stroke-width="0.4"/>
<line x1="162.2" y1="157.0" x2="162.2" y2="159.2" stroke="#1a1a1a" stroke-width="0.9"/>
<rect x="94.10000000000001" y="95.4" width="2.5" height="2.0" fill="#333" fill-opacity="0.8"/>
<rect x="96.8" y="94.2" width="1.3" height="1.3" fill="#333" fill-opacity="0.7"/>
<rect x="94.10000000000001" y="110.67500000000001" width="2.5" height="2.0" fill="#333" fill-opacity="0.8"/>
<rect x="96.8" y="109.47500000000001" width="1.3" height="1.3" fill="#333" fill-opacity="0.7"/>
<rect x="94.10000000000001" y="125.95" width="2.5" height="2.0" fill="#333" fill-opacity="0.8"/>
<rect x="96.8" y="124.75" width="1.3" height="1.3" fill="#333" fill-opacity="0.7"/>
<rect x="94.10000000000001" y="141.225" width="2.5" height="2.0" fill="#333" fill-opacity="0.8"/>
<rect x="96.8" y="140.025" width="1.3" height="1.3" fill="#333" fill-opacity="0.7"/>
<rect x="94.10000000000001" y="156.5" width="2.5" height="2.0" fill="#333" fill-opacity="0.8"/>
<rect x="96.8" y="155.3" width="1.3" height="1.3" fill="#333" fill-opacity="0.7"/>
<rect x="100.7" y="162.8" width="2.4" height="2.0" fill="#333" fill-opacity="0.8"/>
<rect x="103.2" y="161.7" width="1.2" height="1.3" fill="#333" fill-opacity="0.7"/>
<rect x="116.075" y="162.8" width="2.4" height="2.0" fill="#333" fill-opacity="0.8"/>
<rect x="118.575" y="161.7" width="1.2" height="1.3" fill="#333" fill-opacity="0.7"/>
<rect x="131.45" y="162.8" width="2.4" height="2.0" fill="#333" fill-opacity="0.8"/>
<rect x="133.95" y="161.7" width="1.2" height="1.3" fill="#333" fill-opacity="0.7"/>
<rect x="146.825" y="162.8" width="2.4" height="2.0" fill="#333" fill-opacity="0.8"/>
<rect x="149.325" y="161.7" width="1.2" height="1.3" fill="#333" fill-opacity="0.7"/>
<rect x="162.2" y="162.8" width="2.4" height="2.0" fill="#333" fill-opacity="0.8"/>
<rect x="164.7" y="161.7" width="1.2" height="1.3" fill="#333" fill-opacity="0.7"/>
<path d="M135.0 96.80000000000001 L162.2 96.80000000000001 L162.2 118.3 L125.1 118.3 Z" fill="none" stroke="#222" stroke-width="1.0"/>
<line x1="162.79999999999998" y1="96.80000000000001" x2="162.79999999999998" y2="118.30000000000001" stroke="#666" stroke-width="1.0"/>
<text transform="translate(131.7 93.6)" font-size="8.0" font-weight="bold" text-anchor="middle" fill="#1a1a1a" stroke="#1a1a1a" stroke-width="0.3">CTRL RNAi</text>
<text transform="translate(159.79999999999998 125.8)" font-size="8.1" font-weight="bold" text-anchor="end" fill="#1a1a1a" stroke="#1a1a1a" stroke-width="0.3">30.46</text>
<path d="M198.9 109.6h0.9v0.9h-0.9zM206.1 101.9h0.9v0.9h-0.9zM197.6 109.3h0.9v0.9h-0.9zM201.9 107.3h0.9v0.9h-0.9zM196.0 110.4h0.9v0.9h-0.9zM205.0 105.6h0.9v0.9h-0.9zM204.7 107.2h0.9v0.9h-0.9zM199.5 110.9h0.9v0.9h-0.9zM200.2 103.9h0.9v0.9h-0.9zM200.1 107.7h0.9v0.9h-0.9zM203.8 108.3h0.9v0.9h-0.9zM200.8 104.9h0.9v0.9h-0.9zM208.3 100.3h0.9v0.9h-0.9zM199.1 110.3h0.9v0.9h-0.9zM198.2 105.9h0.9v0.9h-0.9zM198.5 111.4h0.9v0.9h-0.9zM197.1 109.3h0.9v0.9h-0.9zM198.9 107.2h0.9v0.9h-0.9zM198.0 108.7h0.9v0.9h-0.9zM204.4 107.0h0.9v0.9h-0.9zM197.9 105.0h0.9v0.9h-0.9zM195.4 110.1h0.9v0.9h-0.9zM193.6 115.2h0.9v0.9h-0.9zM201.1 106.6h0.9v0.9h-0.9zM194.8 108.6h0.9v0.9h-0.9zM199.0 109.6h0.9v0.9h-0.9zM200.2 108.7h0.9v0.9h-0.9zM200.1 101.3h0.9v0.9h-0.9zM201.7 109.5h0.9v0.9h-0.9zM199.1 107.9h0.9v0.9h-0.9zM198.7 104.3h0.9v0.9h-0.9zM208.6 100.7h0.9v0.9h-0.9zM202.5 103.9h0.9v0.9h-0.9zM207.5 105.2h0.9v0.9h-0.9zM206.4 105.4h0.9v0.9h-0.9zM205.2 107.4h0.9v0.9h-0.9zM202.5 105.7h0.9v0.9h-0.9zM202.5 102.6h0.9v0.9h-0.9zM192.7 114.4h0.9v0.9h-0.9zM200.4 104.6h0.9v0.9h-0.9zM198.5 105.2h0.9v0.9h-0.9zM198.0 108.9h0.9v0.9h-0.9zM202.4 107.8h0.9v0.9h-0.9zM201.3 107.9h0.9v0.9h-0.9zM202.3 103.3h0.9v0.9h-0.9zM193.7 109.3h0.9v0.9h-0.9zM199.2 106.0h0.9v0.9h-0.9zM207.9 99.6h0.9v0.9h-0.9zM201.5 103.7h0.9v0.9h-0.9zM201.6 102.2h0.9v0.9h-0.9zM204.5 104.4h0.9v0.9h-0.9zM197.7 105.0h0.9v0.9h-0.9zM206.1 101.1h0.9v0.9h-0.9zM202.8 98.1h0.9v0.9h-0.9zM198.9 113.0h0.9v0.9h-0.9zM207.3 102.0h0.9v0.9h-0.9zM205.3 105.1h0.9v0.9h-0.9zM199.7 107.6h0.9v0.9h-0.9zM194.8 106.6h0.9v0.9h-0.9zM202.3 107.6h0.9v0.9h-0.9zM199.7 103.6h0.9v0.9h-0.9zM204.0 104.5h0.9v0.9h-0.9zM203.2 104.0h0.9v0.9h-0.9zM201.3 109.2h0.9v0.9h-0.9zM204.2 100.6h0.9v0.9h-0.9zM198.1 111.1h0.9v0.9h-0.9zM202.2 105.6h0.9v0.9h-0.9zM198.6 110.9h0.9v0.9h-0.9zM201.8 106.4h0.9v0.9h-0.9zM201.5 104.4h0.9v0.9h-0.9zM202.4 105.7h0.9v0.9h-0.9zM204.0 105.4h0.9v0.9h-0.9zM195.2 108.2h0.9v0.9h-0.9zM201.4 109.4h0.9v0.9h-0.9zM200.0 110.3h0.9v0.9h-0.9zM205.9 105.5h0.9v0.9h-0.9zM209.0 100.8h0.9v0.9h-0.9zM203.6 108.0h0.9v0.9h-0.9zM203.6 107.4h0.9v0.9h-0.9zM202.3 109.5h0.9v0.9h-0.9zM199.5 101.8h0.9v0.9h-0.9zM204.5 103.3h0.9v0.9h-0.9zM197.2 108.0h0.9v0.9h-0.9zM201.3 109.4h0.9v0.9h-0.9zM201.9 105.5h0.9v0.9h-0.9zM199.6 104.7h0.9v0.9h-0.9zM197.9 107.1h0.9v0.9h-0.9zM198.4 104.7h0.9v0.9h-0.9zM200.7 109.4h0.9v0.9h-0.9zM202.5 105.3h0.9v0.9h-0.9zM201.8 105.1h0.9v0.9h-0.9zM197.7 111.1h0.9v0.9h-0.9zM209.7 101.8h0.9v0.9h-0.9zM206.6 109.6h0.9v0.9h-0.9zM197.1 110.5h0.9v0.9h-0.9zM199.2 106.7h0.9v0.9h-0.9zM194.7 110.4h0.9v0.9h-0.9zM200.1 102.3h0.9v0.9h-0.9zM199.4 106.0h0.9v0.9h-0.9zM198.0 110.2h0.9v0.9h-0.9zM207.4 103.2h0.9v0.9h-0.9zM205.6 105.4h0.9v0.9h-0.9zM201.4 107.7h0.9v0.9h-0.9zM205.1 102.3h0.9v0.9h-0.9zM198.4 104.1h0.9v0.9h-0.9zM192.9 109.5h0.9v0.9h-0.9zM204.6 104.9h0.9v0.9h-0.9zM203.5 108.4h0.9v0.9h-0.9zM196.2 113.6h0.9v0.9h-0.9zM202.2 107.8h0.9v0.9h-0.9zM204.8 101.4h0.9v0.9h-0.9zM198.2 109.4h0.9v0.9h-0.9zM199.8 105.4h0.9v0.9h-0.9zM199.4 105.3h0.9v0.9h-0.9zM200.8 105.3h0.9v0.9h-0.9zM205.6 100.1h0.9v0.9h-0.9zM203.0 105.1h0.9v0.9h-0.9zM205.3 100.6h0.9v0.9h-0.9zM201.5 111.0h0.9v0.9h-0.9zM197.9 107.3h0.9v0.9h-0.9zM198.1 105.5h0.9v0.9h-0.9zM207.3 106.4h0.9v0.9h-0.9zM199.3 105.3h0.9v0.9h-0.9zM196.8 111.1h0.9v0.9h-0.9zM199.6 108.8h0.9v0.9h-0.9zM191.5 111.6h0.9v0.9h-0.9zM203.7 105.7h0.9v0.9h-0.9zM190.8 114.2h0.9v0.9h-0.9zM201.3 106.1h0.9v0.9h-0.9zM199.0 106.4h0.9v0.9h-0.9zM202.0 107.1h0.9v0.9h-0.9zM189.3 114.3h0.9v0.9h-0.9zM203.9 103.7h0.9v0.9h-0.9zM204.0 101.5h0.9v0.9h-0.9zM209.1 103.5h0.9v0.9h-0.9zM203.0 112.8h0.9v0.9h-0.9zM208.2 105.9h0.9v0.9h-0.9zM196.3 109.2h0.9v0.9h-0.9zM204.0 107.3h0.9v0.9h-0.9zM199.4 103.7h0.9v0.9h-0.9zM205.0 103.0h0.9v0.9h-0.9zM202.0 104.7h0.9v0.9h-0.9zM198.6 104.0h0.9v0.9h-0.9zM202.4 103.5h0.9v0.9h-0.9zM194.9 111.7h0.9v0.9h-0.9zM202.0 108.4h0.9v0.9h-0.9zM202.2 102.0h0.9v0.9h-0.9zM200.2 106.9h0.9v0.9h-0.9zM199.7 104.1h0.9v0.9h-0.9zM202.4 108.2h0.9v0.9h-0.9zM207.3 106.2h0.9v0.9h-0.9zM200.2 99.6h0.9v0.9h-0.9zM199.1 106.0h0.9v0.9h-0.9zM192.3 116.7h0.9v0.9h-0.9zM204.1 104.1h0.9v0.9h-0.9zM202.8 106.5h0.9v0.9h-0.9zM201.9 109.7h0.9v0.9h-0.9zM208.6 103.5h0.9v0.9h-0.9zM199.1 108.3h0.9v0.9h-0.9zM205.3 105.4h0.9v0.9h-0.9zM199.6 110.0h0.9v0.9h-0.9zM204.2 105.8h0.9v0.9h-0.9zM199.3 107.4h0.9v0.9h-0.9zM193.8 111.1h0.9v0.9h-0.9zM198.8 106.9h0.9v0.9h-0.9zM199.4 106.5h0.9v0.9h-0.9zM201.3 106.4h0.9v0.9h-0.9zM198.4 107.7h0.9v0.9h-0.9zM201.1 107.6h0.9v0.9h-0.9zM201.9 104.6h0.9v0.9h-0.9z" fill="#222" fill-opacity="0.4"/>
<path d="M192.2 105.8h0.9v0.9h-0.9zM193.9 113.2h0.9v0.9h-0.9zM198.0 115.4h0.9v0.9h-0.9zM198.2 106.9h0.9v0.9h-0.9zM197.9 106.5h0.9v0.9h-0.9zM196.6 109.9h0.9v0.9h-0.9zM192.3 113.1h0.9v0.9h-0.9zM197.6 105.2h0.9v0.9h-0.9zM206.1 104.7h0.9v0.9h-0.9zM204.4 101.5h0.9v0.9h-0.9zM190.8 108.6h0.9v0.9h-0.9zM187.7 107.8h0.9v0.9h-0.9zM207.3 100.3h0.9v0.9h-0.9zM199.8 105.2h0.9v0.9h-0.9zM202.1 112.5h0.9v0.9h-0.9zM188.6 111.0h0.9v0.9h-0.9zM198.8 104.3h0.9v0.9h-0.9zM206.1 108.6h0.9v0.9h-0.9zM206.1 106.3h0.9v0.9h-0.9zM200.9 110.9h0.9v0.9h-0.9zM193.2 107.0h0.9v0.9h-0.9zM197.9 107.7h0.9v0.9h-0.9zM204.5 100.1h0.9v0.9h-0.9zM204.5 101.0h0.9v0.9h-0.9zM189.7 107.2h0.9v0.9h-0.9zM196.8 103.4h0.9v0.9h-0.9zM201.1 106.8h0.9v0.9h-0.9zM193.9 103.4h0.9v0.9h-0.9zM197.9 110.6h0.9v0.9h-0.9zM191.6 116.0h0.9v0.9h-0.9zM198.9 105.8h0.9v0.9h-0.9zM202.2 108.5h0.9v0.9h-0.9zM198.2 105.3h0.9v0.9h-0.9zM202.7 102.6h0.9v0.9h-0.9zM203.7 108.9h0.9v0.9h-0.9zM210.0 107.2h0.9v0.9h-0.9zM205.6 104.1h0.9v0.9h-0.9zM199.1 108.7h0.9v0.9h-0.9zM208.5 114.0h0.9v0.9h-0.9zM201.7 102.6h0.9v0.9h-0.9z" fill="#222" fill-opacity="0.3"/>
<path d="M226.1 104.2h0.9v0.9h-0.9zM223.5 105.1h0.9v0.9h-0.9zM213.0 107.2h0.9v0.9h-0.9zM217.1 104.9h0.9v0.9h-0.9zM221.6 108.3h0.9v0.9h-0.9zM225.2 105.8h0.9v0.9h-0.9zM209.4 110.5h0.9v0.9h-0.9zM217.4 111.3h0.9v0.9h-0.9zM206.8 105.2h0.9v0.9h-0.9zM219.0 114.0h0.9v0.9h-0.9zM212.3 103.3h0.9v0.9h-0.9zM216.2 112.5h0.9v0.9h-0.9zM226.4 104.9h0.9v0.9h-0.9zM215.4 103.5h0.9v0.9h-0.9zM214.3 106.0h0.9v0.9h-0.9zM220.6 111.8h0.9v0.9h-0.9zM230.5 107.6h0.9v0.9h-0.9zM222.6 109.2h0.9v0.9h-0.9zM219.1 114.0h0.9v0.9h-0.9zM222.0 112.9h0.9v0.9h-0.9zM220.0 111.0h0.9v0.9h-0.9zM221.0 108.4h0.9v0.9h-0.9zM215.0 107.5h0.9v0.9h-0.9zM218.6 107.6h0.9v0.9h-0.9zM216.8 106.7h0.9v0.9h-0.9zM222.8 107.9h0.9v0.9h-0.9zM217.9 108.0h0.9v0.9h-0.9zM225.1 107.1h0.9v0.9h-0.9zM225.6 106.2h0.9v0.9h-0.9zM226.2 110.3h0.9v0.9h-0.9zM216.0 109.9h0.9v0.9h-0.9zM224.2 106.0h0.9v0.9h-0.9zM217.4 109.5h0.9v0.9h-0.9zM217.5 107.8h0.9v0.9h-0.9zM218.6 109.5h0.9v0.9h-0.9zM222.4 112.7h0.9v0.9h-0.9zM216.9 116.7h0.9v0.9h-0.9zM216.9 113.5h0.9v0.9h-0.9zM217.9 104.6h0.9v0.9h-0.9zM216.3 107.7h0.9v0.9h-0.9zM223.9 103.0h0.9v0.9h-0.9zM215.3 108.2h0.9v0.9h-0.9zM221.8 109.7h0.9v0.9h-0.9zM222.8 108.2h0.9v0.9h-0.9zM217.3 112.0h0.9v0.9h-0.9zM227.1 109.7h0.9v0.9h-0.9zM219.3 106.2h0.9v0.9h-0.9zM229.0 109.7h0.9v0.9h-0.9zM221.6 104.2h0.9v0.9h-0.9zM221.5 115.3h0.9v0.9h-0.9zM217.7 108.0h0.9v0.9h-0.9zM226.2 108.1h0.9v0.9h-0.9zM222.7 114.0h0.9v0.9h-0.9zM212.7 106.3h0.9v0.9h-0.9zM221.9 108.9h0.9v0.9h-0.9zM218.7 108.2h0.9v0.9h-0.9zM219.2 109.6h0.9v0.9h-0.9zM216.1 107.8h0.9v0.9h-0.9zM219.7 105.6h0.9v0.9h-0.9zM220.7 102.5h0.9v0.9h-0.9zM221.7 108.3h0.9v0.9h-0.9zM212.6 112.3h0.9v0.9h-0.9zM212.7 114.3h0.9v0.9h-0.9zM214.9 112.0h0.9v0.9h-0.9zM218.2 113.1h0.9v0.9h-0.9zM217.4 111.5h0.9v0.9h-0.9zM216.9 103.4h0.9v0.9h-0.9zM220.5 109.9h0.9v0.9h-0.9zM220.5 113.2h0.9v0.9h-0.9zM214.8 104.6h0.9v0.9h-0.9zM219.8 106.7h0.9v0.9h-0.9zM218.0 108.6h0.9v0.9h-0.9zM214.4 111.6h0.9v0.9h-0.9zM217.9 113.6h0.9v0.9h-0.9zM219.8 111.5h0.9v0.9h-0.9zM217.1 106.8h0.9v0.9h-0.9zM215.9 106.2h0.9v0.9h-0.9zM220.8 109.0h0.9v0.9h-0.9zM213.1 104.3h0.9v0.9h-0.9zM214.2 103.6h0.9v0.9h-0.9zM214.1 104.4h0.9v0.9h-0.9zM222.0 105.4h0.9v0.9h-0.9zM215.6 108.3h0.9v0.9h-0.9zM218.7 109.8h0.9v0.9h-0.9zM222.3 110.4h0.9v0.9h-0.9zM216.8 112.1h0.9v0.9h-0.9zM220.4 106.6h0.9v0.9h-0.9zM226.0 105.3h0.9v0.9h-0.9zM220.9 112.1h0.9v0.9h-0.9zM219.1 109.6h0.9v0.9h-0.9zM219.1 110.5h0.9v0.9h-0.9zM219.6 108.6h0.9v0.9h-0.9zM222.0 103.4h0.9v0.9h-0.9zM219.8 107.8h0.9v0.9h-0.9zM228.3 109.4h0.9v0.9h-0.9zM215.3 110.4h0.9v0.9h-0.9zM216.6 105.3h0.9v0.9h-0.9zM217.1 110.0h0.9v0.9h-0.9zM224.4 111.5h0.9v0.9h-0.9zM219.7 108.2h0.9v0.9h-0.9zM219.5 112.0h0.9v0.9h-0.9zM217.9 111.8h0.9v0.9h-0.9zM214.6 108.6h0.9v0.9h-0.9zM222.4 110.6h0.9v0.9h-0.9zM219.5 107.2h0.9v0.9h-0.9zM209.6 107.4h0.9v0.9h-0.9zM214.3 107.5h0.9v0.9h-0.9zM226.3 106.5h0.9v0.9h-0.9zM222.7 108.6h0.9v0.9h-0.9zM213.1 108.9h0.9v0.9h-0.9zM222.2 105.3h0.9v0.9h-0.9zM212.8 107.6h0.9v0.9h-0.9zM222.1 106.9h0.9v0.9h-0.9zM220.6 109.9h0.9v0.9h-0.9zM218.6 109.9h0.9v0.9h-0.9zM224.8 108.1h0.9v0.9h-0.9zM220.1 105.7h0.9v0.9h-0.9zM215.0 108.3h0.9v0.9h-0.9zM222.5 106.7h0.9v0.9h-0.9zM211.7 111.2h0.9v0.9h-0.9zM230.2 101.5h0.9v0.9h-0.9zM213.3 108.9h0.9v0.9h-0.9zM220.9 106.0h0.9v0.9h-0.9zM220.2 111.7h0.9v0.9h-0.9zM217.2 110.6h0.9v0.9h-0.9zM219.2 106.0h0.9v0.9h-0.9zM215.5 106.9h0.9v0.9h-0.9zM225.1 111.8h0.9v0.9h-0.9zM219.7 104.3h0.9v0.9h-0.9zM216.1 107.5h0.9v0.9h-0.9zM209.0 108.6h0.9v0.9h-0.9zM219.9 104.9h0.9v0.9h-0.9zM216.4 107.3h0.9v0.9h-0.9zM227.6 110.4h0.9v0.9h-0.9zM222.3 108.8h0.9v0.9h-0.9zM212.2 111.2h0.9v0.9h-0.9zM215.2 103.3h0.9v0.9h-0.9zM222.1 107.6h0.9v0.9h-0.9zM218.5 110.0h0.9v0.9h-0.9zM217.4 109.7h0.9v0.9h-0.9zM224.8 107.7h0.9v0.9h-0.9zM216.8 108.7h0.9v0.9h-0.9zM221.7 107.5h0.9v0.9h-0.9zM218.9 106.7h0.9v0.9h-0.9zM218.1 110.1h0.9v0.9h-0.9zM214.5 108.1h0.9v0.9h-0.9zM211.4 106.7h0.9v0.9h-0.9zM218.9 110.1h0.9v0.9h-0.9zM213.5 108.3h0.9v0.9h-0.9zM214.0 109.5h0.9v0.9h-0.9z" fill="#222" fill-opacity="0.33"/>
<ellipse cx="200.8" cy="106.4" rx="8.4" ry="5.0" fill="url(#gl)" fill-opacity="0.9" transform="rotate(-33 200.8 106.4)"/>
<ellipse cx="218.5" cy="108.6" rx="6.5" ry="4.0" fill="url(#gl)" fill-opacity="0.55" transform="rotate(0 218.5 108.6)"/>
<ellipse cx="200.8" cy="106.4" rx="5.6" ry="3.0" fill="#000" fill-opacity="1.0" filter="url(#bl5)" transform="rotate(-33 200.8 106.4)"/>
<ellipse cx="200.8" cy="106.4" rx="4.4" ry="2.3" fill="#000" fill-opacity="1.0" filter="url(#bl5)" transform="rotate(-33 200.8 106.4)"/>
<ellipse cx="218.5" cy="108.6" rx="2.4" ry="1.6" fill="#000" fill-opacity="0.35" filter="url(#bl10)" transform="rotate(0 218.5 108.6)"/>
<line x1="239.2" y1="95.9" x2="239.2" y2="157.0" stroke="#777" stroke-width="0.8"/>
<line x1="178.0" y1="157.0" x2="239.6" y2="157.0" stroke="#666" stroke-width="0.8"/>
<line x1="178.0" y1="95.4" x2="178.0" y2="157.4" stroke="#222" stroke-width="1.1"/>
<line x1="177.5" y1="95.9" x2="239.6" y2="95.9" stroke="#333" stroke-width="1.0"/>
<line x1="175.8" y1="95.9" x2="178.0" y2="95.9" stroke="#1a1a1a" stroke-width="0.9"/>
<line x1="177.0" y1="106.5925" x2="178.0" y2="106.5925" stroke="#555" stroke-width="0.4"/>
<line x1="177.0" y1="103.843" x2="178.0" y2="103.843" stroke="#555" stroke-width="0.4"/>
<line x1="177.0" y1="102.01" x2="178.0" y2="102.01" stroke="#555" stroke-width="0.4"/>
<line x1="177.0" y1="100.4825" x2="178.0" y2="100.4825" stroke="#555" stroke-width="0.4"/>
<line x1="177.0" y1="99.26050000000001" x2="178.0" y2="99.26050000000001" stroke="#555" stroke-width="0.4"/>
<line x1="177.0" y1="98.19125000000001" x2="178.0" y2="98.19125000000001" stroke="#555" stroke-width="0.4"/>
<line x1="177.0" y1="97.42750000000001" x2="178.0" y2="97.42750000000001" stroke="#555" stroke-width="0.4"/>
<line x1="177.0" y1="96.66375000000001" x2="178.0" y2="96.66375000000001" stroke="#555" stroke-width="0.4"/>
<line x1="175.8" y1="111.17500000000001" x2="178.0" y2="111.17500000000001" stroke="#1a1a1a" stroke-width="0.9"/>
<line x1="177.0" y1="121.8675" x2="178.0" y2="121.8675" stroke="#555" stroke-width="0.4"/>
<line x1="177.0" y1="119.11800000000001" x2="178.0" y2="119.11800000000001" stroke="#555" stroke-width="0.4"/>
<line x1="177.0" y1="117.28500000000001" x2="178.0" y2="117.28500000000001" stroke="#555" stroke-width="0.4"/>
<line x1="177.0" y1="115.75750000000001" x2="178.0" y2="115.75750000000001" stroke="#555" stroke-width="0.4"/>
<line x1="177.0" y1="114.53550000000001" x2="178.0" y2="114.53550000000001" stroke="#555" stroke-width="0.4"/>
<line x1="177.0" y1="113.46625000000002" x2="178.0" y2="113.46625000000002" stroke="#555" stroke-width="0.4"/>
<line x1="177.0" y1="112.70250000000001" x2="178.0" y2="112.70250000000001" stroke="#555" stroke-width="0.4"/>
<line x1="177.0" y1="111.93875000000001" x2="178.0" y2="111.93875000000001" stroke="#555" stroke-width="0.4"/>
<line x1="175.8" y1="126.45" x2="178.0" y2="126.45" stroke="#1a1a1a" stroke-width="0.9"/>
<line x1="177.0" y1="137.1425" x2="178.0" y2="137.1425" stroke="#555" stroke-width="0.4"/>
<line x1="177.0" y1="134.393" x2="178.0" y2="134.393" stroke="#555" stroke-width="0.4"/>
<line x1="177.0" y1="132.56" x2="178.0" y2="132.56" stroke="#555" stroke-width="0.4"/>
<line x1="177.0" y1="131.0325" x2="178.0" y2="131.0325" stroke="#555" stroke-width="0.4"/>
<line x1="177.0" y1="129.8105" x2="178.0" y2="129.8105" stroke="#555" stroke-width="0.4"/>
<line x1="177.0" y1="128.74125" x2="178.0" y2="128.74125" stroke="#555" stroke-width="0.4"/>
<line x1="177.0" y1="127.9775" x2="178.0" y2="127.9775" stroke="#555" stroke-width="0.4"/>
<line x1="177.0" y1="127.21375" x2="178.0" y2="127.21375" stroke="#555" stroke-width="0.4"/>
<line x1="175.8" y1="141.725" x2="178.0" y2="141.725" stroke="#1a1a1a" stroke-width="0.9"/>
<line x1="177.0" y1="152.4175" x2="178.0" y2="152.4175" stroke="#555" stroke-width="0.4"/>
<line x1="177.0" y1="149.668" x2="178.0" y2="149.668" stroke="#555" stroke-width="0.4"/>
<line x1="177.0" y1="147.83499999999998" x2="178.0" y2="147.83499999999998" stroke="#555" stroke-width="0.4"/>
<line x1="177.0" y1="146.3075" x2="178.0" y2="146.3075" stroke="#555" stroke-width="0.4"/>
<line x1="177.0" y1="145.0855" x2="178.0" y2="145.0855" stroke="#555" stroke-width="0.4"/>
<line x1="177.0" y1="144.01624999999999" x2="178.0" y2="144.01624999999999" stroke="#555" stroke-width="0.4"/>
<line x1="177.0" y1="143.2525" x2="178.0" y2="143.2525" stroke="#555" stroke-width="0.4"/>
<line x1="177.0" y1="142.48874999999998" x2="178.0" y2="142.48874999999998" stroke="#555" stroke-width="0.4"/>
<line x1="175.8" y1="157.0" x2="178.0" y2="157.0" stroke="#1a1a1a" stroke-width="0.9"/>
<line x1="178.0" y1="157.0" x2="178.0" y2="159.2" stroke="#1a1a1a" stroke-width="0.9"/>
<line x1="182.59" y1="157.0" x2="182.59" y2="158.0" stroke="#555" stroke-width="0.4"/>
<line x1="185.344" y1="157.0" x2="185.344" y2="158.0" stroke="#555" stroke-width="0.4"/>
<line x1="187.18" y1="157.0" x2="187.18" y2="158.0" stroke="#555" stroke-width="0.4"/>
<line x1="188.71" y1="157.0" x2="188.71" y2="158.0" stroke="#555" stroke-width="0.4"/>
<line x1="189.934" y1="157.0" x2="189.934" y2="158.0" stroke="#555" stroke-width="0.4"/>
<line x1="191.005" y1="157.0" x2="191.005" y2="158.0" stroke="#555" stroke-width="0.4"/>
<line x1="191.77" y1="157.0" x2="191.77" y2="158.0" stroke="#555" stroke-width="0.4"/>
<line x1="192.535" y1="157.0" x2="192.535" y2="158.0" stroke="#555" stroke-width="0.4"/>
<line x1="193.3" y1="157.0" x2="193.3" y2="159.2" stroke="#1a1a1a" stroke-width="0.9"/>
<line x1="197.89000000000001" y1="157.0" x2="197.89000000000001" y2="158.0" stroke="#555" stroke-width="0.4"/>
<line x1="200.644" y1="157.0" x2="200.644" y2="158.0" stroke="#555" stroke-width="0.4"/>
<line x1="202.48000000000002" y1="157.0" x2="202.48000000000002" y2="158.0" stroke="#555" stroke-width="0.4"/>
<line x1="204.01000000000002" y1="157.0" x2="204.01000000000002" y2="158.0" stroke="#555" stroke-width="0.4"/>
<line x1="205.234" y1="157.0" x2="205.234" y2="158.0" stroke="#555" stroke-width="0.4"/>
<line x1="206.305" y1="157.0" x2="206.305" y2="158.0" stroke="#555" stroke-width="0.4"/>
<line x1="207.07000000000002" y1="157.0" x2="207.07000000000002" y2="158.0" stroke="#555" stroke-width="0.4"/>
<line x1="207.835" y1="157.0" x2="207.835" y2="158.0" stroke="#555" stroke-width="0.4"/>
<line x1="208.6" y1="157.0" x2="208.6" y2="159.2" stroke="#1a1a1a" stroke-width="0.9"/>
<line x1="213.19" y1="157.0" x2="213.19" y2="158.0" stroke="#555" stroke-width="0.4"/>
<line x1="215.944" y1="157.0" x2="215.944" y2="158.0" stroke="#555" stroke-width="0.4"/>
<line x1="217.78" y1="157.0" x2="217.78" y2="158.0" stroke="#555" stroke-width="0.4"/>
<line x1="219.31" y1="157.0" x2="219.31" y2="158.0" stroke="#555" stroke-width="0.4"/>
<line x1="220.534" y1="157.0" x2="220.534" y2="158.0" stroke="#555" stroke-width="0.4"/>
<line x1="221.605" y1="157.0" x2="221.605" y2="158.0" stroke="#555" stroke-width="0.4"/>
<line x1="222.37" y1="157.0" x2="222.37" y2="158.0" stroke="#555" stroke-width="0.4"/>
<line x1="223.135" y1="157.0" x2="223.135" y2="158.0" stroke="#555" stroke-width="0.4"/>
<line x1="223.89999999999998" y1="157.0" x2="223.89999999999998" y2="159.2" stroke="#1a1a1a" stroke-width="0.9"/>
<line x1="228.48999999999998" y1="157.0" x2="228.48999999999998" y2="158.0" stroke="#555" stroke-width="0.4"/>
<line x1="231.24399999999997" y1="157.0" x2="231.24399999999997" y2="158.0" stroke="#555" stroke-width="0.4"/>
<line x1="233.07999999999998" y1="157.0" x2="233.07999999999998" y2="158.0" stroke="#555" stroke-width="0.4"/>
<line x1="234.60999999999999" y1="157.0" x2="234.60999999999999" y2="158.0" stroke="#555" stroke-width="0.4"/>
<line x1="235.83399999999997" y1="157.0" x2="235.83399999999997" y2="158.0" stroke="#555" stroke-width="0.4"/>
<line x1="236.90499999999997" y1="157.0" x2="236.90499999999997" y2="158.0" stroke="#555" stroke-width="0.4"/>
<line x1="237.67" y1="157.0" x2="237.67" y2="158.0" stroke="#555" stroke-width="0.4"/>
<line x1="238.43499999999997" y1="157.0" x2="238.43499999999997" y2="158.0" stroke="#555" stroke-width="0.4"/>
<line x1="239.2" y1="157.0" x2="239.2" y2="159.2" stroke="#1a1a1a" stroke-width="0.9"/>
<rect x="171.4" y="95.4" width="2.5" height="2.0" fill="#333" fill-opacity="0.8"/>
<rect x="174.1" y="94.2" width="1.3" height="1.3" fill="#333" fill-opacity="0.7"/>
<rect x="171.4" y="110.67500000000001" width="2.5" height="2.0" fill="#333" fill-opacity="0.8"/>
<rect x="174.1" y="109.47500000000001" width="1.3" height="1.3" fill="#333" fill-opacity="0.7"/>
<rect x="171.4" y="125.95" width="2.5" height="2.0" fill="#333" fill-opacity="0.8"/>
<rect x="174.1" y="124.75" width="1.3" height="1.3" fill="#333" fill-opacity="0.7"/>
<rect x="171.4" y="141.225" width="2.5" height="2.0" fill="#333" fill-opacity="0.8"/>
<rect x="174.1" y="140.025" width="1.3" height="1.3" fill="#333" fill-opacity="0.7"/>
<rect x="171.4" y="156.5" width="2.5" height="2.0" fill="#333" fill-opacity="0.8"/>
<rect x="174.1" y="155.3" width="1.3" height="1.3" fill="#333" fill-opacity="0.7"/>
<rect x="178.0" y="162.8" width="2.4" height="2.0" fill="#333" fill-opacity="0.8"/>
<rect x="180.5" y="161.7" width="1.2" height="1.3" fill="#333" fill-opacity="0.7"/>
<rect x="193.3" y="162.8" width="2.4" height="2.0" fill="#333" fill-opacity="0.8"/>
<rect x="195.8" y="161.7" width="1.2" height="1.3" fill="#333" fill-opacity="0.7"/>
<rect x="208.6" y="162.8" width="2.4" height="2.0" fill="#333" fill-opacity="0.8"/>
<rect x="211.1" y="161.7" width="1.2" height="1.3" fill="#333" fill-opacity="0.7"/>
<rect x="223.89999999999998" y="162.8" width="2.4" height="2.0" fill="#333" fill-opacity="0.8"/>
<rect x="226.39999999999998" y="161.7" width="1.2" height="1.3" fill="#333" fill-opacity="0.7"/>
<rect x="239.2" y="162.8" width="2.4" height="2.0" fill="#333" fill-opacity="0.8"/>
<rect x="241.7" y="161.7" width="1.2" height="1.3" fill="#333" fill-opacity="0.7"/>
<path d="M212.3 96.80000000000001 L239.2 96.80000000000001 L239.2 118.3 L202.4 118.3 Z" fill="none" stroke="#222" stroke-width="1.0"/>
<line x1="239.79999999999998" y1="96.80000000000001" x2="239.79999999999998" y2="118.30000000000001" stroke="#666" stroke-width="1.0"/>
<text transform="translate(209.5 93.6)" font-size="8.0" font-weight="bold" text-anchor="middle" fill="#1a1a1a" stroke="#1a1a1a" stroke-width="0.3">LAMP1 RNAi</text>
<text transform="translate(236.79999999999998 125.8)" font-size="8.1" font-weight="bold" text-anchor="end" fill="#1a1a1a" stroke="#1a1a1a" stroke-width="0.3">11.46</text>
<line x1="90.2" y1="140" x2="90.2" y2="169.2" stroke="#1a1a1a" stroke-width="1.0"/>
<line x1="89.7" y1="169.2" x2="118" y2="169.2" stroke="#1a1a1a" stroke-width="1.0"/>
<path d="M90.2 136.8 L88.6 141.6 L91.8 141.6 Z" fill="#111"/>
<path d="M121.4 169.2 L116.4 167.5 L116.4 170.9 Z" fill="#111"/>
<text transform="translate(87.2 153) rotate(-90)" font-size="8.0" font-weight="bold" text-anchor="middle" fill="#1a1a1a" stroke="#1a1a1a" stroke-width="0.3">TFL-4</text>
<text transform="translate(127.9 177)" font-size="8.1" font-weight="bold" text-anchor="middle" fill="#1a1a1a" stroke="#1a1a1a" stroke-width="0.3">granzyme B activity</text>
<line x1="297.29999999999995" y1="80.30000000000001" x2="297.29999999999995" y2="63.34" stroke="#1a1a1a" stroke-width="1.1"/>
<line x1="291.99999999999994" y1="63.34" x2="302.59999999999997" y2="63.34" stroke="#1a1a1a" stroke-width="1.1"/>
<rect x="286.2" y="80.30" width="22.19999999999999" height="37.60" fill="#c3c3c3" stroke="#1a1a1a" stroke-width="1.1"/>
<line x1="328.45000000000005" y1="80.30000000000001" x2="328.45000000000005" y2="67.66" stroke="#1a1a1a" stroke-width="1.1"/>
<line x1="323.15000000000003" y1="67.66" x2="333.75000000000006" y2="67.66" stroke="#1a1a1a" stroke-width="1.1"/>
<rect x="317.3" y="80.30" width="22.30000000000001" height="37.60" fill="#c3c3c3" stroke="#1a1a1a" stroke-width="1.1"/>
<line x1="361.0" y1="95.5" x2="361.0" y2="81.74000000000001" stroke="#1a1a1a" stroke-width="1.1"/>
<line x1="355.7" y1="81.74000000000001" x2="366.3" y2="81.74000000000001" stroke="#1a1a1a" stroke-width="1.1"/>
<rect x="350.2" y="95.50" width="21.600000000000023" height="22.40" fill="#c3c3c3" stroke="#1a1a1a" stroke-width="1.1"/>
<line x1="281.1" y1="53.4" x2="281.1" y2="118.5" stroke="#1a1a1a" stroke-width="1.3"/>
<line x1="280.5" y1="117.9" x2="377.5" y2="117.9" stroke="#1a1a1a" stroke-width="1.3"/>
<line x1="278.1" y1="117.9" x2="281.1" y2="117.9" stroke="#1a1a1a" stroke-width="1.0"/>
<text transform="translate(276.6 120.888) scale(0.9 1)" font-size="8.3" font-weight="bold" text-anchor="end" fill="#1a1a1a" stroke="#1a1a1a" stroke-width="0.3">0</text>
<line x1="278.1" y1="101.9" x2="281.1" y2="101.9" stroke="#1a1a1a" stroke-width="1.0"/>
<text transform="translate(276.6 104.888) scale(0.9 1)" font-size="8.3" font-weight="bold" text-anchor="end" fill="#1a1a1a" stroke="#1a1a1a" stroke-width="0.3">10</text>
<line x1="278.1" y1="85.9" x2="281.1" y2="85.9" stroke="#1a1a1a" stroke-width="1.0"/>
<text transform="translate(276.6 88.888) scale(0.9 1)" font-size="8.3" font-weight="bold" text-anchor="end" fill="#1a1a1a" stroke="#1a1a1a" stroke-width="0.3">20</text>
<line x1="278.1" y1="69.9" x2="281.1" y2="69.9" stroke="#1a1a1a" stroke-width="1.0"/>
<text transform="translate(276.6 72.888) scale(0.9 1)" font-size="8.3" font-weight="bold" text-anchor="end" fill="#1a1a1a" stroke="#1a1a1a" stroke-width="0.3">30</text>
<line x1="278.1" y1="53.900000000000006" x2="281.1" y2="53.900000000000006" stroke="#1a1a1a" stroke-width="1.0"/>
<text transform="translate(276.6 56.888000000000005) scale(0.9 1)" font-size="8.3" font-weight="bold" text-anchor="end" fill="#1a1a1a" stroke="#1a1a1a" stroke-width="0.3">40</text>
<text transform="translate(296.9 126.3)" font-size="7.8" font-weight="bold" text-anchor="middle" fill="#1a1a1a" stroke="#1a1a1a" stroke-width="0.3">mock</text>
<text transform="translate(328.5 126.3)" font-size="7.8" font-weight="bold" text-anchor="middle" fill="#1a1a1a" stroke="#1a1a1a" stroke-width="0.3">CTRL</text>
<text transform="translate(328.5 135.3)" font-size="7.8" font-weight="bold" text-anchor="middle" fill="#1a1a1a" stroke="#1a1a1a" stroke-width="0.3">RNAi</text>
<text transform="translate(361.0 126.3)" font-size="7.8" font-weight="bold" text-anchor="middle" fill="#1a1a1a" stroke="#1a1a1a" stroke-width="0.3">LAMP1</text>
<text transform="translate(361.0 135.3)" font-size="7.8" font-weight="bold" text-anchor="middle" fill="#1a1a1a" stroke="#1a1a1a" stroke-width="0.3">RNAi</text>
<text transform="translate(329.3 46.0)" font-size="9.0" font-weight="bold" text-anchor="middle" fill="#1a1a1a" stroke="#1a1a1a" stroke-width="0.3">NK cells</text>
<text transform="translate(257.2 87.0) rotate(-90)" font-size="7.8" font-weight="bold" text-anchor="middle" fill="#1a1a1a" stroke="#1a1a1a" stroke-width="0.3">% of target cells</text>
<text transform="translate(265.6 85.0) rotate(-90)" font-size="7.8" font-weight="bold" text-anchor="middle" fill="#1a1a1a" stroke="#1a1a1a" stroke-width="0.3">with gzmB activity</text>
<line x1="313.3" y1="117.9" x2="313.3" y2="120.7" stroke="#1a1a1a" stroke-width="1.0"/>
<line x1="345.4" y1="117.9" x2="345.4" y2="120.7" stroke="#1a1a1a" stroke-width="1.0"/>
<line x1="377.2" y1="117.9" x2="377.2" y2="120.7" stroke="#1a1a1a" stroke-width="1.0"/>
<path d="M297.3 60.4 V58.2 H328.8 V60.4 M312.4 58.2 V54.4 H360.0 V57.0" fill="none" stroke="#111" stroke-width="1.0"/>
<text transform="translate(336.6 56.6)" font-size="9.6" font-weight="bold" text-anchor="middle" fill="#1a1a1a" stroke="#1a1a1a" stroke-width="0.3">*</text>
<line x1="437.2" y1="71.628" x2="437.2" y2="56.004" stroke="#1a1a1a" stroke-width="1.1"/>
<line x1="431.59999999999997" y1="56.004" x2="442.8" y2="56.004" stroke="#1a1a1a" stroke-width="1.1"/>
<rect x="426.0" y="71.63" width="22.399999999999977" height="46.87" fill="#c3c3c3" stroke="#1a1a1a" stroke-width="1.1"/>
<line x1="470.1" y1="77.70400000000001" x2="470.1" y2="68.156" stroke="#1a1a1a" stroke-width="1.1"/>
<line x1="464.5" y1="68.156" x2="475.70000000000005" y2="68.156" stroke="#1a1a1a" stroke-width="1.1"/>
<rect x="459.4" y="77.70" width="21.400000000000034" height="40.80" fill="#c3c3c3" stroke="#1a1a1a" stroke-width="1.1"/>
<line x1="502.6" y1="109.82" x2="502.6" y2="108.301" stroke="#1a1a1a" stroke-width="1.1"/>
<line x1="497.0" y1="108.301" x2="508.20000000000005" y2="108.301" stroke="#1a1a1a" stroke-width="1.1"/>
<rect x="491.7" y="109.82" width="21.80000000000001" height="8.68" fill="#c3c3c3" stroke="#1a1a1a" stroke-width="1.1"/>
<line x1="421.3" y1="52.9" x2="421.3" y2="119.1" stroke="#1a1a1a" stroke-width="1.3"/>
<line x1="420.7" y1="118.5" x2="519.0" y2="118.5" stroke="#1a1a1a" stroke-width="1.3"/>
<line x1="419.90000000000003" y1="114.16" x2="421.3" y2="114.16" stroke="#1a1a1a" stroke-width="0.6"/>
<line x1="419.90000000000003" y1="109.82" x2="421.3" y2="109.82" stroke="#1a1a1a" stroke-width="0.6"/>
<line x1="419.90000000000003" y1="105.48" x2="421.3" y2="105.48" stroke="#1a1a1a" stroke-width="0.6"/>
<line x1="419.90000000000003" y1="101.14" x2="421.3" y2="101.14" stroke="#1a1a1a" stroke-width="0.6"/>
<line x1="419.90000000000003" y1="92.46000000000001" x2="421.3" y2="92.46000000000001" stroke="#1a1a1a" stroke-width="0.6"/>
<line x1="419.90000000000003" y1="88.12" x2="421.3" y2="88.12" stroke="#1a1a1a" stroke-width="0.6"/>
<line x1="419.90000000000003" y1="83.78" x2="421.3" y2="83.78" stroke="#1a1a1a" stroke-width="0.6"/>
<line x1="419.90000000000003" y1="79.44" x2="421.3" y2="79.44" stroke="#1a1a1a" stroke-width="0.6"/>
<line x1="419.90000000000003" y1="70.76" x2="421.3" y2="70.76" stroke="#1a1a1a" stroke-width="0.6"/>
<line x1="419.90000000000003" y1="66.42" x2="421.3" y2="66.42" stroke="#1a1a1a" stroke-width="0.6"/>
<line x1="419.90000000000003" y1="62.08" x2="421.3" y2="62.08" stroke="#1a1a1a" stroke-width="0.6"/>
<line x1="419.90000000000003" y1="57.74" x2="421.3" y2="57.74" stroke="#1a1a1a" stroke-width="0.6"/>
<line x1="418.5" y1="118.5" x2="421.3" y2="118.5" stroke="#1a1a1a" stroke-width="1.0"/>
<text transform="translate(418.4 121.524) scale(0.92 1)" font-size="8.4" font-weight="bold" text-anchor="end" fill="#1a1a1a" stroke="#1a1a1a" stroke-width="0.3">0</text>
<line x1="418.5" y1="96.8" x2="421.3" y2="96.8" stroke="#1a1a1a" stroke-width="1.0"/>
<text transform="translate(418.4 99.824) scale(0.92 1)" font-size="8.4" font-weight="bold" text-anchor="end" fill="#1a1a1a" stroke="#1a1a1a" stroke-width="0.3">5</text>
<line x1="418.5" y1="75.1" x2="421.3" y2="75.1" stroke="#1a1a1a" stroke-width="1.0"/>
<text transform="translate(418.4 78.124) scale(0.92 1)" font-size="8.4" font-weight="bold" text-anchor="end" fill="#1a1a1a" stroke="#1a1a1a" stroke-width="0.3">10</text>
<line x1="418.5" y1="53.400000000000006" x2="421.3" y2="53.400000000000006" stroke="#1a1a1a" stroke-width="1.0"/>
<text transform="translate(418.4 56.42400000000001) scale(0.92 1)" font-size="8.4" font-weight="bold" text-anchor="end" fill="#1a1a1a" stroke="#1a1a1a" stroke-width="0.3">15</text>
<text transform="translate(437.3 126.5)" font-size="7.8" font-weight="bold" text-anchor="middle" fill="#1a1a1a" stroke="#1a1a1a" stroke-width="0.3">UT</text>
<text transform="translate(470.6 126.5)" font-size="7.8" font-weight="bold" text-anchor="middle" fill="#1a1a1a" stroke="#1a1a1a" stroke-width="0.3">CTRL</text>
<text transform="translate(470.6 135.7)" font-size="7.8" font-weight="bold" text-anchor="middle" fill="#1a1a1a" stroke="#1a1a1a" stroke-width="0.3">RNAi</text>
<text transform="translate(502.3 126.5)" font-size="7.8" font-weight="bold" text-anchor="middle" fill="#1a1a1a" stroke="#1a1a1a" stroke-width="0.3">LAMP1</text>
<text transform="translate(502.3 135.7)" font-size="7.8" font-weight="bold" text-anchor="middle" fill="#1a1a1a" stroke="#1a1a1a" stroke-width="0.3">RNAi</text>
<text transform="translate(469.6 41.1)" font-size="8.9" font-weight="bold" text-anchor="middle" fill="#1a1a1a" stroke="#1a1a1a" stroke-width="0.3">YTS cells</text>
<text transform="translate(396.6 85.6) rotate(-90)" font-size="7.8" font-weight="bold" text-anchor="middle" fill="#1a1a1a" stroke="#1a1a1a" stroke-width="0.3">% of target cells</text>
<text transform="translate(406.8 84) rotate(-90)" font-size="7.8" font-weight="bold" text-anchor="middle" fill="#1a1a1a" stroke="#1a1a1a" stroke-width="0.3">with gzmB activity</text>
<line x1="453.6" y1="118.5" x2="453.6" y2="121.5" stroke="#1a1a1a" stroke-width="1.0"/>
<line x1="486.4" y1="118.5" x2="486.4" y2="121.5" stroke="#1a1a1a" stroke-width="1.0"/>
<line x1="518.6" y1="118.5" x2="518.6" y2="121.5" stroke="#1a1a1a" stroke-width="1.0"/>
<path d="M436.3 53.2 V50.9 H500.4 V53.2 M469.8 62.8 V60.4 H500.4 V62.8" fill="none" stroke="#111" stroke-width="1.0"/>
<text transform="translate(469.7 52.2)" font-size="10.4" font-weight="bold" text-anchor="middle" fill="#1a1a1a" stroke="#1a1a1a" stroke-width="0.3">**</text>
<text transform="translate(486.2 61.4)" font-size="10.4" font-weight="bold" text-anchor="middle" fill="#1a1a1a" stroke="#1a1a1a" stroke-width="0.3">*</text>
<text transform="translate(0.8 194.2)" font-size="11.0" font-weight="bold" text-anchor="start" fill="#1a1a1a" stroke="#1a1a1a" stroke-width="0.3">B</text>
<line x1="58.15" y1="222.68125" x2="58.15" y2="217.03750000000002" stroke="#1a1a1a" stroke-width="1.1"/>
<line x1="53.15" y1="217.03750000000002" x2="63.15" y2="217.03750000000002" stroke="#1a1a1a" stroke-width="1.1"/>
<rect x="49.0" y="222.68" width="18.299999999999997" height="26.12" fill="#c3c3c3" stroke="#1a1a1a" stroke-width="1.1"/>
<line x1="84.4" y1="220.84375" x2="84.4" y2="216.25" stroke="#1a1a1a" stroke-width="1.1"/>
<line x1="79.4" y1="216.25" x2="89.4" y2="216.25" stroke="#1a1a1a" stroke-width="1.1"/>
<rect x="75.5" y="220.84" width="17.799999999999997" height="27.96" fill="#c3c3c3" stroke="#1a1a1a" stroke-width="1.1"/>
<line x1="111.0" y1="217.95625" x2="111.0" y2="212.44375000000002" stroke="#1a1a1a" stroke-width="1.1"/>
<line x1="106.0" y1="212.44375000000002" x2="116.0" y2="212.44375000000002" stroke="#1a1a1a" stroke-width="1.1"/>
<rect x="102.0" y="217.96" width="18.0" height="30.84" fill="#c3c3c3" stroke="#1a1a1a" stroke-width="1.1"/>
<line x1="45" y1="195.8" x2="45" y2="249.4" stroke="#1a1a1a" stroke-width="1.3"/>
<line x1="44.4" y1="248.8" x2="125.6" y2="248.8" stroke="#1a1a1a" stroke-width="1.3"/>
<line x1="43.6" y1="246.175" x2="45" y2="246.175" stroke="#1a1a1a" stroke-width="0.6"/>
<line x1="43.6" y1="243.55" x2="45" y2="243.55" stroke="#1a1a1a" stroke-width="0.6"/>
<line x1="43.6" y1="240.925" x2="45" y2="240.925" stroke="#1a1a1a" stroke-width="0.6"/>
<line x1="43.6" y1="238.3" x2="45" y2="238.3" stroke="#1a1a1a" stroke-width="0.6"/>
<line x1="43.6" y1="233.05" x2="45" y2="233.05" stroke="#1a1a1a" stroke-width="0.6"/>
<line x1="43.6" y1="230.425" x2="45" y2="230.425" stroke="#1a1a1a" stroke-width="0.6"/>
<line x1="43.6" y1="227.8" x2="45" y2="227.8" stroke="#1a1a1a" stroke-width="0.6"/>
<line x1="43.6" y1="225.175" x2="45" y2="225.175" stroke="#1a1a1a" stroke-width="0.6"/>
<line x1="43.6" y1="219.925" x2="45" y2="219.925" stroke="#1a1a1a" stroke-width="0.6"/>
<line x1="43.6" y1="217.3" x2="45" y2="217.3" stroke="#1a1a1a" stroke-width="0.6"/>
<line x1="43.6" y1="214.675" x2="45" y2="214.675" stroke="#1a1a1a" stroke-width="0.6"/>
<line x1="43.6" y1="212.05" x2="45" y2="212.05" stroke="#1a1a1a" stroke-width="0.6"/>
<line x1="43.6" y1="206.8" x2="45" y2="206.8" stroke="#1a1a1a" stroke-width="0.6"/>
<line x1="43.6" y1="204.175" x2="45" y2="204.175" stroke="#1a1a1a" stroke-width="0.6"/>
<line x1="43.6" y1="201.55" x2="45" y2="201.55" stroke="#1a1a1a" stroke-width="0.6"/>
<line x1="43.6" y1="198.925" x2="45" y2="198.925" stroke="#1a1a1a" stroke-width="0.6"/>
<line x1="42.8" y1="248.8" x2="45" y2="248.8" stroke="#1a1a1a" stroke-width="1.0"/>
<text transform="translate(41.6 251.104)" font-size="6.4" font-weight="bold" text-anchor="end" fill="#1a1a1a" stroke="#1a1a1a" stroke-width="0.3">0.0</text>
<line x1="42.8" y1="235.675" x2="45" y2="235.675" stroke="#1a1a1a" stroke-width="1.0"/>
<text transform="translate(41.6 237.979)" font-size="6.4" font-weight="bold" text-anchor="end" fill="#1a1a1a" stroke="#1a1a1a" stroke-width="0.3">0.5</text>
<line x1="42.8" y1="222.55" x2="45" y2="222.55" stroke="#1a1a1a" stroke-width="1.0"/>
<text transform="translate(41.6 224.854)" font-size="6.4" font-weight="bold" text-anchor="end" fill="#1a1a1a" stroke="#1a1a1a" stroke-width="0.3">1.0</text>
<line x1="42.8" y1="209.425" x2="45" y2="209.425" stroke="#1a1a1a" stroke-width="1.0"/>
<text transform="translate(41.6 211.729)" font-size="6.4" font-weight="bold" text-anchor="end" fill="#1a1a1a" stroke="#1a1a1a" stroke-width="0.3">1.5</text>
<line x1="42.8" y1="196.3" x2="45" y2="196.3" stroke="#1a1a1a" stroke-width="1.0"/>
<text transform="translate(41.6 198.604)" font-size="6.4" font-weight="bold" text-anchor="end" fill="#1a1a1a" stroke="#1a1a1a" stroke-width="0.3">2.0</text>
<text transform="translate(58.2 257.3)" font-size="7.4" font-weight="bold" text-anchor="middle" fill="#1a1a1a" stroke="#1a1a1a" stroke-width="0.3">mock</text>
<text transform="translate(83.9 257.3)" font-size="7.4" font-weight="bold" text-anchor="middle" fill="#1a1a1a" stroke="#1a1a1a" stroke-width="0.3">CTRL</text>
<text transform="translate(83.9 265.1)" font-size="7.4" font-weight="bold" text-anchor="middle" fill="#1a1a1a" stroke="#1a1a1a" stroke-width="0.3">RNAi</text>
<text transform="translate(111.3 257.3)" font-size="7.4" font-weight="bold" text-anchor="middle" fill="#1a1a1a" stroke="#1a1a1a" stroke-width="0.3">LAMP1</text>
<text transform="translate(111.3 265.1)" font-size="7.4" font-weight="bold" text-anchor="middle" fill="#1a1a1a" stroke="#1a1a1a" stroke-width="0.3">RNAi</text>
<text transform="translate(81.5 197)" font-size="9.2" font-weight="bold" text-anchor="middle" fill="#1a1a1a" stroke="#1a1a1a" stroke-width="0.3">NK cells</text>
<text transform="translate(18.2 223.6) rotate(-90) scale(0.93 1)" font-size="9.4" font-weight="bold" text-anchor="middle" fill="#1a1a1a" stroke="#1a1a1a" stroke-width="0.3">relative gzmB</text>
<text transform="translate(28.6 223.2) rotate(-90) scale(0.93 1)" font-size="9.4" font-weight="bold" text-anchor="middle" fill="#1a1a1a" stroke="#1a1a1a" stroke-width="0.3">transcript level</text>
<line x1="71.8" y1="248.8" x2="71.8" y2="251.20000000000002" stroke="#1a1a1a" stroke-width="1.0"/>
<line x1="98.0" y1="248.8" x2="98.0" y2="251.20000000000002" stroke="#1a1a1a" stroke-width="1.0"/>
<line x1="125.2" y1="248.8" x2="125.2" y2="251.20000000000002" stroke="#1a1a1a" stroke-width="1.0"/>
<line x1="58.6" y1="300.35" x2="58.6" y2="295.58" stroke="#1a1a1a" stroke-width="1.1"/>
<line x1="53.6" y1="295.58" x2="63.6" y2="295.58" stroke="#1a1a1a" stroke-width="1.1"/>
<rect x="49.5" y="300.35" width="18.200000000000003" height="29.15" fill="#c3c3c3" stroke="#1a1a1a" stroke-width="1.1"/>
<line x1="85.25" y1="297.7" x2="85.25" y2="290.28" stroke="#1a1a1a" stroke-width="1.1"/>
<line x1="80.25" y1="290.28" x2="90.25" y2="290.28" stroke="#1a1a1a" stroke-width="1.1"/>
<rect x="76.0" y="297.70" width="18.5" height="31.80" fill="#c3c3c3" stroke="#1a1a1a" stroke-width="1.1"/>
<line x1="112.25" y1="304.06" x2="112.25" y2="296.64" stroke="#1a1a1a" stroke-width="1.1"/>
<line x1="107.25" y1="296.64" x2="117.25" y2="296.64" stroke="#1a1a1a" stroke-width="1.1"/>
<rect x="103.2" y="304.06" width="18.099999999999994" height="25.44" fill="#c3c3c3" stroke="#1a1a1a" stroke-width="1.1"/>
<line x1="45" y1="276.0" x2="45" y2="330.1" stroke="#1a1a1a" stroke-width="1.3"/>
<line x1="44.4" y1="329.5" x2="126.4" y2="329.5" stroke="#1a1a1a" stroke-width="1.3"/>
<line x1="43.6" y1="326.85" x2="45" y2="326.85" stroke="#1a1a1a" stroke-width="0.6"/>
<line x1="43.6" y1="324.2" x2="45" y2="324.2" stroke="#1a1a1a" stroke-width="0.6"/>
<line x1="43.6" y1="321.55" x2="45" y2="321.55" stroke="#1a1a1a" stroke-width="0.6"/>
<line x1="43.6" y1="318.9" x2="45" y2="318.9" stroke="#1a1a1a" stroke-width="0.6"/>
<line x1="43.6" y1="313.6" x2="45" y2="313.6" stroke="#1a1a1a" stroke-width="0.6"/>
<line x1="43.6" y1="310.95" x2="45" y2="310.95" stroke="#1a1a1a" stroke-width="0.6"/>
<line x1="43.6" y1="308.3" x2="45" y2="308.3" stroke="#1a1a1a" stroke-width="0.6"/>
<line x1="43.6" y1="305.65" x2="45" y2="305.65" stroke="#1a1a1a" stroke-width="0.6"/>
<line x1="43.6" y1="300.35" x2="45" y2="300.35" stroke="#1a1a1a" stroke-width="0.6"/>
<line x1="43.6" y1="297.7" x2="45" y2="297.7" stroke="#1a1a1a" stroke-width="0.6"/>
<line x1="43.6" y1="295.05" x2="45" y2="295.05" stroke="#1a1a1a" stroke-width="0.6"/>
<line x1="43.6" y1="292.4" x2="45" y2="292.4" stroke="#1a1a1a" stroke-width="0.6"/>
<line x1="43.6" y1="287.1" x2="45" y2="287.1" stroke="#1a1a1a" stroke-width="0.6"/>
<line x1="43.6" y1="284.45" x2="45" y2="284.45" stroke="#1a1a1a" stroke-width="0.6"/>
<line x1="43.6" y1="281.8" x2="45" y2="281.8" stroke="#1a1a1a" stroke-width="0.6"/>
<line x1="43.6" y1="279.15" x2="45" y2="279.15" stroke="#1a1a1a" stroke-width="0.6"/>
<line x1="42.8" y1="329.5" x2="45" y2="329.5" stroke="#1a1a1a" stroke-width="1.0"/>
<text transform="translate(41.6 331.804)" font-size="6.4" font-weight="bold" text-anchor="end" fill="#1a1a1a" stroke="#1a1a1a" stroke-width="0.3">0.0</text>
<line x1="42.8" y1="316.25" x2="45" y2="316.25" stroke="#1a1a1a" stroke-width="1.0"/>
<text transform="translate(41.6 318.554)" font-size="6.4" font-weight="bold" text-anchor="end" fill="#1a1a1a" stroke="#1a1a1a" stroke-width="0.3">0.5</text>
<line x1="42.8" y1="303.0" x2="45" y2="303.0" stroke="#1a1a1a" stroke-width="1.0"/>
<text transform="translate(41.6 305.304)" font-size="6.4" font-weight="bold" text-anchor="end" fill="#1a1a1a" stroke="#1a1a1a" stroke-width="0.3">1.0</text>
<line x1="42.8" y1="289.75" x2="45" y2="289.75" stroke="#1a1a1a" stroke-width="1.0"/>
<text transform="translate(41.6 292.054)" font-size="6.4" font-weight="bold" text-anchor="end" fill="#1a1a1a" stroke="#1a1a1a" stroke-width="0.3">1.5</text>
<line x1="42.8" y1="276.5" x2="45" y2="276.5" stroke="#1a1a1a" stroke-width="1.0"/>
<text transform="translate(41.6 278.804)" font-size="6.4" font-weight="bold" text-anchor="end" fill="#1a1a1a" stroke="#1a1a1a" stroke-width="0.3">2.0</text>
<text transform="translate(57.7 337.8)" font-size="7.4" font-weight="bold" text-anchor="middle" fill="#1a1a1a" stroke="#1a1a1a" stroke-width="0.3">UT</text>
<text transform="translate(85.4 337.8)" font-size="7.4" font-weight="bold" text-anchor="middle" fill="#1a1a1a" stroke="#1a1a1a" stroke-width="0.3">CTRL</text>
<text transform="translate(85.4 346.40000000000003)" font-size="7.4" font-weight="bold" text-anchor="middle" fill="#1a1a1a" stroke="#1a1a1a" stroke-width="0.3">RNAi</text>
<text transform="translate(112.4 337.8)" font-size="7.4" font-weight="bold" text-anchor="middle" fill="#1a1a1a" stroke="#1a1a1a" stroke-width="0.3">LAMP1</text>
<text transform="translate(112.4 346.40000000000003)" font-size="7.4" font-weight="bold" text-anchor="middle" fill="#1a1a1a" stroke="#1a1a1a" stroke-width="0.3">RNAi</text>
<text transform="translate(84 281.2)" font-size="9.2" font-weight="bold" text-anchor="middle" fill="#1a1a1a" stroke="#1a1a1a" stroke-width="0.3">YTS cells</text>
<text transform="translate(18.2 303.6) rotate(-90) scale(0.93 1)" font-size="9.4" font-weight="bold" text-anchor="middle" fill="#1a1a1a" stroke="#1a1a1a" stroke-width="0.3">relative gzmB</text>
<text transform="translate(28.6 303.4) rotate(-90) scale(0.93 1)" font-size="9.4" font-weight="bold" text-anchor="middle" fill="#1a1a1a" stroke="#1a1a1a" stroke-width="0.3">transcript level</text>
<line x1="72.0" y1="329.5" x2="72.0" y2="331.9" stroke="#1a1a1a" stroke-width="1.0"/>
<line x1="98.8" y1="329.5" x2="98.8" y2="331.9" stroke="#1a1a1a" stroke-width="1.0"/>
<line x1="126.0" y1="329.5" x2="126.0" y2="331.9" stroke="#1a1a1a" stroke-width="1.0"/>
<text transform="translate(51.5 361.1)" font-size="7.8" font-weight="bold" text-anchor="middle" fill="#1a1a1a" stroke="#1a1a1a" stroke-width="0.3">CTRL</text>
<text transform="translate(76.9 361.1)" font-size="7.8" font-weight="bold" text-anchor="middle" fill="#1a1a1a" stroke="#1a1a1a" stroke-width="0.3">LAMP1</text>
<text transform="translate(31.0 369.7)" font-size="7.8" font-weight="bold" text-anchor="middle" fill="#1a1a1a" stroke="#1a1a1a" stroke-width="0.3">UT</text>
<text transform="translate(51.4 369.7)" font-size="7.8" font-weight="bold" text-anchor="middle" fill="#1a1a1a" stroke="#1a1a1a" stroke-width="0.3">RNAi</text>
<text transform="translate(77.2 369.7)" font-size="7.8" font-weight="bold" text-anchor="middle" fill="#1a1a1a" stroke="#1a1a1a" stroke-width="0.3">RNAi</text>
<rect x="19.8" y="372.0" width="66.6" height="15.0" fill="#d6d6d6" stroke="#333" stroke-width="0.9"/>
<rect x="19.8" y="388.2" width="66.6" height="13.0" fill="#dedede" stroke="#333" stroke-width="0.9"/>
<g filter="url(#bl)">
<rect x="24" y="377.6" width="58" height="4.6" fill="#555" fill-opacity="0.45"/>
<rect x="22.6" y="376.6" width="16.4" height="6.8" rx="3.2" ry="3.2" fill="#050505"/>
<rect x="44.1" y="376.6" width="15.6" height="6.8" rx="3.2" ry="3.2" fill="#050505"/>
<rect x="65.4" y="376.6" width="18.0" height="6.8" rx="3.2" ry="3.2" fill="#050505"/>
<rect x="23" y="393.6" width="60" height="2.0" fill="#222" fill-opacity="0.8"/>
<rect x="23.0" y="392.0" width="16.8" height="5.0" rx="2.2" ry="2.2" fill="#050505"/>
<rect x="44.2" y="392.1" width="17.6" height="4.8" rx="2.2" ry="2.2" fill="#050505"/>
<rect x="65.6" y="392.5" width="18.0" height="4.0" rx="2.2" ry="2.2" fill="#050505"/>
</g>
<text transform="translate(88.6 382.4)" font-size="7.8" font-weight="bold" text-anchor="start" fill="#1a1a1a" stroke="#1a1a1a" stroke-width="0.3">granzyme B</text>
<text transform="translate(90.2 396.0)" font-size="7.8" font-weight="bold" text-anchor="start" fill="#1a1a1a" stroke="#1a1a1a" stroke-width="0.3">actin</text>
<text transform="translate(170.6 194.9)" font-size="11.3" font-weight="bold" text-anchor="start" fill="#1a1a1a" stroke="#1a1a1a" stroke-width="0.3">C</text>
<line x1="222.2" y1="213.0988" x2="222.2" y2="203.4344" stroke="#1a1a1a" stroke-width="1.1"/>
<line x1="217.89999999999998" y1="203.4344" x2="226.5" y2="203.4344" stroke="#1a1a1a" stroke-width="1.1"/>
<rect x="214" y="213.10" width="16.400000000000006" height="52.50" fill="#c3c3c3" stroke="#1a1a1a" stroke-width="1.1"/>
<line x1="246.3" y1="215.31900000000002" x2="246.3" y2="206.17700000000002" stroke="#1a1a1a" stroke-width="1.1"/>
<line x1="242.0" y1="206.17700000000002" x2="250.60000000000002" y2="206.17700000000002" stroke="#1a1a1a" stroke-width="1.1"/>
<rect x="237.8" y="215.32" width="17.0" height="50.28" fill="#c3c3c3" stroke="#1a1a1a" stroke-width="1.1"/>
<line x1="270.65" y1="216.625" x2="270.65" y2="206.17700000000002" stroke="#1a1a1a" stroke-width="1.1"/>
<line x1="266.34999999999997" y1="206.17700000000002" x2="274.95" y2="206.17700000000002" stroke="#1a1a1a" stroke-width="1.1"/>
<rect x="262" y="216.62" width="17.30000000000001" height="48.98" fill="#c3c3c3" stroke="#1a1a1a" stroke-width="1.1"/>
<line x1="295.7" y1="256.1968" x2="295.7" y2="254.8908" stroke="#1a1a1a" stroke-width="1.1"/>
<line x1="291.4" y1="254.8908" x2="300.0" y2="254.8908" stroke="#1a1a1a" stroke-width="1.1"/>
<rect x="287.5" y="256.20" width="16.399999999999977" height="9.40" fill="#c3c3c3" stroke="#1a1a1a" stroke-width="1.1"/>
<line x1="209.5" y1="199.8" x2="209.5" y2="266.20000000000005" stroke="#1a1a1a" stroke-width="1.3"/>
<line x1="208.9" y1="265.6" x2="307.6" y2="265.6" stroke="#1a1a1a" stroke-width="1.3"/>
<line x1="208.1" y1="262.988" x2="209.5" y2="262.988" stroke="#1a1a1a" stroke-width="0.6"/>
<line x1="208.1" y1="260.37600000000003" x2="209.5" y2="260.37600000000003" stroke="#1a1a1a" stroke-width="0.6"/>
<line x1="208.1" y1="257.764" x2="209.5" y2="257.764" stroke="#1a1a1a" stroke-width="0.6"/>
<line x1="208.1" y1="255.15200000000002" x2="209.5" y2="255.15200000000002" stroke="#1a1a1a" stroke-width="0.6"/>
<line x1="208.1" y1="249.92800000000003" x2="209.5" y2="249.92800000000003" stroke="#1a1a1a" stroke-width="0.6"/>
<line x1="208.1" y1="247.31600000000003" x2="209.5" y2="247.31600000000003" stroke="#1a1a1a" stroke-width="0.6"/>
<line x1="208.1" y1="244.704" x2="209.5" y2="244.704" stroke="#1a1a1a" stroke-width="0.6"/>
<line x1="208.1" y1="242.092" x2="209.5" y2="242.092" stroke="#1a1a1a" stroke-width="0.6"/>
<line x1="208.1" y1="236.86800000000002" x2="209.5" y2="236.86800000000002" stroke="#1a1a1a" stroke-width="0.6"/>
<line x1="208.1" y1="234.25600000000003" x2="209.5" y2="234.25600000000003" stroke="#1a1a1a" stroke-width="0.6"/>
<line x1="208.1" y1="231.644" x2="209.5" y2="231.644" stroke="#1a1a1a" stroke-width="0.6"/>
<line x1="208.1" y1="229.032" x2="209.5" y2="229.032" stroke="#1a1a1a" stroke-width="0.6"/>
<line x1="208.1" y1="223.80800000000002" x2="209.5" y2="223.80800000000002" stroke="#1a1a1a" stroke-width="0.6"/>
<line x1="208.1" y1="221.19600000000003" x2="209.5" y2="221.19600000000003" stroke="#1a1a1a" stroke-width="0.6"/>
<line x1="208.1" y1="218.584" x2="209.5" y2="218.584" stroke="#1a1a1a" stroke-width="0.6"/>
<line x1="208.1" y1="215.972" x2="209.5" y2="215.972" stroke="#1a1a1a" stroke-width="0.6"/>
<line x1="208.1" y1="210.74800000000002" x2="209.5" y2="210.74800000000002" stroke="#1a1a1a" stroke-width="0.6"/>
<line x1="208.1" y1="208.13600000000002" x2="209.5" y2="208.13600000000002" stroke="#1a1a1a" stroke-width="0.6"/>
<line x1="208.1" y1="205.524" x2="209.5" y2="205.524" stroke="#1a1a1a" stroke-width="0.6"/>
<line x1="208.1" y1="202.912" x2="209.5" y2="202.912" stroke="#1a1a1a" stroke-width="0.6"/>
<line x1="206.9" y1="265.6" x2="209.5" y2="265.6" stroke="#1a1a1a" stroke-width="1.0"/>
<text transform="translate(205.7 268.372)" font-size="7.7" font-weight="bold" text-anchor="end" fill="#1a1a1a" stroke="#1a1a1a" stroke-width="0.3">0.00</text>
<line x1="206.9" y1="252.54000000000002" x2="209.5" y2="252.54000000000002" stroke="#1a1a1a" stroke-width="1.0"/>
<text transform="translate(205.7 255.312)" font-size="7.7" font-weight="bold" text-anchor="end" fill="#1a1a1a" stroke="#1a1a1a" stroke-width="0.3">0.05</text>
<line x1="206.9" y1="239.48000000000002" x2="209.5" y2="239.48000000000002" stroke="#1a1a1a" stroke-width="1.0"/>
<text transform="translate(205.7 242.252)" font-size="7.7" font-weight="bold" text-anchor="end" fill="#1a1a1a" stroke="#1a1a1a" stroke-width="0.3">0.10</text>
<line x1="206.9" y1="226.42000000000002" x2="209.5" y2="226.42000000000002" stroke="#1a1a1a" stroke-width="1.0"/>
<text transform="translate(205.7 229.192)" font-size="7.7" font-weight="bold" text-anchor="end" fill="#1a1a1a" stroke="#1a1a1a" stroke-width="0.3">0.15</text>
<line x1="206.9" y1="213.36" x2="209.5" y2="213.36" stroke="#1a1a1a" stroke-width="1.0"/>
<text transform="translate(205.7 216.132)" font-size="7.7" font-weight="bold" text-anchor="end" fill="#1a1a1a" stroke="#1a1a1a" stroke-width="0.3">0.20</text>
<line x1="206.9" y1="200.3" x2="209.5" y2="200.3" stroke="#1a1a1a" stroke-width="1.0"/>
<text transform="translate(205.7 203.072)" font-size="7.7" font-weight="bold" text-anchor="end" fill="#1a1a1a" stroke="#1a1a1a" stroke-width="0.3">0.25</text>
<text transform="translate(222 274.3)" font-size="7.4" font-weight="bold" text-anchor="middle" fill="#1a1a1a" stroke="#1a1a1a" stroke-width="0.3">mock</text>
<text transform="translate(246.6 274.3)" font-size="7.4" font-weight="bold" text-anchor="middle" fill="#1a1a1a" stroke="#1a1a1a" stroke-width="0.3">CTRL</text>
<text transform="translate(246.6 282.0)" font-size="7.4" font-weight="bold" text-anchor="middle" fill="#1a1a1a" stroke="#1a1a1a" stroke-width="0.3">RNAi</text>
<text transform="translate(271.0 274.3)" font-size="7.4" font-weight="bold" text-anchor="middle" fill="#1a1a1a" stroke="#1a1a1a" stroke-width="0.3">LAMP1</text>
<text transform="translate(271.0 282.0)" font-size="7.4" font-weight="bold" text-anchor="middle" fill="#1a1a1a" stroke="#1a1a1a" stroke-width="0.3">RNAi</text>
<text transform="translate(297.6 274.3)" font-size="7.4" font-weight="bold" text-anchor="middle" fill="#1a1a1a" stroke="#1a1a1a" stroke-width="0.3">721.221</text>
<text transform="translate(258 197)" font-size="9.2" font-weight="bold" text-anchor="middle" fill="#1a1a1a" stroke="#1a1a1a" stroke-width="0.3">NK cells</text>
<line x1="233.9" y1="265.6" x2="233.9" y2="268.20000000000005" stroke="#1a1a1a" stroke-width="1.0"/>
<line x1="258.5" y1="265.6" x2="258.5" y2="268.20000000000005" stroke="#1a1a1a" stroke-width="1.0"/>
<line x1="283.5" y1="265.6" x2="283.5" y2="268.20000000000005" stroke="#1a1a1a" stroke-width="1.0"/>
<line x1="307.2" y1="265.6" x2="307.2" y2="268.20000000000005" stroke="#1a1a1a" stroke-width="1.0"/>
<text transform="translate(185.6 237.3) rotate(-90) scale(0.97 1)" font-size="9.6" font-weight="bold" text-anchor="middle" fill="#1a1a1a" stroke="#1a1a1a" stroke-width="0.3">OD</text>
<text transform="translate(188.2 223.1) rotate(-90)" font-size="6.4" font-weight="bold" text-anchor="middle" fill="#1a1a1a" stroke="#1a1a1a" stroke-width="0.3">405</text>
<line x1="222.15" y1="322.8438" x2="222.15" y2="319.40659999999997" stroke="#1a1a1a" stroke-width="1.1"/>
<line x1="217.85" y1="319.40659999999997" x2="226.45000000000002" y2="319.40659999999997" stroke="#1a1a1a" stroke-width="1.1"/>
<rect x="213.8" y="322.84" width="16.69999999999999" height="55.66" fill="#c3c3c3" stroke="#1a1a1a" stroke-width="1.1"/>
<line x1="246.7" y1="320.1998" x2="246.7" y2="315.96939999999995" stroke="#1a1a1a" stroke-width="1.1"/>
<line x1="242.39999999999998" y1="315.96939999999995" x2="251.0" y2="315.96939999999995" stroke="#1a1a1a" stroke-width="1.1"/>
<rect x="238.4" y="320.20" width="16.599999999999994" height="58.30" fill="#c3c3c3" stroke="#1a1a1a" stroke-width="1.1"/>
<line x1="270.65" y1="322.315" x2="270.65" y2="318.61339999999996" stroke="#1a1a1a" stroke-width="1.1"/>
<line x1="266.34999999999997" y1="318.61339999999996" x2="274.95" y2="318.61339999999996" stroke="#1a1a1a" stroke-width="1.1"/>
<rect x="262" y="322.31" width="17.30000000000001" height="56.19" fill="#c3c3c3" stroke="#1a1a1a" stroke-width="1.1"/>
<line x1="295.7" y1="364.2224" x2="295.7" y2="359.99199999999996" stroke="#1a1a1a" stroke-width="1.1"/>
<line x1="291.4" y1="359.99199999999996" x2="300.0" y2="359.99199999999996" stroke="#1a1a1a" stroke-width="1.1"/>
<rect x="287.5" y="364.22" width="16.399999999999977" height="14.28" fill="#c3c3c3" stroke="#1a1a1a" stroke-width="1.1"/>
<line x1="209.6" y1="311.9" x2="209.6" y2="379.1" stroke="#1a1a1a" stroke-width="1.3"/>
<line x1="209.0" y1="378.5" x2="307.6" y2="378.5" stroke="#1a1a1a" stroke-width="1.3"/>
<line x1="208.2" y1="375.856" x2="209.6" y2="375.856" stroke="#1a1a1a" stroke-width="0.6"/>
<line x1="208.2" y1="373.212" x2="209.6" y2="373.212" stroke="#1a1a1a" stroke-width="0.6"/>
<line x1="208.2" y1="370.568" x2="209.6" y2="370.568" stroke="#1a1a1a" stroke-width="0.6"/>
<line x1="208.2" y1="367.924" x2="209.6" y2="367.924" stroke="#1a1a1a" stroke-width="0.6"/>
<line x1="208.2" y1="362.63599999999997" x2="209.6" y2="362.63599999999997" stroke="#1a1a1a" stroke-width="0.6"/>
<line x1="208.2" y1="359.99199999999996" x2="209.6" y2="359.99199999999996" stroke="#1a1a1a" stroke-width="0.6"/>
<line x1="208.2" y1="357.348" x2="209.6" y2="357.348" stroke="#1a1a1a" stroke-width="0.6"/>
<line x1="208.2" y1="354.704" x2="209.6" y2="354.704" stroke="#1a1a1a" stroke-width="0.6"/>
<line x1="208.2" y1="349.416" x2="209.6" y2="349.416" stroke="#1a1a1a" stroke-width="0.6"/>
<line x1="208.2" y1="346.772" x2="209.6" y2="346.772" stroke="#1a1a1a" stroke-width="0.6"/>
<line x1="208.2" y1="344.128" x2="209.6" y2="344.128" stroke="#1a1a1a" stroke-width="0.6"/>
<line x1="208.2" y1="341.484" x2="209.6" y2="341.484" stroke="#1a1a1a" stroke-width="0.6"/>
<line x1="208.2" y1="336.19599999999997" x2="209.6" y2="336.19599999999997" stroke="#1a1a1a" stroke-width="0.6"/>
<line x1="208.2" y1="333.55199999999996" x2="209.6" y2="333.55199999999996" stroke="#1a1a1a" stroke-width="0.6"/>
<line x1="208.2" y1="330.908" x2="209.6" y2="330.908" stroke="#1a1a1a" stroke-width="0.6"/>
<line x1="208.2" y1="328.264" x2="209.6" y2="328.264" stroke="#1a1a1a" stroke-width="0.6"/>
<line x1="208.2" y1="322.976" x2="209.6" y2="322.976" stroke="#1a1a1a" stroke-width="0.6"/>
<line x1="208.2" y1="320.332" x2="209.6" y2="320.332" stroke="#1a1a1a" stroke-width="0.6"/>
<line x1="208.2" y1="317.688" x2="209.6" y2="317.688" stroke="#1a1a1a" stroke-width="0.6"/>
<line x1="208.2" y1="315.044" x2="209.6" y2="315.044" stroke="#1a1a1a" stroke-width="0.6"/>
<line x1="207.0" y1="378.5" x2="209.6" y2="378.5" stroke="#1a1a1a" stroke-width="1.0"/>
<text transform="translate(205.7 381.272)" font-size="7.7" font-weight="bold" text-anchor="end" fill="#1a1a1a" stroke="#1a1a1a" stroke-width="0.3">0.00</text>
<line x1="207.0" y1="365.28" x2="209.6" y2="365.28" stroke="#1a1a1a" stroke-width="1.0"/>
<text transform="translate(205.7 368.05199999999996)" font-size="7.7" font-weight="bold" text-anchor="end" fill="#1a1a1a" stroke="#1a1a1a" stroke-width="0.3">0.05</text>
<line x1="207.0" y1="352.06" x2="209.6" y2="352.06" stroke="#1a1a1a" stroke-width="1.0"/>
<text transform="translate(205.7 354.832)" font-size="7.7" font-weight="bold" text-anchor="end" fill="#1a1a1a" stroke="#1a1a1a" stroke-width="0.3">0.10</text>
<line x1="207.0" y1="338.84" x2="209.6" y2="338.84" stroke="#1a1a1a" stroke-width="1.0"/>
<text transform="translate(205.7 341.61199999999997)" font-size="7.7" font-weight="bold" text-anchor="end" fill="#1a1a1a" stroke="#1a1a1a" stroke-width="0.3">0.15</text>
<line x1="207.0" y1="325.62" x2="209.6" y2="325.62" stroke="#1a1a1a" stroke-width="1.0"/>
<text transform="translate(205.7 328.392)" font-size="7.7" font-weight="bold" text-anchor="end" fill="#1a1a1a" stroke="#1a1a1a" stroke-width="0.3">0.20</text>
<line x1="207.0" y1="312.4" x2="209.6" y2="312.4" stroke="#1a1a1a" stroke-width="1.0"/>
<text transform="translate(205.7 315.17199999999997)" font-size="7.7" font-weight="bold" text-anchor="end" fill="#1a1a1a" stroke="#1a1a1a" stroke-width="0.3">0.25</text>
<text transform="translate(222 387.2)" font-size="7.4" font-weight="bold" text-anchor="middle" fill="#1a1a1a" stroke="#1a1a1a" stroke-width="0.3">UT</text>
<text transform="translate(246.6 387.2)" font-size="7.4" font-weight="bold" text-anchor="middle" fill="#1a1a1a" stroke="#1a1a1a" stroke-width="0.3">CTRL</text>
<text transform="translate(246.6 395.0)" font-size="7.4" font-weight="bold" text-anchor="middle" fill="#1a1a1a" stroke="#1a1a1a" stroke-width="0.3">RNAi</text>
<text transform="translate(271.0 387.2)" font-size="7.4" font-weight="bold" text-anchor="middle" fill="#1a1a1a" stroke="#1a1a1a" stroke-width="0.3">LAMP1</text>
<text transform="translate(271.0 395.0)" font-size="7.4" font-weight="bold" text-anchor="middle" fill="#1a1a1a" stroke="#1a1a1a" stroke-width="0.3">RNAi</text>
<text transform="translate(297.6 387.2)" font-size="7.4" font-weight="bold" text-anchor="middle" fill="#1a1a1a" stroke="#1a1a1a" stroke-width="0.3">721.221</text>
<text transform="translate(259.8 308.5)" font-size="9.2" font-weight="bold" text-anchor="middle" fill="#1a1a1a" stroke="#1a1a1a" stroke-width="0.3">YTS cells</text>
<line x1="234.4" y1="378.5" x2="234.4" y2="381.1" stroke="#1a1a1a" stroke-width="1.0"/>
<line x1="258.6" y1="378.5" x2="258.6" y2="381.1" stroke="#1a1a1a" stroke-width="1.0"/>
<line x1="283.5" y1="378.5" x2="283.5" y2="381.1" stroke="#1a1a1a" stroke-width="1.0"/>
<line x1="307.2" y1="378.5" x2="307.2" y2="381.1" stroke="#1a1a1a" stroke-width="1.0"/>
<text transform="translate(185.6 349.8) rotate(-90) scale(0.97 1)" font-size="9.6" font-weight="bold" text-anchor="middle" fill="#1a1a1a" stroke="#1a1a1a" stroke-width="0.3">OD</text>
<text transform="translate(188.2 335.6) rotate(-90)" font-size="6.4" font-weight="bold" text-anchor="middle" fill="#1a1a1a" stroke="#1a1a1a" stroke-width="0.3">405</text>
<text transform="translate(351.8 194.5)" font-size="11.4" font-weight="bold" text-anchor="start" fill="#1a1a1a" stroke="#1a1a1a" stroke-width="0.3">D</text>
<line x1="399.65" y1="219.3728" x2="399.65" y2="207.2768" stroke="#1a1a1a" stroke-width="1.1"/>
<line x1="393.84999999999997" y1="207.2768" x2="405.45" y2="207.2768" stroke="#1a1a1a" stroke-width="1.1"/>
<rect x="388.3" y="219.37" width="22.69999999999999" height="45.43" fill="#c3c3c3" stroke="#1a1a1a" stroke-width="1.1"/>
<line x1="434.0" y1="219.3728" x2="434.0" y2="203.7824" stroke="#1a1a1a" stroke-width="1.1"/>
<line x1="428.2" y1="203.7824" x2="439.8" y2="203.7824" stroke="#1a1a1a" stroke-width="1.1"/>
<rect x="422.4" y="219.37" width="23.200000000000045" height="45.43" fill="#c3c3c3" stroke="#1a1a1a" stroke-width="1.1"/>
<line x1="468.1" y1="214.8032" x2="468.1" y2="200.0192" stroke="#1a1a1a" stroke-width="1.1"/>
<line x1="462.3" y1="200.0192" x2="473.90000000000003" y2="200.0192" stroke="#1a1a1a" stroke-width="1.1"/>
<rect x="456.6" y="214.80" width="23.0" height="50.00" fill="#c3c3c3" stroke="#1a1a1a" stroke-width="1.1"/>
<line x1="383.1" y1="197.1" x2="383.1" y2="265.40000000000003" stroke="#1a1a1a" stroke-width="1.3"/>
<line x1="382.5" y1="264.8" x2="484.4" y2="264.8" stroke="#1a1a1a" stroke-width="1.3"/>
<line x1="381.70000000000005" y1="258.08" x2="383.1" y2="258.08" stroke="#1a1a1a" stroke-width="0.6"/>
<line x1="381.70000000000005" y1="244.64000000000001" x2="383.1" y2="244.64000000000001" stroke="#1a1a1a" stroke-width="0.6"/>
<line x1="381.70000000000005" y1="231.2" x2="383.1" y2="231.2" stroke="#1a1a1a" stroke-width="0.6"/>
<line x1="381.70000000000005" y1="217.76" x2="383.1" y2="217.76" stroke="#1a1a1a" stroke-width="0.6"/>
<line x1="381.70000000000005" y1="204.32" x2="383.1" y2="204.32" stroke="#1a1a1a" stroke-width="0.6"/>
<line x1="380.1" y1="264.8" x2="383.1" y2="264.8" stroke="#1a1a1a" stroke-width="1.0"/>
<text transform="translate(379.4 267.68)" font-size="8.0" font-weight="bold" text-anchor="end" fill="#1a1a1a" stroke="#1a1a1a" stroke-width="0.3">0</text>
<line x1="380.1" y1="251.36" x2="383.1" y2="251.36" stroke="#1a1a1a" stroke-width="1.0"/>
<text transform="translate(379.4 254.24)" font-size="8.0" font-weight="bold" text-anchor="end" fill="#1a1a1a" stroke="#1a1a1a" stroke-width="0.3">10</text>
<line x1="380.1" y1="237.92000000000002" x2="383.1" y2="237.92000000000002" stroke="#1a1a1a" stroke-width="1.0"/>
<text transform="translate(379.4 240.8)" font-size="8.0" font-weight="bold" text-anchor="end" fill="#1a1a1a" stroke="#1a1a1a" stroke-width="0.3">20</text>
<line x1="380.1" y1="224.48000000000002" x2="383.1" y2="224.48000000000002" stroke="#1a1a1a" stroke-width="1.0"/>
<text transform="translate(379.4 227.36)" font-size="8.0" font-weight="bold" text-anchor="end" fill="#1a1a1a" stroke="#1a1a1a" stroke-width="0.3">30</text>
<line x1="380.1" y1="211.04" x2="383.1" y2="211.04" stroke="#1a1a1a" stroke-width="1.0"/>
<text transform="translate(379.4 213.92)" font-size="8.0" font-weight="bold" text-anchor="end" fill="#1a1a1a" stroke="#1a1a1a" stroke-width="0.3">40</text>
<line x1="380.1" y1="197.6" x2="383.1" y2="197.6" stroke="#1a1a1a" stroke-width="1.0"/>
<text transform="translate(379.4 200.48)" font-size="8.0" font-weight="bold" text-anchor="end" fill="#1a1a1a" stroke="#1a1a1a" stroke-width="0.3">50</text>
<text transform="translate(399.5 273.3)" font-size="7.8" font-weight="bold" text-anchor="middle" fill="#1a1a1a" stroke="#1a1a1a" stroke-width="0.3">mock</text>
<text transform="translate(434.7 273.3)" font-size="7.8" font-weight="bold" text-anchor="middle" fill="#1a1a1a" stroke="#1a1a1a" stroke-width="0.3">CTRL</text>
<text transform="translate(434.7 281.8)" font-size="7.8" font-weight="bold" text-anchor="middle" fill="#1a1a1a" stroke="#1a1a1a" stroke-width="0.3">RNAi</text>
<text transform="translate(468.3 273.3)" font-size="7.8" font-weight="bold" text-anchor="middle" fill="#1a1a1a" stroke="#1a1a1a" stroke-width="0.3">LAMP1</text>
<text transform="translate(468.3 281.8)" font-size="7.8" font-weight="bold" text-anchor="middle" fill="#1a1a1a" stroke="#1a1a1a" stroke-width="0.3">RNAi</text>
<text transform="translate(428 197)" font-size="9.2" font-weight="bold" text-anchor="middle" fill="#1a1a1a" stroke="#1a1a1a" stroke-width="0.3">NK cells</text>
<text transform="translate(366.4 231.4) rotate(-90)" font-size="7.9" font-weight="bold" text-anchor="middle" fill="#1a1a1a" stroke="#1a1a1a" stroke-width="0.3">% conjugates</text>
<line x1="416.6" y1="264.8" x2="416.6" y2="267.8" stroke="#1a1a1a" stroke-width="1.0"/>
<line x1="450.5" y1="264.8" x2="450.5" y2="267.8" stroke="#1a1a1a" stroke-width="1.0"/>
<line x1="484.0" y1="264.8" x2="484.0" y2="267.8" stroke="#1a1a1a" stroke-width="1.0"/>
<line x1="399.7" y1="339.07439999999997" x2="399.7" y2="317.691" stroke="#1a1a1a" stroke-width="1.1"/>
<line x1="393.9" y1="317.691" x2="405.5" y2="317.691" stroke="#1a1a1a" stroke-width="1.1"/>
<rect x="388.2" y="339.07" width="23.0" height="39.23" fill="#c3c3c3" stroke="#1a1a1a" stroke-width="1.1"/>
<line x1="433.45" y1="337.9848" x2="433.45" y2="318.37199999999996" stroke="#1a1a1a" stroke-width="1.1"/>
<line x1="427.65" y1="318.37199999999996" x2="439.25" y2="318.37199999999996" stroke="#1a1a1a" stroke-width="1.1"/>
<rect x="422.0" y="337.98" width="22.899999999999977" height="40.32" fill="#c3c3c3" stroke="#1a1a1a" stroke-width="1.1"/>
<line x1="467.55" y1="335.6694" x2="467.55" y2="317.01" stroke="#1a1a1a" stroke-width="1.1"/>
<line x1="461.75" y1="317.01" x2="473.35" y2="317.01" stroke="#1a1a1a" stroke-width="1.1"/>
<rect x="456.3" y="335.67" width="22.5" height="42.63" fill="#c3c3c3" stroke="#1a1a1a" stroke-width="1.1"/>
<line x1="383.1" y1="309.7" x2="383.1" y2="378.90000000000003" stroke="#1a1a1a" stroke-width="1.3"/>
<line x1="382.5" y1="378.3" x2="484.4" y2="378.3" stroke="#1a1a1a" stroke-width="1.3"/>
<line x1="381.70000000000005" y1="371.49" x2="383.1" y2="371.49" stroke="#1a1a1a" stroke-width="0.6"/>
<line x1="381.70000000000005" y1="357.87" x2="383.1" y2="357.87" stroke="#1a1a1a" stroke-width="0.6"/>
<line x1="381.70000000000005" y1="344.25" x2="383.1" y2="344.25" stroke="#1a1a1a" stroke-width="0.6"/>
<line x1="381.70000000000005" y1="330.63" x2="383.1" y2="330.63" stroke="#1a1a1a" stroke-width="0.6"/>
<line x1="381.70000000000005" y1="317.01" x2="383.1" y2="317.01" stroke="#1a1a1a" stroke-width="0.6"/>
<line x1="380.1" y1="378.3" x2="383.1" y2="378.3" stroke="#1a1a1a" stroke-width="1.0"/>
<text transform="translate(379.4 381.18)" font-size="8.0" font-weight="bold" text-anchor="end" fill="#1a1a1a" stroke="#1a1a1a" stroke-width="0.3">0</text>
<line x1="380.1" y1="364.68" x2="383.1" y2="364.68" stroke="#1a1a1a" stroke-width="1.0"/>
<text transform="translate(379.4 367.56)" font-size="8.0" font-weight="bold" text-anchor="end" fill="#1a1a1a" stroke="#1a1a1a" stroke-width="0.3">10</text>
<line x1="380.1" y1="351.06" x2="383.1" y2="351.06" stroke="#1a1a1a" stroke-width="1.0"/>
<text transform="translate(379.4 353.94)" font-size="8.0" font-weight="bold" text-anchor="end" fill="#1a1a1a" stroke="#1a1a1a" stroke-width="0.3">20</text>
<line x1="380.1" y1="337.44" x2="383.1" y2="337.44" stroke="#1a1a1a" stroke-width="1.0"/>
<text transform="translate(379.4 340.32)" font-size="8.0" font-weight="bold" text-anchor="end" fill="#1a1a1a" stroke="#1a1a1a" stroke-width="0.3">30</text>
<line x1="380.1" y1="323.82" x2="383.1" y2="323.82" stroke="#1a1a1a" stroke-width="1.0"/>
<text transform="translate(379.4 326.7)" font-size="8.0" font-weight="bold" text-anchor="end" fill="#1a1a1a" stroke="#1a1a1a" stroke-width="0.3">40</text>
<line x1="380.1" y1="310.2" x2="383.1" y2="310.2" stroke="#1a1a1a" stroke-width="1.0"/>
<text transform="translate(379.4 313.08)" font-size="8.0" font-weight="bold" text-anchor="end" fill="#1a1a1a" stroke="#1a1a1a" stroke-width="0.3">50</text>
<text transform="translate(399.6 386.8)" font-size="7.8" font-weight="bold" text-anchor="middle" fill="#1a1a1a" stroke="#1a1a1a" stroke-width="0.3">UT</text>
<text transform="translate(433.8 386.8)" font-size="7.8" font-weight="bold" text-anchor="middle" fill="#1a1a1a" stroke="#1a1a1a" stroke-width="0.3">CTRL</text>
<text transform="translate(433.8 394.90000000000003)" font-size="7.8" font-weight="bold" text-anchor="middle" fill="#1a1a1a" stroke="#1a1a1a" stroke-width="0.3">RNAi</text>
<text transform="translate(467.8 386.8)" font-size="7.8" font-weight="bold" text-anchor="middle" fill="#1a1a1a" stroke="#1a1a1a" stroke-width="0.3">LAMP1</text>
<text transform="translate(467.8 394.90000000000003)" font-size="7.8" font-weight="bold" text-anchor="middle" fill="#1a1a1a" stroke="#1a1a1a" stroke-width="0.3">RNAi</text>
<text transform="translate(434.4 307.9)" font-size="9.2" font-weight="bold" text-anchor="middle" fill="#1a1a1a" stroke="#1a1a1a" stroke-width="0.3">YTS cells</text>
<text transform="translate(366.4 345.2) rotate(-90)" font-size="7.9" font-weight="bold" text-anchor="middle" fill="#1a1a1a" stroke="#1a1a1a" stroke-width="0.3">% conjugates</text>
<line x1="416.6" y1="378.3" x2="416.6" y2="381.3" stroke="#1a1a1a" stroke-width="1.0"/>
<line x1="450.5" y1="378.3" x2="450.5" y2="381.3" stroke="#1a1a1a" stroke-width="1.0"/>
<line x1="484.0" y1="378.3" x2="484.0" y2="381.3" stroke="#1a1a1a" stroke-width="1.0"/>
</g>
</svg></body></html>
